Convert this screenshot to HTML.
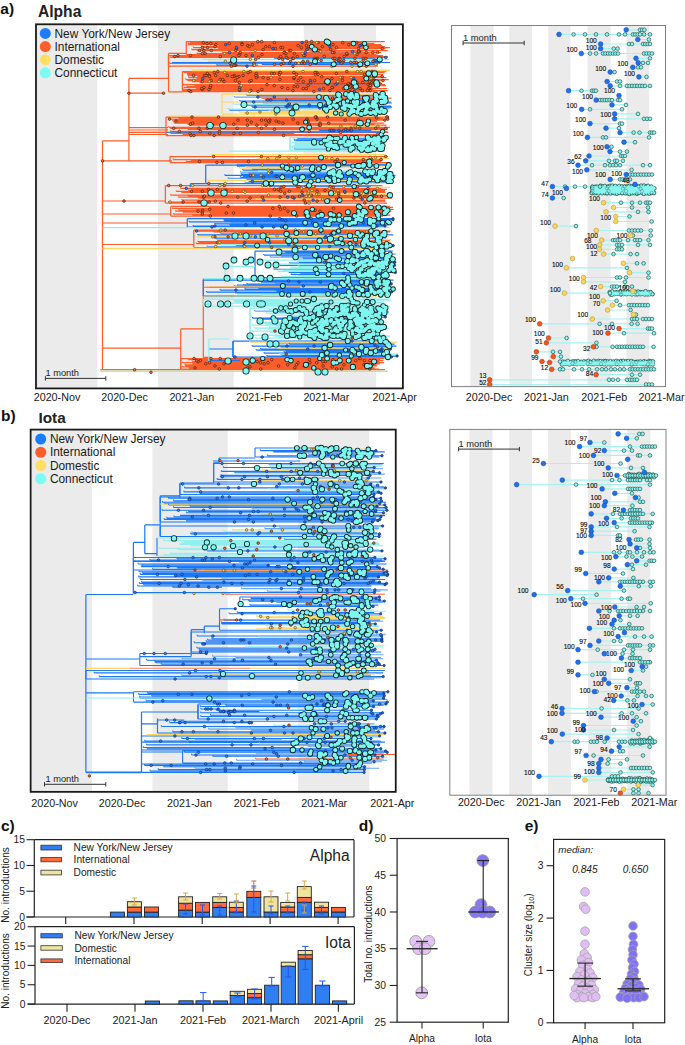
<!DOCTYPE html>
<html><head><meta charset="utf-8"><style>
html,body{margin:0;padding:0;background:#fff;width:685px;height:1045px;overflow:hidden}
svg{display:block;font-family:"Liberation Sans",sans-serif}
</style></head><body>
<svg width="685" height="1045" viewBox="0 0 685 1045" font-family="Liberation Sans, sans-serif">
<rect width="685" height="1045" fill="#fff"/>
<rect x="37.00" y="25.30" width="60.30" height="362.10" fill="#ebebeb"/>
<rect x="158.00" y="25.30" width="75.70" height="362.10" fill="#ebebeb"/>
<rect x="303.70" y="25.30" width="72.30" height="362.10" fill="#ebebeb"/>
<rect x="470.40" y="26.00" width="23.10" height="360.30" fill="#ebebeb"/>
<rect x="509.30" y="26.00" width="22.70" height="360.30" fill="#ebebeb"/>
<rect x="548.20" y="26.00" width="22.30" height="360.30" fill="#ebebeb"/>
<rect x="587.50" y="26.00" width="23.10" height="360.30" fill="#ebebeb"/>
<rect x="626.40" y="26.00" width="22.70" height="360.30" fill="#ebebeb"/>
<rect x="31.40" y="430.40" width="60.60" height="360.70" fill="#ebebeb"/>
<rect x="152.40" y="430.40" width="75.30" height="360.70" fill="#ebebeb"/>
<rect x="298.20" y="430.40" width="71.10" height="360.70" fill="#ebebeb"/>
<rect x="469.40" y="429.90" width="23.10" height="364.80" fill="#ebebeb"/>
<rect x="509.20" y="429.90" width="22.80" height="364.80" fill="#ebebeb"/>
<rect x="547.90" y="429.90" width="23.00" height="364.80" fill="#ebebeb"/>
<rect x="588.10" y="429.90" width="23.00" height="364.80" fill="#ebebeb"/>
<rect x="627.20" y="429.90" width="23.10" height="364.80" fill="#ebebeb"/>
<path d="M102.5 140.8L102.5 369.7M128.9 78.4L128.9 160.9M102.5 140.8L128.9 140.8M128.9 78.4L168.5 78.4M168.5 53.4L168.5 91.8M128.9 93.2L163.6 93.2M168.5 53.4L186.3 53.4M168.5 91.8L182.4 91.8M128.9 127.7L168.0 127.7M128.9 130.0L168.0 130.0M128.9 132.3L168.0 132.3M128.9 134.5L168.0 134.5M102.5 160.9L172.0 160.9M197.0 41.6L345.0 41.6M124.0 201.0L165.4 201.0M102.5 201.0L124.0 201.0M102.5 214.0L170.7 214.0M102.5 223.0L187.3 223.0M102.5 244.5L193.8 244.5M203.3 278.5L203.3 357.7M180.7 328.9L203.3 328.9M102.5 348.2L180.7 348.2M180.7 328.9L180.7 368.8M203.3 357.4L210.0 357.4" stroke="#fd5d2b" stroke-width="1.2" fill="none"/>
<path d="M186.3 41.6L186.3 54.5M186.3 41.6L384.6 41.6M190.1 42.6L365.4 42.6M188.4 43.6L374.2 43.6M188.1 44.6L381.1 44.6M218.4 45.6L382.2 45.6M201.2 46.6L384.8 46.6M193.2 47.6L390.0 47.6M218.3 48.5L385.6 48.5M191.8 49.5L336.1 49.5M197.2 50.5L387.8 50.5M222.4 52.5L381.2 52.5M197.1 53.5L369.6 53.5M186.3 54.5L376.5 54.5M168.5 55.5L168.5 66.2M168.5 55.5L383.0 55.5M172.4 56.5L387.7 56.5M170.3 57.4L387.8 57.4M169.6 63.3L380.4 63.3M168.5 66.2L377.9 66.2M182.4 71.5L182.4 91.5M182.4 71.5L386.4 71.5M184.1 72.5L384.6 72.5M187.9 73.5L377.9 73.5M187.4 74.5L383.1 74.5M188.0 75.5L256.7 75.5M197.6 76.5L383.8 76.5M188.5 77.5L386.5 77.5M196.9 78.5L375.1 78.5M185.8 79.5L388.7 79.5M187.6 80.5L383.6 80.5M192.3 81.5L376.8 81.5M199.8 82.5L381.0 82.5M183.0 84.5L385.0 84.5M194.8 85.5L386.1 85.5M186.8 86.5L373.0 86.5M184.1 87.5L370.4 87.5M196.2 88.5L387.2 88.5M183.2 89.5L373.2 89.5M183.0 90.5L387.7 90.5M182.4 91.5L377.5 91.5M257.9 96.0L387.0 96.0M261.6 98.0L391.5 98.0M266.1 99.0L387.1 99.0M166.0 117.0L166.0 135.5M166.0 117.0L388.6 117.0M178.5 118.0L382.8 118.0M168.7 119.1L387.9 119.1M174.2 120.1L385.4 120.1M172.8 121.1L377.0 121.1M177.0 122.1L309.9 122.1M174.1 123.2L384.3 123.2M187.6 124.2L374.7 124.2M189.7 125.2L386.5 125.2M168.8 127.3L389.9 127.3M170.2 128.3L387.9 128.3M187.8 129.3L387.8 129.3M170.4 131.4L387.5 131.4M176.1 132.4L388.3 132.4M170.9 133.4L294.2 133.4M183.0 134.5L382.5 134.5M166.0 135.5L388.1 135.5M170.0 156.5L170.0 162.5M170.0 156.5L387.8 156.5M173.3 159.5L381.1 159.5M191.0 160.5L382.4 160.5M186.2 161.5L381.2 161.5M170.0 162.5L388.9 162.5M165.4 185.5L165.4 203.0M165.4 185.5L382.4 185.5M180.7 188.4L381.4 188.4M191.6 189.4L386.9 189.4M188.5 190.4L385.0 190.4M176.2 191.3L385.0 191.3M181.4 192.3L385.5 192.3M170.6 195.2L390.4 195.2M188.1 196.2L388.0 196.2M178.5 197.2L383.1 197.2M198.2 198.1L391.9 198.1M181.9 200.1L385.2 200.1M197.2 201.1L385.3 201.1M168.6 202.0L210.2 202.0M165.4 203.0L387.2 203.0M170.7 206.4L170.7 216.0M170.7 206.4L389.9 206.4M209.6 207.4L393.1 207.4M172.4 208.3L388.5 208.3M195.9 209.3L393.5 209.3M178.8 210.2L389.1 210.2M175.6 211.2L391.4 211.2M183.0 212.2L387.3 212.2M209.9 213.1L387.9 213.1M173.5 214.1L382.8 214.1M192.5 215.0L390.3 215.0M170.7 216.0L383.0 216.0M193.8 230.0L193.8 247.5M193.8 230.0L378.8 230.0M196.1 231.0L390.6 231.0M213.7 231.9L390.2 231.9M238.4 232.9L386.7 232.9M221.0 233.9L383.0 233.9M217.8 240.7L390.1 240.7M198.0 241.7L382.2 241.7M199.0 242.6L390.7 242.6M196.3 243.6L390.1 243.6M193.8 247.5L388.4 247.5M180.7 358.5L180.7 369.0M180.7 358.5L384.5 358.5M188.2 359.6L380.0 359.6M195.7 360.6L383.4 360.6M192.3 361.6L379.5 361.6M182.6 362.7L384.1 362.7M192.7 363.8L380.1 363.8M184.9 364.8L376.5 364.8M185.7 365.9L377.1 365.9M182.2 366.9L372.3 366.9M189.0 367.9L374.7 367.9M180.7 369.0L378.9 369.0" stroke="#fd5d2b" stroke-width="1.25" fill="none"/>
<path d="M190.1 41.6L190.1 42.6M188.4 42.6L188.4 43.6M188.1 43.6L188.1 44.6M218.4 44.6L218.4 45.6M201.2 45.6L201.2 46.6M193.2 46.6L193.2 47.6M218.3 47.6L218.3 48.5M191.8 48.5L191.8 49.5M197.2 49.5L197.2 50.5M222.4 51.5L222.4 52.5M197.1 52.5L197.1 53.5M172.4 55.5L172.4 56.5M170.3 56.5L170.3 57.4M169.6 62.3L169.6 63.3M184.1 71.5L184.1 72.5M187.9 72.5L187.9 73.5M187.4 73.5L187.4 74.5M188.0 74.5L188.0 75.5M197.6 75.5L197.6 76.5M188.5 76.5L188.5 77.5M196.9 77.5L196.9 78.5M185.8 78.5L185.8 79.5M187.6 79.5L187.6 80.5M192.3 80.5L192.3 81.5M199.8 81.5L199.8 82.5M183.0 83.5L183.0 84.5M194.8 84.5L194.8 85.5M186.8 85.5L186.8 86.5M184.1 86.5L184.1 87.5M196.2 87.5L196.2 88.5M183.2 88.5L183.2 89.5M183.0 89.5L183.0 90.5M257.9 95.0L257.9 96.0M261.6 97.0L261.6 98.0M266.1 98.0L266.1 99.0M178.5 117.0L178.5 118.0M168.7 118.0L168.7 119.1M174.2 119.1L174.2 120.1M172.8 120.1L172.8 121.1M177.0 121.1L177.0 122.1M174.1 122.1L174.1 123.2M187.6 123.2L187.6 124.2M189.7 124.2L189.7 125.2M168.8 126.2L168.8 127.3M170.2 127.3L170.2 128.3M187.8 128.3L187.8 129.3M170.4 130.4L170.4 131.4M176.1 131.4L176.1 132.4M170.9 132.4L170.9 133.4M183.0 133.4L183.0 134.5M173.3 158.5L173.3 159.5M191.0 159.5L191.0 160.5M186.2 160.5L186.2 161.5M180.7 187.4L180.7 188.4M191.6 188.4L191.6 189.4M188.5 189.4L188.5 190.4M176.2 190.4L176.2 191.3M181.4 191.3L181.4 192.3M170.6 194.2L170.6 195.2M188.1 195.2L188.1 196.2M178.5 196.2L178.5 197.2M198.2 197.2L198.2 198.1M181.9 199.1L181.9 200.1M197.2 200.1L197.2 201.1M168.6 201.1L168.6 202.0M209.6 206.4L209.6 207.4M172.4 207.4L172.4 208.3M195.9 208.3L195.9 209.3M178.8 209.3L178.8 210.2M175.6 210.2L175.6 211.2M183.0 211.2L183.0 212.2M209.9 212.2L209.9 213.1M173.5 213.1L173.5 214.1M192.5 214.1L192.5 215.0M196.1 230.0L196.1 231.0M213.7 231.0L213.7 231.9M238.4 231.9L238.4 232.9M221.0 232.9L221.0 233.9M217.8 239.7L217.8 240.7M198.0 240.7L198.0 241.7M199.0 241.7L199.0 242.6M196.3 242.6L196.3 243.6M188.2 358.5L188.2 359.6M195.7 359.6L195.7 360.6M192.3 360.6L192.3 361.6M182.6 361.6L182.6 362.7M192.7 362.7L192.7 363.8M184.9 363.8L184.9 364.8M185.7 364.8L185.7 365.9M182.2 365.9L182.2 366.9M189.0 366.9L189.0 367.9" stroke="#fd5d2b" stroke-width="1.125" fill="none"/>
<path d="M310.2 50.5L310.2 51.5M234.4 96.0L234.4 97.0M262.8 102.0L262.8 103.0M281.0 107.0L281.0 108.0M293.9 138.5L293.9 139.6M240.4 171.2L240.4 172.2M248.8 172.2L248.8 173.2M228.0 177.3L228.0 178.4M245.1 181.4L245.1 182.5M231.5 221.8L231.5 222.8M216.5 237.8L216.5 238.8M207.0 245.6L207.0 246.5M281.0 253.0L281.0 254.1M280.9 255.1L280.9 256.1M270.3 256.1L270.3 257.1M296.1 258.1L296.1 259.2M273.7 268.3L273.7 269.3M300.7 272.4L300.7 273.4M275.1 282.0L275.1 283.0M243.6 284.0L243.6 285.0M234.3 285.0L234.3 286.0M254.6 310.0L254.6 311.0M275.7 342.0L275.7 343.0M269.5 344.0L269.5 345.0" stroke="#62a6f6" stroke-width="1.125" fill="none"/>
<path d="M310.2 51.5L362.7 51.5M234.4 97.0L385.0 97.0M262.8 103.0L391.7 103.0M281.0 108.0L390.7 108.0M293.9 139.6L384.8 139.6M240.4 172.2L392.4 172.2M248.8 173.2L383.6 173.2M228.0 178.4L390.6 178.4M245.1 182.5L388.3 182.5M231.5 222.8L392.6 222.8M216.5 238.8L378.6 238.8M207.0 246.5L387.2 246.5M281.0 254.1L395.9 254.1M280.9 256.1L392.4 256.1M270.3 257.1L326.3 257.1M296.1 259.2L393.7 259.2M273.7 269.3L390.6 269.3M300.7 273.4L387.8 273.4M275.1 283.0L393.1 283.0M243.6 285.0L390.8 285.0M234.3 286.0L386.7 286.0M254.6 311.0L384.8 311.0M275.7 343.0L382.9 343.0M269.5 345.0L391.8 345.0" stroke="#62a6f6" stroke-width="1.25" fill="none"/>
<path d="M274.5 57.4L274.5 58.4M261.9 63.3L261.9 64.3M216.8 64.3L216.8 65.2M294.9 82.5L294.9 83.5M246.5 94.0L246.5 95.0M265.2 99.0L265.2 100.0M239.8 100.0L239.8 101.0M243.8 101.0L243.8 102.0M240.4 104.0L240.4 105.0M284.4 105.0L284.4 106.0M252.0 106.0L252.0 107.0M229.6 109.0L229.6 110.0M319.4 129.3L319.4 130.4M297.3 137.5L297.3 138.5M294.6 139.6L294.6 140.6M294.6 147.9L294.6 149.0M236.9 165.0L236.9 166.0M252.3 168.1L252.3 169.1M242.8 169.1L242.8 170.1M241.2 173.2L241.2 174.2M224.8 174.2L224.8 175.3M243.2 175.3L243.2 176.3M240.4 176.3L240.4 177.3M246.9 178.4L246.9 179.4M248.9 180.4L248.9 181.4M270.9 185.5L270.9 186.5M224.0 218.7L224.0 219.7M224.3 219.7L224.3 220.8M189.1 220.8L189.1 221.8M214.9 222.8L214.9 223.9M229.9 223.9L229.9 224.9M193.2 224.9L193.2 226.0M197.9 233.9L197.9 234.9M214.7 236.8L214.7 237.8M236.1 244.6L236.1 245.6M285.3 251.0L285.3 252.0M278.5 252.0L278.5 253.0M263.8 254.1L263.8 255.1M303.0 257.1L303.0 258.1M299.2 261.2L299.2 262.2M289.7 262.2L289.7 263.2M279.8 264.2L279.8 265.3M289.0 271.4L289.0 272.4M291.2 273.4L291.2 274.4M256.7 280.0L256.7 281.0M261.1 281.0L261.1 282.0M247.0 283.0L247.0 284.0M258.4 287.0L258.4 288.0M245.0 288.0L245.0 289.0M220.1 289.0L220.1 290.0M276.3 290.0L276.3 291.0M206.5 291.0L206.5 292.0M235.3 292.0L235.3 293.0M278.6 311.0L278.6 312.0M290.8 316.0L290.8 317.0M252.5 317.0L252.5 318.0M259.2 318.0L259.2 319.0M288.5 319.0L288.5 320.0M289.3 343.0L289.3 344.0M252.1 345.0L252.1 346.0M280.7 346.0L280.7 347.0M260.7 348.0L260.7 349.0M256.2 349.0L256.2 350.0M285.9 350.0L285.9 351.0M284.1 351.0L284.1 352.0M264.1 352.0L264.1 353.0M281.8 354.0L281.8 355.0M266.9 355.0L266.9 356.0" stroke="#1a78f6" stroke-width="1.125" fill="none"/>
<path d="M274.5 58.4L374.6 58.4M261.9 64.3L377.8 64.3M216.8 65.2L257.9 65.2M294.9 83.5L382.1 83.5M246.5 95.0L383.5 95.0M265.2 100.0L385.9 100.0M239.8 101.0L385.9 101.0M243.8 102.0L391.3 102.0M240.4 105.0L376.5 105.0M284.4 106.0L391.1 106.0M252.0 107.0L391.9 107.0M229.6 110.0L299.8 110.0M319.4 130.4L371.4 130.4M297.3 138.5L381.3 138.5M294.6 140.6L380.1 140.6M294.6 149.0L382.8 149.0M205.7 165.0L205.7 183.5M205.7 165.0L391.2 165.0M236.9 166.0L379.1 166.0M252.3 169.1L318.8 169.1M242.8 170.1L296.4 170.1M241.2 174.2L391.4 174.2M224.8 175.3L395.5 175.3M243.2 176.3L394.8 176.3M240.4 177.3L395.1 177.3M246.9 179.4L387.2 179.4M248.9 181.4L393.8 181.4M205.7 183.5L271.7 183.5M270.9 186.5L371.1 186.5M187.3 218.7L187.3 227.0M187.3 218.7L393.0 218.7M224.0 219.7L393.0 219.7M224.3 220.8L388.1 220.8M189.1 221.8L391.4 221.8M214.9 223.9L380.6 223.9M229.9 224.9L388.3 224.9M193.2 226.0L385.0 226.0M187.3 227.0L330.6 227.0M197.9 234.9L393.2 234.9M214.7 237.8L386.0 237.8M236.1 245.6L393.2 245.6M255.0 251.0L255.0 277.5M255.0 251.0L392.8 251.0M285.3 252.0L385.7 252.0M278.5 253.0L384.5 253.0M263.8 255.1L385.9 255.1M303.0 258.1L391.0 258.1M299.2 262.2L394.8 262.2M289.7 263.2L391.8 263.2M279.8 265.3L394.5 265.3M289.0 272.4L395.4 272.4M291.2 274.4L382.2 274.4M255.0 277.5L386.1 277.5M203.3 280.0L203.3 296.0M203.3 280.0L393.6 280.0M256.7 281.0L388.5 281.0M261.1 282.0L388.4 282.0M247.0 284.0L391.1 284.0M258.4 288.0L391.0 288.0M245.0 289.0L395.2 289.0M220.1 290.0L386.4 290.0M276.3 291.0L389.9 291.0M206.5 292.0L391.6 292.0M235.3 293.0L385.8 293.0M203.3 296.0L360.8 296.0M278.6 312.0L389.0 312.0M290.8 317.0L385.3 317.0M252.5 318.0L316.7 318.0M259.2 319.0L374.8 319.0M288.5 320.0L378.8 320.0M233.0 341.0L233.0 357.0M233.0 341.0L386.4 341.0M289.3 344.0L394.5 344.0M252.1 346.0L396.4 346.0M280.7 347.0L390.7 347.0M260.7 349.0L390.4 349.0M256.2 350.0L380.6 350.0M285.9 351.0L382.1 351.0M284.1 352.0L390.0 352.0M264.1 353.0L380.5 353.0M281.8 355.0L389.7 355.0M266.9 356.0L397.1 356.0M233.0 357.0L391.4 357.0" stroke="#1a78f6" stroke-width="1.25" fill="none"/>
<path d="M203.6 58.4L203.6 59.4M304.1 59.4L304.1 60.4M233.4 103.0L233.4 104.0M228.1 108.0L228.1 109.0M292.2 141.7L292.2 142.7M295.0 142.7L295.0 143.8M294.7 143.8L294.7 144.8M293.2 144.8L293.2 145.8M292.0 145.8L292.0 146.9M292.0 146.9L292.0 147.9M258.8 170.1L258.8 171.2M220.9 243.6L220.9 244.6M259.3 259.2L259.3 260.2M296.8 260.2L296.8 261.2M269.8 263.2L269.8 264.2M298.2 265.3L298.2 266.3M291.2 266.3L291.2 267.3M289.6 267.3L289.6 268.3M282.0 269.3L282.0 270.4M277.8 270.4L277.8 271.4M297.7 274.4L297.7 275.5M281.2 275.5L281.2 276.5M236.5 293.0L236.5 294.0M261.5 294.0L261.5 295.0M233.9 299.0L233.9 300.0M234.0 300.0L234.0 301.0M235.0 301.0L235.0 302.0M223.8 302.0L223.8 303.0M241.6 303.0L241.6 304.0M249.7 304.0L249.7 305.0M294.8 308.0L294.8 309.0M270.0 309.0L270.0 310.0M266.5 312.0L266.5 313.0M299.0 313.0L299.0 314.0M272.7 314.0L272.7 315.0M292.4 315.0L292.4 316.0M283.1 320.0L283.1 321.0M258.5 321.0L258.5 322.0M261.8 322.0L261.8 323.0M265.9 323.0L265.9 324.0M252.2 324.0L252.2 325.0M276.7 325.0L276.7 326.0M269.5 326.0L269.5 327.0M254.3 327.0L254.3 328.0M268.2 328.0L268.2 329.0M289.3 329.0L289.3 330.0M252.2 330.0L252.2 331.0M269.8 331.0L269.8 332.0M278.4 332.0L278.4 333.0M294.5 333.0L294.5 334.0M252.0 334.0L252.0 335.0M273.4 335.0L273.4 336.0M279.1 336.0L279.1 337.0M280.0 353.0L280.0 354.0" stroke="#8ff0ee" stroke-width="1.125" fill="none"/>
<path d="M203.6 59.4L389.6 59.4M304.1 60.4L383.0 60.4M233.4 104.0L377.6 104.0M228.1 109.0L390.4 109.0M290.0 137.5L290.0 150.0M290.0 137.5L386.7 137.5M292.2 142.7L381.7 142.7M295.0 143.8L375.9 143.8M294.7 144.8L377.9 144.8M293.2 145.8L384.9 145.8M292.0 146.9L379.7 146.9M292.0 147.9L382.7 147.9M290.0 150.0L382.7 150.0M258.8 171.2L387.2 171.2M220.9 244.6L383.9 244.6M259.3 260.2L393.4 260.2M296.8 261.2L392.5 261.2M269.8 264.2L396.3 264.2M298.2 266.3L391.3 266.3M291.2 267.3L389.3 267.3M289.6 268.3L391.7 268.3M282.0 270.4L394.5 270.4M277.8 271.4L394.6 271.4M297.7 275.5L389.9 275.5M281.2 276.5L381.1 276.5M236.5 294.0L390.0 294.0M261.5 295.0L388.7 295.0M203.3 299.0L203.3 306.0M203.3 299.0L389.5 299.0M233.9 300.0L391.1 300.0M234.0 301.0L309.1 301.0M235.0 302.0L384.2 302.0M223.8 303.0L382.3 303.0M241.6 304.0L319.6 304.0M249.7 305.0L380.5 305.0M203.3 306.0L389.6 306.0M250.0 308.0L250.0 338.0M250.0 308.0L386.2 308.0M294.8 309.0L380.6 309.0M270.0 310.0L381.6 310.0M266.5 313.0L389.3 313.0M299.0 314.0L369.8 314.0M272.7 315.0L387.1 315.0M292.4 316.0L375.1 316.0M283.1 321.0L378.7 321.0M258.5 322.0L385.6 322.0M261.8 323.0L371.1 323.0M265.9 324.0L376.5 324.0M252.2 325.0L378.1 325.0M276.7 326.0L372.4 326.0M269.5 327.0L384.4 327.0M254.3 328.0L388.8 328.0M268.2 329.0L387.3 329.0M289.3 330.0L383.5 330.0M252.2 331.0L377.2 331.0M269.8 332.0L313.3 332.0M278.4 333.0L306.6 333.0M294.5 334.0L384.0 334.0M252.0 335.0L371.5 335.0M273.4 336.0L390.0 336.0M279.1 337.0L375.8 337.0M250.0 338.0L387.9 338.0M280.0 354.0L397.9 354.0" stroke="#8ff0ee" stroke-width="1.25" fill="none"/>
<path d="M208.6 60.4L208.6 61.3M320.0 61.3L320.0 62.3M269.6 110.0L269.6 111.0M239.2 111.0L239.2 112.0M243.9 112.0L243.9 113.0M319.0 125.2L319.0 126.2M295.4 140.6L295.4 141.7M282.1 156.5L282.1 157.5M258.8 157.5L258.8 158.5M245.9 166.0L245.9 167.1M239.5 167.1L239.5 168.1M207.5 179.4L207.5 180.4M259.0 186.5L259.0 187.4M267.9 192.3L267.9 193.3M313.7 193.3L313.7 194.2M256.0 198.1L256.0 199.1M240.7 234.9L240.7 235.8M197.6 235.8L197.6 236.8M238.0 238.8L238.0 239.7M210.1 286.0L210.1 287.0M249.9 341.0L249.9 342.0M277.4 347.0L277.4 348.0" stroke="#fcd862" stroke-width="1.125" fill="none"/>
<path d="M208.6 61.3L382.6 61.3M320.0 62.3L376.5 62.3M222.0 94.0L222.0 114.0M222.0 94.0L385.5 94.0M269.6 111.0L389.7 111.0M239.2 112.0L387.0 112.0M243.9 113.0L385.4 113.0M222.0 114.0L385.4 114.0M319.0 126.2L380.9 126.2M295.4 141.7L368.1 141.7M282.1 157.5L382.4 157.5M258.8 158.5L388.9 158.5M245.9 167.1L388.9 167.1M239.5 168.1L304.3 168.1M207.5 180.4L389.5 180.4M259.0 187.4L390.1 187.4M267.9 193.3L371.6 193.3M313.7 194.2L386.9 194.2M256.0 199.1L379.9 199.1M240.7 235.8L389.5 235.8M197.6 236.8L376.8 236.8M238.0 239.7L391.0 239.7M210.1 287.0L384.6 287.0M249.9 342.0L397.1 342.0M277.4 348.0L391.1 348.0" stroke="#fcd862" stroke-width="1.25" fill="none"/>
<path d="M172.0 62.5L390.0 62.5M190.3 183.7L205.7 183.7M190.3 183.7L190.3 187.2M237.0 285.0L390.0 285.0M208.9 349.0L233.0 349.0M233.0 341.0L233.0 357.0M208.9 360.5L240.0 360.5" stroke="#1a78f6" stroke-width="1.2" fill="none"/>
<path d="M191.5 70.4L390.0 70.4" stroke="#fcd862" stroke-width="1.6" fill="none"/>
<path d="M221.0 102.0L380.0 102.0M170.0 116.0L385.0 116.0M212.0 154.6L385.0 154.6M212.0 154.6L212.0 157.0M203.3 297.0L385.0 297.0" stroke="#fcd862" stroke-width="1.2" fill="none"/>
<path d="M166.0 132.2L385.0 132.2M236.7 164.3L390.0 164.3" stroke="#1a78f6" stroke-width="1.1" fill="none"/>
<path d="M290.0 150.0L290.0 137.5" stroke="#8ff0ee" stroke-width="1.1" fill="none"/>
<path d="M228.8 151.1L385.0 151.1M102.5 227.6L390.0 227.6M225.2 266.3L225.2 278.5M225.2 266.3L255.0 266.3M203.3 278.5L388.0 278.5M250.0 310.0L250.0 336.0M208.9 339.0L208.9 360.9M208.9 339.0L229.0 339.0" stroke="#8ff0ee" stroke-width="1.2" fill="none"/>
<path d="M102.5 248.5L388.0 248.5" stroke="#fcd862" stroke-width="1.3" fill="none"/>
<path d="M203.3 287.3L300.0 287.3" stroke="#fd5d2b" stroke-width="1.1" fill="none"/>
<path d="M100.5 369.7L385.0 369.7" stroke="#fd5d2b" stroke-width="1.3" fill="none"/>
<path d="M100.5 371.3L388.0 371.3" stroke="#c5e3a0" stroke-width="1.6" fill="none"/>
<g fill="#fd6a35" stroke="#3a1a0a" stroke-width="0.65"><circle cx="128.9" cy="93.2" r="1.30"/><circle cx="163.6" cy="93.2" r="1.30"/><circle cx="102.5" cy="160.9" r="1.30"/><circle cx="319.5" cy="50.5" r="1.30"/><circle cx="229.3" cy="43.6" r="1.30"/><circle cx="207.6" cy="47.6" r="1.30"/><circle cx="318.5" cy="50.5" r="1.30"/><circle cx="269.4" cy="46.6" r="1.30"/><circle cx="289.4" cy="50.5" r="1.30"/><circle cx="262.0" cy="54.5" r="1.30"/><circle cx="328.6" cy="44.6" r="1.30"/><circle cx="359.5" cy="51.5" r="1.30"/><circle cx="366.8" cy="47.6" r="1.30"/><circle cx="202.5" cy="47.6" r="1.30"/><circle cx="330.7" cy="49.5" r="1.30"/><circle cx="284.6" cy="52.5" r="1.30"/><circle cx="290.8" cy="50.5" r="1.30"/><circle cx="377.6" cy="52.5" r="1.30"/><circle cx="211.4" cy="50.5" r="1.30"/><circle cx="333.1" cy="44.6" r="1.30"/><circle cx="280.9" cy="47.6" r="1.30"/><circle cx="241.9" cy="43.6" r="1.30"/><circle cx="207.0" cy="43.6" r="1.30"/><circle cx="382.3" cy="48.5" r="1.30"/><circle cx="203.9" cy="50.5" r="1.30"/><circle cx="306.5" cy="41.6" r="1.30"/><circle cx="318.2" cy="42.6" r="1.30"/><circle cx="203.3" cy="42.6" r="1.30"/><circle cx="334.1" cy="52.5" r="1.30"/><circle cx="265.8" cy="46.6" r="1.30"/><circle cx="342.8" cy="42.6" r="1.30"/><circle cx="202.4" cy="53.5" r="1.30"/><circle cx="311.6" cy="41.6" r="1.30"/><circle cx="199.6" cy="50.5" r="1.30"/><circle cx="336.5" cy="47.6" r="1.30"/><circle cx="332.6" cy="52.5" r="1.30"/><circle cx="358.5" cy="48.5" r="1.30"/><circle cx="285.9" cy="53.5" r="1.30"/><circle cx="274.4" cy="42.6" r="1.30"/><circle cx="240.3" cy="52.5" r="1.30"/><circle cx="358.5" cy="51.5" r="1.30"/><circle cx="261.6" cy="41.6" r="1.30"/><circle cx="235.8" cy="50.5" r="1.30"/><circle cx="322.4" cy="46.6" r="1.30"/><circle cx="252.5" cy="44.6" r="1.30"/><circle cx="216.0" cy="44.6" r="1.30"/><circle cx="357.1" cy="54.5" r="1.30"/><circle cx="356.7" cy="42.6" r="1.30"/><circle cx="210.8" cy="43.6" r="1.30"/><circle cx="348.8" cy="44.6" r="1.30"/><circle cx="263.1" cy="49.5" r="1.30"/><circle cx="347.1" cy="54.5" r="1.30"/><circle cx="214.9" cy="46.6" r="1.30"/><circle cx="303.3" cy="54.5" r="1.30"/><circle cx="311.8" cy="45.6" r="1.30"/><circle cx="294.4" cy="53.5" r="1.30"/><circle cx="282.7" cy="47.6" r="1.30"/><circle cx="239.7" cy="54.5" r="1.30"/><circle cx="205.2" cy="53.5" r="1.30"/><circle cx="236.5" cy="48.5" r="1.30"/><circle cx="247.7" cy="45.6" r="1.30"/><circle cx="307.7" cy="48.5" r="1.30"/><circle cx="242.0" cy="44.6" r="1.30"/><circle cx="372.8" cy="52.5" r="1.30"/><circle cx="366.3" cy="52.5" r="1.30"/><circle cx="284.0" cy="52.5" r="1.30"/><circle cx="301.4" cy="47.6" r="1.30"/><circle cx="358.7" cy="51.5" r="1.30"/><circle cx="306.3" cy="45.6" r="1.30"/><circle cx="249.3" cy="46.6" r="1.30"/><circle cx="257.8" cy="41.6" r="1.30"/><circle cx="275.5" cy="48.5" r="1.30"/><circle cx="298.2" cy="45.6" r="1.30"/><circle cx="346.7" cy="53.5" r="1.30"/><circle cx="304.4" cy="63.3" r="1.30"/><circle cx="366.0" cy="58.4" r="1.30"/><circle cx="375.3" cy="60.4" r="1.30"/><circle cx="374.4" cy="60.4" r="1.30"/><circle cx="363.3" cy="58.4" r="1.30"/><circle cx="287.8" cy="58.4" r="1.30"/><circle cx="303.1" cy="61.3" r="1.30"/><circle cx="314.8" cy="58.4" r="1.30"/><circle cx="190.5" cy="55.5" r="1.30"/><circle cx="324.2" cy="56.5" r="1.30"/><circle cx="343.8" cy="60.4" r="1.30"/><circle cx="354.8" cy="58.4" r="1.30"/><circle cx="178.0" cy="55.5" r="1.30"/><circle cx="360.5" cy="63.3" r="1.30"/><circle cx="293.0" cy="58.4" r="1.30"/><circle cx="297.3" cy="56.5" r="1.30"/><circle cx="235.8" cy="65.2" r="1.30"/><circle cx="335.0" cy="60.4" r="1.30"/><circle cx="338.1" cy="60.4" r="1.30"/><circle cx="305.0" cy="55.5" r="1.30"/><circle cx="292.6" cy="58.4" r="1.30"/><circle cx="281.1" cy="64.3" r="1.30"/><circle cx="238.9" cy="55.5" r="1.30"/><circle cx="307.7" cy="61.3" r="1.30"/><circle cx="255.6" cy="59.4" r="1.30"/><circle cx="231.7" cy="61.3" r="1.30"/><circle cx="316.2" cy="63.3" r="1.30"/><circle cx="258.6" cy="57.4" r="1.30"/><circle cx="344.1" cy="56.5" r="1.30"/><circle cx="174.7" cy="56.5" r="1.30"/><circle cx="253.9" cy="65.2" r="1.30"/><circle cx="379.3" cy="59.4" r="1.30"/><circle cx="321.2" cy="60.4" r="1.30"/><circle cx="286.3" cy="57.4" r="1.30"/><circle cx="356.3" cy="62.3" r="1.30"/><circle cx="379.1" cy="61.3" r="1.30"/><circle cx="274.5" cy="64.3" r="1.30"/><circle cx="342.7" cy="62.3" r="1.30"/><circle cx="339.3" cy="58.4" r="1.30"/><circle cx="283.7" cy="63.3" r="1.30"/><circle cx="235.1" cy="65.2" r="1.30"/><circle cx="295.7" cy="63.3" r="1.30"/><circle cx="290.6" cy="61.3" r="1.30"/><circle cx="350.7" cy="62.3" r="1.30"/><circle cx="373.0" cy="61.3" r="1.30"/><circle cx="253.9" cy="63.3" r="1.30"/><circle cx="230.1" cy="63.3" r="1.30"/><circle cx="365.6" cy="63.3" r="1.30"/><circle cx="231.5" cy="66.2" r="1.30"/><circle cx="333.1" cy="58.4" r="1.30"/><circle cx="339.9" cy="61.3" r="1.30"/><circle cx="363.2" cy="60.4" r="1.30"/><circle cx="366.3" cy="66.2" r="1.30"/><circle cx="317.5" cy="58.4" r="1.30"/><circle cx="279.0" cy="58.4" r="1.30"/><circle cx="359.1" cy="66.2" r="1.30"/><circle cx="334.9" cy="58.4" r="1.30"/><circle cx="310.3" cy="64.3" r="1.30"/><circle cx="246.0" cy="55.5" r="1.30"/><circle cx="339.1" cy="60.4" r="1.30"/><circle cx="354.0" cy="62.3" r="1.30"/><circle cx="234.0" cy="65.2" r="1.30"/><circle cx="341.5" cy="63.3" r="1.30"/><circle cx="340.2" cy="59.4" r="1.30"/><circle cx="280.7" cy="56.5" r="1.30"/><circle cx="301.5" cy="63.3" r="1.30"/><circle cx="317.0" cy="59.4" r="1.30"/><circle cx="293.0" cy="66.2" r="1.30"/><circle cx="293.5" cy="58.4" r="1.30"/><circle cx="303.8" cy="55.5" r="1.30"/><circle cx="282.7" cy="59.4" r="1.30"/><circle cx="220.3" cy="56.5" r="1.30"/><circle cx="190.7" cy="91.5" r="1.30"/><circle cx="346.8" cy="71.5" r="1.30"/><circle cx="368.2" cy="84.5" r="1.30"/><circle cx="382.1" cy="76.5" r="1.30"/><circle cx="257.4" cy="76.5" r="1.30"/><circle cx="279.6" cy="72.5" r="1.30"/><circle cx="314.6" cy="80.5" r="1.30"/><circle cx="367.4" cy="76.5" r="1.30"/><circle cx="248.1" cy="72.5" r="1.30"/><circle cx="239.2" cy="82.5" r="1.30"/><circle cx="297.5" cy="86.5" r="1.30"/><circle cx="364.1" cy="76.5" r="1.30"/><circle cx="287.8" cy="88.5" r="1.30"/><circle cx="374.6" cy="83.5" r="1.30"/><circle cx="343.6" cy="88.5" r="1.30"/><circle cx="268.1" cy="78.5" r="1.30"/><circle cx="243.1" cy="75.5" r="1.30"/><circle cx="332.5" cy="87.5" r="1.30"/><circle cx="316.6" cy="72.5" r="1.30"/><circle cx="347.2" cy="85.5" r="1.30"/><circle cx="362.4" cy="90.5" r="1.30"/><circle cx="210.2" cy="87.5" r="1.30"/><circle cx="239.8" cy="90.5" r="1.30"/><circle cx="227.3" cy="75.5" r="1.30"/><circle cx="193.6" cy="75.5" r="1.30"/><circle cx="203.9" cy="87.5" r="1.30"/><circle cx="210.7" cy="85.5" r="1.30"/><circle cx="360.0" cy="88.5" r="1.30"/><circle cx="336.4" cy="73.5" r="1.30"/><circle cx="293.9" cy="72.5" r="1.30"/><circle cx="249.6" cy="81.5" r="1.30"/><circle cx="383.1" cy="80.5" r="1.30"/><circle cx="256.3" cy="73.5" r="1.30"/><circle cx="318.1" cy="74.5" r="1.30"/><circle cx="315.4" cy="74.5" r="1.30"/><circle cx="357.0" cy="83.5" r="1.30"/><circle cx="298.2" cy="80.5" r="1.30"/><circle cx="367.0" cy="77.5" r="1.30"/><circle cx="258.0" cy="91.5" r="1.30"/><circle cx="374.6" cy="80.5" r="1.30"/><circle cx="323.6" cy="88.5" r="1.30"/><circle cx="263.1" cy="77.5" r="1.30"/><circle cx="372.8" cy="80.5" r="1.30"/><circle cx="207.3" cy="73.5" r="1.30"/><circle cx="234.6" cy="75.5" r="1.30"/><circle cx="233.6" cy="76.5" r="1.30"/><circle cx="308.2" cy="85.5" r="1.30"/><circle cx="267.0" cy="84.5" r="1.30"/><circle cx="370.5" cy="84.5" r="1.30"/><circle cx="189.1" cy="90.5" r="1.30"/><circle cx="373.5" cy="81.5" r="1.30"/><circle cx="292.9" cy="90.5" r="1.30"/><circle cx="256.3" cy="77.5" r="1.30"/><circle cx="296.5" cy="74.5" r="1.30"/><circle cx="329.9" cy="90.5" r="1.30"/><circle cx="368.7" cy="88.5" r="1.30"/><circle cx="310.7" cy="82.5" r="1.30"/><circle cx="370.1" cy="87.5" r="1.30"/><circle cx="300.8" cy="77.5" r="1.30"/><circle cx="342.3" cy="77.5" r="1.30"/><circle cx="294.1" cy="86.5" r="1.30"/><circle cx="279.8" cy="79.5" r="1.30"/><circle cx="204.4" cy="75.5" r="1.30"/><circle cx="303.3" cy="88.5" r="1.30"/><circle cx="220.2" cy="79.5" r="1.30"/><circle cx="303.3" cy="81.5" r="1.30"/><circle cx="332.0" cy="78.5" r="1.30"/><circle cx="232.2" cy="76.5" r="1.30"/><circle cx="274.3" cy="73.5" r="1.30"/><circle cx="209.1" cy="75.5" r="1.30"/><circle cx="348.5" cy="83.5" r="1.30"/><circle cx="217.8" cy="71.5" r="1.30"/><circle cx="214.4" cy="72.5" r="1.30"/><circle cx="261.9" cy="89.5" r="1.30"/><circle cx="206.1" cy="75.5" r="1.30"/><circle cx="202.2" cy="81.5" r="1.30"/><circle cx="215.7" cy="75.5" r="1.30"/><circle cx="279.4" cy="74.5" r="1.30"/><circle cx="370.2" cy="90.5" r="1.30"/><circle cx="335.6" cy="84.5" r="1.30"/><circle cx="350.2" cy="84.5" r="1.30"/><circle cx="364.6" cy="74.5" r="1.30"/><circle cx="282.0" cy="87.5" r="1.30"/><circle cx="250.3" cy="71.5" r="1.30"/><circle cx="367.5" cy="90.5" r="1.30"/><circle cx="250.9" cy="90.5" r="1.30"/><circle cx="350.1" cy="89.5" r="1.30"/><circle cx="280.5" cy="72.5" r="1.30"/><circle cx="294.0" cy="78.5" r="1.30"/><circle cx="356.8" cy="82.5" r="1.30"/><circle cx="238.9" cy="76.5" r="1.30"/><circle cx="209.0" cy="89.5" r="1.30"/><circle cx="332.1" cy="87.5" r="1.30"/><circle cx="306.2" cy="88.5" r="1.30"/><circle cx="235.4" cy="80.5" r="1.30"/><circle cx="224.1" cy="81.5" r="1.30"/><circle cx="350.8" cy="85.5" r="1.30"/><circle cx="325.2" cy="82.5" r="1.30"/><circle cx="251.2" cy="80.5" r="1.30"/><circle cx="350.4" cy="86.5" r="1.30"/><circle cx="362.7" cy="82.5" r="1.30"/><circle cx="294.0" cy="77.5" r="1.30"/><circle cx="315.1" cy="72.5" r="1.30"/><circle cx="369.7" cy="81.5" r="1.30"/><circle cx="327.9" cy="84.5" r="1.30"/><circle cx="274.2" cy="85.5" r="1.30"/><circle cx="211.2" cy="80.5" r="1.30"/><circle cx="222.7" cy="79.5" r="1.30"/><circle cx="342.5" cy="80.5" r="1.30"/><circle cx="349.1" cy="87.5" r="1.30"/><circle cx="321.8" cy="76.5" r="1.30"/><circle cx="313.9" cy="91.5" r="1.30"/><circle cx="271.6" cy="73.5" r="1.30"/><circle cx="353.3" cy="87.5" r="1.30"/><circle cx="239.3" cy="89.5" r="1.30"/><circle cx="202.3" cy="89.5" r="1.30"/><circle cx="237.2" cy="77.5" r="1.30"/><circle cx="201.7" cy="88.5" r="1.30"/><circle cx="255.9" cy="75.5" r="1.30"/><circle cx="370.1" cy="85.5" r="1.30"/><circle cx="372.2" cy="71.5" r="1.30"/><circle cx="209.6" cy="76.5" r="1.30"/><circle cx="292.9" cy="109.0" r="1.30"/><circle cx="293.4" cy="109.0" r="1.30"/><circle cx="289.4" cy="104.0" r="1.30"/><circle cx="332.6" cy="98.0" r="1.30"/><circle cx="355.5" cy="127.3" r="1.30"/><circle cx="319.3" cy="125.2" r="1.30"/><circle cx="320.1" cy="123.2" r="1.30"/><circle cx="278.9" cy="122.1" r="1.30"/><circle cx="269.2" cy="122.1" r="1.30"/><circle cx="179.4" cy="131.4" r="1.30"/><circle cx="212.6" cy="125.2" r="1.30"/><circle cx="303.0" cy="128.3" r="1.30"/><circle cx="237.1" cy="128.3" r="1.30"/><circle cx="387.4" cy="117.0" r="1.30"/><circle cx="328.8" cy="123.2" r="1.30"/><circle cx="359.7" cy="128.3" r="1.30"/><circle cx="307.0" cy="119.1" r="1.30"/><circle cx="276.2" cy="121.1" r="1.30"/><circle cx="247.3" cy="120.1" r="1.30"/><circle cx="193.9" cy="135.5" r="1.30"/><circle cx="358.5" cy="120.1" r="1.30"/><circle cx="317.0" cy="119.1" r="1.30"/><circle cx="219.4" cy="131.4" r="1.30"/><circle cx="258.4" cy="132.4" r="1.30"/><circle cx="309.2" cy="131.4" r="1.30"/><circle cx="261.4" cy="128.3" r="1.30"/><circle cx="247.4" cy="125.2" r="1.30"/><circle cx="316.2" cy="117.0" r="1.30"/><circle cx="190.5" cy="124.2" r="1.30"/><circle cx="198.9" cy="128.3" r="1.30"/><circle cx="266.1" cy="125.2" r="1.30"/><circle cx="256.9" cy="125.2" r="1.30"/><circle cx="191.0" cy="135.5" r="1.30"/><circle cx="269.9" cy="120.1" r="1.30"/><circle cx="192.6" cy="123.2" r="1.30"/><circle cx="173.7" cy="128.3" r="1.30"/><circle cx="327.5" cy="117.0" r="1.30"/><circle cx="385.7" cy="128.3" r="1.30"/><circle cx="315.3" cy="117.0" r="1.30"/><circle cx="268.6" cy="121.1" r="1.30"/><circle cx="207.3" cy="128.3" r="1.30"/><circle cx="209.8" cy="133.4" r="1.30"/><circle cx="376.7" cy="118.0" r="1.30"/><circle cx="386.9" cy="117.0" r="1.30"/><circle cx="274.5" cy="129.3" r="1.30"/><circle cx="309.3" cy="124.2" r="1.30"/><circle cx="384.9" cy="120.1" r="1.30"/><circle cx="387.8" cy="119.1" r="1.30"/><circle cx="345.8" cy="129.3" r="1.30"/><circle cx="282.9" cy="123.2" r="1.30"/><circle cx="214.1" cy="135.5" r="1.30"/><circle cx="351.0" cy="128.3" r="1.30"/><circle cx="219.5" cy="133.4" r="1.30"/><circle cx="169.5" cy="119.1" r="1.30"/><circle cx="320.3" cy="125.2" r="1.30"/><circle cx="340.7" cy="132.4" r="1.30"/><circle cx="265.7" cy="120.1" r="1.30"/><circle cx="176.0" cy="121.1" r="1.30"/><circle cx="375.8" cy="128.3" r="1.30"/><circle cx="192.0" cy="117.0" r="1.30"/><circle cx="377.4" cy="134.5" r="1.30"/><circle cx="237.9" cy="120.1" r="1.30"/><circle cx="240.4" cy="133.4" r="1.30"/><circle cx="293.2" cy="119.1" r="1.30"/><circle cx="308.1" cy="121.1" r="1.30"/><circle cx="234.0" cy="133.4" r="1.30"/><circle cx="233.8" cy="124.2" r="1.30"/><circle cx="297.8" cy="123.2" r="1.30"/><circle cx="251.2" cy="122.1" r="1.30"/><circle cx="200.3" cy="131.4" r="1.30"/><circle cx="345.2" cy="120.1" r="1.30"/><circle cx="190.0" cy="133.4" r="1.30"/><circle cx="283.6" cy="135.5" r="1.30"/><circle cx="261.5" cy="120.1" r="1.30"/><circle cx="218.5" cy="117.0" r="1.30"/><circle cx="359.2" cy="146.9" r="1.30"/><circle cx="365.3" cy="147.9" r="1.30"/><circle cx="335.1" cy="161.5" r="1.30"/><circle cx="261.4" cy="156.5" r="1.30"/><circle cx="385.7" cy="156.5" r="1.30"/><circle cx="381.1" cy="159.5" r="1.30"/><circle cx="337.4" cy="159.5" r="1.30"/><circle cx="222.4" cy="162.5" r="1.30"/><circle cx="216.9" cy="162.5" r="1.30"/><circle cx="199.5" cy="161.5" r="1.30"/><circle cx="369.7" cy="162.5" r="1.30"/><circle cx="279.7" cy="156.5" r="1.30"/><circle cx="371.6" cy="159.5" r="1.30"/><circle cx="363.3" cy="159.5" r="1.30"/><circle cx="248.5" cy="161.5" r="1.30"/><circle cx="213.6" cy="156.5" r="1.30"/><circle cx="326.8" cy="179.4" r="1.30"/><circle cx="208.8" cy="183.5" r="1.30"/><circle cx="282.3" cy="175.3" r="1.30"/><circle cx="288.4" cy="165.0" r="1.30"/><circle cx="250.5" cy="175.3" r="1.30"/><circle cx="359.3" cy="175.3" r="1.30"/><circle cx="287.2" cy="170.1" r="1.30"/><circle cx="276.0" cy="176.3" r="1.30"/><circle cx="124.0" cy="201.0" r="1.30"/><circle cx="357.6" cy="186.5" r="1.30"/><circle cx="302.0" cy="192.3" r="1.30"/><circle cx="317.1" cy="191.3" r="1.30"/><circle cx="325.1" cy="190.4" r="1.30"/><circle cx="369.9" cy="197.2" r="1.30"/><circle cx="180.6" cy="185.5" r="1.30"/><circle cx="203.5" cy="197.2" r="1.30"/><circle cx="299.5" cy="196.2" r="1.30"/><circle cx="280.7" cy="191.3" r="1.30"/><circle cx="305.4" cy="203.0" r="1.30"/><circle cx="329.2" cy="200.1" r="1.30"/><circle cx="283.9" cy="186.5" r="1.30"/><circle cx="306.0" cy="186.5" r="1.30"/><circle cx="284.7" cy="193.3" r="1.30"/><circle cx="208.5" cy="189.4" r="1.30"/><circle cx="330.2" cy="186.5" r="1.30"/><circle cx="226.1" cy="190.4" r="1.30"/><circle cx="191.6" cy="191.3" r="1.30"/><circle cx="281.1" cy="187.4" r="1.30"/><circle cx="262.3" cy="197.2" r="1.30"/><circle cx="215.3" cy="201.1" r="1.30"/><circle cx="370.1" cy="198.1" r="1.30"/><circle cx="237.8" cy="197.2" r="1.30"/><circle cx="372.9" cy="196.2" r="1.30"/><circle cx="297.3" cy="186.5" r="1.30"/><circle cx="338.8" cy="195.2" r="1.30"/><circle cx="364.8" cy="203.0" r="1.30"/><circle cx="367.5" cy="193.3" r="1.30"/><circle cx="280.1" cy="197.2" r="1.30"/><circle cx="314.4" cy="186.5" r="1.30"/><circle cx="224.3" cy="185.5" r="1.30"/><circle cx="289.4" cy="191.3" r="1.30"/><circle cx="292.4" cy="197.2" r="1.30"/><circle cx="311.6" cy="195.2" r="1.30"/><circle cx="317.1" cy="201.1" r="1.30"/><circle cx="345.0" cy="192.3" r="1.30"/><circle cx="250.1" cy="198.1" r="1.30"/><circle cx="202.4" cy="191.3" r="1.30"/><circle cx="199.0" cy="202.0" r="1.30"/><circle cx="381.6" cy="196.2" r="1.30"/><circle cx="368.0" cy="188.4" r="1.30"/><circle cx="338.8" cy="193.3" r="1.30"/><circle cx="376.2" cy="196.2" r="1.30"/><circle cx="270.1" cy="185.5" r="1.30"/><circle cx="203.4" cy="203.0" r="1.30"/><circle cx="183.1" cy="202.0" r="1.30"/><circle cx="371.7" cy="196.2" r="1.30"/><circle cx="364.8" cy="196.2" r="1.30"/><circle cx="220.8" cy="203.0" r="1.30"/><circle cx="209.2" cy="202.0" r="1.30"/><circle cx="360.0" cy="194.2" r="1.30"/><circle cx="304.2" cy="200.1" r="1.30"/><circle cx="247.2" cy="201.1" r="1.30"/><circle cx="353.9" cy="198.1" r="1.30"/><circle cx="204.3" cy="196.2" r="1.30"/><circle cx="278.3" cy="189.4" r="1.30"/><circle cx="336.5" cy="199.1" r="1.30"/><circle cx="360.3" cy="197.2" r="1.30"/><circle cx="168.7" cy="185.5" r="1.30"/><circle cx="217.4" cy="189.4" r="1.30"/><circle cx="333.3" cy="187.4" r="1.30"/><circle cx="299.1" cy="186.5" r="1.30"/><circle cx="274.5" cy="189.4" r="1.30"/><circle cx="233.5" cy="213.1" r="1.30"/><circle cx="320.1" cy="211.2" r="1.30"/><circle cx="284.6" cy="208.3" r="1.30"/><circle cx="347.7" cy="212.2" r="1.30"/><circle cx="305.2" cy="215.0" r="1.30"/><circle cx="226.3" cy="213.1" r="1.30"/><circle cx="333.5" cy="208.3" r="1.30"/><circle cx="380.3" cy="208.3" r="1.30"/><circle cx="202.7" cy="210.2" r="1.30"/><circle cx="272.9" cy="208.3" r="1.30"/><circle cx="306.0" cy="215.0" r="1.30"/><circle cx="336.3" cy="216.0" r="1.30"/><circle cx="198.0" cy="211.2" r="1.30"/><circle cx="349.0" cy="211.2" r="1.30"/><circle cx="279.3" cy="206.4" r="1.30"/><circle cx="202.1" cy="212.2" r="1.30"/><circle cx="209.7" cy="209.3" r="1.30"/><circle cx="315.1" cy="210.2" r="1.30"/><circle cx="296.7" cy="216.0" r="1.30"/><circle cx="210.4" cy="216.0" r="1.30"/><circle cx="287.9" cy="211.2" r="1.30"/><circle cx="280.5" cy="209.3" r="1.30"/><circle cx="228.1" cy="206.4" r="1.30"/><circle cx="270.3" cy="216.0" r="1.30"/><circle cx="202.3" cy="214.1" r="1.30"/><circle cx="225.2" cy="230.0" r="1.30"/><circle cx="244.0" cy="245.6" r="1.30"/><circle cx="214.9" cy="236.8" r="1.30"/><circle cx="271.6" cy="247.5" r="1.30"/><circle cx="228.1" cy="236.8" r="1.30"/><circle cx="266.5" cy="237.8" r="1.30"/><circle cx="294.1" cy="243.6" r="1.30"/><circle cx="331.1" cy="233.9" r="1.30"/><circle cx="377.7" cy="247.5" r="1.30"/><circle cx="217.4" cy="242.6" r="1.30"/><circle cx="325.8" cy="261.2" r="1.30"/><circle cx="366.0" cy="260.2" r="1.30"/><circle cx="295.4" cy="333.0" r="1.30"/><circle cx="350.6" cy="324.0" r="1.30"/><circle cx="299.2" cy="310.0" r="1.30"/><circle cx="274.9" cy="331.0" r="1.30"/><circle cx="352.1" cy="338.0" r="1.30"/><circle cx="302.7" cy="332.0" r="1.30"/><circle cx="286.2" cy="354.0" r="1.30"/><circle cx="325.4" cy="361.6" r="1.30"/><circle cx="372.0" cy="364.8" r="1.30"/><circle cx="341.6" cy="369.0" r="1.30"/><circle cx="369.8" cy="369.0" r="1.30"/><circle cx="228.6" cy="361.6" r="1.30"/><circle cx="257.2" cy="361.6" r="1.30"/><circle cx="271.8" cy="359.6" r="1.30"/><circle cx="359.4" cy="358.5" r="1.30"/><circle cx="209.6" cy="362.7" r="1.30"/><circle cx="309.9" cy="362.7" r="1.30"/><circle cx="219.3" cy="369.0" r="1.30"/><circle cx="298.1" cy="362.7" r="1.30"/><circle cx="264.2" cy="363.8" r="1.30"/><circle cx="250.0" cy="366.9" r="1.30"/><circle cx="323.1" cy="365.9" r="1.30"/><circle cx="230.3" cy="361.6" r="1.30"/><circle cx="223.9" cy="363.8" r="1.30"/><circle cx="322.9" cy="361.6" r="1.30"/><circle cx="215.0" cy="365.9" r="1.30"/><circle cx="364.0" cy="364.8" r="1.30"/><circle cx="296.5" cy="364.8" r="1.30"/><circle cx="370.0" cy="360.6" r="1.30"/><circle cx="375.5" cy="361.6" r="1.30"/><circle cx="278.5" cy="365.9" r="1.30"/><circle cx="195.0" cy="367.9" r="1.30"/><circle cx="268.0" cy="362.7" r="1.30"/><circle cx="304.3" cy="365.9" r="1.30"/><circle cx="200.3" cy="360.6" r="1.30"/><circle cx="211.0" cy="358.5" r="1.30"/><circle cx="336.7" cy="369.0" r="1.30"/><circle cx="247.4" cy="367.9" r="1.30"/><circle cx="260.4" cy="362.7" r="1.30"/><circle cx="294.8" cy="367.9" r="1.30"/><circle cx="364.4" cy="360.6" r="1.30"/><circle cx="260.7" cy="369.0" r="1.30"/><circle cx="316.7" cy="362.7" r="1.30"/><circle cx="355.7" cy="360.6" r="1.30"/><circle cx="205.8" cy="363.8" r="1.30"/><circle cx="287.7" cy="364.8" r="1.30"/><circle cx="252.3" cy="358.5" r="1.30"/><circle cx="309.3" cy="359.6" r="1.30"/><circle cx="198.1" cy="361.6" r="1.30"/><circle cx="196.6" cy="360.6" r="1.30"/><circle cx="332.2" cy="366.9" r="1.30"/><circle cx="220.2" cy="358.5" r="1.30"/><circle cx="351.7" cy="366.9" r="1.30"/><circle cx="333.0" cy="359.6" r="1.30"/><circle cx="360.2" cy="358.5" r="1.30"/><circle cx="307.3" cy="364.8" r="1.30"/><circle cx="194.1" cy="358.5" r="1.30"/><circle cx="343.9" cy="364.8" r="1.30"/><circle cx="134.6" cy="369.7" r="1.30"/><circle cx="151.0" cy="372.3" r="1.30"/></g>
<g fill="#2b7bf5" stroke="#0d2f70" stroke-width="0.65"><circle cx="360.0" cy="45.6" r="1.30"/><circle cx="225.8" cy="44.6" r="1.30"/><circle cx="305.3" cy="52.5" r="1.30"/><circle cx="329.9" cy="46.6" r="1.30"/><circle cx="229.5" cy="52.5" r="1.30"/><circle cx="302.2" cy="42.6" r="1.30"/><circle cx="236.4" cy="47.6" r="1.30"/><circle cx="352.5" cy="51.5" r="1.30"/><circle cx="306.8" cy="49.5" r="1.30"/><circle cx="272.9" cy="48.5" r="1.30"/><circle cx="362.0" cy="44.6" r="1.30"/><circle cx="376.0" cy="60.4" r="1.30"/><circle cx="385.7" cy="57.4" r="1.30"/><circle cx="247.0" cy="66.2" r="1.30"/><circle cx="289.5" cy="63.3" r="1.30"/><circle cx="252.3" cy="55.5" r="1.30"/><circle cx="239.8" cy="87.5" r="1.30"/><circle cx="310.4" cy="80.5" r="1.30"/><circle cx="373.8" cy="76.5" r="1.30"/><circle cx="202.7" cy="78.5" r="1.30"/><circle cx="337.0" cy="83.5" r="1.30"/><circle cx="319.5" cy="89.5" r="1.30"/><circle cx="353.7" cy="78.5" r="1.30"/><circle cx="354.4" cy="91.5" r="1.30"/><circle cx="375.4" cy="97.0" r="1.30"/><circle cx="287.1" cy="107.0" r="1.30"/><circle cx="309.2" cy="105.0" r="1.30"/><circle cx="363.4" cy="102.0" r="1.30"/><circle cx="325.7" cy="105.0" r="1.30"/><circle cx="319.8" cy="108.0" r="1.30"/><circle cx="253.7" cy="102.0" r="1.30"/><circle cx="274.3" cy="97.0" r="1.30"/><circle cx="354.7" cy="100.0" r="1.30"/><circle cx="270.8" cy="100.0" r="1.30"/><circle cx="286.6" cy="100.0" r="1.30"/><circle cx="257.9" cy="97.0" r="1.30"/><circle cx="288.0" cy="105.0" r="1.30"/><circle cx="255.1" cy="107.0" r="1.30"/><circle cx="338.1" cy="106.0" r="1.30"/><circle cx="294.5" cy="106.0" r="1.30"/><circle cx="267.7" cy="100.0" r="1.30"/><circle cx="329.8" cy="130.4" r="1.30"/><circle cx="338.9" cy="130.4" r="1.30"/><circle cx="333.9" cy="130.4" r="1.30"/><circle cx="331.6" cy="130.4" r="1.30"/><circle cx="350.7" cy="130.4" r="1.30"/><circle cx="347.3" cy="130.4" r="1.30"/><circle cx="343.7" cy="130.4" r="1.30"/><circle cx="351.5" cy="130.4" r="1.30"/><circle cx="328.3" cy="180.4" r="1.30"/><circle cx="337.9" cy="178.4" r="1.30"/><circle cx="308.8" cy="176.3" r="1.30"/><circle cx="368.8" cy="176.3" r="1.30"/><circle cx="252.4" cy="181.4" r="1.30"/><circle cx="263.4" cy="177.3" r="1.30"/><circle cx="271.8" cy="172.2" r="1.30"/><circle cx="337.0" cy="167.1" r="1.30"/><circle cx="292.7" cy="171.2" r="1.30"/><circle cx="277.1" cy="176.3" r="1.30"/><circle cx="313.2" cy="172.2" r="1.30"/><circle cx="313.1" cy="200.1" r="1.30"/><circle cx="294.1" cy="198.1" r="1.30"/><circle cx="186.3" cy="188.4" r="1.30"/><circle cx="302.8" cy="195.2" r="1.30"/><circle cx="344.6" cy="191.3" r="1.30"/><circle cx="362.2" cy="199.1" r="1.30"/><circle cx="287.6" cy="197.2" r="1.30"/><circle cx="263.6" cy="200.1" r="1.30"/><circle cx="279.5" cy="218.7" r="1.30"/><circle cx="212.0" cy="227.0" r="1.30"/><circle cx="245.9" cy="224.9" r="1.30"/><circle cx="281.6" cy="227.0" r="1.30"/><circle cx="282.1" cy="219.7" r="1.30"/><circle cx="312.5" cy="222.8" r="1.30"/><circle cx="334.7" cy="220.8" r="1.30"/><circle cx="377.0" cy="226.0" r="1.30"/><circle cx="262.1" cy="227.0" r="1.30"/><circle cx="358.9" cy="218.7" r="1.30"/><circle cx="273.7" cy="227.0" r="1.30"/><circle cx="311.3" cy="218.7" r="1.30"/><circle cx="285.8" cy="220.8" r="1.30"/><circle cx="371.3" cy="220.8" r="1.30"/><circle cx="254.7" cy="222.8" r="1.30"/><circle cx="214.8" cy="226.0" r="1.30"/><circle cx="363.5" cy="222.8" r="1.30"/><circle cx="269.5" cy="242.6" r="1.30"/><circle cx="255.4" cy="236.8" r="1.30"/><circle cx="370.1" cy="244.6" r="1.30"/><circle cx="295.8" cy="246.5" r="1.30"/><circle cx="196.6" cy="231.0" r="1.30"/><circle cx="244.8" cy="242.6" r="1.30"/><circle cx="325.7" cy="236.8" r="1.30"/><circle cx="288.8" cy="244.6" r="1.30"/><circle cx="324.9" cy="237.8" r="1.30"/><circle cx="331.0" cy="234.9" r="1.30"/><circle cx="356.0" cy="244.6" r="1.30"/><circle cx="339.2" cy="238.8" r="1.30"/><circle cx="350.7" cy="235.8" r="1.30"/><circle cx="321.4" cy="231.9" r="1.30"/><circle cx="329.6" cy="246.5" r="1.30"/><circle cx="317.1" cy="258.1" r="1.30"/><circle cx="357.1" cy="263.2" r="1.30"/><circle cx="324.4" cy="262.2" r="1.30"/><circle cx="328.6" cy="256.1" r="1.30"/><circle cx="319.6" cy="257.1" r="1.30"/><circle cx="343.9" cy="273.4" r="1.30"/><circle cx="385.3" cy="259.2" r="1.30"/><circle cx="327.2" cy="265.3" r="1.30"/><circle cx="327.3" cy="269.3" r="1.30"/><circle cx="288.6" cy="281.0" r="1.30"/><circle cx="367.9" cy="292.0" r="1.30"/><circle cx="331.6" cy="289.0" r="1.30"/><circle cx="382.8" cy="293.0" r="1.30"/><circle cx="309.9" cy="292.0" r="1.30"/><circle cx="303.3" cy="286.0" r="1.30"/><circle cx="299.0" cy="282.0" r="1.30"/><circle cx="342.0" cy="281.0" r="1.30"/><circle cx="384.2" cy="280.0" r="1.30"/><circle cx="236.0" cy="290.0" r="1.30"/><circle cx="341.2" cy="282.0" r="1.30"/><circle cx="320.3" cy="282.0" r="1.30"/><circle cx="354.6" cy="320.0" r="1.30"/><circle cx="353.3" cy="311.0" r="1.30"/><circle cx="348.0" cy="350.0" r="1.30"/><circle cx="352.1" cy="341.0" r="1.30"/><circle cx="382.0" cy="349.0" r="1.30"/><circle cx="287.0" cy="346.0" r="1.30"/><circle cx="349.8" cy="352.0" r="1.30"/><circle cx="377.6" cy="347.0" r="1.30"/><circle cx="234.9" cy="357.0" r="1.30"/><circle cx="374.9" cy="345.0" r="1.30"/><circle cx="353.1" cy="350.0" r="1.30"/><circle cx="388.1" cy="344.0" r="1.30"/><circle cx="314.1" cy="346.0" r="1.30"/><circle cx="307.8" cy="349.0" r="1.30"/></g>
<g fill="#f5d25a" stroke="#5a4a14" stroke-width="0.65"><circle cx="255.2" cy="50.5" r="1.30"/><circle cx="302.4" cy="53.5" r="1.30"/><circle cx="367.2" cy="45.6" r="1.30"/><circle cx="311.8" cy="48.5" r="1.30"/><circle cx="311.2" cy="44.6" r="1.30"/><circle cx="354.8" cy="53.5" r="1.30"/><circle cx="320.5" cy="51.5" r="1.30"/><circle cx="224.6" cy="53.5" r="1.30"/><circle cx="309.5" cy="44.6" r="1.30"/><circle cx="316.7" cy="42.6" r="1.30"/><circle cx="298.7" cy="63.3" r="1.30"/><circle cx="225.4" cy="61.3" r="1.30"/><circle cx="352.0" cy="66.2" r="1.30"/><circle cx="375.8" cy="64.3" r="1.30"/><circle cx="331.7" cy="66.2" r="1.30"/><circle cx="250.3" cy="59.4" r="1.30"/><circle cx="254.4" cy="65.2" r="1.30"/><circle cx="303.0" cy="71.5" r="1.30"/><circle cx="361.2" cy="71.5" r="1.30"/><circle cx="219.0" cy="81.5" r="1.30"/><circle cx="351.1" cy="77.5" r="1.30"/><circle cx="271.1" cy="77.5" r="1.30"/><circle cx="357.6" cy="71.5" r="1.30"/><circle cx="249.5" cy="91.5" r="1.30"/><circle cx="340.3" cy="77.5" r="1.30"/><circle cx="337.8" cy="81.5" r="1.30"/><circle cx="209.3" cy="81.5" r="1.30"/><circle cx="243.8" cy="71.5" r="1.30"/><circle cx="355.1" cy="85.5" r="1.30"/><circle cx="241.2" cy="85.5" r="1.30"/><circle cx="193.7" cy="80.5" r="1.30"/><circle cx="224.8" cy="72.5" r="1.30"/><circle cx="371.0" cy="78.5" r="1.30"/><circle cx="369.0" cy="111.0" r="1.30"/><circle cx="247.2" cy="113.0" r="1.30"/><circle cx="260.0" cy="112.0" r="1.30"/><circle cx="275.9" cy="114.0" r="1.30"/><circle cx="370.5" cy="111.0" r="1.30"/><circle cx="377.9" cy="126.2" r="1.30"/><circle cx="355.2" cy="126.2" r="1.30"/><circle cx="340.9" cy="126.2" r="1.30"/><circle cx="326.4" cy="157.5" r="1.30"/><circle cx="319.3" cy="157.5" r="1.30"/><circle cx="267.8" cy="158.5" r="1.30"/><circle cx="331.9" cy="158.5" r="1.30"/><circle cx="288.9" cy="157.5" r="1.30"/><circle cx="370.2" cy="157.5" r="1.30"/><circle cx="375.5" cy="157.5" r="1.30"/><circle cx="276.8" cy="158.5" r="1.30"/><circle cx="296.3" cy="157.5" r="1.30"/><circle cx="253.3" cy="175.3" r="1.30"/><circle cx="302.4" cy="166.0" r="1.30"/><circle cx="262.3" cy="165.0" r="1.30"/><circle cx="268.5" cy="173.2" r="1.30"/><circle cx="260.9" cy="175.3" r="1.30"/><circle cx="367.4" cy="171.2" r="1.30"/><circle cx="225.2" cy="183.5" r="1.30"/><circle cx="268.2" cy="170.1" r="1.30"/><circle cx="343.6" cy="186.5" r="1.30"/><circle cx="308.7" cy="191.3" r="1.30"/><circle cx="361.3" cy="193.3" r="1.30"/><circle cx="310.2" cy="195.2" r="1.30"/><circle cx="308.1" cy="193.3" r="1.30"/><circle cx="377.3" cy="188.4" r="1.30"/><circle cx="309.0" cy="203.0" r="1.30"/><circle cx="353.7" cy="192.3" r="1.30"/><circle cx="338.0" cy="190.4" r="1.30"/><circle cx="219.8" cy="185.5" r="1.30"/><circle cx="316.6" cy="194.2" r="1.30"/><circle cx="222.9" cy="189.4" r="1.30"/><circle cx="334.5" cy="192.3" r="1.30"/><circle cx="311.9" cy="190.4" r="1.30"/><circle cx="329.3" cy="188.4" r="1.30"/><circle cx="306.2" cy="196.2" r="1.30"/><circle cx="371.5" cy="193.3" r="1.30"/><circle cx="243.6" cy="191.3" r="1.30"/><circle cx="232.2" cy="191.3" r="1.30"/><circle cx="192.7" cy="185.5" r="1.30"/><circle cx="245.2" cy="192.3" r="1.30"/><circle cx="322.7" cy="199.1" r="1.30"/><circle cx="313.1" cy="186.5" r="1.30"/><circle cx="262.6" cy="185.5" r="1.30"/><circle cx="309.4" cy="196.2" r="1.30"/><circle cx="319.1" cy="194.2" r="1.30"/><circle cx="370.9" cy="200.1" r="1.30"/><circle cx="301.5" cy="188.4" r="1.30"/><circle cx="268.6" cy="195.2" r="1.30"/><circle cx="170.1" cy="202.0" r="1.30"/><circle cx="212.8" cy="236.8" r="1.30"/><circle cx="284.9" cy="239.7" r="1.30"/><circle cx="218.7" cy="242.6" r="1.30"/><circle cx="277.1" cy="235.8" r="1.30"/><circle cx="250.7" cy="235.8" r="1.30"/><circle cx="366.7" cy="231.9" r="1.30"/><circle cx="220.4" cy="231.0" r="1.30"/><circle cx="290.1" cy="237.8" r="1.30"/><circle cx="295.5" cy="230.0" r="1.30"/><circle cx="257.4" cy="244.6" r="1.30"/><circle cx="359.5" cy="244.6" r="1.30"/><circle cx="303.6" cy="231.9" r="1.30"/><circle cx="298.9" cy="231.0" r="1.30"/><circle cx="367.1" cy="243.6" r="1.30"/><circle cx="244.6" cy="246.5" r="1.30"/><circle cx="297.3" cy="233.9" r="1.30"/><circle cx="221.0" cy="230.0" r="1.30"/><circle cx="315.8" cy="233.9" r="1.30"/><circle cx="288.5" cy="241.7" r="1.30"/><circle cx="365.4" cy="244.6" r="1.30"/><circle cx="287.9" cy="235.8" r="1.30"/><circle cx="344.4" cy="243.6" r="1.30"/><circle cx="267.9" cy="233.9" r="1.30"/><circle cx="293.3" cy="247.5" r="1.30"/><circle cx="298.9" cy="247.5" r="1.30"/><circle cx="347.1" cy="231.9" r="1.30"/><circle cx="322.9" cy="232.9" r="1.30"/><circle cx="240.4" cy="233.9" r="1.30"/><circle cx="219.8" cy="242.6" r="1.30"/><circle cx="215.7" cy="246.5" r="1.30"/></g>
<g fill="#1f5fd0" stroke="#0d2f70" stroke-width="0.65"><circle cx="385.9" cy="100.0" r="1.20"/><circle cx="296.4" cy="170.1" r="1.20"/><circle cx="393.0" cy="218.7" r="1.20"/><circle cx="393.0" cy="219.7" r="1.20"/><circle cx="385.0" cy="226.0" r="1.20"/><circle cx="393.2" cy="245.6" r="1.20"/><circle cx="394.8" cy="262.2" r="1.20"/><circle cx="391.8" cy="263.2" r="1.20"/><circle cx="394.5" cy="265.3" r="1.20"/><circle cx="395.4" cy="272.4" r="1.20"/><circle cx="386.1" cy="277.5" r="1.20"/><circle cx="391.1" cy="284.0" r="1.20"/><circle cx="386.4" cy="290.0" r="1.20"/><circle cx="391.6" cy="292.0" r="1.20"/><circle cx="385.3" cy="317.0" r="1.20"/><circle cx="386.4" cy="341.0" r="1.20"/><circle cx="390.7" cy="347.0" r="1.20"/><circle cx="390.4" cy="349.0" r="1.20"/><circle cx="380.6" cy="350.0" r="1.20"/><circle cx="382.1" cy="351.0" r="1.20"/><circle cx="389.7" cy="355.0" r="1.20"/><circle cx="397.1" cy="356.0" r="1.20"/><circle cx="391.4" cy="357.0" r="1.20"/></g>
<g fill="#0b2626"><circle cx="311.7" cy="46.6" r="2.79"/><circle cx="328.2" cy="42.6" r="2.99"/><circle cx="326.8" cy="41.6" r="3.06"/><circle cx="364.5" cy="43.6" r="2.63"/><circle cx="314.9" cy="49.5" r="3.01"/><circle cx="353.5" cy="43.6" r="2.77"/><circle cx="365.9" cy="47.6" r="2.65"/><circle cx="360.2" cy="64.3" r="2.85"/><circle cx="333.7" cy="64.3" r="2.86"/><circle cx="379.7" cy="59.4" r="2.99"/><circle cx="315.0" cy="61.3" r="2.94"/><circle cx="367.4" cy="63.3" r="2.88"/><circle cx="233.7" cy="60.0" r="3.50"/><circle cx="327.3" cy="81.5" r="3.02"/><circle cx="327.8" cy="81.5" r="2.94"/><circle cx="374.8" cy="74.5" r="2.95"/><circle cx="366.3" cy="78.5" r="2.84"/><circle cx="346.3" cy="87.5" r="2.82"/><circle cx="354.0" cy="82.5" r="3.18"/><circle cx="355.8" cy="86.5" r="3.06"/><circle cx="368.7" cy="73.5" r="3.14"/><circle cx="377.0" cy="84.5" r="3.19"/><circle cx="376.5" cy="82.5" r="3.06"/><circle cx="374.7" cy="73.5" r="3.17"/><circle cx="330.1" cy="107.0" r="2.98"/><circle cx="374.7" cy="105.0" r="2.93"/><circle cx="376.1" cy="99.0" r="2.86"/><circle cx="383.9" cy="112.0" r="3.00"/><circle cx="334.4" cy="102.0" r="2.54"/><circle cx="333.3" cy="105.0" r="2.67"/><circle cx="319.0" cy="97.0" r="2.73"/><circle cx="363.0" cy="106.0" r="3.10"/><circle cx="354.8" cy="106.0" r="3.04"/><circle cx="349.5" cy="95.0" r="2.93"/><circle cx="324.6" cy="109.0" r="2.61"/><circle cx="335.7" cy="113.0" r="2.65"/><circle cx="361.4" cy="107.0" r="2.88"/><circle cx="367.0" cy="98.0" r="2.88"/><circle cx="367.3" cy="104.0" r="2.97"/><circle cx="384.9" cy="98.0" r="3.08"/><circle cx="377.0" cy="111.0" r="2.78"/><circle cx="367.0" cy="106.0" r="2.75"/><circle cx="349.6" cy="97.0" r="2.74"/><circle cx="337.2" cy="100.0" r="3.09"/><circle cx="361.7" cy="114.0" r="2.51"/><circle cx="374.6" cy="103.0" r="2.55"/><circle cx="366.2" cy="100.0" r="2.75"/><circle cx="383.3" cy="97.0" r="3.11"/><circle cx="377.0" cy="101.0" r="2.68"/><circle cx="336.4" cy="107.0" r="2.85"/><circle cx="358.8" cy="109.0" r="2.73"/><circle cx="376.8" cy="109.0" r="2.66"/><circle cx="344.8" cy="106.0" r="3.04"/><circle cx="363.8" cy="105.0" r="2.67"/><circle cx="376.1" cy="96.0" r="3.14"/><circle cx="364.7" cy="98.0" r="2.68"/><circle cx="353.4" cy="111.0" r="3.14"/><circle cx="336.4" cy="106.0" r="3.14"/><circle cx="350.8" cy="106.0" r="2.76"/><circle cx="351.2" cy="112.0" r="3.00"/><circle cx="330.0" cy="102.0" r="2.52"/><circle cx="373.7" cy="104.0" r="2.90"/><circle cx="382.0" cy="102.0" r="3.12"/><circle cx="361.0" cy="114.0" r="2.93"/><circle cx="320.1" cy="105.0" r="3.00"/><circle cx="376.4" cy="100.0" r="2.94"/><circle cx="365.0" cy="113.0" r="2.93"/><circle cx="349.5" cy="96.0" r="3.08"/><circle cx="358.7" cy="108.0" r="3.14"/><circle cx="375.7" cy="95.0" r="2.98"/><circle cx="353.6" cy="102.0" r="2.75"/><circle cx="338.0" cy="94.0" r="2.63"/><circle cx="347.6" cy="101.0" r="2.65"/><circle cx="382.6" cy="94.0" r="3.19"/><circle cx="345.9" cy="94.0" r="2.85"/><circle cx="375.7" cy="114.0" r="2.56"/><circle cx="384.8" cy="111.0" r="2.98"/><circle cx="343.8" cy="104.0" r="2.57"/><circle cx="351.4" cy="94.0" r="3.00"/><circle cx="375.9" cy="106.0" r="3.17"/><circle cx="339.6" cy="99.0" r="2.94"/><circle cx="381.6" cy="109.0" r="2.71"/><circle cx="351.8" cy="107.0" r="3.02"/><circle cx="365.7" cy="111.0" r="2.95"/><circle cx="347.0" cy="105.0" r="2.62"/><circle cx="384.8" cy="98.0" r="3.19"/><circle cx="380.5" cy="97.0" r="2.72"/><circle cx="366.7" cy="108.0" r="2.98"/><circle cx="338.5" cy="95.0" r="3.11"/><circle cx="327.0" cy="109.0" r="2.68"/><circle cx="349.2" cy="106.0" r="2.94"/><circle cx="365.9" cy="105.0" r="2.73"/><circle cx="372.4" cy="104.0" r="2.64"/><circle cx="379.9" cy="112.0" r="2.90"/><circle cx="373.7" cy="107.0" r="2.59"/><circle cx="381.4" cy="102.0" r="2.59"/><circle cx="372.6" cy="106.0" r="2.70"/><circle cx="341.2" cy="114.0" r="2.51"/><circle cx="373.8" cy="112.0" r="3.05"/><circle cx="350.5" cy="98.0" r="2.69"/><circle cx="373.2" cy="102.0" r="2.78"/><circle cx="326.1" cy="98.0" r="3.00"/><circle cx="379.9" cy="97.0" r="2.64"/><circle cx="366.5" cy="105.0" r="3.20"/><circle cx="357.0" cy="97.0" r="3.13"/><circle cx="383.6" cy="111.0" r="2.62"/><circle cx="351.9" cy="96.0" r="3.06"/><circle cx="349.2" cy="114.0" r="2.77"/><circle cx="357.5" cy="113.0" r="2.60"/><circle cx="357.3" cy="112.0" r="2.99"/><circle cx="351.5" cy="111.0" r="3.11"/><circle cx="342.3" cy="108.0" r="2.57"/><circle cx="384.9" cy="102.0" r="2.80"/><circle cx="354.7" cy="98.0" r="2.51"/><circle cx="367.5" cy="112.0" r="2.69"/><circle cx="350.9" cy="106.0" r="2.66"/><circle cx="344.8" cy="109.0" r="2.89"/><circle cx="326.5" cy="111.0" r="2.55"/><circle cx="375.1" cy="103.0" r="2.50"/><circle cx="356.4" cy="104.0" r="3.20"/><circle cx="385.6" cy="100.0" r="2.79"/><circle cx="356.6" cy="95.0" r="3.06"/><circle cx="369.2" cy="106.0" r="2.65"/><circle cx="370.7" cy="113.0" r="2.94"/><circle cx="343.6" cy="102.0" r="2.70"/><circle cx="385.7" cy="101.0" r="2.81"/><circle cx="339.7" cy="95.0" r="2.52"/><circle cx="366.0" cy="99.0" r="2.97"/><circle cx="357.1" cy="102.0" r="3.03"/><circle cx="328.6" cy="103.0" r="2.83"/><circle cx="327.7" cy="100.0" r="2.76"/><circle cx="381.8" cy="102.0" r="3.05"/><circle cx="244.0" cy="104.5" r="3.40"/><circle cx="277.0" cy="110.0" r="3.40"/><circle cx="292.0" cy="113.0" r="3.40"/><circle cx="296.0" cy="107.0" r="3.40"/><circle cx="381.2" cy="134.5" r="2.55"/><circle cx="368.4" cy="121.1" r="2.62"/><circle cx="309.2" cy="127.3" r="2.74"/><circle cx="367.4" cy="124.2" r="2.58"/><circle cx="305.6" cy="122.1" r="2.52"/><circle cx="382.6" cy="131.4" r="2.55"/><circle cx="358.8" cy="123.2" r="2.72"/><circle cx="360.5" cy="123.2" r="3.20"/><circle cx="302.1" cy="129.3" r="2.74"/><circle cx="210.0" cy="125.5" r="3.60"/><circle cx="223.0" cy="125.5" r="3.60"/><circle cx="328.7" cy="144.8" r="3.03"/><circle cx="321.1" cy="142.7" r="2.56"/><circle cx="353.0" cy="141.7" r="3.07"/><circle cx="361.6" cy="143.8" r="2.76"/><circle cx="344.8" cy="138.5" r="2.98"/><circle cx="352.3" cy="138.5" r="2.66"/><circle cx="340.3" cy="141.7" r="2.72"/><circle cx="375.6" cy="139.6" r="2.95"/><circle cx="386.0" cy="137.5" r="2.84"/><circle cx="360.6" cy="143.8" r="2.89"/><circle cx="365.9" cy="142.7" r="2.52"/><circle cx="372.2" cy="147.9" r="2.91"/><circle cx="378.3" cy="137.5" r="2.84"/><circle cx="367.9" cy="142.7" r="3.19"/><circle cx="335.5" cy="138.5" r="2.56"/><circle cx="372.1" cy="147.9" r="2.76"/><circle cx="364.6" cy="144.8" r="3.06"/><circle cx="345.4" cy="144.8" r="3.01"/><circle cx="374.5" cy="138.5" r="3.17"/><circle cx="367.2" cy="142.7" r="2.88"/><circle cx="368.6" cy="138.5" r="2.78"/><circle cx="380.9" cy="149.0" r="2.89"/><circle cx="327.0" cy="140.6" r="2.73"/><circle cx="377.9" cy="139.6" r="2.59"/><circle cx="347.7" cy="141.7" r="2.52"/><circle cx="373.3" cy="143.8" r="2.64"/><circle cx="379.9" cy="149.0" r="2.85"/><circle cx="374.3" cy="149.0" r="2.86"/><circle cx="327.3" cy="144.8" r="3.02"/><circle cx="374.9" cy="139.6" r="2.73"/><circle cx="351.8" cy="137.5" r="2.61"/><circle cx="351.3" cy="142.7" r="3.06"/><circle cx="352.7" cy="147.9" r="2.90"/><circle cx="347.8" cy="144.8" r="2.91"/><circle cx="365.8" cy="144.8" r="2.78"/><circle cx="368.4" cy="138.5" r="2.66"/><circle cx="341.6" cy="141.7" r="2.79"/><circle cx="345.1" cy="137.5" r="2.54"/><circle cx="343.0" cy="141.7" r="3.00"/><circle cx="372.4" cy="143.8" r="2.55"/><circle cx="383.8" cy="139.6" r="3.14"/><circle cx="349.6" cy="144.8" r="2.58"/><circle cx="374.0" cy="139.6" r="2.57"/><circle cx="349.1" cy="141.7" r="2.61"/><circle cx="350.3" cy="149.0" r="2.61"/><circle cx="346.2" cy="144.8" r="2.61"/><circle cx="350.6" cy="150.0" r="2.71"/><circle cx="371.2" cy="140.6" r="2.65"/><circle cx="374.5" cy="140.6" r="3.02"/><circle cx="330.4" cy="142.7" r="3.04"/><circle cx="334.5" cy="146.9" r="3.20"/><circle cx="368.3" cy="142.7" r="2.75"/><circle cx="370.5" cy="150.0" r="2.70"/><circle cx="382.1" cy="149.0" r="2.58"/><circle cx="314.2" cy="142.7" r="2.88"/><circle cx="356.2" cy="141.7" r="2.70"/><circle cx="332.7" cy="145.8" r="2.84"/><circle cx="314.1" cy="141.7" r="3.06"/><circle cx="335.0" cy="145.8" r="2.77"/><circle cx="378.7" cy="145.8" r="2.93"/><circle cx="376.3" cy="145.8" r="2.61"/><circle cx="367.7" cy="150.0" r="3.14"/><circle cx="366.6" cy="150.0" r="2.71"/><circle cx="373.5" cy="143.8" r="2.75"/><circle cx="361.7" cy="150.0" r="2.84"/><circle cx="351.5" cy="147.9" r="3.01"/><circle cx="359.7" cy="147.9" r="2.90"/><circle cx="377.1" cy="142.7" r="2.55"/><circle cx="330.2" cy="145.8" r="3.16"/><circle cx="371.7" cy="147.9" r="2.71"/><circle cx="329.5" cy="137.5" r="2.90"/><circle cx="337.6" cy="138.5" r="2.76"/><circle cx="376.5" cy="142.7" r="2.54"/><circle cx="368.0" cy="147.9" r="2.60"/><circle cx="358.0" cy="143.8" r="3.19"/><circle cx="381.7" cy="147.9" r="3.18"/><circle cx="363.3" cy="145.8" r="2.81"/><circle cx="337.2" cy="147.9" r="2.87"/><circle cx="364.6" cy="142.7" r="3.15"/><circle cx="328.4" cy="149.0" r="2.60"/><circle cx="324.6" cy="140.6" r="2.84"/><circle cx="382.4" cy="145.8" r="3.13"/><circle cx="331.8" cy="138.5" r="2.71"/><circle cx="339.9" cy="142.7" r="2.69"/><circle cx="383.8" cy="139.6" r="3.16"/><circle cx="378.8" cy="139.6" r="3.15"/><circle cx="367.8" cy="137.5" r="3.06"/><circle cx="363.3" cy="147.9" r="3.13"/><circle cx="379.0" cy="142.7" r="2.56"/><circle cx="335.5" cy="145.8" r="3.14"/><circle cx="329.2" cy="138.5" r="3.11"/><circle cx="356.4" cy="137.5" r="2.60"/><circle cx="370.9" cy="139.6" r="2.86"/><circle cx="321.1" cy="157.5" r="2.86"/><circle cx="369.2" cy="161.5" r="2.97"/><circle cx="344.2" cy="162.5" r="2.56"/><circle cx="358.9" cy="166.0" r="3.18"/><circle cx="355.4" cy="173.2" r="2.54"/><circle cx="372.6" cy="173.2" r="2.66"/><circle cx="383.0" cy="177.3" r="2.68"/><circle cx="310.8" cy="181.4" r="2.75"/><circle cx="376.4" cy="166.0" r="2.84"/><circle cx="318.2" cy="180.4" r="2.72"/><circle cx="360.4" cy="181.4" r="3.15"/><circle cx="369.5" cy="171.2" r="2.81"/><circle cx="390.3" cy="174.2" r="3.14"/><circle cx="380.5" cy="172.2" r="3.00"/><circle cx="379.9" cy="174.2" r="2.62"/><circle cx="338.5" cy="180.4" r="2.67"/><circle cx="388.8" cy="165.0" r="2.96"/><circle cx="377.5" cy="180.4" r="2.93"/><circle cx="391.3" cy="177.3" r="2.95"/><circle cx="387.6" cy="167.1" r="2.61"/><circle cx="382.6" cy="173.2" r="3.11"/><circle cx="333.9" cy="174.2" r="2.93"/><circle cx="382.8" cy="173.2" r="2.94"/><circle cx="311.9" cy="169.1" r="2.97"/><circle cx="383.2" cy="178.4" r="3.04"/><circle cx="363.7" cy="165.0" r="3.16"/><circle cx="329.1" cy="180.4" r="3.00"/><circle cx="282.4" cy="166.0" r="2.61"/><circle cx="331.4" cy="172.2" r="2.93"/><circle cx="297.6" cy="168.1" r="2.86"/><circle cx="358.6" cy="175.3" r="2.98"/><circle cx="369.5" cy="165.0" r="2.98"/><circle cx="286.7" cy="168.1" r="3.15"/><circle cx="338.1" cy="165.0" r="3.17"/><circle cx="389.4" cy="174.2" r="3.04"/><circle cx="312.9" cy="175.3" r="2.65"/><circle cx="300.3" cy="180.4" r="2.57"/><circle cx="295.3" cy="182.5" r="3.03"/><circle cx="334.7" cy="181.4" r="2.64"/><circle cx="266.1" cy="183.5" r="2.80"/><circle cx="303.4" cy="177.3" r="2.54"/><circle cx="340.9" cy="176.3" r="3.10"/><circle cx="348.7" cy="182.5" r="2.78"/><circle cx="380.0" cy="172.2" r="3.14"/><circle cx="312.7" cy="167.1" r="2.80"/><circle cx="376.7" cy="178.4" r="2.89"/><circle cx="388.2" cy="181.4" r="2.68"/><circle cx="349.2" cy="182.5" r="2.51"/><circle cx="323.8" cy="167.1" r="3.04"/><circle cx="357.2" cy="166.0" r="2.63"/><circle cx="371.8" cy="173.2" r="2.91"/><circle cx="338.0" cy="175.3" r="3.06"/><circle cx="363.0" cy="166.0" r="2.82"/><circle cx="389.3" cy="178.4" r="3.17"/><circle cx="384.8" cy="171.2" r="3.12"/><circle cx="352.8" cy="166.0" r="2.50"/><circle cx="369.3" cy="179.4" r="2.81"/><circle cx="318.7" cy="169.1" r="2.85"/><circle cx="350.5" cy="172.2" r="2.95"/><circle cx="294.7" cy="178.4" r="3.00"/><circle cx="291.4" cy="169.1" r="2.90"/><circle cx="282.4" cy="177.3" r="2.55"/><circle cx="378.6" cy="177.3" r="2.93"/><circle cx="384.8" cy="171.2" r="3.10"/><circle cx="388.8" cy="180.4" r="3.11"/><circle cx="286.9" cy="168.1" r="2.52"/><circle cx="366.4" cy="181.4" r="3.02"/><circle cx="333.4" cy="171.2" r="3.05"/><circle cx="348.3" cy="173.2" r="2.76"/><circle cx="326.9" cy="178.4" r="2.80"/><circle cx="365.1" cy="171.2" r="2.79"/><circle cx="367.8" cy="174.2" r="2.56"/><circle cx="366.5" cy="180.4" r="2.89"/><circle cx="375.0" cy="177.3" r="2.85"/><circle cx="388.5" cy="177.3" r="2.55"/><circle cx="339.5" cy="172.2" r="3.01"/><circle cx="349.8" cy="179.4" r="2.96"/><circle cx="367.1" cy="172.2" r="2.56"/><circle cx="271.5" cy="183.5" r="2.74"/><circle cx="282.3" cy="177.3" r="2.79"/><circle cx="334.1" cy="178.4" r="2.93"/><circle cx="384.6" cy="172.2" r="2.71"/><circle cx="373.1" cy="171.2" r="2.80"/><circle cx="363.4" cy="180.4" r="3.07"/><circle cx="302.4" cy="177.3" r="3.18"/><circle cx="380.0" cy="175.3" r="2.91"/><circle cx="329.6" cy="173.2" r="2.98"/><circle cx="361.4" cy="178.4" r="3.19"/><circle cx="312.0" cy="169.1" r="2.91"/><circle cx="391.0" cy="181.4" r="2.69"/><circle cx="265.9" cy="183.5" r="3.17"/><circle cx="370.7" cy="198.1" r="2.88"/><circle cx="354.2" cy="186.5" r="2.62"/><circle cx="369.0" cy="199.1" r="2.67"/><circle cx="339.7" cy="200.1" r="2.81"/><circle cx="389.9" cy="195.2" r="3.15"/><circle cx="309.1" cy="185.5" r="3.01"/><circle cx="366.1" cy="191.3" r="2.67"/><circle cx="356.0" cy="194.2" r="3.17"/><circle cx="327.1" cy="201.1" r="2.95"/><circle cx="331.1" cy="193.3" r="3.06"/><circle cx="374.5" cy="192.3" r="2.54"/><circle cx="211.0" cy="193.0" r="3.60"/><circle cx="224.0" cy="193.0" r="3.60"/><circle cx="204.0" cy="203.0" r="3.60"/><circle cx="333.8" cy="215.0" r="2.56"/><circle cx="359.3" cy="214.1" r="2.93"/><circle cx="378.2" cy="215.0" r="3.05"/><circle cx="347.9" cy="212.2" r="2.95"/><circle cx="386.4" cy="211.2" r="3.05"/><circle cx="371.0" cy="207.4" r="2.75"/><circle cx="363.3" cy="211.2" r="2.69"/><circle cx="318.2" cy="216.0" r="2.70"/><circle cx="362.4" cy="216.0" r="2.68"/><circle cx="363.9" cy="211.2" r="3.18"/><circle cx="384.2" cy="208.3" r="2.71"/><circle cx="365.5" cy="212.2" r="2.99"/><circle cx="354.7" cy="216.0" r="2.94"/><circle cx="330.6" cy="214.1" r="3.03"/><circle cx="312.3" cy="209.3" r="2.55"/><circle cx="384.8" cy="213.1" r="3.06"/><circle cx="376.4" cy="212.2" r="2.71"/><circle cx="294.0" cy="213.1" r="2.95"/><circle cx="358.3" cy="211.2" r="2.51"/><circle cx="306.7" cy="212.2" r="3.05"/><circle cx="361.9" cy="215.0" r="2.67"/><circle cx="363.4" cy="213.1" r="2.72"/><circle cx="358.8" cy="206.4" r="2.81"/><circle cx="387.6" cy="210.2" r="2.75"/><circle cx="357.8" cy="216.0" r="2.59"/><circle cx="307.8" cy="216.0" r="2.89"/><circle cx="360.1" cy="207.4" r="2.63"/><circle cx="321.7" cy="215.0" r="3.19"/><circle cx="339.1" cy="215.0" r="2.71"/><circle cx="378.5" cy="207.4" r="2.95"/><circle cx="325.3" cy="223.9" r="2.57"/><circle cx="358.9" cy="218.7" r="3.04"/><circle cx="373.8" cy="220.8" r="3.05"/><circle cx="334.6" cy="219.7" r="2.76"/><circle cx="373.6" cy="226.0" r="3.02"/><circle cx="305.2" cy="222.8" r="2.84"/><circle cx="361.0" cy="219.7" r="3.06"/><circle cx="389.3" cy="222.8" r="2.54"/><circle cx="370.0" cy="222.8" r="3.17"/><circle cx="330.7" cy="219.7" r="3.19"/><circle cx="387.9" cy="221.8" r="2.66"/><circle cx="341.3" cy="226.0" r="2.81"/><circle cx="328.6" cy="223.9" r="3.13"/><circle cx="285.6" cy="227.0" r="2.71"/><circle cx="382.5" cy="222.8" r="2.78"/><circle cx="369.9" cy="219.7" r="3.07"/><circle cx="356.2" cy="219.7" r="2.78"/><circle cx="349.5" cy="223.9" r="2.85"/><circle cx="346.7" cy="218.7" r="2.69"/><circle cx="355.0" cy="222.8" r="2.90"/><circle cx="352.3" cy="222.8" r="2.82"/><circle cx="349.5" cy="218.7" r="2.84"/><circle cx="315.7" cy="224.9" r="2.94"/><circle cx="345.6" cy="218.7" r="2.71"/><circle cx="339.2" cy="219.7" r="3.06"/><circle cx="378.7" cy="218.7" r="2.52"/><circle cx="367.1" cy="235.8" r="2.99"/><circle cx="288.4" cy="240.7" r="3.19"/><circle cx="364.9" cy="241.7" r="3.06"/><circle cx="386.6" cy="243.6" r="2.60"/><circle cx="368.7" cy="243.6" r="2.88"/><circle cx="309.8" cy="232.9" r="3.19"/><circle cx="367.3" cy="236.8" r="2.60"/><circle cx="379.2" cy="242.6" r="2.91"/><circle cx="362.3" cy="233.9" r="2.51"/><circle cx="375.2" cy="234.9" r="2.93"/><circle cx="295.5" cy="240.7" r="2.95"/><circle cx="367.4" cy="240.7" r="2.54"/><circle cx="381.8" cy="246.5" r="2.97"/><circle cx="372.1" cy="244.6" r="3.17"/><circle cx="350.0" cy="243.6" r="2.51"/><circle cx="384.4" cy="234.9" r="2.93"/><circle cx="289.5" cy="240.7" r="2.95"/><circle cx="365.1" cy="239.7" r="3.19"/><circle cx="317.6" cy="247.5" r="2.52"/><circle cx="350.0" cy="235.8" r="3.13"/><circle cx="363.9" cy="241.7" r="2.89"/><circle cx="288.9" cy="240.7" r="2.90"/><circle cx="330.0" cy="239.7" r="2.98"/><circle cx="357.6" cy="232.9" r="3.02"/><circle cx="296.4" cy="232.9" r="2.86"/><circle cx="377.4" cy="240.7" r="2.74"/><circle cx="360.1" cy="235.8" r="2.71"/><circle cx="267.6" cy="239.7" r="2.71"/><circle cx="329.9" cy="238.8" r="3.10"/><circle cx="366.4" cy="237.8" r="2.75"/><circle cx="339.0" cy="242.6" r="2.70"/><circle cx="375.1" cy="233.9" r="3.02"/><circle cx="338.6" cy="231.0" r="2.67"/><circle cx="376.8" cy="232.9" r="3.19"/><circle cx="381.9" cy="234.9" r="2.58"/><circle cx="362.7" cy="243.6" r="2.59"/><circle cx="355.4" cy="239.7" r="2.69"/><circle cx="342.4" cy="243.6" r="2.55"/><circle cx="320.9" cy="230.0" r="2.65"/><circle cx="341.0" cy="238.8" r="2.80"/><circle cx="386.6" cy="246.5" r="3.12"/><circle cx="380.1" cy="237.8" r="2.75"/><circle cx="376.4" cy="247.5" r="2.84"/><circle cx="390.0" cy="245.6" r="2.59"/><circle cx="363.6" cy="245.6" r="3.08"/><circle cx="286.6" cy="233.9" r="3.12"/><circle cx="375.3" cy="244.6" r="2.85"/><circle cx="370.1" cy="243.6" r="2.53"/><circle cx="257.1" cy="245.6" r="2.83"/><circle cx="333.9" cy="232.9" r="2.62"/><circle cx="336.6" cy="242.6" r="3.04"/><circle cx="304.8" cy="247.5" r="2.86"/><circle cx="377.7" cy="237.8" r="2.98"/><circle cx="331.0" cy="238.8" r="3.04"/><circle cx="319.6" cy="240.7" r="3.14"/><circle cx="384.5" cy="232.9" r="3.03"/><circle cx="351.3" cy="247.5" r="2.83"/><circle cx="371.0" cy="231.0" r="2.73"/><circle cx="379.6" cy="241.7" r="2.71"/><circle cx="235.0" cy="236.0" r="3.50"/><circle cx="246.0" cy="236.0" r="3.50"/><circle cx="263.0" cy="236.0" r="3.50"/><circle cx="319.1" cy="260.2" r="3.10"/><circle cx="367.8" cy="251.0" r="2.64"/><circle cx="328.7" cy="265.3" r="3.05"/><circle cx="386.8" cy="256.1" r="2.76"/><circle cx="387.4" cy="260.2" r="2.58"/><circle cx="391.1" cy="268.3" r="3.07"/><circle cx="382.5" cy="251.0" r="2.92"/><circle cx="351.7" cy="261.2" r="3.19"/><circle cx="357.9" cy="272.4" r="2.88"/><circle cx="315.7" cy="269.3" r="2.95"/><circle cx="363.5" cy="266.3" r="2.85"/><circle cx="350.3" cy="265.3" r="2.81"/><circle cx="359.0" cy="264.2" r="3.12"/><circle cx="377.6" cy="265.3" r="2.83"/><circle cx="378.9" cy="276.5" r="2.62"/><circle cx="393.6" cy="270.4" r="2.88"/><circle cx="364.9" cy="261.2" r="2.80"/><circle cx="370.0" cy="264.2" r="3.20"/><circle cx="389.0" cy="270.4" r="2.69"/><circle cx="363.9" cy="265.3" r="2.80"/><circle cx="362.1" cy="255.1" r="2.88"/><circle cx="352.5" cy="268.3" r="2.61"/><circle cx="295.6" cy="257.1" r="3.19"/><circle cx="366.2" cy="251.0" r="3.11"/><circle cx="392.7" cy="259.2" r="3.05"/><circle cx="342.2" cy="266.3" r="2.82"/><circle cx="357.7" cy="256.1" r="2.98"/><circle cx="359.2" cy="263.2" r="2.84"/><circle cx="379.4" cy="270.4" r="3.10"/><circle cx="329.1" cy="269.3" r="2.52"/><circle cx="351.9" cy="270.4" r="2.76"/><circle cx="381.7" cy="266.3" r="2.79"/><circle cx="369.1" cy="264.2" r="2.64"/><circle cx="382.9" cy="266.3" r="2.84"/><circle cx="376.7" cy="258.1" r="2.56"/><circle cx="336.5" cy="258.1" r="2.73"/><circle cx="379.8" cy="263.2" r="2.66"/><circle cx="385.8" cy="273.4" r="2.68"/><circle cx="354.9" cy="252.0" r="3.20"/><circle cx="346.5" cy="265.3" r="2.94"/><circle cx="339.0" cy="259.2" r="2.95"/><circle cx="390.1" cy="254.1" r="2.58"/><circle cx="367.2" cy="252.0" r="2.64"/><circle cx="386.5" cy="259.2" r="2.91"/><circle cx="347.3" cy="261.2" r="2.98"/><circle cx="376.7" cy="268.3" r="2.81"/><circle cx="349.2" cy="268.3" r="3.03"/><circle cx="386.6" cy="264.2" r="2.67"/><circle cx="383.7" cy="275.5" r="3.10"/><circle cx="363.1" cy="253.0" r="2.63"/><circle cx="354.2" cy="268.3" r="2.51"/><circle cx="371.6" cy="262.2" r="3.07"/><circle cx="370.7" cy="272.4" r="3.04"/><circle cx="390.8" cy="266.3" r="2.68"/><circle cx="378.5" cy="263.2" r="3.15"/><circle cx="365.3" cy="273.4" r="2.55"/><circle cx="348.0" cy="277.5" r="2.77"/><circle cx="362.9" cy="275.5" r="3.05"/><circle cx="366.6" cy="260.2" r="2.60"/><circle cx="367.3" cy="274.4" r="3.12"/><circle cx="341.5" cy="251.0" r="2.92"/><circle cx="382.9" cy="264.2" r="2.88"/><circle cx="381.7" cy="267.3" r="2.89"/><circle cx="371.7" cy="254.1" r="2.92"/><circle cx="359.3" cy="275.5" r="3.16"/><circle cx="338.1" cy="266.3" r="2.75"/><circle cx="373.9" cy="269.3" r="2.58"/><circle cx="386.3" cy="258.1" r="3.02"/><circle cx="382.0" cy="255.1" r="3.18"/><circle cx="385.2" cy="262.2" r="3.04"/><circle cx="379.4" cy="266.3" r="2.53"/><circle cx="369.3" cy="275.5" r="2.82"/><circle cx="381.7" cy="251.0" r="3.04"/><circle cx="371.3" cy="258.1" r="2.51"/><circle cx="372.5" cy="269.3" r="2.87"/><circle cx="348.6" cy="256.1" r="3.04"/><circle cx="367.5" cy="260.2" r="2.92"/><circle cx="365.5" cy="265.3" r="2.95"/><circle cx="374.7" cy="269.3" r="2.79"/><circle cx="378.2" cy="277.5" r="2.76"/><circle cx="326.1" cy="257.1" r="3.08"/><circle cx="386.5" cy="275.5" r="3.13"/><circle cx="352.8" cy="267.3" r="2.57"/><circle cx="359.2" cy="272.4" r="2.95"/><circle cx="363.8" cy="255.1" r="2.93"/><circle cx="392.0" cy="264.2" r="2.62"/><circle cx="317.2" cy="273.4" r="2.60"/><circle cx="357.7" cy="265.3" r="2.81"/><circle cx="375.0" cy="264.2" r="3.13"/><circle cx="381.1" cy="251.0" r="3.07"/><circle cx="367.3" cy="274.4" r="2.78"/><circle cx="370.3" cy="272.4" r="2.96"/><circle cx="353.5" cy="261.2" r="2.69"/><circle cx="375.4" cy="258.1" r="2.86"/><circle cx="361.8" cy="262.2" r="3.07"/><circle cx="369.0" cy="271.4" r="3.17"/><circle cx="315.3" cy="255.1" r="3.20"/><circle cx="376.5" cy="253.0" r="2.70"/><circle cx="374.6" cy="251.0" r="2.61"/><circle cx="353.6" cy="260.2" r="2.95"/><circle cx="383.2" cy="267.3" r="3.08"/><circle cx="388.6" cy="256.1" r="3.13"/><circle cx="364.4" cy="275.5" r="2.85"/><circle cx="373.5" cy="277.5" r="2.96"/><circle cx="357.5" cy="255.1" r="3.04"/><circle cx="372.4" cy="269.3" r="2.96"/><circle cx="361.2" cy="269.3" r="3.16"/><circle cx="328.5" cy="274.4" r="2.90"/><circle cx="370.7" cy="256.1" r="3.02"/><circle cx="367.9" cy="253.0" r="3.17"/><circle cx="373.1" cy="272.4" r="3.20"/><circle cx="371.1" cy="261.2" r="2.64"/><circle cx="371.7" cy="275.5" r="2.59"/><circle cx="374.2" cy="270.4" r="2.68"/><circle cx="356.3" cy="266.3" r="2.53"/><circle cx="374.8" cy="268.3" r="2.60"/><circle cx="352.3" cy="259.2" r="2.77"/><circle cx="372.1" cy="271.4" r="3.02"/><circle cx="385.3" cy="263.2" r="2.60"/><circle cx="382.4" cy="262.2" r="2.70"/><circle cx="385.9" cy="262.2" r="3.00"/><circle cx="325.4" cy="257.1" r="2.98"/><circle cx="330.7" cy="256.1" r="2.58"/><circle cx="356.9" cy="260.2" r="2.76"/><circle cx="226.0" cy="266.0" r="3.40"/><circle cx="234.0" cy="260.0" r="3.40"/><circle cx="246.0" cy="262.0" r="3.40"/><circle cx="251.0" cy="260.0" r="3.40"/><circle cx="260.0" cy="262.0" r="3.40"/><circle cx="268.0" cy="265.0" r="3.40"/><circle cx="276.0" cy="265.0" r="3.40"/><circle cx="279.0" cy="252.0" r="3.40"/><circle cx="295.0" cy="250.0" r="3.40"/><circle cx="227.0" cy="278.2" r="3.40"/><circle cx="240.0" cy="278.2" r="3.40"/><circle cx="254.0" cy="278.2" r="3.40"/><circle cx="261.0" cy="278.2" r="3.40"/><circle cx="270.0" cy="278.2" r="3.40"/><circle cx="374.9" cy="293.0" r="2.94"/><circle cx="377.4" cy="283.0" r="2.74"/><circle cx="377.3" cy="286.0" r="2.84"/><circle cx="356.2" cy="287.0" r="2.54"/><circle cx="370.6" cy="287.0" r="2.94"/><circle cx="387.4" cy="295.0" r="3.04"/><circle cx="371.7" cy="290.0" r="3.04"/><circle cx="349.0" cy="292.0" r="3.03"/><circle cx="282.0" cy="294.0" r="2.83"/><circle cx="386.4" cy="288.0" r="2.99"/><circle cx="384.1" cy="284.0" r="2.85"/><circle cx="302.7" cy="294.0" r="2.96"/><circle cx="345.4" cy="295.0" r="2.53"/><circle cx="343.9" cy="285.0" r="3.14"/><circle cx="363.5" cy="295.0" r="2.53"/><circle cx="371.0" cy="292.0" r="2.63"/><circle cx="341.9" cy="283.0" r="2.86"/><circle cx="328.1" cy="294.0" r="2.82"/><circle cx="334.1" cy="295.0" r="2.62"/><circle cx="384.1" cy="281.0" r="2.54"/><circle cx="331.5" cy="286.0" r="3.17"/><circle cx="382.1" cy="293.0" r="2.60"/><circle cx="377.2" cy="283.0" r="2.83"/><circle cx="393.1" cy="289.0" r="2.70"/><circle cx="376.7" cy="282.0" r="2.92"/><circle cx="342.1" cy="283.0" r="2.71"/><circle cx="378.9" cy="281.0" r="2.94"/><circle cx="387.9" cy="282.0" r="3.01"/><circle cx="376.2" cy="283.0" r="2.77"/><circle cx="386.9" cy="283.0" r="2.94"/><circle cx="331.0" cy="287.0" r="3.04"/><circle cx="374.4" cy="292.0" r="2.64"/><circle cx="288.7" cy="295.0" r="2.62"/><circle cx="385.3" cy="290.0" r="3.09"/><circle cx="349.8" cy="285.0" r="2.66"/><circle cx="335.7" cy="294.0" r="2.55"/><circle cx="387.2" cy="282.0" r="3.14"/><circle cx="367.0" cy="282.0" r="3.02"/><circle cx="358.7" cy="294.0" r="3.18"/><circle cx="350.9" cy="294.0" r="2.63"/><circle cx="362.1" cy="290.0" r="3.16"/><circle cx="359.1" cy="288.0" r="2.85"/><circle cx="380.5" cy="291.0" r="2.71"/><circle cx="367.5" cy="294.0" r="3.17"/><circle cx="350.0" cy="296.0" r="2.62"/><circle cx="387.8" cy="294.0" r="3.10"/><circle cx="386.6" cy="291.0" r="2.70"/><circle cx="348.2" cy="282.0" r="2.54"/><circle cx="380.0" cy="284.0" r="2.54"/><circle cx="389.1" cy="288.0" r="2.52"/><circle cx="380.7" cy="295.0" r="2.64"/><circle cx="348.3" cy="280.0" r="2.81"/><circle cx="282.8" cy="286.0" r="2.92"/><circle cx="361.5" cy="282.0" r="2.81"/><circle cx="346.8" cy="282.0" r="2.66"/><circle cx="366.5" cy="284.0" r="2.68"/><circle cx="367.9" cy="295.0" r="2.97"/><circle cx="335.0" cy="288.0" r="2.80"/><circle cx="379.3" cy="291.0" r="2.64"/><circle cx="348.8" cy="296.0" r="3.06"/><circle cx="342.2" cy="296.0" r="3.03"/><circle cx="384.0" cy="289.0" r="2.75"/><circle cx="352.0" cy="288.0" r="2.60"/><circle cx="386.7" cy="285.0" r="2.97"/><circle cx="378.2" cy="292.0" r="2.87"/><circle cx="350.3" cy="295.0" r="2.72"/><circle cx="348.1" cy="305.0" r="2.51"/><circle cx="290.5" cy="304.0" r="2.60"/><circle cx="353.3" cy="302.0" r="3.04"/><circle cx="364.3" cy="305.0" r="2.54"/><circle cx="321.6" cy="306.0" r="2.78"/><circle cx="313.8" cy="299.0" r="3.14"/><circle cx="367.0" cy="302.0" r="3.16"/><circle cx="326.7" cy="306.0" r="2.93"/><circle cx="326.3" cy="306.0" r="2.88"/><circle cx="302.0" cy="301.0" r="2.50"/><circle cx="331.0" cy="302.0" r="2.52"/><circle cx="307.1" cy="301.0" r="3.06"/><circle cx="372.7" cy="302.0" r="2.98"/><circle cx="356.1" cy="303.0" r="2.66"/><circle cx="352.6" cy="302.0" r="2.68"/><circle cx="358.0" cy="303.0" r="2.56"/><circle cx="308.5" cy="301.0" r="2.60"/><circle cx="351.3" cy="299.0" r="2.80"/><circle cx="296.2" cy="301.0" r="2.55"/><circle cx="352.2" cy="302.0" r="2.50"/><circle cx="341.9" cy="306.0" r="3.01"/><circle cx="383.1" cy="306.0" r="2.85"/><circle cx="345.1" cy="306.0" r="3.03"/><circle cx="208.0" cy="304.0" r="3.50"/><circle cx="220.6" cy="304.0" r="3.50"/><circle cx="227.7" cy="304.0" r="3.50"/><circle cx="246.6" cy="304.0" r="3.50"/><circle cx="259.7" cy="304.0" r="3.50"/><circle cx="262.3" cy="304.0" r="3.50"/><circle cx="302.3" cy="329.0" r="2.81"/><circle cx="381.1" cy="310.0" r="3.17"/><circle cx="362.3" cy="308.0" r="2.75"/><circle cx="336.6" cy="308.0" r="2.90"/><circle cx="319.4" cy="311.0" r="2.86"/><circle cx="316.4" cy="309.0" r="2.99"/><circle cx="384.4" cy="311.0" r="2.78"/><circle cx="345.1" cy="310.0" r="2.57"/><circle cx="379.2" cy="317.0" r="2.87"/><circle cx="358.2" cy="322.0" r="3.15"/><circle cx="309.0" cy="318.0" r="2.85"/><circle cx="366.4" cy="315.0" r="2.76"/><circle cx="306.7" cy="314.0" r="2.74"/><circle cx="360.2" cy="323.0" r="2.81"/><circle cx="329.3" cy="334.0" r="2.65"/><circle cx="312.1" cy="335.0" r="2.79"/><circle cx="314.2" cy="331.0" r="3.00"/><circle cx="329.0" cy="314.0" r="2.70"/><circle cx="273.2" cy="318.0" r="2.74"/><circle cx="300.7" cy="320.0" r="2.67"/><circle cx="357.3" cy="316.0" r="3.03"/><circle cx="363.5" cy="312.0" r="3.12"/><circle cx="292.0" cy="312.0" r="2.51"/><circle cx="339.4" cy="326.0" r="3.08"/><circle cx="377.5" cy="334.0" r="2.55"/><circle cx="303.9" cy="309.0" r="2.74"/><circle cx="330.6" cy="321.0" r="2.73"/><circle cx="301.3" cy="327.0" r="3.11"/><circle cx="339.7" cy="314.0" r="2.54"/><circle cx="373.2" cy="327.0" r="2.58"/><circle cx="325.2" cy="322.0" r="3.03"/><circle cx="384.4" cy="311.0" r="3.00"/><circle cx="360.7" cy="331.0" r="2.55"/><circle cx="383.4" cy="338.0" r="2.94"/><circle cx="348.7" cy="315.0" r="2.78"/><circle cx="342.5" cy="311.0" r="3.10"/><circle cx="372.0" cy="328.0" r="2.67"/><circle cx="354.9" cy="308.0" r="2.53"/><circle cx="353.5" cy="314.0" r="3.19"/><circle cx="365.8" cy="329.0" r="2.96"/><circle cx="385.5" cy="308.0" r="2.98"/><circle cx="309.5" cy="318.0" r="2.88"/><circle cx="290.7" cy="323.0" r="3.14"/><circle cx="373.4" cy="330.0" r="2.78"/><circle cx="311.3" cy="335.0" r="3.14"/><circle cx="321.7" cy="331.0" r="2.53"/><circle cx="356.4" cy="320.0" r="3.01"/><circle cx="367.4" cy="321.0" r="2.84"/><circle cx="379.2" cy="309.0" r="3.04"/><circle cx="316.1" cy="335.0" r="2.57"/><circle cx="376.4" cy="321.0" r="2.94"/><circle cx="327.0" cy="324.0" r="2.89"/><circle cx="363.0" cy="331.0" r="2.81"/><circle cx="312.1" cy="335.0" r="3.03"/><circle cx="366.8" cy="310.0" r="2.68"/><circle cx="329.9" cy="313.0" r="2.91"/><circle cx="318.8" cy="314.0" r="3.12"/><circle cx="379.1" cy="338.0" r="2.85"/><circle cx="363.8" cy="322.0" r="2.90"/><circle cx="360.0" cy="320.0" r="2.76"/><circle cx="359.6" cy="319.0" r="3.16"/><circle cx="380.8" cy="310.0" r="2.60"/><circle cx="327.2" cy="317.0" r="2.51"/><circle cx="326.2" cy="336.0" r="2.68"/><circle cx="291.6" cy="332.0" r="2.81"/><circle cx="371.9" cy="334.0" r="2.58"/><circle cx="360.1" cy="321.0" r="2.82"/><circle cx="325.7" cy="338.0" r="2.56"/><circle cx="305.0" cy="323.0" r="2.79"/><circle cx="362.5" cy="317.0" r="2.99"/><circle cx="371.9" cy="326.0" r="3.14"/><circle cx="369.2" cy="335.0" r="2.73"/><circle cx="363.1" cy="320.0" r="2.56"/><circle cx="299.8" cy="321.0" r="3.03"/><circle cx="369.8" cy="337.0" r="2.76"/><circle cx="378.0" cy="315.0" r="2.53"/><circle cx="334.9" cy="314.0" r="3.16"/><circle cx="300.6" cy="328.0" r="3.14"/><circle cx="285.8" cy="322.0" r="2.98"/><circle cx="369.5" cy="327.0" r="2.63"/><circle cx="337.7" cy="315.0" r="3.13"/><circle cx="364.1" cy="309.0" r="2.82"/><circle cx="292.1" cy="333.0" r="2.73"/><circle cx="360.5" cy="321.0" r="2.85"/><circle cx="291.9" cy="335.0" r="2.89"/><circle cx="378.2" cy="330.0" r="2.97"/><circle cx="332.0" cy="315.0" r="2.94"/><circle cx="314.7" cy="311.0" r="2.62"/><circle cx="354.9" cy="320.0" r="2.82"/><circle cx="342.4" cy="309.0" r="3.19"/><circle cx="321.9" cy="337.0" r="2.65"/><circle cx="383.4" cy="327.0" r="3.19"/><circle cx="291.0" cy="311.0" r="2.94"/><circle cx="343.5" cy="336.0" r="2.71"/><circle cx="375.2" cy="327.0" r="3.09"/><circle cx="353.5" cy="316.0" r="2.56"/><circle cx="375.5" cy="320.0" r="2.95"/><circle cx="375.3" cy="328.0" r="3.12"/><circle cx="326.9" cy="338.0" r="2.66"/><circle cx="381.5" cy="328.0" r="2.75"/><circle cx="370.4" cy="316.0" r="2.50"/><circle cx="346.5" cy="314.0" r="2.62"/><circle cx="379.5" cy="313.0" r="2.83"/><circle cx="300.6" cy="333.0" r="3.14"/><circle cx="371.9" cy="312.0" r="2.71"/><circle cx="326.2" cy="331.0" r="3.18"/><circle cx="280.9" cy="308.0" r="2.75"/><circle cx="326.8" cy="324.0" r="2.69"/><circle cx="357.0" cy="330.0" r="2.99"/><circle cx="337.9" cy="323.0" r="2.76"/><circle cx="329.3" cy="316.0" r="2.70"/><circle cx="375.3" cy="315.0" r="2.73"/><circle cx="295.0" cy="323.0" r="2.85"/><circle cx="298.8" cy="333.0" r="2.64"/><circle cx="322.2" cy="320.0" r="2.86"/><circle cx="370.5" cy="308.0" r="3.06"/><circle cx="317.7" cy="334.0" r="2.58"/><circle cx="355.9" cy="319.0" r="2.55"/><circle cx="290.3" cy="325.0" r="2.59"/><circle cx="314.5" cy="338.0" r="2.95"/><circle cx="282.3" cy="332.0" r="2.64"/><circle cx="320.1" cy="336.0" r="3.02"/><circle cx="357.8" cy="322.0" r="3.18"/><circle cx="343.4" cy="337.0" r="3.19"/><circle cx="362.0" cy="310.0" r="3.16"/><circle cx="287.0" cy="336.0" r="3.01"/><circle cx="368.4" cy="327.0" r="2.99"/><circle cx="363.2" cy="321.0" r="3.19"/><circle cx="350.9" cy="322.0" r="2.52"/><circle cx="358.0" cy="322.0" r="3.01"/><circle cx="350.7" cy="317.0" r="3.15"/><circle cx="310.1" cy="332.0" r="3.04"/><circle cx="376.2" cy="338.0" r="2.50"/><circle cx="299.7" cy="337.0" r="2.56"/><circle cx="275.5" cy="311.0" r="2.72"/><circle cx="326.0" cy="317.0" r="2.94"/><circle cx="371.7" cy="312.0" r="2.95"/><circle cx="355.8" cy="337.0" r="3.06"/><circle cx="326.5" cy="335.0" r="3.05"/><circle cx="331.5" cy="331.0" r="2.55"/><circle cx="342.0" cy="325.0" r="3.02"/><circle cx="373.7" cy="334.0" r="2.99"/><circle cx="371.1" cy="310.0" r="3.08"/><circle cx="384.3" cy="313.0" r="3.16"/><circle cx="364.2" cy="331.0" r="2.63"/><circle cx="359.3" cy="335.0" r="2.75"/><circle cx="302.1" cy="331.0" r="2.96"/><circle cx="381.2" cy="327.0" r="2.83"/><circle cx="344.6" cy="314.0" r="2.95"/><circle cx="299.5" cy="308.0" r="2.99"/><circle cx="332.8" cy="325.0" r="2.56"/><circle cx="335.8" cy="328.0" r="2.66"/><circle cx="293.7" cy="335.0" r="2.93"/><circle cx="283.5" cy="327.0" r="3.12"/><circle cx="322.5" cy="308.0" r="2.97"/><circle cx="337.0" cy="309.0" r="2.91"/><circle cx="372.6" cy="321.0" r="2.89"/><circle cx="334.3" cy="323.0" r="3.06"/><circle cx="347.8" cy="309.0" r="2.55"/><circle cx="371.9" cy="308.0" r="2.52"/><circle cx="341.7" cy="308.0" r="2.58"/><circle cx="373.1" cy="327.0" r="3.10"/><circle cx="363.4" cy="315.0" r="2.90"/><circle cx="364.1" cy="321.0" r="2.96"/><circle cx="295.7" cy="310.0" r="2.94"/><circle cx="340.7" cy="329.0" r="2.89"/><circle cx="335.2" cy="330.0" r="3.18"/><circle cx="359.6" cy="323.0" r="2.98"/><circle cx="341.3" cy="314.0" r="2.51"/><circle cx="367.6" cy="314.0" r="2.77"/><circle cx="344.3" cy="336.0" r="2.82"/><circle cx="333.8" cy="336.0" r="3.02"/><circle cx="357.7" cy="324.0" r="2.89"/><circle cx="358.3" cy="336.0" r="2.98"/><circle cx="373.8" cy="328.0" r="3.10"/><circle cx="340.7" cy="314.0" r="2.98"/><circle cx="310.4" cy="332.0" r="3.05"/><circle cx="318.4" cy="308.0" r="3.17"/><circle cx="312.6" cy="323.0" r="2.71"/><circle cx="370.0" cy="336.0" r="3.10"/><circle cx="318.1" cy="324.0" r="2.82"/><circle cx="293.0" cy="322.0" r="2.78"/><circle cx="368.0" cy="322.0" r="2.78"/><circle cx="300.9" cy="318.0" r="2.62"/><circle cx="363.6" cy="313.0" r="2.95"/><circle cx="337.9" cy="336.0" r="2.85"/><circle cx="345.4" cy="321.0" r="2.68"/><circle cx="285.8" cy="308.0" r="2.85"/><circle cx="366.4" cy="316.0" r="2.59"/><circle cx="360.1" cy="331.0" r="3.18"/><circle cx="352.3" cy="331.0" r="2.75"/><circle cx="306.1" cy="312.0" r="3.01"/><circle cx="355.9" cy="314.0" r="2.79"/><circle cx="319.4" cy="308.0" r="3.10"/><circle cx="339.9" cy="325.0" r="2.90"/><circle cx="349.3" cy="317.0" r="2.73"/><circle cx="303.6" cy="326.0" r="3.14"/><circle cx="381.1" cy="322.0" r="2.81"/><circle cx="341.6" cy="319.0" r="2.94"/><circle cx="319.9" cy="328.0" r="3.15"/><circle cx="330.8" cy="315.0" r="2.79"/><circle cx="378.1" cy="330.0" r="3.10"/><circle cx="344.5" cy="334.0" r="3.16"/><circle cx="322.6" cy="329.0" r="2.62"/><circle cx="326.6" cy="322.0" r="2.72"/><circle cx="369.0" cy="314.0" r="3.06"/><circle cx="321.4" cy="325.0" r="2.90"/><circle cx="368.5" cy="319.0" r="3.08"/><circle cx="368.4" cy="313.0" r="3.10"/><circle cx="322.5" cy="323.0" r="3.02"/><circle cx="338.1" cy="321.0" r="3.18"/><circle cx="350.5" cy="325.0" r="3.14"/><circle cx="321.5" cy="336.0" r="2.81"/><circle cx="360.5" cy="310.0" r="2.97"/><circle cx="346.8" cy="311.0" r="3.01"/><circle cx="356.0" cy="321.0" r="2.62"/><circle cx="372.8" cy="317.0" r="2.60"/><circle cx="350.4" cy="322.0" r="3.10"/><circle cx="283.5" cy="328.0" r="2.87"/><circle cx="333.6" cy="313.0" r="2.80"/><circle cx="293.7" cy="328.0" r="2.51"/><circle cx="378.7" cy="327.0" r="3.12"/><circle cx="355.1" cy="310.0" r="2.87"/><circle cx="315.6" cy="330.0" r="2.93"/><circle cx="317.4" cy="319.0" r="2.56"/><circle cx="297.5" cy="333.0" r="2.88"/><circle cx="304.9" cy="324.0" r="2.83"/><circle cx="364.2" cy="338.0" r="2.99"/><circle cx="352.7" cy="334.0" r="2.71"/><circle cx="313.6" cy="316.0" r="2.56"/><circle cx="286.4" cy="322.0" r="2.56"/><circle cx="305.9" cy="333.0" r="2.70"/><circle cx="369.9" cy="323.0" r="2.85"/><circle cx="321.0" cy="314.0" r="2.68"/><circle cx="349.4" cy="328.0" r="2.61"/><circle cx="301.1" cy="322.0" r="3.14"/><circle cx="319.9" cy="322.0" r="2.53"/><circle cx="381.2" cy="328.0" r="2.57"/><circle cx="355.6" cy="330.0" r="2.54"/><circle cx="328.9" cy="315.0" r="3.17"/><circle cx="356.6" cy="322.0" r="3.03"/><circle cx="310.0" cy="335.0" r="3.19"/><circle cx="309.4" cy="319.0" r="2.75"/><circle cx="330.6" cy="313.0" r="2.87"/><circle cx="321.9" cy="320.0" r="2.51"/><circle cx="343.6" cy="336.0" r="2.63"/><circle cx="296.6" cy="324.0" r="3.15"/><circle cx="367.6" cy="312.0" r="2.82"/><circle cx="352.9" cy="314.0" r="3.16"/><circle cx="331.4" cy="320.0" r="2.79"/><circle cx="315.1" cy="321.0" r="2.96"/><circle cx="322.1" cy="326.0" r="2.88"/><circle cx="384.4" cy="327.0" r="2.55"/><circle cx="319.1" cy="314.0" r="2.88"/><circle cx="337.4" cy="331.0" r="3.15"/><circle cx="317.4" cy="334.0" r="2.82"/><circle cx="320.1" cy="329.0" r="2.91"/><circle cx="343.7" cy="322.0" r="3.11"/><circle cx="343.8" cy="310.0" r="3.10"/><circle cx="362.4" cy="314.0" r="2.85"/><circle cx="314.3" cy="335.0" r="2.61"/><circle cx="365.2" cy="312.0" r="2.86"/><circle cx="329.7" cy="311.0" r="2.81"/><circle cx="377.9" cy="308.0" r="2.66"/><circle cx="299.5" cy="332.0" r="2.69"/><circle cx="323.9" cy="338.0" r="2.85"/><circle cx="341.3" cy="320.0" r="2.57"/><circle cx="359.9" cy="331.0" r="2.96"/><circle cx="333.8" cy="316.0" r="2.82"/><circle cx="322.3" cy="331.0" r="2.80"/><circle cx="296.6" cy="324.0" r="2.87"/><circle cx="315.2" cy="331.0" r="2.71"/><circle cx="358.9" cy="324.0" r="3.15"/><circle cx="289.1" cy="326.0" r="2.92"/><circle cx="303.8" cy="326.0" r="2.83"/><circle cx="330.5" cy="312.0" r="2.51"/><circle cx="287.8" cy="311.0" r="2.76"/><circle cx="365.7" cy="338.0" r="2.75"/><circle cx="331.8" cy="336.0" r="2.56"/><circle cx="340.9" cy="335.0" r="2.87"/><circle cx="300.0" cy="333.0" r="2.89"/><circle cx="356.6" cy="329.0" r="2.98"/><circle cx="351.8" cy="326.0" r="2.83"/><circle cx="372.1" cy="316.0" r="2.51"/><circle cx="289.7" cy="318.0" r="3.03"/><circle cx="303.6" cy="332.0" r="2.63"/><circle cx="361.8" cy="327.0" r="3.11"/><circle cx="302.3" cy="310.0" r="3.01"/><circle cx="368.5" cy="337.0" r="2.89"/><circle cx="356.7" cy="324.0" r="2.68"/><circle cx="310.9" cy="332.0" r="2.92"/><circle cx="358.9" cy="331.0" r="3.09"/><circle cx="309.4" cy="318.0" r="2.86"/><circle cx="313.2" cy="317.0" r="3.04"/><circle cx="357.3" cy="328.0" r="2.55"/><circle cx="373.9" cy="324.0" r="2.50"/><circle cx="326.6" cy="321.0" r="3.13"/><circle cx="361.3" cy="323.0" r="2.65"/><circle cx="371.8" cy="321.0" r="2.88"/><circle cx="323.7" cy="325.0" r="2.89"/><circle cx="354.7" cy="309.0" r="2.87"/><circle cx="336.1" cy="319.0" r="2.51"/><circle cx="341.3" cy="336.0" r="2.68"/><circle cx="318.4" cy="310.0" r="2.97"/><circle cx="300.2" cy="333.0" r="2.57"/><circle cx="326.2" cy="336.0" r="3.10"/><circle cx="349.2" cy="328.0" r="2.70"/><circle cx="280.8" cy="331.0" r="2.84"/><circle cx="283.1" cy="325.0" r="2.54"/><circle cx="312.5" cy="336.0" r="2.66"/><circle cx="299.8" cy="333.0" r="2.75"/><circle cx="296.9" cy="324.0" r="2.87"/><circle cx="305.2" cy="318.0" r="3.09"/><circle cx="349.3" cy="316.0" r="2.56"/><circle cx="376.9" cy="315.0" r="2.84"/><circle cx="366.8" cy="335.0" r="2.87"/><circle cx="334.5" cy="311.0" r="3.18"/><circle cx="360.2" cy="326.0" r="2.93"/><circle cx="260.0" cy="321.0" r="3.50"/><circle cx="275.0" cy="321.0" r="3.50"/><circle cx="285.0" cy="321.0" r="3.50"/><circle cx="250.0" cy="336.0" r="3.50"/><circle cx="265.0" cy="337.0" r="3.50"/><circle cx="270.0" cy="344.0" r="3.50"/><circle cx="276.0" cy="344.0" r="3.50"/><circle cx="354.4" cy="352.0" r="2.66"/><circle cx="326.9" cy="353.0" r="2.85"/><circle cx="352.4" cy="350.0" r="3.02"/><circle cx="384.8" cy="342.0" r="2.59"/><circle cx="359.0" cy="354.0" r="3.02"/><circle cx="361.3" cy="347.0" r="3.04"/><circle cx="351.3" cy="356.0" r="2.51"/><circle cx="383.7" cy="354.0" r="2.62"/><circle cx="321.8" cy="355.0" r="3.02"/><circle cx="375.6" cy="351.0" r="2.75"/><circle cx="365.8" cy="352.0" r="2.91"/><circle cx="366.3" cy="350.0" r="3.13"/><circle cx="371.7" cy="341.0" r="2.99"/><circle cx="387.3" cy="345.0" r="2.61"/><circle cx="330.1" cy="345.0" r="3.16"/><circle cx="387.9" cy="357.0" r="3.14"/><circle cx="361.6" cy="348.0" r="2.58"/><circle cx="339.4" cy="355.0" r="2.69"/><circle cx="347.8" cy="341.0" r="3.08"/><circle cx="345.6" cy="350.0" r="2.53"/><circle cx="386.8" cy="352.0" r="3.11"/><circle cx="370.7" cy="353.0" r="3.09"/><circle cx="380.6" cy="341.0" r="3.14"/><circle cx="324.6" cy="348.0" r="3.16"/><circle cx="389.3" cy="346.0" r="3.03"/><circle cx="386.1" cy="342.0" r="2.95"/><circle cx="388.5" cy="344.0" r="2.63"/><circle cx="374.1" cy="361.6" r="2.94"/><circle cx="339.8" cy="360.6" r="2.87"/><circle cx="319.7" cy="358.5" r="2.55"/><circle cx="370.2" cy="365.9" r="2.51"/><circle cx="252.7" cy="360.6" r="3.08"/><circle cx="327.1" cy="358.5" r="2.77"/><circle cx="305.7" cy="364.8" r="2.66"/><circle cx="313.8" cy="367.9" r="2.65"/><circle cx="336.7" cy="362.7" r="2.54"/><circle cx="262.7" cy="358.5" r="2.60"/><circle cx="287.1" cy="359.6" r="2.71"/><circle cx="290.8" cy="360.6" r="2.82"/><circle cx="333.6" cy="362.7" r="3.05"/><circle cx="348.7" cy="360.6" r="2.91"/><circle cx="367.1" cy="365.9" r="3.10"/><circle cx="306.0" cy="364.8" r="2.94"/><circle cx="352.9" cy="366.9" r="3.11"/><circle cx="228.0" cy="361.0" r="3.50"/><circle cx="246.0" cy="362.0" r="3.50"/><circle cx="246.0" cy="371.0" r="3.50"/><circle cx="318.0" cy="372.0" r="3.50"/><circle cx="325.0" cy="372.0" r="3.50"/></g>
<g fill="#7ef7f0"><circle cx="311.7" cy="46.6" r="1.94"/><circle cx="328.2" cy="42.6" r="2.14"/><circle cx="326.8" cy="41.6" r="2.21"/><circle cx="364.5" cy="43.6" r="1.78"/><circle cx="314.9" cy="49.5" r="2.16"/><circle cx="353.5" cy="43.6" r="1.92"/><circle cx="365.9" cy="47.6" r="1.80"/><circle cx="360.2" cy="64.3" r="2.00"/><circle cx="333.7" cy="64.3" r="2.01"/><circle cx="379.7" cy="59.4" r="2.14"/><circle cx="315.0" cy="61.3" r="2.09"/><circle cx="367.4" cy="63.3" r="2.03"/><circle cx="233.7" cy="60.0" r="2.65"/><circle cx="327.3" cy="81.5" r="2.17"/><circle cx="327.8" cy="81.5" r="2.09"/><circle cx="374.8" cy="74.5" r="2.10"/><circle cx="366.3" cy="78.5" r="1.99"/><circle cx="346.3" cy="87.5" r="1.97"/><circle cx="354.0" cy="82.5" r="2.33"/><circle cx="355.8" cy="86.5" r="2.21"/><circle cx="368.7" cy="73.5" r="2.29"/><circle cx="377.0" cy="84.5" r="2.34"/><circle cx="376.5" cy="82.5" r="2.21"/><circle cx="374.7" cy="73.5" r="2.32"/><circle cx="330.1" cy="107.0" r="2.13"/><circle cx="374.7" cy="105.0" r="2.08"/><circle cx="376.1" cy="99.0" r="2.01"/><circle cx="383.9" cy="112.0" r="2.15"/><circle cx="334.4" cy="102.0" r="1.69"/><circle cx="333.3" cy="105.0" r="1.82"/><circle cx="319.0" cy="97.0" r="1.88"/><circle cx="363.0" cy="106.0" r="2.25"/><circle cx="354.8" cy="106.0" r="2.19"/><circle cx="349.5" cy="95.0" r="2.08"/><circle cx="324.6" cy="109.0" r="1.76"/><circle cx="335.7" cy="113.0" r="1.80"/><circle cx="361.4" cy="107.0" r="2.03"/><circle cx="367.0" cy="98.0" r="2.03"/><circle cx="367.3" cy="104.0" r="2.12"/><circle cx="384.9" cy="98.0" r="2.23"/><circle cx="377.0" cy="111.0" r="1.93"/><circle cx="367.0" cy="106.0" r="1.90"/><circle cx="349.6" cy="97.0" r="1.89"/><circle cx="337.2" cy="100.0" r="2.24"/><circle cx="361.7" cy="114.0" r="1.66"/><circle cx="374.6" cy="103.0" r="1.70"/><circle cx="366.2" cy="100.0" r="1.90"/><circle cx="383.3" cy="97.0" r="2.26"/><circle cx="377.0" cy="101.0" r="1.83"/><circle cx="336.4" cy="107.0" r="2.00"/><circle cx="358.8" cy="109.0" r="1.88"/><circle cx="376.8" cy="109.0" r="1.81"/><circle cx="344.8" cy="106.0" r="2.19"/><circle cx="363.8" cy="105.0" r="1.82"/><circle cx="376.1" cy="96.0" r="2.29"/><circle cx="364.7" cy="98.0" r="1.83"/><circle cx="353.4" cy="111.0" r="2.29"/><circle cx="336.4" cy="106.0" r="2.29"/><circle cx="350.8" cy="106.0" r="1.91"/><circle cx="351.2" cy="112.0" r="2.15"/><circle cx="330.0" cy="102.0" r="1.67"/><circle cx="373.7" cy="104.0" r="2.05"/><circle cx="382.0" cy="102.0" r="2.27"/><circle cx="361.0" cy="114.0" r="2.08"/><circle cx="320.1" cy="105.0" r="2.15"/><circle cx="376.4" cy="100.0" r="2.09"/><circle cx="365.0" cy="113.0" r="2.08"/><circle cx="349.5" cy="96.0" r="2.23"/><circle cx="358.7" cy="108.0" r="2.29"/><circle cx="375.7" cy="95.0" r="2.13"/><circle cx="353.6" cy="102.0" r="1.90"/><circle cx="338.0" cy="94.0" r="1.78"/><circle cx="347.6" cy="101.0" r="1.80"/><circle cx="382.6" cy="94.0" r="2.34"/><circle cx="345.9" cy="94.0" r="2.00"/><circle cx="375.7" cy="114.0" r="1.71"/><circle cx="384.8" cy="111.0" r="2.13"/><circle cx="343.8" cy="104.0" r="1.72"/><circle cx="351.4" cy="94.0" r="2.15"/><circle cx="375.9" cy="106.0" r="2.32"/><circle cx="339.6" cy="99.0" r="2.09"/><circle cx="381.6" cy="109.0" r="1.86"/><circle cx="351.8" cy="107.0" r="2.17"/><circle cx="365.7" cy="111.0" r="2.10"/><circle cx="347.0" cy="105.0" r="1.77"/><circle cx="384.8" cy="98.0" r="2.34"/><circle cx="380.5" cy="97.0" r="1.87"/><circle cx="366.7" cy="108.0" r="2.13"/><circle cx="338.5" cy="95.0" r="2.26"/><circle cx="327.0" cy="109.0" r="1.83"/><circle cx="349.2" cy="106.0" r="2.09"/><circle cx="365.9" cy="105.0" r="1.88"/><circle cx="372.4" cy="104.0" r="1.79"/><circle cx="379.9" cy="112.0" r="2.05"/><circle cx="373.7" cy="107.0" r="1.74"/><circle cx="381.4" cy="102.0" r="1.74"/><circle cx="372.6" cy="106.0" r="1.85"/><circle cx="341.2" cy="114.0" r="1.66"/><circle cx="373.8" cy="112.0" r="2.20"/><circle cx="350.5" cy="98.0" r="1.84"/><circle cx="373.2" cy="102.0" r="1.93"/><circle cx="326.1" cy="98.0" r="2.15"/><circle cx="379.9" cy="97.0" r="1.79"/><circle cx="366.5" cy="105.0" r="2.35"/><circle cx="357.0" cy="97.0" r="2.28"/><circle cx="383.6" cy="111.0" r="1.77"/><circle cx="351.9" cy="96.0" r="2.21"/><circle cx="349.2" cy="114.0" r="1.92"/><circle cx="357.5" cy="113.0" r="1.75"/><circle cx="357.3" cy="112.0" r="2.14"/><circle cx="351.5" cy="111.0" r="2.26"/><circle cx="342.3" cy="108.0" r="1.72"/><circle cx="384.9" cy="102.0" r="1.95"/><circle cx="354.7" cy="98.0" r="1.66"/><circle cx="367.5" cy="112.0" r="1.84"/><circle cx="350.9" cy="106.0" r="1.81"/><circle cx="344.8" cy="109.0" r="2.04"/><circle cx="326.5" cy="111.0" r="1.70"/><circle cx="375.1" cy="103.0" r="1.65"/><circle cx="356.4" cy="104.0" r="2.35"/><circle cx="385.6" cy="100.0" r="1.94"/><circle cx="356.6" cy="95.0" r="2.21"/><circle cx="369.2" cy="106.0" r="1.80"/><circle cx="370.7" cy="113.0" r="2.09"/><circle cx="343.6" cy="102.0" r="1.85"/><circle cx="385.7" cy="101.0" r="1.96"/><circle cx="339.7" cy="95.0" r="1.67"/><circle cx="366.0" cy="99.0" r="2.12"/><circle cx="357.1" cy="102.0" r="2.18"/><circle cx="328.6" cy="103.0" r="1.98"/><circle cx="327.7" cy="100.0" r="1.91"/><circle cx="381.8" cy="102.0" r="2.20"/><circle cx="244.0" cy="104.5" r="2.55"/><circle cx="277.0" cy="110.0" r="2.55"/><circle cx="292.0" cy="113.0" r="2.55"/><circle cx="296.0" cy="107.0" r="2.55"/><circle cx="381.2" cy="134.5" r="1.70"/><circle cx="368.4" cy="121.1" r="1.77"/><circle cx="309.2" cy="127.3" r="1.89"/><circle cx="367.4" cy="124.2" r="1.73"/><circle cx="305.6" cy="122.1" r="1.67"/><circle cx="382.6" cy="131.4" r="1.70"/><circle cx="358.8" cy="123.2" r="1.87"/><circle cx="360.5" cy="123.2" r="2.35"/><circle cx="302.1" cy="129.3" r="1.89"/><circle cx="210.0" cy="125.5" r="2.75"/><circle cx="223.0" cy="125.5" r="2.75"/><circle cx="328.7" cy="144.8" r="2.18"/><circle cx="321.1" cy="142.7" r="1.71"/><circle cx="353.0" cy="141.7" r="2.22"/><circle cx="361.6" cy="143.8" r="1.91"/><circle cx="344.8" cy="138.5" r="2.13"/><circle cx="352.3" cy="138.5" r="1.81"/><circle cx="340.3" cy="141.7" r="1.87"/><circle cx="375.6" cy="139.6" r="2.10"/><circle cx="386.0" cy="137.5" r="1.99"/><circle cx="360.6" cy="143.8" r="2.04"/><circle cx="365.9" cy="142.7" r="1.67"/><circle cx="372.2" cy="147.9" r="2.06"/><circle cx="378.3" cy="137.5" r="1.99"/><circle cx="367.9" cy="142.7" r="2.34"/><circle cx="335.5" cy="138.5" r="1.71"/><circle cx="372.1" cy="147.9" r="1.91"/><circle cx="364.6" cy="144.8" r="2.21"/><circle cx="345.4" cy="144.8" r="2.16"/><circle cx="374.5" cy="138.5" r="2.32"/><circle cx="367.2" cy="142.7" r="2.03"/><circle cx="368.6" cy="138.5" r="1.93"/><circle cx="380.9" cy="149.0" r="2.04"/><circle cx="327.0" cy="140.6" r="1.88"/><circle cx="377.9" cy="139.6" r="1.74"/><circle cx="347.7" cy="141.7" r="1.67"/><circle cx="373.3" cy="143.8" r="1.79"/><circle cx="379.9" cy="149.0" r="2.00"/><circle cx="374.3" cy="149.0" r="2.01"/><circle cx="327.3" cy="144.8" r="2.17"/><circle cx="374.9" cy="139.6" r="1.88"/><circle cx="351.8" cy="137.5" r="1.76"/><circle cx="351.3" cy="142.7" r="2.21"/><circle cx="352.7" cy="147.9" r="2.05"/><circle cx="347.8" cy="144.8" r="2.06"/><circle cx="365.8" cy="144.8" r="1.93"/><circle cx="368.4" cy="138.5" r="1.81"/><circle cx="341.6" cy="141.7" r="1.94"/><circle cx="345.1" cy="137.5" r="1.69"/><circle cx="343.0" cy="141.7" r="2.15"/><circle cx="372.4" cy="143.8" r="1.70"/><circle cx="383.8" cy="139.6" r="2.29"/><circle cx="349.6" cy="144.8" r="1.73"/><circle cx="374.0" cy="139.6" r="1.72"/><circle cx="349.1" cy="141.7" r="1.76"/><circle cx="350.3" cy="149.0" r="1.76"/><circle cx="346.2" cy="144.8" r="1.76"/><circle cx="350.6" cy="150.0" r="1.86"/><circle cx="371.2" cy="140.6" r="1.80"/><circle cx="374.5" cy="140.6" r="2.17"/><circle cx="330.4" cy="142.7" r="2.19"/><circle cx="334.5" cy="146.9" r="2.35"/><circle cx="368.3" cy="142.7" r="1.90"/><circle cx="370.5" cy="150.0" r="1.85"/><circle cx="382.1" cy="149.0" r="1.73"/><circle cx="314.2" cy="142.7" r="2.03"/><circle cx="356.2" cy="141.7" r="1.85"/><circle cx="332.7" cy="145.8" r="1.99"/><circle cx="314.1" cy="141.7" r="2.21"/><circle cx="335.0" cy="145.8" r="1.92"/><circle cx="378.7" cy="145.8" r="2.08"/><circle cx="376.3" cy="145.8" r="1.76"/><circle cx="367.7" cy="150.0" r="2.29"/><circle cx="366.6" cy="150.0" r="1.86"/><circle cx="373.5" cy="143.8" r="1.90"/><circle cx="361.7" cy="150.0" r="1.99"/><circle cx="351.5" cy="147.9" r="2.16"/><circle cx="359.7" cy="147.9" r="2.05"/><circle cx="377.1" cy="142.7" r="1.70"/><circle cx="330.2" cy="145.8" r="2.31"/><circle cx="371.7" cy="147.9" r="1.86"/><circle cx="329.5" cy="137.5" r="2.05"/><circle cx="337.6" cy="138.5" r="1.91"/><circle cx="376.5" cy="142.7" r="1.69"/><circle cx="368.0" cy="147.9" r="1.75"/><circle cx="358.0" cy="143.8" r="2.34"/><circle cx="381.7" cy="147.9" r="2.33"/><circle cx="363.3" cy="145.8" r="1.96"/><circle cx="337.2" cy="147.9" r="2.02"/><circle cx="364.6" cy="142.7" r="2.30"/><circle cx="328.4" cy="149.0" r="1.75"/><circle cx="324.6" cy="140.6" r="1.99"/><circle cx="382.4" cy="145.8" r="2.28"/><circle cx="331.8" cy="138.5" r="1.86"/><circle cx="339.9" cy="142.7" r="1.84"/><circle cx="383.8" cy="139.6" r="2.31"/><circle cx="378.8" cy="139.6" r="2.30"/><circle cx="367.8" cy="137.5" r="2.21"/><circle cx="363.3" cy="147.9" r="2.28"/><circle cx="379.0" cy="142.7" r="1.71"/><circle cx="335.5" cy="145.8" r="2.29"/><circle cx="329.2" cy="138.5" r="2.26"/><circle cx="356.4" cy="137.5" r="1.75"/><circle cx="370.9" cy="139.6" r="2.01"/><circle cx="321.1" cy="157.5" r="2.01"/><circle cx="369.2" cy="161.5" r="2.12"/><circle cx="344.2" cy="162.5" r="1.71"/><circle cx="358.9" cy="166.0" r="2.33"/><circle cx="355.4" cy="173.2" r="1.69"/><circle cx="372.6" cy="173.2" r="1.81"/><circle cx="383.0" cy="177.3" r="1.83"/><circle cx="310.8" cy="181.4" r="1.90"/><circle cx="376.4" cy="166.0" r="1.99"/><circle cx="318.2" cy="180.4" r="1.87"/><circle cx="360.4" cy="181.4" r="2.30"/><circle cx="369.5" cy="171.2" r="1.96"/><circle cx="390.3" cy="174.2" r="2.29"/><circle cx="380.5" cy="172.2" r="2.15"/><circle cx="379.9" cy="174.2" r="1.77"/><circle cx="338.5" cy="180.4" r="1.82"/><circle cx="388.8" cy="165.0" r="2.11"/><circle cx="377.5" cy="180.4" r="2.08"/><circle cx="391.3" cy="177.3" r="2.10"/><circle cx="387.6" cy="167.1" r="1.76"/><circle cx="382.6" cy="173.2" r="2.26"/><circle cx="333.9" cy="174.2" r="2.08"/><circle cx="382.8" cy="173.2" r="2.09"/><circle cx="311.9" cy="169.1" r="2.12"/><circle cx="383.2" cy="178.4" r="2.19"/><circle cx="363.7" cy="165.0" r="2.31"/><circle cx="329.1" cy="180.4" r="2.15"/><circle cx="282.4" cy="166.0" r="1.76"/><circle cx="331.4" cy="172.2" r="2.08"/><circle cx="297.6" cy="168.1" r="2.01"/><circle cx="358.6" cy="175.3" r="2.13"/><circle cx="369.5" cy="165.0" r="2.13"/><circle cx="286.7" cy="168.1" r="2.30"/><circle cx="338.1" cy="165.0" r="2.32"/><circle cx="389.4" cy="174.2" r="2.19"/><circle cx="312.9" cy="175.3" r="1.80"/><circle cx="300.3" cy="180.4" r="1.72"/><circle cx="295.3" cy="182.5" r="2.18"/><circle cx="334.7" cy="181.4" r="1.79"/><circle cx="266.1" cy="183.5" r="1.95"/><circle cx="303.4" cy="177.3" r="1.69"/><circle cx="340.9" cy="176.3" r="2.25"/><circle cx="348.7" cy="182.5" r="1.93"/><circle cx="380.0" cy="172.2" r="2.29"/><circle cx="312.7" cy="167.1" r="1.95"/><circle cx="376.7" cy="178.4" r="2.04"/><circle cx="388.2" cy="181.4" r="1.83"/><circle cx="349.2" cy="182.5" r="1.66"/><circle cx="323.8" cy="167.1" r="2.19"/><circle cx="357.2" cy="166.0" r="1.78"/><circle cx="371.8" cy="173.2" r="2.06"/><circle cx="338.0" cy="175.3" r="2.21"/><circle cx="363.0" cy="166.0" r="1.97"/><circle cx="389.3" cy="178.4" r="2.32"/><circle cx="384.8" cy="171.2" r="2.27"/><circle cx="352.8" cy="166.0" r="1.65"/><circle cx="369.3" cy="179.4" r="1.96"/><circle cx="318.7" cy="169.1" r="2.00"/><circle cx="350.5" cy="172.2" r="2.10"/><circle cx="294.7" cy="178.4" r="2.15"/><circle cx="291.4" cy="169.1" r="2.05"/><circle cx="282.4" cy="177.3" r="1.70"/><circle cx="378.6" cy="177.3" r="2.08"/><circle cx="384.8" cy="171.2" r="2.25"/><circle cx="388.8" cy="180.4" r="2.26"/><circle cx="286.9" cy="168.1" r="1.67"/><circle cx="366.4" cy="181.4" r="2.17"/><circle cx="333.4" cy="171.2" r="2.20"/><circle cx="348.3" cy="173.2" r="1.91"/><circle cx="326.9" cy="178.4" r="1.95"/><circle cx="365.1" cy="171.2" r="1.94"/><circle cx="367.8" cy="174.2" r="1.71"/><circle cx="366.5" cy="180.4" r="2.04"/><circle cx="375.0" cy="177.3" r="2.00"/><circle cx="388.5" cy="177.3" r="1.70"/><circle cx="339.5" cy="172.2" r="2.16"/><circle cx="349.8" cy="179.4" r="2.11"/><circle cx="367.1" cy="172.2" r="1.71"/><circle cx="271.5" cy="183.5" r="1.89"/><circle cx="282.3" cy="177.3" r="1.94"/><circle cx="334.1" cy="178.4" r="2.08"/><circle cx="384.6" cy="172.2" r="1.86"/><circle cx="373.1" cy="171.2" r="1.95"/><circle cx="363.4" cy="180.4" r="2.22"/><circle cx="302.4" cy="177.3" r="2.33"/><circle cx="380.0" cy="175.3" r="2.06"/><circle cx="329.6" cy="173.2" r="2.13"/><circle cx="361.4" cy="178.4" r="2.34"/><circle cx="312.0" cy="169.1" r="2.06"/><circle cx="391.0" cy="181.4" r="1.84"/><circle cx="265.9" cy="183.5" r="2.32"/><circle cx="370.7" cy="198.1" r="2.03"/><circle cx="354.2" cy="186.5" r="1.77"/><circle cx="369.0" cy="199.1" r="1.82"/><circle cx="339.7" cy="200.1" r="1.96"/><circle cx="389.9" cy="195.2" r="2.30"/><circle cx="309.1" cy="185.5" r="2.16"/><circle cx="366.1" cy="191.3" r="1.82"/><circle cx="356.0" cy="194.2" r="2.32"/><circle cx="327.1" cy="201.1" r="2.10"/><circle cx="331.1" cy="193.3" r="2.21"/><circle cx="374.5" cy="192.3" r="1.69"/><circle cx="211.0" cy="193.0" r="2.75"/><circle cx="224.0" cy="193.0" r="2.75"/><circle cx="204.0" cy="203.0" r="2.75"/><circle cx="333.8" cy="215.0" r="1.71"/><circle cx="359.3" cy="214.1" r="2.08"/><circle cx="378.2" cy="215.0" r="2.20"/><circle cx="347.9" cy="212.2" r="2.10"/><circle cx="386.4" cy="211.2" r="2.20"/><circle cx="371.0" cy="207.4" r="1.90"/><circle cx="363.3" cy="211.2" r="1.84"/><circle cx="318.2" cy="216.0" r="1.85"/><circle cx="362.4" cy="216.0" r="1.83"/><circle cx="363.9" cy="211.2" r="2.33"/><circle cx="384.2" cy="208.3" r="1.86"/><circle cx="365.5" cy="212.2" r="2.14"/><circle cx="354.7" cy="216.0" r="2.09"/><circle cx="330.6" cy="214.1" r="2.18"/><circle cx="312.3" cy="209.3" r="1.70"/><circle cx="384.8" cy="213.1" r="2.21"/><circle cx="376.4" cy="212.2" r="1.86"/><circle cx="294.0" cy="213.1" r="2.10"/><circle cx="358.3" cy="211.2" r="1.66"/><circle cx="306.7" cy="212.2" r="2.20"/><circle cx="361.9" cy="215.0" r="1.82"/><circle cx="363.4" cy="213.1" r="1.87"/><circle cx="358.8" cy="206.4" r="1.96"/><circle cx="387.6" cy="210.2" r="1.90"/><circle cx="357.8" cy="216.0" r="1.74"/><circle cx="307.8" cy="216.0" r="2.04"/><circle cx="360.1" cy="207.4" r="1.78"/><circle cx="321.7" cy="215.0" r="2.34"/><circle cx="339.1" cy="215.0" r="1.86"/><circle cx="378.5" cy="207.4" r="2.10"/><circle cx="325.3" cy="223.9" r="1.72"/><circle cx="358.9" cy="218.7" r="2.19"/><circle cx="373.8" cy="220.8" r="2.20"/><circle cx="334.6" cy="219.7" r="1.91"/><circle cx="373.6" cy="226.0" r="2.17"/><circle cx="305.2" cy="222.8" r="1.99"/><circle cx="361.0" cy="219.7" r="2.21"/><circle cx="389.3" cy="222.8" r="1.69"/><circle cx="370.0" cy="222.8" r="2.32"/><circle cx="330.7" cy="219.7" r="2.34"/><circle cx="387.9" cy="221.8" r="1.81"/><circle cx="341.3" cy="226.0" r="1.96"/><circle cx="328.6" cy="223.9" r="2.28"/><circle cx="285.6" cy="227.0" r="1.86"/><circle cx="382.5" cy="222.8" r="1.93"/><circle cx="369.9" cy="219.7" r="2.22"/><circle cx="356.2" cy="219.7" r="1.93"/><circle cx="349.5" cy="223.9" r="2.00"/><circle cx="346.7" cy="218.7" r="1.84"/><circle cx="355.0" cy="222.8" r="2.05"/><circle cx="352.3" cy="222.8" r="1.97"/><circle cx="349.5" cy="218.7" r="1.99"/><circle cx="315.7" cy="224.9" r="2.09"/><circle cx="345.6" cy="218.7" r="1.86"/><circle cx="339.2" cy="219.7" r="2.21"/><circle cx="378.7" cy="218.7" r="1.67"/><circle cx="367.1" cy="235.8" r="2.14"/><circle cx="288.4" cy="240.7" r="2.34"/><circle cx="364.9" cy="241.7" r="2.21"/><circle cx="386.6" cy="243.6" r="1.75"/><circle cx="368.7" cy="243.6" r="2.03"/><circle cx="309.8" cy="232.9" r="2.34"/><circle cx="367.3" cy="236.8" r="1.75"/><circle cx="379.2" cy="242.6" r="2.06"/><circle cx="362.3" cy="233.9" r="1.66"/><circle cx="375.2" cy="234.9" r="2.08"/><circle cx="295.5" cy="240.7" r="2.10"/><circle cx="367.4" cy="240.7" r="1.69"/><circle cx="381.8" cy="246.5" r="2.12"/><circle cx="372.1" cy="244.6" r="2.32"/><circle cx="350.0" cy="243.6" r="1.66"/><circle cx="384.4" cy="234.9" r="2.08"/><circle cx="289.5" cy="240.7" r="2.10"/><circle cx="365.1" cy="239.7" r="2.34"/><circle cx="317.6" cy="247.5" r="1.67"/><circle cx="350.0" cy="235.8" r="2.28"/><circle cx="363.9" cy="241.7" r="2.04"/><circle cx="288.9" cy="240.7" r="2.05"/><circle cx="330.0" cy="239.7" r="2.13"/><circle cx="357.6" cy="232.9" r="2.17"/><circle cx="296.4" cy="232.9" r="2.01"/><circle cx="377.4" cy="240.7" r="1.89"/><circle cx="360.1" cy="235.8" r="1.86"/><circle cx="267.6" cy="239.7" r="1.86"/><circle cx="329.9" cy="238.8" r="2.25"/><circle cx="366.4" cy="237.8" r="1.90"/><circle cx="339.0" cy="242.6" r="1.85"/><circle cx="375.1" cy="233.9" r="2.17"/><circle cx="338.6" cy="231.0" r="1.82"/><circle cx="376.8" cy="232.9" r="2.34"/><circle cx="381.9" cy="234.9" r="1.73"/><circle cx="362.7" cy="243.6" r="1.74"/><circle cx="355.4" cy="239.7" r="1.84"/><circle cx="342.4" cy="243.6" r="1.70"/><circle cx="320.9" cy="230.0" r="1.80"/><circle cx="341.0" cy="238.8" r="1.95"/><circle cx="386.6" cy="246.5" r="2.27"/><circle cx="380.1" cy="237.8" r="1.90"/><circle cx="376.4" cy="247.5" r="1.99"/><circle cx="390.0" cy="245.6" r="1.74"/><circle cx="363.6" cy="245.6" r="2.23"/><circle cx="286.6" cy="233.9" r="2.27"/><circle cx="375.3" cy="244.6" r="2.00"/><circle cx="370.1" cy="243.6" r="1.68"/><circle cx="257.1" cy="245.6" r="1.98"/><circle cx="333.9" cy="232.9" r="1.77"/><circle cx="336.6" cy="242.6" r="2.19"/><circle cx="304.8" cy="247.5" r="2.01"/><circle cx="377.7" cy="237.8" r="2.13"/><circle cx="331.0" cy="238.8" r="2.19"/><circle cx="319.6" cy="240.7" r="2.29"/><circle cx="384.5" cy="232.9" r="2.18"/><circle cx="351.3" cy="247.5" r="1.98"/><circle cx="371.0" cy="231.0" r="1.88"/><circle cx="379.6" cy="241.7" r="1.86"/><circle cx="235.0" cy="236.0" r="2.65"/><circle cx="246.0" cy="236.0" r="2.65"/><circle cx="263.0" cy="236.0" r="2.65"/><circle cx="319.1" cy="260.2" r="2.25"/><circle cx="367.8" cy="251.0" r="1.79"/><circle cx="328.7" cy="265.3" r="2.20"/><circle cx="386.8" cy="256.1" r="1.91"/><circle cx="387.4" cy="260.2" r="1.73"/><circle cx="391.1" cy="268.3" r="2.22"/><circle cx="382.5" cy="251.0" r="2.07"/><circle cx="351.7" cy="261.2" r="2.34"/><circle cx="357.9" cy="272.4" r="2.03"/><circle cx="315.7" cy="269.3" r="2.10"/><circle cx="363.5" cy="266.3" r="2.00"/><circle cx="350.3" cy="265.3" r="1.96"/><circle cx="359.0" cy="264.2" r="2.27"/><circle cx="377.6" cy="265.3" r="1.98"/><circle cx="378.9" cy="276.5" r="1.77"/><circle cx="393.6" cy="270.4" r="2.03"/><circle cx="364.9" cy="261.2" r="1.95"/><circle cx="370.0" cy="264.2" r="2.35"/><circle cx="389.0" cy="270.4" r="1.84"/><circle cx="363.9" cy="265.3" r="1.95"/><circle cx="362.1" cy="255.1" r="2.03"/><circle cx="352.5" cy="268.3" r="1.76"/><circle cx="295.6" cy="257.1" r="2.34"/><circle cx="366.2" cy="251.0" r="2.26"/><circle cx="392.7" cy="259.2" r="2.20"/><circle cx="342.2" cy="266.3" r="1.97"/><circle cx="357.7" cy="256.1" r="2.13"/><circle cx="359.2" cy="263.2" r="1.99"/><circle cx="379.4" cy="270.4" r="2.25"/><circle cx="329.1" cy="269.3" r="1.67"/><circle cx="351.9" cy="270.4" r="1.91"/><circle cx="381.7" cy="266.3" r="1.94"/><circle cx="369.1" cy="264.2" r="1.79"/><circle cx="382.9" cy="266.3" r="1.99"/><circle cx="376.7" cy="258.1" r="1.71"/><circle cx="336.5" cy="258.1" r="1.88"/><circle cx="379.8" cy="263.2" r="1.81"/><circle cx="385.8" cy="273.4" r="1.83"/><circle cx="354.9" cy="252.0" r="2.35"/><circle cx="346.5" cy="265.3" r="2.09"/><circle cx="339.0" cy="259.2" r="2.10"/><circle cx="390.1" cy="254.1" r="1.73"/><circle cx="367.2" cy="252.0" r="1.79"/><circle cx="386.5" cy="259.2" r="2.06"/><circle cx="347.3" cy="261.2" r="2.13"/><circle cx="376.7" cy="268.3" r="1.96"/><circle cx="349.2" cy="268.3" r="2.18"/><circle cx="386.6" cy="264.2" r="1.82"/><circle cx="383.7" cy="275.5" r="2.25"/><circle cx="363.1" cy="253.0" r="1.78"/><circle cx="354.2" cy="268.3" r="1.66"/><circle cx="371.6" cy="262.2" r="2.22"/><circle cx="370.7" cy="272.4" r="2.19"/><circle cx="390.8" cy="266.3" r="1.83"/><circle cx="378.5" cy="263.2" r="2.30"/><circle cx="365.3" cy="273.4" r="1.70"/><circle cx="348.0" cy="277.5" r="1.92"/><circle cx="362.9" cy="275.5" r="2.20"/><circle cx="366.6" cy="260.2" r="1.75"/><circle cx="367.3" cy="274.4" r="2.27"/><circle cx="341.5" cy="251.0" r="2.07"/><circle cx="382.9" cy="264.2" r="2.03"/><circle cx="381.7" cy="267.3" r="2.04"/><circle cx="371.7" cy="254.1" r="2.07"/><circle cx="359.3" cy="275.5" r="2.31"/><circle cx="338.1" cy="266.3" r="1.90"/><circle cx="373.9" cy="269.3" r="1.73"/><circle cx="386.3" cy="258.1" r="2.17"/><circle cx="382.0" cy="255.1" r="2.33"/><circle cx="385.2" cy="262.2" r="2.19"/><circle cx="379.4" cy="266.3" r="1.68"/><circle cx="369.3" cy="275.5" r="1.97"/><circle cx="381.7" cy="251.0" r="2.19"/><circle cx="371.3" cy="258.1" r="1.66"/><circle cx="372.5" cy="269.3" r="2.02"/><circle cx="348.6" cy="256.1" r="2.19"/><circle cx="367.5" cy="260.2" r="2.07"/><circle cx="365.5" cy="265.3" r="2.10"/><circle cx="374.7" cy="269.3" r="1.94"/><circle cx="378.2" cy="277.5" r="1.91"/><circle cx="326.1" cy="257.1" r="2.23"/><circle cx="386.5" cy="275.5" r="2.28"/><circle cx="352.8" cy="267.3" r="1.72"/><circle cx="359.2" cy="272.4" r="2.10"/><circle cx="363.8" cy="255.1" r="2.08"/><circle cx="392.0" cy="264.2" r="1.77"/><circle cx="317.2" cy="273.4" r="1.75"/><circle cx="357.7" cy="265.3" r="1.96"/><circle cx="375.0" cy="264.2" r="2.28"/><circle cx="381.1" cy="251.0" r="2.22"/><circle cx="367.3" cy="274.4" r="1.93"/><circle cx="370.3" cy="272.4" r="2.11"/><circle cx="353.5" cy="261.2" r="1.84"/><circle cx="375.4" cy="258.1" r="2.01"/><circle cx="361.8" cy="262.2" r="2.22"/><circle cx="369.0" cy="271.4" r="2.32"/><circle cx="315.3" cy="255.1" r="2.35"/><circle cx="376.5" cy="253.0" r="1.85"/><circle cx="374.6" cy="251.0" r="1.76"/><circle cx="353.6" cy="260.2" r="2.10"/><circle cx="383.2" cy="267.3" r="2.23"/><circle cx="388.6" cy="256.1" r="2.28"/><circle cx="364.4" cy="275.5" r="2.00"/><circle cx="373.5" cy="277.5" r="2.11"/><circle cx="357.5" cy="255.1" r="2.19"/><circle cx="372.4" cy="269.3" r="2.11"/><circle cx="361.2" cy="269.3" r="2.31"/><circle cx="328.5" cy="274.4" r="2.05"/><circle cx="370.7" cy="256.1" r="2.17"/><circle cx="367.9" cy="253.0" r="2.32"/><circle cx="373.1" cy="272.4" r="2.35"/><circle cx="371.1" cy="261.2" r="1.79"/><circle cx="371.7" cy="275.5" r="1.74"/><circle cx="374.2" cy="270.4" r="1.83"/><circle cx="356.3" cy="266.3" r="1.68"/><circle cx="374.8" cy="268.3" r="1.75"/><circle cx="352.3" cy="259.2" r="1.92"/><circle cx="372.1" cy="271.4" r="2.17"/><circle cx="385.3" cy="263.2" r="1.75"/><circle cx="382.4" cy="262.2" r="1.85"/><circle cx="385.9" cy="262.2" r="2.15"/><circle cx="325.4" cy="257.1" r="2.13"/><circle cx="330.7" cy="256.1" r="1.73"/><circle cx="356.9" cy="260.2" r="1.91"/><circle cx="226.0" cy="266.0" r="2.55"/><circle cx="234.0" cy="260.0" r="2.55"/><circle cx="246.0" cy="262.0" r="2.55"/><circle cx="251.0" cy="260.0" r="2.55"/><circle cx="260.0" cy="262.0" r="2.55"/><circle cx="268.0" cy="265.0" r="2.55"/><circle cx="276.0" cy="265.0" r="2.55"/><circle cx="279.0" cy="252.0" r="2.55"/><circle cx="295.0" cy="250.0" r="2.55"/><circle cx="227.0" cy="278.2" r="2.55"/><circle cx="240.0" cy="278.2" r="2.55"/><circle cx="254.0" cy="278.2" r="2.55"/><circle cx="261.0" cy="278.2" r="2.55"/><circle cx="270.0" cy="278.2" r="2.55"/><circle cx="374.9" cy="293.0" r="2.09"/><circle cx="377.4" cy="283.0" r="1.89"/><circle cx="377.3" cy="286.0" r="1.99"/><circle cx="356.2" cy="287.0" r="1.69"/><circle cx="370.6" cy="287.0" r="2.09"/><circle cx="387.4" cy="295.0" r="2.19"/><circle cx="371.7" cy="290.0" r="2.19"/><circle cx="349.0" cy="292.0" r="2.18"/><circle cx="282.0" cy="294.0" r="1.98"/><circle cx="386.4" cy="288.0" r="2.14"/><circle cx="384.1" cy="284.0" r="2.00"/><circle cx="302.7" cy="294.0" r="2.11"/><circle cx="345.4" cy="295.0" r="1.68"/><circle cx="343.9" cy="285.0" r="2.29"/><circle cx="363.5" cy="295.0" r="1.68"/><circle cx="371.0" cy="292.0" r="1.78"/><circle cx="341.9" cy="283.0" r="2.01"/><circle cx="328.1" cy="294.0" r="1.97"/><circle cx="334.1" cy="295.0" r="1.77"/><circle cx="384.1" cy="281.0" r="1.69"/><circle cx="331.5" cy="286.0" r="2.32"/><circle cx="382.1" cy="293.0" r="1.75"/><circle cx="377.2" cy="283.0" r="1.98"/><circle cx="393.1" cy="289.0" r="1.85"/><circle cx="376.7" cy="282.0" r="2.07"/><circle cx="342.1" cy="283.0" r="1.86"/><circle cx="378.9" cy="281.0" r="2.09"/><circle cx="387.9" cy="282.0" r="2.16"/><circle cx="376.2" cy="283.0" r="1.92"/><circle cx="386.9" cy="283.0" r="2.09"/><circle cx="331.0" cy="287.0" r="2.19"/><circle cx="374.4" cy="292.0" r="1.79"/><circle cx="288.7" cy="295.0" r="1.77"/><circle cx="385.3" cy="290.0" r="2.24"/><circle cx="349.8" cy="285.0" r="1.81"/><circle cx="335.7" cy="294.0" r="1.70"/><circle cx="387.2" cy="282.0" r="2.29"/><circle cx="367.0" cy="282.0" r="2.17"/><circle cx="358.7" cy="294.0" r="2.33"/><circle cx="350.9" cy="294.0" r="1.78"/><circle cx="362.1" cy="290.0" r="2.31"/><circle cx="359.1" cy="288.0" r="2.00"/><circle cx="380.5" cy="291.0" r="1.86"/><circle cx="367.5" cy="294.0" r="2.32"/><circle cx="350.0" cy="296.0" r="1.77"/><circle cx="387.8" cy="294.0" r="2.25"/><circle cx="386.6" cy="291.0" r="1.85"/><circle cx="348.2" cy="282.0" r="1.69"/><circle cx="380.0" cy="284.0" r="1.69"/><circle cx="389.1" cy="288.0" r="1.67"/><circle cx="380.7" cy="295.0" r="1.79"/><circle cx="348.3" cy="280.0" r="1.96"/><circle cx="282.8" cy="286.0" r="2.07"/><circle cx="361.5" cy="282.0" r="1.96"/><circle cx="346.8" cy="282.0" r="1.81"/><circle cx="366.5" cy="284.0" r="1.83"/><circle cx="367.9" cy="295.0" r="2.12"/><circle cx="335.0" cy="288.0" r="1.95"/><circle cx="379.3" cy="291.0" r="1.79"/><circle cx="348.8" cy="296.0" r="2.21"/><circle cx="342.2" cy="296.0" r="2.18"/><circle cx="384.0" cy="289.0" r="1.90"/><circle cx="352.0" cy="288.0" r="1.75"/><circle cx="386.7" cy="285.0" r="2.12"/><circle cx="378.2" cy="292.0" r="2.02"/><circle cx="350.3" cy="295.0" r="1.87"/><circle cx="348.1" cy="305.0" r="1.66"/><circle cx="290.5" cy="304.0" r="1.75"/><circle cx="353.3" cy="302.0" r="2.19"/><circle cx="364.3" cy="305.0" r="1.69"/><circle cx="321.6" cy="306.0" r="1.93"/><circle cx="313.8" cy="299.0" r="2.29"/><circle cx="367.0" cy="302.0" r="2.31"/><circle cx="326.7" cy="306.0" r="2.08"/><circle cx="326.3" cy="306.0" r="2.03"/><circle cx="302.0" cy="301.0" r="1.65"/><circle cx="331.0" cy="302.0" r="1.67"/><circle cx="307.1" cy="301.0" r="2.21"/><circle cx="372.7" cy="302.0" r="2.13"/><circle cx="356.1" cy="303.0" r="1.81"/><circle cx="352.6" cy="302.0" r="1.83"/><circle cx="358.0" cy="303.0" r="1.71"/><circle cx="308.5" cy="301.0" r="1.75"/><circle cx="351.3" cy="299.0" r="1.95"/><circle cx="296.2" cy="301.0" r="1.70"/><circle cx="352.2" cy="302.0" r="1.65"/><circle cx="341.9" cy="306.0" r="2.16"/><circle cx="383.1" cy="306.0" r="2.00"/><circle cx="345.1" cy="306.0" r="2.18"/><circle cx="208.0" cy="304.0" r="2.65"/><circle cx="220.6" cy="304.0" r="2.65"/><circle cx="227.7" cy="304.0" r="2.65"/><circle cx="246.6" cy="304.0" r="2.65"/><circle cx="259.7" cy="304.0" r="2.65"/><circle cx="262.3" cy="304.0" r="2.65"/><circle cx="302.3" cy="329.0" r="1.96"/><circle cx="381.1" cy="310.0" r="2.32"/><circle cx="362.3" cy="308.0" r="1.90"/><circle cx="336.6" cy="308.0" r="2.05"/><circle cx="319.4" cy="311.0" r="2.01"/><circle cx="316.4" cy="309.0" r="2.14"/><circle cx="384.4" cy="311.0" r="1.93"/><circle cx="345.1" cy="310.0" r="1.72"/><circle cx="379.2" cy="317.0" r="2.02"/><circle cx="358.2" cy="322.0" r="2.30"/><circle cx="309.0" cy="318.0" r="2.00"/><circle cx="366.4" cy="315.0" r="1.91"/><circle cx="306.7" cy="314.0" r="1.89"/><circle cx="360.2" cy="323.0" r="1.96"/><circle cx="329.3" cy="334.0" r="1.80"/><circle cx="312.1" cy="335.0" r="1.94"/><circle cx="314.2" cy="331.0" r="2.15"/><circle cx="329.0" cy="314.0" r="1.85"/><circle cx="273.2" cy="318.0" r="1.89"/><circle cx="300.7" cy="320.0" r="1.82"/><circle cx="357.3" cy="316.0" r="2.18"/><circle cx="363.5" cy="312.0" r="2.27"/><circle cx="292.0" cy="312.0" r="1.66"/><circle cx="339.4" cy="326.0" r="2.23"/><circle cx="377.5" cy="334.0" r="1.70"/><circle cx="303.9" cy="309.0" r="1.89"/><circle cx="330.6" cy="321.0" r="1.88"/><circle cx="301.3" cy="327.0" r="2.26"/><circle cx="339.7" cy="314.0" r="1.69"/><circle cx="373.2" cy="327.0" r="1.73"/><circle cx="325.2" cy="322.0" r="2.18"/><circle cx="384.4" cy="311.0" r="2.15"/><circle cx="360.7" cy="331.0" r="1.70"/><circle cx="383.4" cy="338.0" r="2.09"/><circle cx="348.7" cy="315.0" r="1.93"/><circle cx="342.5" cy="311.0" r="2.25"/><circle cx="372.0" cy="328.0" r="1.82"/><circle cx="354.9" cy="308.0" r="1.68"/><circle cx="353.5" cy="314.0" r="2.34"/><circle cx="365.8" cy="329.0" r="2.11"/><circle cx="385.5" cy="308.0" r="2.13"/><circle cx="309.5" cy="318.0" r="2.03"/><circle cx="290.7" cy="323.0" r="2.29"/><circle cx="373.4" cy="330.0" r="1.93"/><circle cx="311.3" cy="335.0" r="2.29"/><circle cx="321.7" cy="331.0" r="1.68"/><circle cx="356.4" cy="320.0" r="2.16"/><circle cx="367.4" cy="321.0" r="1.99"/><circle cx="379.2" cy="309.0" r="2.19"/><circle cx="316.1" cy="335.0" r="1.72"/><circle cx="376.4" cy="321.0" r="2.09"/><circle cx="327.0" cy="324.0" r="2.04"/><circle cx="363.0" cy="331.0" r="1.96"/><circle cx="312.1" cy="335.0" r="2.18"/><circle cx="366.8" cy="310.0" r="1.83"/><circle cx="329.9" cy="313.0" r="2.06"/><circle cx="318.8" cy="314.0" r="2.27"/><circle cx="379.1" cy="338.0" r="2.00"/><circle cx="363.8" cy="322.0" r="2.05"/><circle cx="360.0" cy="320.0" r="1.91"/><circle cx="359.6" cy="319.0" r="2.31"/><circle cx="380.8" cy="310.0" r="1.75"/><circle cx="327.2" cy="317.0" r="1.66"/><circle cx="326.2" cy="336.0" r="1.83"/><circle cx="291.6" cy="332.0" r="1.96"/><circle cx="371.9" cy="334.0" r="1.73"/><circle cx="360.1" cy="321.0" r="1.97"/><circle cx="325.7" cy="338.0" r="1.71"/><circle cx="305.0" cy="323.0" r="1.94"/><circle cx="362.5" cy="317.0" r="2.14"/><circle cx="371.9" cy="326.0" r="2.29"/><circle cx="369.2" cy="335.0" r="1.88"/><circle cx="363.1" cy="320.0" r="1.71"/><circle cx="299.8" cy="321.0" r="2.18"/><circle cx="369.8" cy="337.0" r="1.91"/><circle cx="378.0" cy="315.0" r="1.68"/><circle cx="334.9" cy="314.0" r="2.31"/><circle cx="300.6" cy="328.0" r="2.29"/><circle cx="285.8" cy="322.0" r="2.13"/><circle cx="369.5" cy="327.0" r="1.78"/><circle cx="337.7" cy="315.0" r="2.28"/><circle cx="364.1" cy="309.0" r="1.97"/><circle cx="292.1" cy="333.0" r="1.88"/><circle cx="360.5" cy="321.0" r="2.00"/><circle cx="291.9" cy="335.0" r="2.04"/><circle cx="378.2" cy="330.0" r="2.12"/><circle cx="332.0" cy="315.0" r="2.09"/><circle cx="314.7" cy="311.0" r="1.77"/><circle cx="354.9" cy="320.0" r="1.97"/><circle cx="342.4" cy="309.0" r="2.34"/><circle cx="321.9" cy="337.0" r="1.80"/><circle cx="383.4" cy="327.0" r="2.34"/><circle cx="291.0" cy="311.0" r="2.09"/><circle cx="343.5" cy="336.0" r="1.86"/><circle cx="375.2" cy="327.0" r="2.24"/><circle cx="353.5" cy="316.0" r="1.71"/><circle cx="375.5" cy="320.0" r="2.10"/><circle cx="375.3" cy="328.0" r="2.27"/><circle cx="326.9" cy="338.0" r="1.81"/><circle cx="381.5" cy="328.0" r="1.90"/><circle cx="370.4" cy="316.0" r="1.65"/><circle cx="346.5" cy="314.0" r="1.77"/><circle cx="379.5" cy="313.0" r="1.98"/><circle cx="300.6" cy="333.0" r="2.29"/><circle cx="371.9" cy="312.0" r="1.86"/><circle cx="326.2" cy="331.0" r="2.33"/><circle cx="280.9" cy="308.0" r="1.90"/><circle cx="326.8" cy="324.0" r="1.84"/><circle cx="357.0" cy="330.0" r="2.14"/><circle cx="337.9" cy="323.0" r="1.91"/><circle cx="329.3" cy="316.0" r="1.85"/><circle cx="375.3" cy="315.0" r="1.88"/><circle cx="295.0" cy="323.0" r="2.00"/><circle cx="298.8" cy="333.0" r="1.79"/><circle cx="322.2" cy="320.0" r="2.01"/><circle cx="370.5" cy="308.0" r="2.21"/><circle cx="317.7" cy="334.0" r="1.73"/><circle cx="355.9" cy="319.0" r="1.70"/><circle cx="290.3" cy="325.0" r="1.74"/><circle cx="314.5" cy="338.0" r="2.10"/><circle cx="282.3" cy="332.0" r="1.79"/><circle cx="320.1" cy="336.0" r="2.17"/><circle cx="357.8" cy="322.0" r="2.33"/><circle cx="343.4" cy="337.0" r="2.34"/><circle cx="362.0" cy="310.0" r="2.31"/><circle cx="287.0" cy="336.0" r="2.16"/><circle cx="368.4" cy="327.0" r="2.14"/><circle cx="363.2" cy="321.0" r="2.34"/><circle cx="350.9" cy="322.0" r="1.67"/><circle cx="358.0" cy="322.0" r="2.16"/><circle cx="350.7" cy="317.0" r="2.30"/><circle cx="310.1" cy="332.0" r="2.19"/><circle cx="376.2" cy="338.0" r="1.65"/><circle cx="299.7" cy="337.0" r="1.71"/><circle cx="275.5" cy="311.0" r="1.87"/><circle cx="326.0" cy="317.0" r="2.09"/><circle cx="371.7" cy="312.0" r="2.10"/><circle cx="355.8" cy="337.0" r="2.21"/><circle cx="326.5" cy="335.0" r="2.20"/><circle cx="331.5" cy="331.0" r="1.70"/><circle cx="342.0" cy="325.0" r="2.17"/><circle cx="373.7" cy="334.0" r="2.14"/><circle cx="371.1" cy="310.0" r="2.23"/><circle cx="384.3" cy="313.0" r="2.31"/><circle cx="364.2" cy="331.0" r="1.78"/><circle cx="359.3" cy="335.0" r="1.90"/><circle cx="302.1" cy="331.0" r="2.11"/><circle cx="381.2" cy="327.0" r="1.98"/><circle cx="344.6" cy="314.0" r="2.10"/><circle cx="299.5" cy="308.0" r="2.14"/><circle cx="332.8" cy="325.0" r="1.71"/><circle cx="335.8" cy="328.0" r="1.81"/><circle cx="293.7" cy="335.0" r="2.08"/><circle cx="283.5" cy="327.0" r="2.27"/><circle cx="322.5" cy="308.0" r="2.12"/><circle cx="337.0" cy="309.0" r="2.06"/><circle cx="372.6" cy="321.0" r="2.04"/><circle cx="334.3" cy="323.0" r="2.21"/><circle cx="347.8" cy="309.0" r="1.70"/><circle cx="371.9" cy="308.0" r="1.67"/><circle cx="341.7" cy="308.0" r="1.73"/><circle cx="373.1" cy="327.0" r="2.25"/><circle cx="363.4" cy="315.0" r="2.05"/><circle cx="364.1" cy="321.0" r="2.11"/><circle cx="295.7" cy="310.0" r="2.09"/><circle cx="340.7" cy="329.0" r="2.04"/><circle cx="335.2" cy="330.0" r="2.33"/><circle cx="359.6" cy="323.0" r="2.13"/><circle cx="341.3" cy="314.0" r="1.66"/><circle cx="367.6" cy="314.0" r="1.92"/><circle cx="344.3" cy="336.0" r="1.97"/><circle cx="333.8" cy="336.0" r="2.17"/><circle cx="357.7" cy="324.0" r="2.04"/><circle cx="358.3" cy="336.0" r="2.13"/><circle cx="373.8" cy="328.0" r="2.25"/><circle cx="340.7" cy="314.0" r="2.13"/><circle cx="310.4" cy="332.0" r="2.20"/><circle cx="318.4" cy="308.0" r="2.32"/><circle cx="312.6" cy="323.0" r="1.86"/><circle cx="370.0" cy="336.0" r="2.25"/><circle cx="318.1" cy="324.0" r="1.97"/><circle cx="293.0" cy="322.0" r="1.93"/><circle cx="368.0" cy="322.0" r="1.93"/><circle cx="300.9" cy="318.0" r="1.77"/><circle cx="363.6" cy="313.0" r="2.10"/><circle cx="337.9" cy="336.0" r="2.00"/><circle cx="345.4" cy="321.0" r="1.83"/><circle cx="285.8" cy="308.0" r="2.00"/><circle cx="366.4" cy="316.0" r="1.74"/><circle cx="360.1" cy="331.0" r="2.33"/><circle cx="352.3" cy="331.0" r="1.90"/><circle cx="306.1" cy="312.0" r="2.16"/><circle cx="355.9" cy="314.0" r="1.94"/><circle cx="319.4" cy="308.0" r="2.25"/><circle cx="339.9" cy="325.0" r="2.05"/><circle cx="349.3" cy="317.0" r="1.88"/><circle cx="303.6" cy="326.0" r="2.29"/><circle cx="381.1" cy="322.0" r="1.96"/><circle cx="341.6" cy="319.0" r="2.09"/><circle cx="319.9" cy="328.0" r="2.30"/><circle cx="330.8" cy="315.0" r="1.94"/><circle cx="378.1" cy="330.0" r="2.25"/><circle cx="344.5" cy="334.0" r="2.31"/><circle cx="322.6" cy="329.0" r="1.77"/><circle cx="326.6" cy="322.0" r="1.87"/><circle cx="369.0" cy="314.0" r="2.21"/><circle cx="321.4" cy="325.0" r="2.05"/><circle cx="368.5" cy="319.0" r="2.23"/><circle cx="368.4" cy="313.0" r="2.25"/><circle cx="322.5" cy="323.0" r="2.17"/><circle cx="338.1" cy="321.0" r="2.33"/><circle cx="350.5" cy="325.0" r="2.29"/><circle cx="321.5" cy="336.0" r="1.96"/><circle cx="360.5" cy="310.0" r="2.12"/><circle cx="346.8" cy="311.0" r="2.16"/><circle cx="356.0" cy="321.0" r="1.77"/><circle cx="372.8" cy="317.0" r="1.75"/><circle cx="350.4" cy="322.0" r="2.25"/><circle cx="283.5" cy="328.0" r="2.02"/><circle cx="333.6" cy="313.0" r="1.95"/><circle cx="293.7" cy="328.0" r="1.66"/><circle cx="378.7" cy="327.0" r="2.27"/><circle cx="355.1" cy="310.0" r="2.02"/><circle cx="315.6" cy="330.0" r="2.08"/><circle cx="317.4" cy="319.0" r="1.71"/><circle cx="297.5" cy="333.0" r="2.03"/><circle cx="304.9" cy="324.0" r="1.98"/><circle cx="364.2" cy="338.0" r="2.14"/><circle cx="352.7" cy="334.0" r="1.86"/><circle cx="313.6" cy="316.0" r="1.71"/><circle cx="286.4" cy="322.0" r="1.71"/><circle cx="305.9" cy="333.0" r="1.85"/><circle cx="369.9" cy="323.0" r="2.00"/><circle cx="321.0" cy="314.0" r="1.83"/><circle cx="349.4" cy="328.0" r="1.76"/><circle cx="301.1" cy="322.0" r="2.29"/><circle cx="319.9" cy="322.0" r="1.68"/><circle cx="381.2" cy="328.0" r="1.72"/><circle cx="355.6" cy="330.0" r="1.69"/><circle cx="328.9" cy="315.0" r="2.32"/><circle cx="356.6" cy="322.0" r="2.18"/><circle cx="310.0" cy="335.0" r="2.34"/><circle cx="309.4" cy="319.0" r="1.90"/><circle cx="330.6" cy="313.0" r="2.02"/><circle cx="321.9" cy="320.0" r="1.66"/><circle cx="343.6" cy="336.0" r="1.78"/><circle cx="296.6" cy="324.0" r="2.30"/><circle cx="367.6" cy="312.0" r="1.97"/><circle cx="352.9" cy="314.0" r="2.31"/><circle cx="331.4" cy="320.0" r="1.94"/><circle cx="315.1" cy="321.0" r="2.11"/><circle cx="322.1" cy="326.0" r="2.03"/><circle cx="384.4" cy="327.0" r="1.70"/><circle cx="319.1" cy="314.0" r="2.03"/><circle cx="337.4" cy="331.0" r="2.30"/><circle cx="317.4" cy="334.0" r="1.97"/><circle cx="320.1" cy="329.0" r="2.06"/><circle cx="343.7" cy="322.0" r="2.26"/><circle cx="343.8" cy="310.0" r="2.25"/><circle cx="362.4" cy="314.0" r="2.00"/><circle cx="314.3" cy="335.0" r="1.76"/><circle cx="365.2" cy="312.0" r="2.01"/><circle cx="329.7" cy="311.0" r="1.96"/><circle cx="377.9" cy="308.0" r="1.81"/><circle cx="299.5" cy="332.0" r="1.84"/><circle cx="323.9" cy="338.0" r="2.00"/><circle cx="341.3" cy="320.0" r="1.72"/><circle cx="359.9" cy="331.0" r="2.11"/><circle cx="333.8" cy="316.0" r="1.97"/><circle cx="322.3" cy="331.0" r="1.95"/><circle cx="296.6" cy="324.0" r="2.02"/><circle cx="315.2" cy="331.0" r="1.86"/><circle cx="358.9" cy="324.0" r="2.30"/><circle cx="289.1" cy="326.0" r="2.07"/><circle cx="303.8" cy="326.0" r="1.98"/><circle cx="330.5" cy="312.0" r="1.66"/><circle cx="287.8" cy="311.0" r="1.91"/><circle cx="365.7" cy="338.0" r="1.90"/><circle cx="331.8" cy="336.0" r="1.71"/><circle cx="340.9" cy="335.0" r="2.02"/><circle cx="300.0" cy="333.0" r="2.04"/><circle cx="356.6" cy="329.0" r="2.13"/><circle cx="351.8" cy="326.0" r="1.98"/><circle cx="372.1" cy="316.0" r="1.66"/><circle cx="289.7" cy="318.0" r="2.18"/><circle cx="303.6" cy="332.0" r="1.78"/><circle cx="361.8" cy="327.0" r="2.26"/><circle cx="302.3" cy="310.0" r="2.16"/><circle cx="368.5" cy="337.0" r="2.04"/><circle cx="356.7" cy="324.0" r="1.83"/><circle cx="310.9" cy="332.0" r="2.07"/><circle cx="358.9" cy="331.0" r="2.24"/><circle cx="309.4" cy="318.0" r="2.01"/><circle cx="313.2" cy="317.0" r="2.19"/><circle cx="357.3" cy="328.0" r="1.70"/><circle cx="373.9" cy="324.0" r="1.65"/><circle cx="326.6" cy="321.0" r="2.28"/><circle cx="361.3" cy="323.0" r="1.80"/><circle cx="371.8" cy="321.0" r="2.03"/><circle cx="323.7" cy="325.0" r="2.04"/><circle cx="354.7" cy="309.0" r="2.02"/><circle cx="336.1" cy="319.0" r="1.66"/><circle cx="341.3" cy="336.0" r="1.83"/><circle cx="318.4" cy="310.0" r="2.12"/><circle cx="300.2" cy="333.0" r="1.72"/><circle cx="326.2" cy="336.0" r="2.25"/><circle cx="349.2" cy="328.0" r="1.85"/><circle cx="280.8" cy="331.0" r="1.99"/><circle cx="283.1" cy="325.0" r="1.69"/><circle cx="312.5" cy="336.0" r="1.81"/><circle cx="299.8" cy="333.0" r="1.90"/><circle cx="296.9" cy="324.0" r="2.02"/><circle cx="305.2" cy="318.0" r="2.24"/><circle cx="349.3" cy="316.0" r="1.71"/><circle cx="376.9" cy="315.0" r="1.99"/><circle cx="366.8" cy="335.0" r="2.02"/><circle cx="334.5" cy="311.0" r="2.33"/><circle cx="360.2" cy="326.0" r="2.08"/><circle cx="260.0" cy="321.0" r="2.65"/><circle cx="275.0" cy="321.0" r="2.65"/><circle cx="285.0" cy="321.0" r="2.65"/><circle cx="250.0" cy="336.0" r="2.65"/><circle cx="265.0" cy="337.0" r="2.65"/><circle cx="270.0" cy="344.0" r="2.65"/><circle cx="276.0" cy="344.0" r="2.65"/><circle cx="354.4" cy="352.0" r="1.81"/><circle cx="326.9" cy="353.0" r="2.00"/><circle cx="352.4" cy="350.0" r="2.17"/><circle cx="384.8" cy="342.0" r="1.74"/><circle cx="359.0" cy="354.0" r="2.17"/><circle cx="361.3" cy="347.0" r="2.19"/><circle cx="351.3" cy="356.0" r="1.66"/><circle cx="383.7" cy="354.0" r="1.77"/><circle cx="321.8" cy="355.0" r="2.17"/><circle cx="375.6" cy="351.0" r="1.90"/><circle cx="365.8" cy="352.0" r="2.06"/><circle cx="366.3" cy="350.0" r="2.28"/><circle cx="371.7" cy="341.0" r="2.14"/><circle cx="387.3" cy="345.0" r="1.76"/><circle cx="330.1" cy="345.0" r="2.31"/><circle cx="387.9" cy="357.0" r="2.29"/><circle cx="361.6" cy="348.0" r="1.73"/><circle cx="339.4" cy="355.0" r="1.84"/><circle cx="347.8" cy="341.0" r="2.23"/><circle cx="345.6" cy="350.0" r="1.68"/><circle cx="386.8" cy="352.0" r="2.26"/><circle cx="370.7" cy="353.0" r="2.24"/><circle cx="380.6" cy="341.0" r="2.29"/><circle cx="324.6" cy="348.0" r="2.31"/><circle cx="389.3" cy="346.0" r="2.18"/><circle cx="386.1" cy="342.0" r="2.10"/><circle cx="388.5" cy="344.0" r="1.78"/><circle cx="374.1" cy="361.6" r="2.09"/><circle cx="339.8" cy="360.6" r="2.02"/><circle cx="319.7" cy="358.5" r="1.70"/><circle cx="370.2" cy="365.9" r="1.66"/><circle cx="252.7" cy="360.6" r="2.23"/><circle cx="327.1" cy="358.5" r="1.92"/><circle cx="305.7" cy="364.8" r="1.81"/><circle cx="313.8" cy="367.9" r="1.80"/><circle cx="336.7" cy="362.7" r="1.69"/><circle cx="262.7" cy="358.5" r="1.75"/><circle cx="287.1" cy="359.6" r="1.86"/><circle cx="290.8" cy="360.6" r="1.97"/><circle cx="333.6" cy="362.7" r="2.20"/><circle cx="348.7" cy="360.6" r="2.06"/><circle cx="367.1" cy="365.9" r="2.25"/><circle cx="306.0" cy="364.8" r="2.09"/><circle cx="352.9" cy="366.9" r="2.26"/><circle cx="228.0" cy="361.0" r="2.65"/><circle cx="246.0" cy="362.0" r="2.65"/><circle cx="246.0" cy="371.0" r="2.65"/><circle cx="318.0" cy="372.0" r="2.65"/><circle cx="325.0" cy="372.0" r="2.65"/></g>
<g fill="#7ef7f0" stroke="#0b2626" stroke-width="0.75"></g>
<path d="M626.2 29.8H644.4M559.0 34.4H650.0M637.8 39.5H649.0M600.6 44.0H650.0M600.6 48.6H617.6M581.3 53.5H652.0M636.0 58.3H650.0M638.2 62.9H648.0M632.8 67.3H641.0M610.2 72.1H614.6M638.9 76.9H646.5M607.1 81.5H620.0M610.2 85.9H650.0M568.6 90.7H596.0M596.2 100.1H620.0M612.0 104.9H626.0M581.7 109.3H622.0M614.6 113.9H638.0M614.6 118.8H650.0M590.0 123.6H622.0M606.0 128.2H619.0M620.0 132.6H654.0M587.4 137.4H649.0M624.0 142.2H635.0M607.0 146.8H611.5M610.0 151.6H627.0M589.0 156.0H625.0M585.7 160.8H623.0M578.0 165.2H650.0M586.8 169.8H631.6M626.2 174.6H652.0M610.2 179.4H630.0M552.4 186.6H600.0M552.4 198.0H563.7M603.6 202.7H650.0M613.5 207.5H648.0M606.0 211.9H648.5M615.7 216.5H629.5M615.7 221.5H651.6M555.0 226.1H576.0M596.2 230.5H650.7M630.6 235.5H650.7M601.7 240.1H648.5M599.5 244.9H650.0M599.5 249.3H622.0M603.6 254.1H637.0M623.4 263.3H643.6M566.4 267.9H627.0M629.5 272.7H648.5M583.5 277.5H648.5M583.5 281.9H625.0M600.6 286.6H632.0M564.4 293.1H610.0M603.2 300.8H616.6M612.4 305.2H648.0M607.6 310.0H630.6M633.4 314.6H636.0M592.3 319.0H652.0M539.7 323.8H637.6M619.0 328.6H652.0M608.0 333.2H654.0M548.5 338.0H566.6M546.3 342.8H596.4M593.4 346.8H653.6M536.4 351.8H560.0M553.3 356.6H561.0M542.0 361.5H560.0M551.7 369.3H654.0M596.1 374.7H640.0M489.7 379.8H637.0M489.7 384.5H652.0" stroke="#a6f3ef" stroke-width="1.2" fill="none"/>
<g fill="#86f6ee" stroke="#264e4a" stroke-width="0.75"><circle cx="592.4" cy="186.7" r="1.9"/><circle cx="595.5" cy="186.8" r="1.9"/><circle cx="597.3" cy="186.8" r="1.9"/><circle cx="600.5" cy="185.8" r="1.9"/><circle cx="602.4" cy="186.4" r="1.9"/><circle cx="604.8" cy="186.0" r="1.9"/><circle cx="608.1" cy="186.6" r="1.9"/><circle cx="610.1" cy="185.9" r="1.9"/><circle cx="612.2" cy="185.7" r="1.9"/><circle cx="615.3" cy="186.0" r="1.9"/><circle cx="619.2" cy="186.0" r="1.9"/><circle cx="622.0" cy="186.5" r="1.9"/><circle cx="624.7" cy="186.5" r="1.9"/><circle cx="627.8" cy="186.1" r="1.9"/><circle cx="629.5" cy="185.9" r="1.9"/><circle cx="631.7" cy="186.4" r="1.9"/><circle cx="634.1" cy="186.1" r="1.9"/><circle cx="636.6" cy="186.3" r="1.9"/><circle cx="638.6" cy="186.5" r="1.9"/><circle cx="641.2" cy="185.7" r="1.9"/><circle cx="644.0" cy="185.7" r="1.9"/><circle cx="646.4" cy="186.4" r="1.9"/><circle cx="648.1" cy="185.9" r="1.9"/><circle cx="651.4" cy="186.6" r="1.9"/><circle cx="592.3" cy="188.4" r="1.9"/><circle cx="595.3" cy="188.1" r="1.9"/><circle cx="598.3" cy="189.0" r="1.9"/><circle cx="600.5" cy="188.1" r="1.9"/><circle cx="602.5" cy="189.1" r="1.9"/><circle cx="605.3" cy="188.7" r="1.9"/><circle cx="607.0" cy="188.2" r="1.9"/><circle cx="608.9" cy="188.8" r="1.9"/><circle cx="612.2" cy="188.1" r="1.9"/><circle cx="615.7" cy="188.5" r="1.9"/><circle cx="618.1" cy="189.0" r="1.9"/><circle cx="620.4" cy="188.1" r="1.9"/><circle cx="623.1" cy="188.6" r="1.9"/><circle cx="626.2" cy="188.9" r="1.9"/><circle cx="629.9" cy="188.9" r="1.9"/><circle cx="631.8" cy="188.2" r="1.9"/><circle cx="634.7" cy="188.5" r="1.9"/><circle cx="638.4" cy="189.2" r="1.9"/><circle cx="640.6" cy="188.9" r="1.9"/><circle cx="643.0" cy="188.5" r="1.9"/><circle cx="645.3" cy="189.2" r="1.9"/><circle cx="648.7" cy="188.6" r="1.9"/><circle cx="650.5" cy="188.3" r="1.9"/><circle cx="654.3" cy="188.4" r="1.9"/><circle cx="592.5" cy="191.1" r="1.9"/><circle cx="595.0" cy="191.1" r="1.9"/><circle cx="597.5" cy="191.2" r="1.9"/><circle cx="600.1" cy="191.4" r="1.9"/><circle cx="603.2" cy="190.3" r="1.9"/><circle cx="605.5" cy="191.1" r="1.9"/><circle cx="608.7" cy="191.1" r="1.9"/><circle cx="611.1" cy="191.1" r="1.9"/><circle cx="614.5" cy="190.7" r="1.9"/><circle cx="617.6" cy="191.1" r="1.9"/><circle cx="620.8" cy="190.9" r="1.9"/><circle cx="622.7" cy="191.3" r="1.9"/><circle cx="626.1" cy="191.1" r="1.9"/><circle cx="629.2" cy="190.5" r="1.9"/><circle cx="632.0" cy="191.1" r="1.9"/><circle cx="634.6" cy="191.2" r="1.9"/><circle cx="637.4" cy="190.3" r="1.9"/><circle cx="639.3" cy="191.1" r="1.9"/><circle cx="641.8" cy="191.1" r="1.9"/><circle cx="643.7" cy="190.6" r="1.9"/><circle cx="645.4" cy="190.7" r="1.9"/><circle cx="647.7" cy="190.3" r="1.9"/><circle cx="650.4" cy="191.0" r="1.9"/><circle cx="653.0" cy="191.4" r="1.9"/><circle cx="591.7" cy="193.1" r="1.9"/><circle cx="594.4" cy="193.0" r="1.9"/><circle cx="596.2" cy="192.7" r="1.9"/><circle cx="598.6" cy="193.3" r="1.9"/><circle cx="602.2" cy="193.1" r="1.9"/><circle cx="605.0" cy="193.0" r="1.9"/><circle cx="607.1" cy="193.3" r="1.9"/><circle cx="610.7" cy="193.3" r="1.9"/><circle cx="613.0" cy="192.6" r="1.9"/><circle cx="614.8" cy="193.3" r="1.9"/><circle cx="617.0" cy="193.7" r="1.9"/><circle cx="619.3" cy="192.9" r="1.9"/><circle cx="622.2" cy="193.1" r="1.9"/><circle cx="625.3" cy="193.3" r="1.9"/><circle cx="627.7" cy="193.2" r="1.9"/><circle cx="629.5" cy="193.8" r="1.9"/><circle cx="632.0" cy="193.2" r="1.9"/><circle cx="634.5" cy="193.1" r="1.9"/><circle cx="637.0" cy="193.6" r="1.9"/><circle cx="638.8" cy="192.9" r="1.9"/><circle cx="642.2" cy="192.9" r="1.9"/><circle cx="643.9" cy="193.8" r="1.9"/><circle cx="646.7" cy="193.2" r="1.9"/><circle cx="649.4" cy="193.5" r="1.9"/><circle cx="651.7" cy="193.0" r="1.9"/><circle cx="654.0" cy="193.0" r="1.9"/><circle cx="609.8" cy="292.1" r="1.9"/><circle cx="612.2" cy="291.5" r="1.9"/><circle cx="615.6" cy="292.3" r="1.9"/><circle cx="617.4" cy="292.1" r="1.9"/><circle cx="620.5" cy="292.0" r="1.9"/><circle cx="623.1" cy="292.3" r="1.9"/><circle cx="625.5" cy="292.2" r="1.9"/><circle cx="627.6" cy="292.2" r="1.9"/><circle cx="630.3" cy="292.0" r="1.9"/><circle cx="632.2" cy="292.1" r="1.9"/><circle cx="635.2" cy="291.8" r="1.9"/><circle cx="638.2" cy="291.6" r="1.9"/><circle cx="640.5" cy="292.2" r="1.9"/><circle cx="642.2" cy="292.2" r="1.9"/><circle cx="645.6" cy="291.2" r="1.9"/><circle cx="648.8" cy="292.4" r="1.9"/><circle cx="650.7" cy="292.2" r="1.9"/><circle cx="610.6" cy="294.4" r="1.9"/><circle cx="612.1" cy="294.6" r="1.9"/><circle cx="614.6" cy="294.0" r="1.9"/><circle cx="616.8" cy="293.6" r="1.9"/><circle cx="618.7" cy="293.6" r="1.9"/><circle cx="621.0" cy="294.4" r="1.9"/><circle cx="623.6" cy="294.0" r="1.9"/><circle cx="626.4" cy="294.1" r="1.9"/><circle cx="629.3" cy="293.6" r="1.9"/><circle cx="631.9" cy="294.3" r="1.9"/><circle cx="635.3" cy="294.2" r="1.9"/><circle cx="637.4" cy="294.2" r="1.9"/><circle cx="640.2" cy="294.1" r="1.9"/><circle cx="641.8" cy="293.9" r="1.9"/><circle cx="644.7" cy="294.4" r="1.9"/><circle cx="647.3" cy="294.3" r="1.9"/><circle cx="649.5" cy="294.2" r="1.9"/><circle cx="652.5" cy="294.1" r="1.9"/><circle cx="562.7" cy="361.8" r="1.9"/><circle cx="564.9" cy="362.0" r="1.9"/><circle cx="567.8" cy="361.0" r="1.9"/><circle cx="571.4" cy="361.9" r="1.9"/><circle cx="573.5" cy="361.3" r="1.9"/><circle cx="575.5" cy="361.6" r="1.9"/><circle cx="578.0" cy="361.1" r="1.9"/><circle cx="581.3" cy="361.9" r="1.9"/><circle cx="584.0" cy="361.5" r="1.9"/><circle cx="586.4" cy="361.8" r="1.9"/><circle cx="588.4" cy="360.9" r="1.9"/><circle cx="590.6" cy="362.0" r="1.9"/><circle cx="593.9" cy="360.9" r="1.9"/><circle cx="596.6" cy="361.6" r="1.9"/><circle cx="598.7" cy="361.0" r="1.9"/><circle cx="600.6" cy="361.3" r="1.9"/><circle cx="603.7" cy="361.1" r="1.9"/><circle cx="605.4" cy="361.1" r="1.9"/><circle cx="607.7" cy="361.5" r="1.9"/><circle cx="610.5" cy="361.3" r="1.9"/><circle cx="613.4" cy="361.7" r="1.9"/><circle cx="616.2" cy="361.0" r="1.9"/><circle cx="618.3" cy="361.7" r="1.9"/><circle cx="621.1" cy="361.1" r="1.9"/><circle cx="623.2" cy="361.0" r="1.9"/><circle cx="626.4" cy="361.3" r="1.9"/><circle cx="628.3" cy="361.2" r="1.9"/><circle cx="631.4" cy="361.1" r="1.9"/><circle cx="633.6" cy="362.0" r="1.9"/><circle cx="636.2" cy="362.1" r="1.9"/><circle cx="637.8" cy="361.8" r="1.9"/><circle cx="640.3" cy="361.6" r="1.9"/><circle cx="644.0" cy="361.3" r="1.9"/><circle cx="645.6" cy="362.0" r="1.9"/><circle cx="649.1" cy="361.0" r="1.9"/><circle cx="650.5" cy="361.4" r="1.9"/><circle cx="652.8" cy="361.4" r="1.9"/><circle cx="562.0" cy="364.4" r="1.9"/><circle cx="564.7" cy="363.7" r="1.9"/><circle cx="566.9" cy="363.6" r="1.9"/><circle cx="569.5" cy="364.3" r="1.9"/><circle cx="572.5" cy="363.5" r="1.9"/><circle cx="574.2" cy="363.8" r="1.9"/><circle cx="576.7" cy="364.0" r="1.9"/><circle cx="580.1" cy="363.6" r="1.9"/><circle cx="582.6" cy="363.5" r="1.9"/><circle cx="584.2" cy="363.3" r="1.9"/><circle cx="587.7" cy="363.6" r="1.9"/><circle cx="589.1" cy="363.5" r="1.9"/><circle cx="591.5" cy="363.9" r="1.9"/><circle cx="593.4" cy="364.0" r="1.9"/><circle cx="595.6" cy="363.5" r="1.9"/><circle cx="598.0" cy="363.7" r="1.9"/><circle cx="601.0" cy="363.9" r="1.9"/><circle cx="604.0" cy="364.1" r="1.9"/><circle cx="606.5" cy="364.2" r="1.9"/><circle cx="609.8" cy="364.1" r="1.9"/><circle cx="611.9" cy="364.2" r="1.9"/><circle cx="614.2" cy="363.3" r="1.9"/><circle cx="616.6" cy="364.0" r="1.9"/><circle cx="618.7" cy="364.1" r="1.9"/><circle cx="621.4" cy="363.3" r="1.9"/><circle cx="623.8" cy="364.2" r="1.9"/><circle cx="627.2" cy="363.5" r="1.9"/><circle cx="629.5" cy="363.6" r="1.9"/><circle cx="631.7" cy="364.2" r="1.9"/><circle cx="634.1" cy="363.8" r="1.9"/><circle cx="636.9" cy="363.7" r="1.9"/><circle cx="640.2" cy="363.3" r="1.9"/><circle cx="642.7" cy="363.8" r="1.9"/><circle cx="644.7" cy="364.1" r="1.9"/><circle cx="647.9" cy="364.4" r="1.9"/><circle cx="650.2" cy="364.2" r="1.9"/><circle cx="652.7" cy="364.4" r="1.9"/></g>
<rect x="591.2" y="186.1" width="63.0" height="7.2" fill="#86f6ee"/>
<rect x="609.2" y="291.6" width="43.9" height="3.7" fill="#86f6ee"/>
<rect x="562.1" y="361.3" width="92.1" height="4.0" fill="#86f6ee"/>
<g fill="none" stroke="#264e4a" stroke-width="0.5" stroke-opacity="0.6"><circle cx="592.4" cy="186.7" r="1.7"/><circle cx="608.1" cy="186.6" r="1.7"/><circle cx="624.7" cy="186.5" r="1.7"/><circle cx="638.6" cy="186.5" r="1.7"/><circle cx="592.3" cy="188.4" r="1.7"/><circle cx="607.0" cy="188.2" r="1.7"/><circle cx="623.1" cy="188.6" r="1.7"/><circle cx="640.6" cy="188.9" r="1.7"/><circle cx="592.5" cy="191.1" r="1.7"/><circle cx="608.7" cy="191.1" r="1.7"/><circle cx="626.1" cy="191.1" r="1.7"/><circle cx="641.8" cy="191.1" r="1.7"/><circle cx="591.7" cy="193.1" r="1.7"/><circle cx="607.1" cy="193.3" r="1.7"/><circle cx="622.2" cy="193.1" r="1.7"/><circle cx="637.0" cy="193.6" r="1.7"/><circle cx="651.7" cy="193.0" r="1.7"/><circle cx="620.5" cy="292.0" r="1.7"/><circle cx="635.2" cy="291.8" r="1.7"/><circle cx="650.7" cy="292.2" r="1.7"/><circle cx="621.0" cy="294.4" r="1.7"/><circle cx="637.4" cy="294.2" r="1.7"/><circle cx="652.5" cy="294.1" r="1.7"/><circle cx="575.5" cy="361.6" r="1.7"/><circle cx="590.6" cy="362.0" r="1.7"/><circle cx="605.4" cy="361.1" r="1.7"/><circle cx="621.1" cy="361.1" r="1.7"/><circle cx="636.2" cy="362.1" r="1.7"/><circle cx="650.5" cy="361.4" r="1.7"/><circle cx="572.5" cy="363.5" r="1.7"/><circle cx="587.7" cy="363.6" r="1.7"/><circle cx="601.0" cy="363.9" r="1.7"/><circle cx="616.6" cy="364.0" r="1.7"/><circle cx="631.7" cy="364.2" r="1.7"/><circle cx="647.9" cy="364.4" r="1.7"/></g>
<g fill="#86f6ee" stroke="#264e4a" stroke-width="0.65"><circle cx="573.6" cy="34.4" r="1.85"/><circle cx="585.0" cy="34.4" r="1.85"/><circle cx="596.0" cy="34.4" r="1.85"/><circle cx="607.0" cy="34.4" r="1.85"/><circle cx="619.0" cy="34.4" r="1.85"/><circle cx="625.0" cy="34.4" r="1.85"/><circle cx="644.0" cy="34.4" r="1.85"/><circle cx="650.0" cy="34.4" r="1.85"/><circle cx="649.0" cy="39.5" r="1.85"/><circle cx="629.0" cy="44.0" r="1.85"/><circle cx="632.0" cy="44.0" r="1.85"/><circle cx="613.7" cy="48.6" r="1.85"/><circle cx="617.6" cy="48.6" r="1.85"/><circle cx="590.0" cy="53.5" r="1.85"/><circle cx="596.0" cy="53.5" r="1.85"/><circle cx="650.0" cy="58.3" r="1.85"/><circle cx="643.0" cy="62.9" r="1.85"/><circle cx="648.0" cy="62.9" r="1.85"/><circle cx="614.6" cy="72.1" r="1.85"/><circle cx="646.5" cy="76.9" r="1.85"/><circle cx="620.0" cy="85.9" r="1.85"/><circle cx="650.0" cy="85.9" r="1.85"/><circle cx="581.5" cy="90.7" r="1.85"/><circle cx="626.0" cy="104.9" r="1.85"/><circle cx="590.0" cy="109.3" r="1.85"/><circle cx="622.0" cy="109.3" r="1.85"/><circle cx="638.0" cy="113.9" r="1.85"/><circle cx="619.0" cy="128.2" r="1.85"/><circle cx="633.6" cy="132.6" r="1.85"/><circle cx="639.5" cy="132.6" r="1.85"/><circle cx="649.0" cy="137.4" r="1.85"/><circle cx="635.0" cy="142.2" r="1.85"/><circle cx="611.5" cy="146.8" r="1.85"/><circle cx="620.0" cy="151.6" r="1.85"/><circle cx="627.0" cy="151.6" r="1.85"/><circle cx="609.0" cy="160.8" r="1.85"/><circle cx="623.0" cy="160.8" r="1.85"/><circle cx="592.0" cy="165.2" r="1.85"/><circle cx="605.0" cy="165.2" r="1.85"/><circle cx="620.0" cy="165.2" r="1.85"/><circle cx="643.0" cy="165.2" r="1.85"/><circle cx="650.0" cy="165.2" r="1.85"/><circle cx="631.6" cy="169.8" r="1.85"/><circle cx="565.0" cy="186.6" r="1.85"/><circle cx="575.0" cy="186.6" r="1.85"/><circle cx="585.0" cy="186.6" r="1.85"/><circle cx="600.0" cy="186.6" r="1.85"/><circle cx="563.7" cy="198.0" r="1.85"/><circle cx="621.0" cy="202.7" r="1.85"/><circle cx="632.0" cy="202.7" r="1.85"/><circle cx="640.0" cy="202.7" r="1.85"/><circle cx="632.0" cy="207.5" r="1.85"/><circle cx="648.0" cy="207.5" r="1.85"/><circle cx="638.0" cy="211.9" r="1.85"/><circle cx="648.5" cy="211.9" r="1.85"/><circle cx="629.5" cy="216.5" r="1.85"/><circle cx="651.6" cy="221.5" r="1.85"/><circle cx="576.0" cy="226.1" r="1.85"/><circle cx="641.0" cy="230.5" r="1.85"/><circle cx="650.7" cy="230.5" r="1.85"/><circle cx="633.0" cy="235.5" r="1.85"/><circle cx="650.7" cy="235.5" r="1.85"/><circle cx="628.0" cy="240.1" r="1.85"/><circle cx="648.5" cy="240.1" r="1.85"/><circle cx="638.0" cy="244.9" r="1.85"/><circle cx="650.0" cy="244.9" r="1.85"/><circle cx="613.5" cy="254.1" r="1.85"/><circle cx="630.6" cy="254.1" r="1.85"/><circle cx="637.0" cy="254.1" r="1.85"/><circle cx="637.0" cy="263.3" r="1.85"/><circle cx="643.6" cy="263.3" r="1.85"/><circle cx="627.0" cy="267.9" r="1.85"/><circle cx="648.5" cy="272.7" r="1.85"/><circle cx="626.0" cy="277.5" r="1.85"/><circle cx="648.5" cy="277.5" r="1.85"/><circle cx="625.0" cy="281.9" r="1.85"/><circle cx="625.0" cy="286.6" r="1.85"/><circle cx="632.0" cy="286.6" r="1.85"/><circle cx="610.0" cy="293.1" r="1.85"/><circle cx="616.6" cy="300.8" r="1.85"/><circle cx="620.0" cy="305.2" r="1.85"/><circle cx="630.6" cy="310.0" r="1.85"/><circle cx="636.0" cy="314.6" r="1.85"/><circle cx="599.6" cy="323.8" r="1.85"/><circle cx="612.0" cy="323.8" r="1.85"/><circle cx="631.6" cy="323.8" r="1.85"/><circle cx="637.6" cy="323.8" r="1.85"/><circle cx="624.0" cy="333.2" r="1.85"/><circle cx="654.0" cy="333.2" r="1.85"/><circle cx="566.6" cy="338.0" r="1.85"/><circle cx="596.4" cy="342.8" r="1.85"/><circle cx="596.6" cy="346.8" r="1.85"/><circle cx="612.6" cy="346.8" r="1.85"/><circle cx="653.6" cy="346.8" r="1.85"/><circle cx="553.0" cy="351.8" r="1.85"/><circle cx="560.0" cy="351.8" r="1.85"/><circle cx="561.0" cy="356.6" r="1.85"/><circle cx="560.0" cy="361.5" r="1.85"/><circle cx="560.0" cy="369.3" r="1.85"/><circle cx="563.0" cy="369.3" r="1.85"/><circle cx="574.0" cy="369.3" r="1.85"/><circle cx="582.0" cy="369.3" r="1.85"/><circle cx="589.0" cy="369.3" r="1.85"/><circle cx="597.0" cy="369.3" r="1.85"/><circle cx="602.0" cy="369.3" r="1.85"/><circle cx="606.0" cy="369.3" r="1.85"/><circle cx="611.0" cy="369.3" r="1.85"/><circle cx="615.0" cy="369.3" r="1.85"/><circle cx="620.0" cy="369.3" r="1.85"/><circle cx="624.0" cy="369.3" r="1.85"/><circle cx="632.0" cy="374.7" r="1.85"/><circle cx="640.0" cy="374.7" r="1.85"/><circle cx="609.0" cy="379.8" r="1.85"/><circle cx="613.0" cy="379.8" r="1.85"/><circle cx="618.0" cy="379.8" r="1.85"/><circle cx="627.0" cy="379.8" r="1.85"/><circle cx="640.0" cy="29.8" r="1.85"/><circle cx="642.2" cy="29.8" r="1.85"/><circle cx="644.4" cy="29.8" r="1.85"/><circle cx="633.0" cy="34.4" r="1.85"/><circle cx="635.3" cy="34.4" r="1.85"/><circle cx="637.7" cy="34.4" r="1.85"/><circle cx="640.0" cy="34.4" r="1.85"/><circle cx="643.0" cy="44.0" r="1.85"/><circle cx="645.3" cy="44.0" r="1.85"/><circle cx="647.7" cy="44.0" r="1.85"/><circle cx="650.0" cy="44.0" r="1.85"/><circle cx="603.0" cy="53.5" r="1.85"/><circle cx="605.5" cy="53.5" r="1.85"/><circle cx="608.0" cy="53.5" r="1.85"/><circle cx="610.5" cy="53.5" r="1.85"/><circle cx="613.0" cy="53.5" r="1.85"/><circle cx="615.5" cy="53.5" r="1.85"/><circle cx="618.0" cy="53.5" r="1.85"/><circle cx="644.0" cy="53.5" r="1.85"/><circle cx="646.7" cy="53.5" r="1.85"/><circle cx="649.3" cy="53.5" r="1.85"/><circle cx="652.0" cy="53.5" r="1.85"/><circle cx="638.0" cy="67.3" r="1.85"/><circle cx="641.0" cy="67.3" r="1.85"/><circle cx="617.0" cy="81.5" r="1.85"/><circle cx="620.0" cy="81.5" r="1.85"/><circle cx="627.0" cy="85.9" r="1.85"/><circle cx="629.6" cy="85.9" r="1.85"/><circle cx="632.1" cy="85.9" r="1.85"/><circle cx="634.7" cy="85.9" r="1.85"/><circle cx="637.3" cy="85.9" r="1.85"/><circle cx="639.9" cy="85.9" r="1.85"/><circle cx="642.4" cy="85.9" r="1.85"/><circle cx="645.0" cy="85.9" r="1.85"/><circle cx="592.0" cy="90.7" r="1.85"/><circle cx="594.0" cy="90.7" r="1.85"/><circle cx="596.0" cy="90.7" r="1.85"/><circle cx="600.0" cy="100.1" r="1.85"/><circle cx="602.4" cy="100.1" r="1.85"/><circle cx="604.8" cy="100.1" r="1.85"/><circle cx="607.2" cy="100.1" r="1.85"/><circle cx="609.6" cy="100.1" r="1.85"/><circle cx="612.0" cy="100.1" r="1.85"/><circle cx="618.0" cy="100.1" r="1.85"/><circle cx="620.0" cy="100.1" r="1.85"/><circle cx="644.0" cy="118.8" r="1.85"/><circle cx="647.0" cy="118.8" r="1.85"/><circle cx="650.0" cy="118.8" r="1.85"/><circle cx="620.0" cy="123.6" r="1.85"/><circle cx="622.0" cy="123.6" r="1.85"/><circle cx="650.0" cy="132.6" r="1.85"/><circle cx="652.0" cy="132.6" r="1.85"/><circle cx="654.0" cy="132.6" r="1.85"/><circle cx="603.0" cy="137.4" r="1.85"/><circle cx="606.0" cy="137.4" r="1.85"/><circle cx="621.0" cy="156.0" r="1.85"/><circle cx="623.0" cy="156.0" r="1.85"/><circle cx="625.0" cy="156.0" r="1.85"/><circle cx="615.0" cy="160.8" r="1.85"/><circle cx="617.0" cy="160.8" r="1.85"/><circle cx="610.0" cy="165.2" r="1.85"/><circle cx="613.0" cy="165.2" r="1.85"/><circle cx="616.0" cy="165.2" r="1.85"/><circle cx="630.0" cy="174.6" r="1.85"/><circle cx="632.8" cy="174.6" r="1.85"/><circle cx="635.5" cy="174.6" r="1.85"/><circle cx="638.2" cy="174.6" r="1.85"/><circle cx="641.0" cy="174.6" r="1.85"/><circle cx="643.8" cy="174.6" r="1.85"/><circle cx="646.5" cy="174.6" r="1.85"/><circle cx="649.2" cy="174.6" r="1.85"/><circle cx="652.0" cy="174.6" r="1.85"/><circle cx="620.0" cy="179.4" r="1.85"/><circle cx="622.5" cy="179.4" r="1.85"/><circle cx="625.0" cy="179.4" r="1.85"/><circle cx="627.5" cy="179.4" r="1.85"/><circle cx="630.0" cy="179.4" r="1.85"/><circle cx="646.0" cy="202.7" r="1.85"/><circle cx="648.0" cy="202.7" r="1.85"/><circle cx="650.0" cy="202.7" r="1.85"/><circle cx="629.0" cy="230.5" r="1.85"/><circle cx="632.0" cy="230.5" r="1.85"/><circle cx="635.0" cy="230.5" r="1.85"/><circle cx="638.0" cy="230.5" r="1.85"/><circle cx="613.0" cy="240.1" r="1.85"/><circle cx="615.3" cy="240.1" r="1.85"/><circle cx="617.7" cy="240.1" r="1.85"/><circle cx="620.0" cy="240.1" r="1.85"/><circle cx="635.0" cy="240.1" r="1.85"/><circle cx="637.5" cy="240.1" r="1.85"/><circle cx="640.0" cy="240.1" r="1.85"/><circle cx="617.0" cy="244.9" r="1.85"/><circle cx="619.5" cy="244.9" r="1.85"/><circle cx="622.0" cy="244.9" r="1.85"/><circle cx="617.0" cy="249.3" r="1.85"/><circle cx="619.5" cy="249.3" r="1.85"/><circle cx="622.0" cy="249.3" r="1.85"/><circle cx="617.0" cy="277.5" r="1.85"/><circle cx="620.0" cy="277.5" r="1.85"/><circle cx="612.0" cy="286.6" r="1.85"/><circle cx="614.5" cy="286.6" r="1.85"/><circle cx="617.0" cy="286.6" r="1.85"/><circle cx="629.0" cy="305.2" r="1.85"/><circle cx="631.7" cy="305.2" r="1.85"/><circle cx="634.4" cy="305.2" r="1.85"/><circle cx="637.1" cy="305.2" r="1.85"/><circle cx="639.9" cy="305.2" r="1.85"/><circle cx="642.6" cy="305.2" r="1.85"/><circle cx="645.3" cy="305.2" r="1.85"/><circle cx="648.0" cy="305.2" r="1.85"/><circle cx="632.0" cy="319.0" r="1.85"/><circle cx="634.5" cy="319.0" r="1.85"/><circle cx="637.0" cy="319.0" r="1.85"/><circle cx="643.0" cy="319.0" r="1.85"/><circle cx="646.0" cy="319.0" r="1.85"/><circle cx="649.0" cy="319.0" r="1.85"/><circle cx="652.0" cy="319.0" r="1.85"/><circle cx="648.0" cy="328.6" r="1.85"/><circle cx="650.0" cy="328.6" r="1.85"/><circle cx="652.0" cy="328.6" r="1.85"/><circle cx="617.0" cy="346.8" r="1.85"/><circle cx="619.6" cy="346.8" r="1.85"/><circle cx="622.2" cy="346.8" r="1.85"/><circle cx="624.8" cy="346.8" r="1.85"/><circle cx="627.4" cy="346.8" r="1.85"/><circle cx="630.0" cy="346.8" r="1.85"/><circle cx="632.6" cy="346.8" r="1.85"/><circle cx="635.2" cy="346.8" r="1.85"/><circle cx="637.8" cy="346.8" r="1.85"/><circle cx="640.4" cy="346.8" r="1.85"/><circle cx="643.0" cy="346.8" r="1.85"/><circle cx="630.0" cy="369.3" r="1.85"/><circle cx="632.7" cy="369.3" r="1.85"/><circle cx="635.3" cy="369.3" r="1.85"/><circle cx="638.0" cy="369.3" r="1.85"/><circle cx="640.7" cy="369.3" r="1.85"/><circle cx="643.3" cy="369.3" r="1.85"/><circle cx="646.0" cy="369.3" r="1.85"/><circle cx="648.7" cy="369.3" r="1.85"/><circle cx="651.3" cy="369.3" r="1.85"/><circle cx="654.0" cy="369.3" r="1.85"/><circle cx="630.0" cy="379.8" r="1.85"/><circle cx="632.3" cy="379.8" r="1.85"/><circle cx="634.7" cy="379.8" r="1.85"/><circle cx="637.0" cy="379.8" r="1.85"/><circle cx="646.0" cy="384.5" r="1.85"/><circle cx="649.0" cy="384.5" r="1.85"/><circle cx="652.0" cy="384.5" r="1.85"/></g>
<circle cx="626.2" cy="29.8" r="2.35" fill="#1f70f0" stroke="#174fb0" stroke-width="0.6"/>
<circle cx="559.0" cy="34.4" r="2.35" fill="#1f70f0" stroke="#174fb0" stroke-width="0.6"/>
<circle cx="637.8" cy="39.5" r="2.35" fill="#1f70f0" stroke="#174fb0" stroke-width="0.6"/>
<circle cx="600.6" cy="44.0" r="2.35" fill="#1f70f0" stroke="#174fb0" stroke-width="0.6"/>
<circle cx="600.6" cy="48.6" r="2.35" fill="#1f70f0" stroke="#174fb0" stroke-width="0.6"/>
<circle cx="581.3" cy="53.5" r="2.35" fill="#1f70f0" stroke="#174fb0" stroke-width="0.6"/>
<circle cx="636.0" cy="58.3" r="2.35" fill="#1f70f0" stroke="#174fb0" stroke-width="0.6"/>
<circle cx="638.2" cy="62.9" r="2.35" fill="#1f70f0" stroke="#174fb0" stroke-width="0.6"/>
<circle cx="632.8" cy="67.3" r="2.35" fill="#1f70f0" stroke="#174fb0" stroke-width="0.6"/>
<circle cx="610.2" cy="72.1" r="2.35" fill="#1f70f0" stroke="#174fb0" stroke-width="0.6"/>
<circle cx="638.9" cy="76.9" r="2.35" fill="#1f70f0" stroke="#174fb0" stroke-width="0.6"/>
<circle cx="607.1" cy="81.5" r="2.35" fill="#1f70f0" stroke="#174fb0" stroke-width="0.6"/>
<circle cx="610.2" cy="85.9" r="2.35" fill="#1f70f0" stroke="#174fb0" stroke-width="0.6"/>
<circle cx="568.6" cy="90.7" r="2.35" fill="#1f70f0" stroke="#174fb0" stroke-width="0.6"/>
<circle cx="619.0" cy="95.5" r="2.35" fill="#1f70f0" stroke="#174fb0" stroke-width="0.6"/>
<circle cx="596.2" cy="100.1" r="2.35" fill="#1f70f0" stroke="#174fb0" stroke-width="0.6"/>
<circle cx="612.0" cy="104.9" r="2.35" fill="#1f70f0" stroke="#174fb0" stroke-width="0.6"/>
<circle cx="581.7" cy="109.3" r="2.35" fill="#1f70f0" stroke="#174fb0" stroke-width="0.6"/>
<circle cx="614.6" cy="113.9" r="2.35" fill="#1f70f0" stroke="#174fb0" stroke-width="0.6"/>
<circle cx="614.6" cy="118.8" r="2.35" fill="#1f70f0" stroke="#174fb0" stroke-width="0.6"/>
<circle cx="590.0" cy="123.6" r="2.35" fill="#1f70f0" stroke="#174fb0" stroke-width="0.6"/>
<circle cx="606.0" cy="128.2" r="2.35" fill="#1f70f0" stroke="#174fb0" stroke-width="0.6"/>
<circle cx="620.0" cy="132.6" r="2.35" fill="#1f70f0" stroke="#174fb0" stroke-width="0.6"/>
<circle cx="587.4" cy="137.4" r="2.35" fill="#1f70f0" stroke="#174fb0" stroke-width="0.6"/>
<circle cx="624.0" cy="142.2" r="2.35" fill="#1f70f0" stroke="#174fb0" stroke-width="0.6"/>
<circle cx="607.0" cy="146.8" r="2.35" fill="#1f70f0" stroke="#174fb0" stroke-width="0.6"/>
<circle cx="610.0" cy="151.6" r="2.35" fill="#1f70f0" stroke="#174fb0" stroke-width="0.6"/>
<circle cx="589.0" cy="156.0" r="2.35" fill="#1f70f0" stroke="#174fb0" stroke-width="0.6"/>
<circle cx="585.7" cy="160.8" r="2.35" fill="#1f70f0" stroke="#174fb0" stroke-width="0.6"/>
<circle cx="578.0" cy="165.2" r="2.35" fill="#1f70f0" stroke="#174fb0" stroke-width="0.6"/>
<circle cx="586.8" cy="169.8" r="2.35" fill="#1f70f0" stroke="#174fb0" stroke-width="0.6"/>
<circle cx="626.2" cy="174.6" r="2.35" fill="#1f70f0" stroke="#174fb0" stroke-width="0.6"/>
<circle cx="610.2" cy="179.4" r="2.35" fill="#1f70f0" stroke="#174fb0" stroke-width="0.6"/>
<circle cx="635.0" cy="184.4" r="2.35" fill="#1f70f0" stroke="#174fb0" stroke-width="0.6"/>
<circle cx="552.4" cy="186.6" r="2.35" fill="#1f70f0" stroke="#174fb0" stroke-width="0.6"/>
<circle cx="566.4" cy="188.4" r="2.35" fill="#1f70f0" stroke="#174fb0" stroke-width="0.6"/>
<circle cx="552.4" cy="198.0" r="2.35" fill="#1f70f0" stroke="#174fb0" stroke-width="0.6"/>
<circle cx="603.6" cy="202.7" r="2.35" fill="#fcd55c" stroke="#b59a3a" stroke-width="0.6"/>
<circle cx="613.5" cy="207.5" r="2.35" fill="#fcd55c" stroke="#b59a3a" stroke-width="0.6"/>
<circle cx="606.0" cy="211.9" r="2.35" fill="#fcd55c" stroke="#b59a3a" stroke-width="0.6"/>
<circle cx="615.7" cy="216.5" r="2.35" fill="#fcd55c" stroke="#b59a3a" stroke-width="0.6"/>
<circle cx="615.7" cy="221.5" r="2.35" fill="#fcd55c" stroke="#b59a3a" stroke-width="0.6"/>
<circle cx="555.0" cy="226.1" r="2.35" fill="#fcd55c" stroke="#b59a3a" stroke-width="0.6"/>
<circle cx="596.2" cy="230.5" r="2.35" fill="#fcd55c" stroke="#b59a3a" stroke-width="0.6"/>
<circle cx="630.6" cy="235.5" r="2.35" fill="#fcd55c" stroke="#b59a3a" stroke-width="0.6"/>
<circle cx="601.7" cy="240.1" r="2.35" fill="#fcd55c" stroke="#b59a3a" stroke-width="0.6"/>
<circle cx="599.5" cy="244.9" r="2.35" fill="#fcd55c" stroke="#b59a3a" stroke-width="0.6"/>
<circle cx="599.5" cy="249.3" r="2.35" fill="#fcd55c" stroke="#b59a3a" stroke-width="0.6"/>
<circle cx="603.6" cy="254.1" r="2.35" fill="#fcd55c" stroke="#b59a3a" stroke-width="0.6"/>
<circle cx="572.5" cy="258.5" r="2.35" fill="#fcd55c" stroke="#b59a3a" stroke-width="0.6"/>
<circle cx="623.4" cy="263.3" r="2.35" fill="#fcd55c" stroke="#b59a3a" stroke-width="0.6"/>
<circle cx="566.4" cy="267.9" r="2.35" fill="#fcd55c" stroke="#b59a3a" stroke-width="0.6"/>
<circle cx="629.5" cy="272.7" r="2.35" fill="#fcd55c" stroke="#b59a3a" stroke-width="0.6"/>
<circle cx="583.5" cy="277.5" r="2.35" fill="#fcd55c" stroke="#b59a3a" stroke-width="0.6"/>
<circle cx="583.5" cy="281.9" r="2.35" fill="#fcd55c" stroke="#b59a3a" stroke-width="0.6"/>
<circle cx="600.6" cy="286.6" r="2.35" fill="#fcd55c" stroke="#b59a3a" stroke-width="0.6"/>
<circle cx="564.4" cy="293.1" r="2.35" fill="#fcd55c" stroke="#b59a3a" stroke-width="0.6"/>
<circle cx="603.2" cy="300.8" r="2.35" fill="#fcd55c" stroke="#b59a3a" stroke-width="0.6"/>
<circle cx="612.4" cy="305.2" r="2.35" fill="#fcd55c" stroke="#b59a3a" stroke-width="0.6"/>
<circle cx="607.6" cy="310.0" r="2.35" fill="#fcd55c" stroke="#b59a3a" stroke-width="0.6"/>
<circle cx="633.4" cy="314.6" r="2.35" fill="#fcd55c" stroke="#b59a3a" stroke-width="0.6"/>
<circle cx="592.3" cy="319.0" r="2.35" fill="#fcd55c" stroke="#b59a3a" stroke-width="0.6"/>
<circle cx="539.7" cy="323.8" r="2.35" fill="#f4561f" stroke="#a83a14" stroke-width="0.6"/>
<circle cx="619.0" cy="328.6" r="2.35" fill="#f4561f" stroke="#a83a14" stroke-width="0.6"/>
<circle cx="608.0" cy="333.2" r="2.35" fill="#f4561f" stroke="#a83a14" stroke-width="0.6"/>
<circle cx="548.5" cy="338.0" r="2.35" fill="#f4561f" stroke="#a83a14" stroke-width="0.6"/>
<circle cx="546.3" cy="342.8" r="2.35" fill="#f4561f" stroke="#a83a14" stroke-width="0.6"/>
<circle cx="593.4" cy="346.8" r="2.35" fill="#f4561f" stroke="#a83a14" stroke-width="0.6"/>
<circle cx="536.4" cy="351.8" r="2.35" fill="#f4561f" stroke="#a83a14" stroke-width="0.6"/>
<circle cx="553.3" cy="356.6" r="2.35" fill="#f4561f" stroke="#a83a14" stroke-width="0.6"/>
<circle cx="542.0" cy="361.5" r="2.35" fill="#f4561f" stroke="#a83a14" stroke-width="0.6"/>
<circle cx="551.7" cy="369.3" r="2.35" fill="#f4561f" stroke="#a83a14" stroke-width="0.6"/>
<circle cx="596.1" cy="374.7" r="2.35" fill="#f4561f" stroke="#a83a14" stroke-width="0.6"/>
<circle cx="489.7" cy="379.8" r="2.35" fill="#f4561f" stroke="#a83a14" stroke-width="0.6"/>
<circle cx="489.7" cy="384.5" r="2.35" fill="#f4561f" stroke="#a83a14" stroke-width="0.6"/>
<circle cx="632.8" cy="291.0" r="2.35" fill="#fcd55c" stroke="#b59a3a" stroke-width="0.6"/>
<circle cx="549.6" cy="362.5" r="2.35" fill="#f4561f" stroke="#a83a14" stroke-width="0.6"/>
<g font-size="6.6" fill="#0a0a0a" stroke="#0a0a0a" stroke-width="0.12"><text x="591.3" y="42.6" text-anchor="middle">100</text><text x="591.3" y="49.6" text-anchor="middle">100</text><text x="571.9" y="51.8" text-anchor="middle">100</text><text x="622.7" y="66.3" text-anchor="middle">100</text><text x="600.7" y="71.1" text-anchor="middle">100</text><text x="629.5" y="75.5" text-anchor="middle">100</text><text x="609.5" y="93.0" text-anchor="middle">100</text><text x="587.5" y="98.7" text-anchor="middle">100</text><text x="571.8" y="107.9" text-anchor="middle">100</text><text x="605.8" y="117.1" text-anchor="middle">100</text><text x="580.5" y="122.2" text-anchor="middle">100</text><text x="578.2" y="135.9" text-anchor="middle">100</text><text x="598.3" y="150.0" text-anchor="middle">100</text><text x="578.0" y="158.9" text-anchor="middle">62</text><text x="571.0" y="163.8" text-anchor="middle">36</text><text x="577.5" y="174.0" text-anchor="middle">100</text><text x="600.5" y="177.3" text-anchor="middle">100</text><text x="616.5" y="176.3" text-anchor="middle">100</text><text x="626.0" y="182.8" text-anchor="middle">48</text><text x="545.0" y="185.7" text-anchor="middle">47</text><text x="545.0" y="196.6" text-anchor="middle">74</text><text x="557.4" y="195.1" text-anchor="middle">100</text><text x="594.5" y="201.3" text-anchor="middle">100</text><text x="605.8" y="219.8" text-anchor="middle">100</text><text x="545.5" y="224.7" text-anchor="middle">100</text><text x="592.4" y="237.8" text-anchor="middle">100</text><text x="622.0" y="237.8" text-anchor="middle">100</text><text x="587.8" y="243.3" text-anchor="middle">68</text><text x="591.5" y="248.8" text-anchor="middle">100</text><text x="593.8" y="256.0" text-anchor="middle">12</text><text x="557.4" y="266.9" text-anchor="middle">100</text><text x="574.3" y="280.5" text-anchor="middle">100</text><text x="593.5" y="290.0" text-anchor="middle">42</text><text x="624.0" y="290.0" text-anchor="middle">100</text><text x="555.3" y="291.7" text-anchor="middle">100</text><text x="594.5" y="299.2" text-anchor="middle">100</text><text x="596.5" y="305.9" text-anchor="middle">70</text><text x="582.7" y="317.3" text-anchor="middle">100</text><text x="530.4" y="322.3" text-anchor="middle">100</text><text x="609.5" y="330.0" text-anchor="middle">100</text><text x="597.7" y="334.9" text-anchor="middle">100</text><text x="539.3" y="335.9" text-anchor="middle">100</text><text x="539.0" y="343.6" text-anchor="middle">51</text><text x="586.7" y="350.6" text-anchor="middle">32</text><text x="534.8" y="360.0" text-anchor="middle">99</text><text x="544.5" y="370.3" text-anchor="middle">12</text><text x="589.5" y="376.0" text-anchor="middle">84</text><text x="482.8" y="378.3" text-anchor="middle">13</text><text x="482.8" y="384.8" text-anchor="middle">52</text></g>
<path d="M85.9 594.5L85.9 772.4M85.9 594.5L133.4 594.5M133.4 542.4L133.4 593.7M133.4 542.4L144.8 542.4M144.8 524.9L144.8 553.7M144.8 524.9L160.2 524.9M160.2 495.8L160.2 536.5M160.2 495.8L179.9 495.8M179.9 483.0L179.9 497.9M179.9 483.0L213.6 483.0M213.6 462.8L213.6 483.0M213.6 462.8L219.0 462.8M219.0 458.0L219.0 463.0M219.0 458.0L255.0 458.0M213.0 461.0L300.0 461.0M144.8 553.7L157.0 553.7M191.2 629.7L204.3 629.7M204.3 626.2L204.3 633.2M204.3 626.2L219.5 626.2M191.2 629.7L191.2 656.6M140.0 656.6L191.2 656.6M85.9 659.0L139.8 659.0M85.9 692.8L133.5 692.8M198.0 705.0L198.0 719.0M141.5 712.0L198.0 712.0M141.5 712.0L141.5 772.4M141.5 723.8L157.5 723.8M157.5 718.4L157.5 724.6M141.5 742.1L385.0 742.1M141.5 752.0L182.6 752.0" stroke="#1a78f6" stroke-width="1.2" fill="none"/>
<path d="M255.0 448.0L255.0 457.0M255.0 448.0L337.2 448.0M260.3 450.6L375.9 450.6M273.7 451.9L384.7 451.9M267.4 455.7L382.0 455.7M255.0 457.0L379.1 457.0M213.6 463.5L213.6 482.0M213.6 463.5L383.8 463.5M223.3 467.5L374.2 467.5M221.4 471.4L373.3 471.4M234.8 472.8L379.6 472.8M221.1 475.4L370.0 475.4M220.3 476.7L284.7 476.7M217.1 479.4L317.3 479.4M213.6 482.0L381.0 482.0M179.9 484.0L179.9 494.5M179.9 484.0L370.9 484.0M184.5 487.9L385.4 487.9M183.9 491.9L378.7 491.9M200.2 493.2L381.1 493.2M179.9 494.5L374.0 494.5M160.2 497.0L160.2 522.0M160.2 497.0L373.4 497.0M168.4 498.3L380.8 498.3M187.8 499.6L376.0 499.6M173.5 500.9L381.4 500.9M162.5 502.3L386.1 502.3M164.8 503.6L379.7 503.6M168.6 504.9L384.8 504.9M190.0 506.2L377.0 506.2M173.5 507.5L386.1 507.5M162.2 510.2L386.9 510.2M188.4 511.5L375.7 511.5M186.4 512.8L383.5 512.8M174.0 516.7L380.9 516.7M166.9 518.1L376.0 518.1M164.2 519.4L379.9 519.4M186.5 520.7L377.9 520.7M160.2 522.0L372.5 522.0M160.2 526.0L160.2 536.5M160.2 526.0L382.6 526.0M190.7 533.9L379.5 533.9M160.2 536.5L379.1 536.5M157.0 538.0L157.0 556.0M284.6 539.3L376.5 539.3M230.2 547.0L364.5 547.0M207.2 550.9L382.0 550.9M306.6 552.1L362.9 552.1M133.4 557.5L133.4 592.5M133.4 557.5L374.9 557.5M177.0 558.8L385.1 558.8M149.9 560.1L382.0 560.1M135.0 561.4L384.1 561.4M138.1 564.0L386.6 564.0M142.0 565.3L268.2 565.3M141.2 566.6L377.2 566.6M177.3 567.9L379.6 567.9M152.7 569.2L383.2 569.2M139.0 571.8L387.0 571.8M142.6 573.1L384.2 573.1M140.2 574.4L387.8 574.4M174.9 575.6L387.2 575.6M138.6 576.9L378.5 576.9M140.2 579.5L385.2 579.5M141.6 582.1L379.6 582.1M139.4 583.4L386.6 583.4M143.4 584.7L385.0 584.7M137.6 586.0L371.4 586.0M172.8 587.3L222.0 587.3M133.4 592.5L374.4 592.5M133.4 570.0L195.0 570.0M239.8 597.0L239.8 606.5M239.8 597.0L379.3 597.0M251.1 598.4L376.2 598.4M242.7 599.7L379.5 599.7M248.8 601.1L384.3 601.1M249.9 605.1L378.3 605.1M239.8 606.5L373.1 606.5M219.5 608.7L219.5 630.2M219.5 608.7L235.3 608.7M237.2 612.5L374.2 612.5M229.0 613.8L380.7 613.8M224.2 620.1L380.3 620.1M221.4 622.6L369.2 622.6M221.6 623.9L375.3 623.9M219.5 630.2L381.3 630.2M191.2 632.0L191.2 652.0M191.2 632.0L376.6 632.0M197.2 636.0L381.6 636.0M211.8 638.7L381.9 638.7M207.6 640.0L381.7 640.0M206.1 641.3L382.0 641.3M194.2 642.7L368.6 642.7M201.6 644.0L368.6 644.0M196.9 648.0L316.0 648.0M199.4 649.3L375.0 649.3M199.2 650.7L374.7 650.7M191.2 652.0L381.1 652.0M139.8 653.5L139.8 665.5M139.8 653.5L206.2 653.5M146.6 660.2L376.4 660.2M154.7 661.5L370.6 661.5M155.6 662.8L377.8 662.8M161.2 664.2L379.3 664.2M139.8 665.5L384.1 665.5M85.9 670.5L85.9 679.0M85.9 670.5L384.8 670.5M94.2 672.9L383.0 672.9M99.2 676.6L383.2 676.6M85.9 679.0L374.2 679.0M133.5 691.8L133.5 702.1M133.5 691.8L387.9 691.8M147.6 693.1L383.9 693.1M138.7 694.4L385.1 694.4M151.7 695.7L384.3 695.7M139.8 697.0L384.5 697.0M139.9 698.2L383.6 698.2M146.0 700.8L373.3 700.8M133.5 702.1L387.3 702.1M198.0 704.0L198.0 719.0M198.0 704.0L385.9 704.0M225.8 705.2L383.7 705.2M200.2 706.5L373.5 706.5M200.8 709.0L218.2 709.0M216.2 710.2L371.5 710.2M219.1 711.5L259.4 711.5M200.7 712.8L382.5 712.8M210.5 715.2L377.4 715.2M200.8 716.5L378.2 716.5M198.0 719.0L376.4 719.0M157.5 720.0L157.5 733.0M157.5 720.0L184.2 720.0M181.3 721.3L345.2 721.3M169.6 722.6L251.5 722.6M161.3 726.5L384.1 726.5M172.8 731.7L378.5 731.7M157.5 733.0L384.9 733.0M141.5 736.0L141.5 750.0M141.5 736.0L379.7 736.0M181.7 738.5L371.0 738.5M144.7 741.1L380.6 741.1M188.9 742.4L370.7 742.4M146.6 744.9L378.6 744.9M143.3 747.5L293.4 747.5M147.1 748.7L380.8 748.7M141.5 750.0L375.9 750.0M182.6 751.0L182.6 763.0M182.6 751.0L385.6 751.0M184.5 752.3L387.2 752.3M191.6 755.0L375.0 755.0M212.8 756.3L382.6 756.3M182.6 763.0L372.0 763.0M141.5 764.0L141.5 772.4M141.5 764.0L359.1 764.0M144.5 765.4L359.7 765.4M163.7 766.8L364.5 766.8M158.3 769.6L364.4 769.6M150.1 771.0L347.1 771.0M141.5 772.4L364.1 772.4" stroke="#1a78f6" stroke-width="1.1" fill="none"/>
<path d="M292.2 448.0L292.2 449.3M262.3 468.8L262.3 470.1M256.1 479.4L256.1 480.7M261.0 512.8L261.0 514.1M232.3 528.6L232.3 529.9M203.2 569.2L203.2 570.5M256.5 615.0L256.5 616.3M260.3 616.3L260.3 617.6M295.5 617.6L295.5 618.8M267.0 626.4L267.0 627.7M256.9 627.7L256.9 628.9M319.7 632.0L319.7 633.3M281.6 644.0L281.6 645.3M301.7 670.5L301.7 671.7M212.7 672.9L212.7 674.1M259.3 742.4L259.3 743.6" stroke="#fcd862" stroke-width="0.9900000000000001" fill="none"/>
<path d="M292.2 449.3L371.2 449.3M262.3 470.1L376.2 470.1M256.1 480.7L370.2 480.7M261.0 514.1L387.3 514.1M160.2 504.1L385.0 504.1M232.3 529.9L377.8 529.9M203.2 570.5L371.1 570.5M256.5 616.3L383.5 616.3M260.3 617.6L385.4 617.6M295.5 618.8L384.7 618.8M267.0 627.7L369.4 627.7M256.9 628.9L377.6 628.9M319.7 633.3L385.8 633.3M281.6 645.3L384.4 645.3M250.0 668.3L385.0 668.3M301.7 671.7L368.1 671.7M212.7 674.1L374.9 674.1M259.3 743.6L380.5 743.6" stroke="#fcd862" stroke-width="1.1" fill="none"/>
<path d="M260.3 449.3L260.3 450.6M273.7 450.6L273.7 451.9M267.4 454.4L267.4 455.7M223.3 466.1L223.3 467.5M221.4 470.1L221.4 471.4M234.8 471.4L234.8 472.8M221.1 474.1L221.1 475.4M220.3 475.4L220.3 476.7M217.1 478.0L217.1 479.4M184.5 486.6L184.5 487.9M183.9 490.6L183.9 491.9M200.2 491.9L200.2 493.2M168.4 497.0L168.4 498.3M187.8 498.3L187.8 499.6M173.5 499.6L173.5 500.9M162.5 500.9L162.5 502.3M164.8 502.3L164.8 503.6M168.6 503.6L168.6 504.9M190.0 504.9L190.0 506.2M173.5 506.2L173.5 507.5M162.2 508.8L162.2 510.2M188.4 510.2L188.4 511.5M186.4 511.5L186.4 512.8M174.0 515.4L174.0 516.7M166.9 516.7L166.9 518.1M164.2 518.1L164.2 519.4M186.5 519.4L186.5 520.7M190.7 532.6L190.7 533.9M284.6 538.0L284.6 539.3M230.2 545.7L230.2 547.0M207.2 549.6L207.2 550.9M306.6 550.9L306.6 552.1M177.0 557.5L177.0 558.8M149.9 558.8L149.9 560.1M135.0 560.1L135.0 561.4M138.1 562.7L138.1 564.0M142.0 564.0L142.0 565.3M141.2 565.3L141.2 566.6M177.3 566.6L177.3 567.9M152.7 567.9L152.7 569.2M139.0 570.5L139.0 571.8M142.6 571.8L142.6 573.1M140.2 573.1L140.2 574.4M174.9 574.4L174.9 575.6M138.6 575.6L138.6 576.9M140.2 578.2L140.2 579.5M141.6 580.8L141.6 582.1M139.4 582.1L139.4 583.4M143.4 583.4L143.4 584.7M137.6 584.7L137.6 586.0M172.8 586.0L172.8 587.3M251.1 597.0L251.1 598.4M242.7 598.4L242.7 599.7M248.8 599.7L248.8 601.1M249.9 603.8L249.9 605.1M237.2 611.2L237.2 612.5M229.0 612.5L229.0 613.8M224.2 618.8L224.2 620.1M221.4 621.3L221.4 622.6M221.6 622.6L221.6 623.9M197.2 634.7L197.2 636.0M211.8 637.3L211.8 638.7M207.6 638.7L207.6 640.0M206.1 640.0L206.1 641.3M194.2 641.3L194.2 642.7M201.6 642.7L201.6 644.0M196.9 646.7L196.9 648.0M199.4 648.0L199.4 649.3M199.2 649.3L199.2 650.7M146.6 658.8L146.6 660.2M154.7 660.2L154.7 661.5M155.6 661.5L155.6 662.8M161.2 662.8L161.2 664.2M94.2 671.7L94.2 672.9M99.2 675.4L99.2 676.6M147.6 691.8L147.6 693.1M138.7 693.1L138.7 694.4M151.7 694.4L151.7 695.7M139.8 695.7L139.8 697.0M139.9 697.0L139.9 698.2M146.0 699.5L146.0 700.8M225.8 704.0L225.8 705.2M200.2 705.2L200.2 706.5M200.8 707.8L200.8 709.0M216.2 709.0L216.2 710.2M219.1 710.2L219.1 711.5M200.7 711.5L200.7 712.8M210.5 714.0L210.5 715.2M200.8 715.2L200.8 716.5M181.3 720.0L181.3 721.3M169.6 721.3L169.6 722.6M161.3 725.2L161.3 726.5M172.8 730.4L172.8 731.7M181.7 737.3L181.7 738.5M144.7 739.8L144.7 741.1M188.9 741.1L188.9 742.4M146.6 743.6L146.6 744.9M143.3 746.2L143.3 747.5M147.1 747.5L147.1 748.7M184.5 751.0L184.5 752.3M191.6 753.7L191.6 755.0M212.8 755.0L212.8 756.3M144.5 764.0L144.5 765.4M163.7 765.4L163.7 766.8M158.3 768.2L158.3 769.6M150.1 769.6L150.1 771.0" stroke="#1a78f6" stroke-width="0.9900000000000001" fill="none"/>
<path d="M313.5 451.9L313.5 453.1M308.7 453.1L308.7 454.4M269.0 463.5L269.0 464.8M271.4 467.5L271.4 468.8M295.9 472.8L295.9 474.1M285.4 476.7L285.4 478.0M309.3 484.0L309.3 485.3M276.3 485.3L276.3 486.6M252.2 507.5L252.2 508.8M203.1 514.1L203.1 515.4M279.6 526.0L279.6 527.3M264.8 527.3L264.8 528.6M191.9 531.2L191.9 532.6M239.6 561.4L239.6 562.7M221.7 576.9L221.7 578.2M202.8 579.5L202.8 580.8M241.6 587.3L241.6 588.6M298.4 588.6L298.4 589.9M267.4 589.9L267.4 591.2M276.5 601.1L276.5 602.4M307.9 613.8L307.9 615.0M292.5 620.1L292.5 621.3M314.7 633.3L314.7 634.7M300.6 653.5L300.6 654.8M212.4 654.8L212.4 656.2M235.7 656.2L235.7 657.5M182.0 657.5L182.0 658.8M181.8 674.1L181.8 675.4M218.6 676.6L218.6 677.8M261.7 698.2L261.7 699.5M298.6 712.8L298.6 714.0M267.3 716.5L267.3 717.8M313.9 722.6L313.9 723.9M235.9 726.5L235.9 727.8M208.6 727.8L208.6 729.1M251.2 729.1L251.2 730.4M195.2 738.5L195.2 739.8M308.2 744.9L308.2 746.2M256.1 752.3L256.1 753.7M236.6 759.0L236.6 760.3M304.5 760.3L304.5 761.7M195.1 766.8L195.1 768.2" stroke="#62a6f6" stroke-width="0.9900000000000001" fill="none"/>
<path d="M313.5 453.1L375.2 453.1M308.7 454.4L374.9 454.4M269.0 464.8L382.6 464.8M271.4 468.8L383.1 468.8M295.9 474.1L384.8 474.1M285.4 478.0L381.4 478.0M309.3 485.3L377.7 485.3M276.3 486.6L383.9 486.6M252.2 508.8L385.7 508.8M203.1 515.4L379.8 515.4M279.6 527.3L378.8 527.3M264.8 528.6L378.8 528.6M191.9 532.6L377.2 532.6M239.6 562.7L379.8 562.7M221.7 578.2L378.2 578.2M202.8 580.8L376.5 580.8M241.6 588.6L371.2 588.6M298.4 589.9L387.8 589.9M267.4 591.2L380.6 591.2M276.5 602.4L382.9 602.4M307.9 615.0L380.0 615.0M292.5 621.3L383.3 621.3M314.7 634.7L385.7 634.7M300.6 654.8L383.6 654.8M212.4 656.2L371.4 656.2M235.7 657.5L381.0 657.5M182.0 658.8L383.1 658.8M181.8 675.4L370.9 675.4M218.6 677.8L381.6 677.8M261.7 699.5L387.4 699.5M298.6 714.0L381.0 714.0M267.3 717.8L379.1 717.8M313.9 723.9L374.5 723.9M235.9 727.8L384.0 727.8M208.6 729.1L384.2 729.1M251.2 730.4L375.1 730.4M195.2 739.8L281.8 739.8M308.2 746.2L372.0 746.2M256.1 753.7L383.7 753.7M236.6 760.3L387.2 760.3M304.5 761.7L381.9 761.7M195.1 768.2L379.2 768.2" stroke="#62a6f6" stroke-width="1.1" fill="none"/>
<path d="M269.8 464.8L269.8 466.1M269.1 487.9L269.1 489.2M294.9 489.2L294.9 490.6M223.9 529.9L223.9 531.2M228.6 533.9L228.6 535.2M163.5 539.3L163.5 540.6M184.5 540.6L184.5 541.9M182.1 541.9L182.1 543.1M179.6 543.1L179.6 544.4M191.1 544.4L191.1 545.7M158.7 547.0L158.7 548.3M178.2 548.3L178.2 549.6M170.4 552.1L170.4 553.4M164.3 553.4L164.3 554.7M307.1 602.4L307.1 603.8M287.8 608.7L287.8 610.0M311.0 610.0L311.0 611.2M265.7 623.9L265.7 625.1M300.3 625.1L300.3 626.4M259.1 636.0L259.1 637.3M246.0 645.3L246.0 646.7M240.6 706.5L240.6 707.8M273.9 723.9L273.9 725.2M290.2 736.0L290.2 737.3M306.3 756.3L306.3 757.7" stroke="#8ff0ee" stroke-width="0.9900000000000001" fill="none"/>
<path d="M269.8 466.1L382.0 466.1M269.1 489.2L385.8 489.2M294.9 490.6L378.4 490.6M223.9 531.2L372.7 531.2M228.6 535.2L382.1 535.2M157.0 538.0L366.9 538.0M163.5 540.6L367.4 540.6M184.5 541.9L367.9 541.9M182.1 543.1L379.1 543.1M179.6 544.4L379.5 544.4M191.1 545.7L383.4 545.7M158.7 548.3L290.3 548.3M178.2 549.6L379.3 549.6M170.4 553.4L365.1 553.4M164.3 554.7L369.7 554.7M157.0 556.0L383.8 556.0M307.1 603.8L378.1 603.8M287.8 610.0L374.2 610.0M311.0 611.2L386.0 611.2M265.7 625.1L378.0 625.1M300.3 626.4L379.0 626.4M259.1 637.3L379.6 637.3M246.0 646.7L383.0 646.7M240.6 707.8L378.0 707.8M273.9 725.2L384.8 725.2M290.2 737.3L378.9 737.3M306.3 757.7L387.4 757.7" stroke="#8ff0ee" stroke-width="1.1" fill="none"/>
<path d="M180.0 515.5L385.0 515.5" stroke="#1a78f6" stroke-width="1.3" fill="none"/>
<path d="M133.4 561.3L385.0 561.3M85.9 772.4L141.5 772.4" stroke="#1a78f6" stroke-width="1.6" fill="none"/>
<path d="M195.0 570.0L388.0 570.0M255.7 759.0L383.6 759.0M348.0 754.5L395.0 754.5" stroke="#fd5d2b" stroke-width="1.1" fill="none"/>
<path d="M133.4 593.6L230.0 593.6" stroke="#c5e3a0" stroke-width="1.4" fill="none"/>
<path d="M225.0 594.2L385.0 594.2" stroke="#fd5d2b" stroke-width="1.0" fill="none"/>
<path d="M85.9 608.0L219.5 608.0M85.9 716.0L198.0 716.0" stroke="#1a78f6" stroke-width="0.0" fill="none"/>
<path d="M219.5 619.9L236.6 619.9" stroke="#fd5d2b" stroke-width="1.2" fill="none"/>
<path d="M85.9 668.3L130.0 668.3M146.7 734.6L385.0 734.6" stroke="#fcd862" stroke-width="1.2" fill="none"/>
<path d="M130.0 668.3L250.0 668.3" stroke="#f8a080" stroke-width="1.2" fill="none"/>
<path d="M85.9 698.0L385.0 698.0" stroke="#8ff0ee" stroke-width="1.2" fill="none"/>
<path d="M255.7 757.7L255.7 759.0" stroke="#fd5d2b" stroke-width="0.9900000000000001" fill="none"/>
<g fill="#1f5fd0" stroke="#0d2f70" stroke-width="0.65"><circle cx="337.2" cy="448.0" r="1.20"/><circle cx="375.9" cy="450.6" r="1.20"/><circle cx="382.0" cy="455.7" r="1.20"/><circle cx="374.2" cy="467.5" r="1.20"/><circle cx="373.3" cy="471.4" r="1.20"/><circle cx="379.6" cy="472.8" r="1.20"/><circle cx="370.0" cy="475.4" r="1.20"/><circle cx="317.3" cy="479.4" r="1.20"/><circle cx="381.0" cy="482.0" r="1.20"/><circle cx="370.9" cy="484.0" r="1.20"/><circle cx="385.4" cy="487.9" r="1.20"/><circle cx="378.7" cy="491.9" r="1.20"/><circle cx="381.1" cy="493.2" r="1.20"/><circle cx="374.0" cy="494.5" r="1.20"/><circle cx="373.4" cy="497.0" r="1.20"/><circle cx="380.8" cy="498.3" r="1.20"/><circle cx="376.0" cy="499.6" r="1.20"/><circle cx="381.4" cy="500.9" r="1.20"/><circle cx="379.7" cy="503.6" r="1.20"/><circle cx="384.8" cy="504.9" r="1.20"/><circle cx="377.0" cy="506.2" r="1.20"/><circle cx="386.1" cy="507.5" r="1.20"/><circle cx="386.9" cy="510.2" r="1.20"/><circle cx="375.7" cy="511.5" r="1.20"/><circle cx="383.5" cy="512.8" r="1.20"/><circle cx="380.9" cy="516.7" r="1.20"/><circle cx="379.9" cy="519.4" r="1.20"/><circle cx="377.9" cy="520.7" r="1.20"/><circle cx="372.5" cy="522.0" r="1.20"/><circle cx="382.6" cy="526.0" r="1.20"/><circle cx="379.5" cy="533.9" r="1.20"/><circle cx="379.1" cy="536.5" r="1.20"/><circle cx="382.0" cy="550.9" r="1.20"/><circle cx="374.9" cy="557.5" r="1.20"/><circle cx="385.1" cy="558.8" r="1.20"/><circle cx="268.2" cy="565.3" r="1.20"/><circle cx="377.2" cy="566.6" r="1.20"/><circle cx="379.6" cy="567.9" r="1.20"/><circle cx="383.2" cy="569.2" r="1.20"/><circle cx="387.0" cy="571.8" r="1.20"/><circle cx="384.2" cy="573.1" r="1.20"/><circle cx="387.8" cy="574.4" r="1.20"/><circle cx="387.2" cy="575.6" r="1.20"/><circle cx="378.5" cy="576.9" r="1.20"/><circle cx="379.6" cy="582.1" r="1.20"/><circle cx="386.6" cy="583.4" r="1.20"/><circle cx="385.0" cy="584.7" r="1.20"/><circle cx="374.4" cy="592.5" r="1.20"/><circle cx="379.3" cy="597.0" r="1.20"/><circle cx="376.2" cy="598.4" r="1.20"/><circle cx="379.5" cy="599.7" r="1.20"/><circle cx="384.3" cy="601.1" r="1.20"/><circle cx="373.1" cy="606.5" r="1.20"/><circle cx="235.3" cy="608.7" r="1.20"/><circle cx="380.7" cy="613.8" r="1.20"/><circle cx="369.2" cy="622.6" r="1.20"/><circle cx="375.3" cy="623.9" r="1.20"/><circle cx="381.3" cy="630.2" r="1.20"/><circle cx="376.6" cy="632.0" r="1.20"/><circle cx="381.6" cy="636.0" r="1.20"/><circle cx="381.9" cy="638.7" r="1.20"/><circle cx="381.7" cy="640.0" r="1.20"/><circle cx="382.0" cy="641.3" r="1.20"/><circle cx="368.6" cy="644.0" r="1.20"/><circle cx="316.0" cy="648.0" r="1.20"/><circle cx="206.2" cy="653.5" r="1.20"/><circle cx="376.4" cy="660.2" r="1.20"/><circle cx="370.6" cy="661.5" r="1.20"/><circle cx="377.8" cy="662.8" r="1.20"/><circle cx="379.3" cy="664.2" r="1.20"/><circle cx="384.1" cy="665.5" r="1.20"/><circle cx="383.2" cy="676.6" r="1.20"/><circle cx="387.9" cy="691.8" r="1.20"/><circle cx="383.9" cy="693.1" r="1.20"/><circle cx="384.3" cy="695.7" r="1.20"/><circle cx="383.6" cy="698.2" r="1.20"/><circle cx="373.3" cy="700.8" r="1.20"/><circle cx="387.3" cy="702.1" r="1.20"/><circle cx="385.9" cy="704.0" r="1.20"/><circle cx="373.5" cy="706.5" r="1.20"/><circle cx="218.2" cy="709.0" r="1.20"/><circle cx="371.5" cy="710.2" r="1.20"/><circle cx="382.5" cy="712.8" r="1.20"/><circle cx="377.4" cy="715.2" r="1.20"/><circle cx="378.2" cy="716.5" r="1.20"/><circle cx="376.4" cy="719.0" r="1.20"/><circle cx="345.2" cy="721.3" r="1.20"/><circle cx="251.5" cy="722.6" r="1.20"/><circle cx="384.1" cy="726.5" r="1.20"/><circle cx="378.5" cy="731.7" r="1.20"/><circle cx="384.9" cy="733.0" r="1.20"/><circle cx="379.7" cy="736.0" r="1.20"/><circle cx="371.0" cy="738.5" r="1.20"/><circle cx="370.7" cy="742.4" r="1.20"/><circle cx="378.6" cy="744.9" r="1.20"/><circle cx="293.4" cy="747.5" r="1.20"/><circle cx="380.8" cy="748.7" r="1.20"/><circle cx="375.9" cy="750.0" r="1.20"/><circle cx="385.6" cy="751.0" r="1.20"/><circle cx="387.2" cy="752.3" r="1.20"/><circle cx="375.0" cy="755.0" r="1.20"/><circle cx="382.6" cy="756.3" r="1.20"/><circle cx="359.1" cy="764.0" r="1.20"/><circle cx="359.7" cy="765.4" r="1.20"/><circle cx="364.5" cy="766.8" r="1.20"/><circle cx="364.4" cy="769.6" r="1.20"/><circle cx="364.1" cy="772.4" r="1.20"/></g>
<g fill="#2b7bf5" stroke="#0d2f70" stroke-width="0.65"><circle cx="325.8" cy="448.0" r="1.30"/><circle cx="361.8" cy="453.1" r="1.30"/><circle cx="262.2" cy="457.0" r="1.30"/><circle cx="346.1" cy="454.4" r="1.30"/><circle cx="337.4" cy="455.7" r="1.30"/><circle cx="328.1" cy="454.4" r="1.30"/><circle cx="291.2" cy="471.4" r="1.30"/><circle cx="241.9" cy="479.4" r="1.30"/><circle cx="310.6" cy="463.5" r="1.30"/><circle cx="357.1" cy="464.8" r="1.30"/><circle cx="368.3" cy="478.0" r="1.30"/><circle cx="332.8" cy="464.8" r="1.30"/><circle cx="222.3" cy="476.7" r="1.30"/><circle cx="291.0" cy="463.5" r="1.30"/><circle cx="243.4" cy="463.5" r="1.30"/><circle cx="259.8" cy="482.0" r="1.30"/><circle cx="305.2" cy="478.0" r="1.30"/><circle cx="360.2" cy="478.0" r="1.30"/><circle cx="260.0" cy="479.4" r="1.30"/><circle cx="349.2" cy="472.8" r="1.30"/><circle cx="314.9" cy="464.8" r="1.30"/><circle cx="244.6" cy="476.7" r="1.30"/><circle cx="267.5" cy="476.7" r="1.30"/><circle cx="281.2" cy="476.7" r="1.30"/><circle cx="222.0" cy="463.5" r="1.30"/><circle cx="344.4" cy="482.0" r="1.30"/><circle cx="299.5" cy="478.0" r="1.30"/><circle cx="282.7" cy="479.4" r="1.30"/><circle cx="317.7" cy="471.4" r="1.30"/><circle cx="331.5" cy="482.0" r="1.30"/><circle cx="266.7" cy="471.4" r="1.30"/><circle cx="228.3" cy="487.9" r="1.30"/><circle cx="302.4" cy="484.0" r="1.30"/><circle cx="200.6" cy="491.9" r="1.30"/><circle cx="320.6" cy="486.6" r="1.30"/><circle cx="367.7" cy="487.9" r="1.30"/><circle cx="334.0" cy="484.0" r="1.30"/><circle cx="198.8" cy="487.9" r="1.30"/><circle cx="182.6" cy="484.0" r="1.30"/><circle cx="279.4" cy="484.0" r="1.30"/><circle cx="369.9" cy="485.3" r="1.30"/><circle cx="238.8" cy="487.9" r="1.30"/><circle cx="276.7" cy="486.6" r="1.30"/><circle cx="218.6" cy="484.0" r="1.30"/><circle cx="377.6" cy="485.3" r="1.30"/><circle cx="189.8" cy="498.3" r="1.30"/><circle cx="249.5" cy="515.4" r="1.30"/><circle cx="304.8" cy="516.7" r="1.30"/><circle cx="258.3" cy="511.5" r="1.30"/><circle cx="304.9" cy="522.0" r="1.30"/><circle cx="346.1" cy="511.5" r="1.30"/><circle cx="313.2" cy="498.3" r="1.30"/><circle cx="248.6" cy="519.4" r="1.30"/><circle cx="189.5" cy="499.6" r="1.30"/><circle cx="253.4" cy="522.0" r="1.30"/><circle cx="344.6" cy="498.3" r="1.30"/><circle cx="272.2" cy="519.4" r="1.30"/><circle cx="203.6" cy="510.2" r="1.30"/><circle cx="321.5" cy="502.3" r="1.30"/><circle cx="192.3" cy="516.7" r="1.30"/><circle cx="229.2" cy="497.0" r="1.30"/><circle cx="272.9" cy="498.3" r="1.30"/><circle cx="253.4" cy="511.5" r="1.30"/><circle cx="317.4" cy="497.0" r="1.30"/><circle cx="222.6" cy="497.0" r="1.30"/><circle cx="357.6" cy="506.2" r="1.30"/><circle cx="178.4" cy="510.2" r="1.30"/><circle cx="370.6" cy="499.6" r="1.30"/><circle cx="316.8" cy="506.2" r="1.30"/><circle cx="373.2" cy="520.7" r="1.30"/><circle cx="348.2" cy="519.4" r="1.30"/><circle cx="240.6" cy="512.8" r="1.30"/><circle cx="284.5" cy="515.4" r="1.30"/><circle cx="217.2" cy="498.3" r="1.30"/><circle cx="333.6" cy="500.9" r="1.30"/><circle cx="298.4" cy="510.2" r="1.30"/><circle cx="296.1" cy="508.8" r="1.30"/><circle cx="248.5" cy="499.6" r="1.30"/><circle cx="208.5" cy="515.4" r="1.30"/><circle cx="360.2" cy="502.3" r="1.30"/><circle cx="234.5" cy="522.0" r="1.30"/><circle cx="352.1" cy="520.7" r="1.30"/><circle cx="332.2" cy="502.3" r="1.30"/><circle cx="210.2" cy="507.5" r="1.30"/><circle cx="335.8" cy="499.6" r="1.30"/><circle cx="284.5" cy="508.8" r="1.30"/><circle cx="356.1" cy="518.1" r="1.30"/><circle cx="322.1" cy="522.0" r="1.30"/><circle cx="375.7" cy="510.2" r="1.30"/><circle cx="274.3" cy="526.0" r="1.30"/><circle cx="359.8" cy="527.3" r="1.30"/><circle cx="313.3" cy="527.3" r="1.30"/><circle cx="313.4" cy="533.9" r="1.30"/><circle cx="259.4" cy="532.6" r="1.30"/><circle cx="195.4" cy="533.9" r="1.30"/><circle cx="258.0" cy="533.9" r="1.30"/><circle cx="353.8" cy="527.3" r="1.30"/><circle cx="247.9" cy="550.9" r="1.30"/><circle cx="337.3" cy="552.1" r="1.30"/><circle cx="309.8" cy="552.1" r="1.30"/><circle cx="287.9" cy="550.9" r="1.30"/><circle cx="274.9" cy="547.0" r="1.30"/><circle cx="342.5" cy="552.1" r="1.30"/><circle cx="326.2" cy="552.1" r="1.30"/><circle cx="352.8" cy="589.9" r="1.30"/><circle cx="277.1" cy="566.6" r="1.30"/><circle cx="297.9" cy="562.7" r="1.30"/><circle cx="303.4" cy="580.8" r="1.30"/><circle cx="247.2" cy="564.0" r="1.30"/><circle cx="229.5" cy="561.4" r="1.30"/><circle cx="350.6" cy="592.5" r="1.30"/><circle cx="257.2" cy="574.4" r="1.30"/><circle cx="370.4" cy="582.1" r="1.30"/><circle cx="231.9" cy="583.4" r="1.30"/><circle cx="184.4" cy="592.5" r="1.30"/><circle cx="277.1" cy="579.5" r="1.30"/><circle cx="181.0" cy="583.4" r="1.30"/><circle cx="204.7" cy="560.1" r="1.30"/><circle cx="359.4" cy="571.8" r="1.30"/><circle cx="254.5" cy="560.1" r="1.30"/><circle cx="269.0" cy="582.1" r="1.30"/><circle cx="291.1" cy="560.1" r="1.30"/><circle cx="364.9" cy="578.2" r="1.30"/><circle cx="196.6" cy="576.9" r="1.30"/><circle cx="337.0" cy="569.2" r="1.30"/><circle cx="206.0" cy="557.5" r="1.30"/><circle cx="298.5" cy="592.5" r="1.30"/><circle cx="362.2" cy="561.4" r="1.30"/><circle cx="341.8" cy="576.9" r="1.30"/><circle cx="292.8" cy="574.4" r="1.30"/><circle cx="350.1" cy="558.8" r="1.30"/><circle cx="219.4" cy="557.5" r="1.30"/><circle cx="366.1" cy="576.9" r="1.30"/><circle cx="294.2" cy="557.5" r="1.30"/><circle cx="368.3" cy="583.4" r="1.30"/><circle cx="303.6" cy="578.2" r="1.30"/><circle cx="249.2" cy="574.4" r="1.30"/><circle cx="338.7" cy="589.9" r="1.30"/><circle cx="198.1" cy="586.0" r="1.30"/><circle cx="250.1" cy="562.7" r="1.30"/><circle cx="281.4" cy="588.6" r="1.30"/><circle cx="318.9" cy="591.2" r="1.30"/><circle cx="193.1" cy="557.5" r="1.30"/><circle cx="208.8" cy="587.3" r="1.30"/><circle cx="325.8" cy="580.8" r="1.30"/><circle cx="301.2" cy="588.6" r="1.30"/><circle cx="318.3" cy="586.0" r="1.30"/><circle cx="349.4" cy="566.6" r="1.30"/><circle cx="285.8" cy="571.8" r="1.30"/><circle cx="217.4" cy="587.3" r="1.30"/><circle cx="344.0" cy="583.4" r="1.30"/><circle cx="157.4" cy="574.4" r="1.30"/><circle cx="241.9" cy="583.4" r="1.30"/><circle cx="135.1" cy="592.5" r="1.30"/><circle cx="245.5" cy="575.6" r="1.30"/><circle cx="184.9" cy="579.5" r="1.30"/><circle cx="320.8" cy="584.7" r="1.30"/><circle cx="168.2" cy="566.6" r="1.30"/><circle cx="159.1" cy="583.4" r="1.30"/><circle cx="293.2" cy="567.9" r="1.30"/><circle cx="179.3" cy="586.0" r="1.30"/><circle cx="223.9" cy="582.1" r="1.30"/><circle cx="371.4" cy="560.1" r="1.30"/><circle cx="182.1" cy="574.4" r="1.30"/><circle cx="276.0" cy="580.8" r="1.30"/><circle cx="312.6" cy="583.4" r="1.30"/><circle cx="374.9" cy="589.9" r="1.30"/><circle cx="158.5" cy="560.1" r="1.30"/><circle cx="234.1" cy="565.3" r="1.30"/><circle cx="294.8" cy="567.9" r="1.30"/><circle cx="373.4" cy="580.8" r="1.30"/><circle cx="212.3" cy="558.8" r="1.30"/><circle cx="330.3" cy="573.1" r="1.30"/><circle cx="175.6" cy="575.6" r="1.30"/><circle cx="288.8" cy="580.8" r="1.30"/><circle cx="335.1" cy="589.9" r="1.30"/><circle cx="242.4" cy="567.9" r="1.30"/><circle cx="349.0" cy="576.9" r="1.30"/><circle cx="327.0" cy="589.9" r="1.30"/><circle cx="244.8" cy="564.0" r="1.30"/><circle cx="202.3" cy="560.1" r="1.30"/><circle cx="270.0" cy="579.5" r="1.30"/><circle cx="372.1" cy="562.7" r="1.30"/><circle cx="279.2" cy="566.6" r="1.30"/><circle cx="188.4" cy="584.7" r="1.30"/><circle cx="327.3" cy="592.5" r="1.30"/><circle cx="270.7" cy="571.8" r="1.30"/><circle cx="362.3" cy="597.0" r="1.30"/><circle cx="320.4" cy="605.1" r="1.30"/><circle cx="262.7" cy="599.7" r="1.30"/><circle cx="300.6" cy="597.0" r="1.30"/><circle cx="272.0" cy="601.1" r="1.30"/><circle cx="274.2" cy="612.5" r="1.30"/><circle cx="271.3" cy="623.9" r="1.30"/><circle cx="347.2" cy="630.2" r="1.30"/><circle cx="293.2" cy="612.5" r="1.30"/><circle cx="242.1" cy="613.8" r="1.30"/><circle cx="311.6" cy="630.2" r="1.30"/><circle cx="355.8" cy="613.8" r="1.30"/><circle cx="240.6" cy="620.1" r="1.30"/><circle cx="361.2" cy="622.6" r="1.30"/><circle cx="243.7" cy="640.0" r="1.30"/><circle cx="375.0" cy="649.3" r="1.30"/><circle cx="287.8" cy="644.0" r="1.30"/><circle cx="240.9" cy="640.0" r="1.30"/><circle cx="329.8" cy="650.7" r="1.30"/><circle cx="286.7" cy="648.0" r="1.30"/><circle cx="375.7" cy="640.0" r="1.30"/><circle cx="200.7" cy="652.0" r="1.30"/><circle cx="349.9" cy="634.7" r="1.30"/><circle cx="204.5" cy="644.0" r="1.30"/><circle cx="353.4" cy="649.3" r="1.30"/><circle cx="203.0" cy="644.0" r="1.30"/><circle cx="206.6" cy="652.0" r="1.30"/><circle cx="212.9" cy="636.0" r="1.30"/><circle cx="324.5" cy="640.0" r="1.30"/><circle cx="380.8" cy="634.7" r="1.30"/><circle cx="249.6" cy="642.7" r="1.30"/><circle cx="333.4" cy="644.0" r="1.30"/><circle cx="372.6" cy="650.7" r="1.30"/><circle cx="362.1" cy="641.3" r="1.30"/><circle cx="223.4" cy="642.7" r="1.30"/><circle cx="344.2" cy="634.7" r="1.30"/><circle cx="291.4" cy="640.0" r="1.30"/><circle cx="288.7" cy="652.0" r="1.30"/><circle cx="334.9" cy="661.5" r="1.30"/><circle cx="369.1" cy="654.8" r="1.30"/><circle cx="242.5" cy="660.2" r="1.30"/><circle cx="165.3" cy="653.5" r="1.30"/><circle cx="365.1" cy="661.5" r="1.30"/><circle cx="300.6" cy="654.8" r="1.30"/><circle cx="183.2" cy="664.2" r="1.30"/><circle cx="144.2" cy="653.5" r="1.30"/><circle cx="344.7" cy="660.2" r="1.30"/><circle cx="312.9" cy="658.8" r="1.30"/><circle cx="375.7" cy="665.5" r="1.30"/><circle cx="214.5" cy="658.8" r="1.30"/><circle cx="355.3" cy="664.2" r="1.30"/><circle cx="275.6" cy="664.2" r="1.30"/><circle cx="359.8" cy="654.8" r="1.30"/><circle cx="154.0" cy="653.5" r="1.30"/><circle cx="268.9" cy="657.5" r="1.30"/><circle cx="342.8" cy="654.8" r="1.30"/><circle cx="271.0" cy="660.2" r="1.30"/><circle cx="341.9" cy="657.5" r="1.30"/><circle cx="211.2" cy="662.8" r="1.30"/><circle cx="234.1" cy="660.2" r="1.30"/><circle cx="202.2" cy="662.8" r="1.30"/><circle cx="335.2" cy="675.4" r="1.30"/><circle cx="189.6" cy="672.9" r="1.30"/><circle cx="351.1" cy="676.6" r="1.30"/><circle cx="360.8" cy="675.4" r="1.30"/><circle cx="206.2" cy="676.6" r="1.30"/><circle cx="195.5" cy="670.5" r="1.30"/><circle cx="210.9" cy="676.6" r="1.30"/><circle cx="219.9" cy="670.5" r="1.30"/><circle cx="219.2" cy="677.8" r="1.30"/><circle cx="175.1" cy="679.0" r="1.30"/><circle cx="273.1" cy="702.1" r="1.30"/><circle cx="152.9" cy="702.1" r="1.30"/><circle cx="214.5" cy="702.1" r="1.30"/><circle cx="249.0" cy="694.4" r="1.30"/><circle cx="276.3" cy="697.0" r="1.30"/><circle cx="321.7" cy="700.8" r="1.30"/><circle cx="289.4" cy="691.8" r="1.30"/><circle cx="162.8" cy="700.8" r="1.30"/><circle cx="306.3" cy="695.7" r="1.30"/><circle cx="308.0" cy="698.2" r="1.30"/><circle cx="191.9" cy="694.4" r="1.30"/><circle cx="308.0" cy="699.5" r="1.30"/><circle cx="327.9" cy="699.5" r="1.30"/><circle cx="241.7" cy="695.7" r="1.30"/><circle cx="178.3" cy="694.4" r="1.30"/><circle cx="311.3" cy="705.2" r="1.30"/><circle cx="229.1" cy="711.5" r="1.30"/><circle cx="211.1" cy="709.0" r="1.30"/><circle cx="244.6" cy="715.2" r="1.30"/><circle cx="323.4" cy="705.2" r="1.30"/><circle cx="208.2" cy="719.0" r="1.30"/><circle cx="379.7" cy="704.0" r="1.30"/><circle cx="229.0" cy="711.5" r="1.30"/><circle cx="324.8" cy="705.2" r="1.30"/><circle cx="273.9" cy="716.5" r="1.30"/><circle cx="317.0" cy="704.0" r="1.30"/><circle cx="315.3" cy="712.8" r="1.30"/><circle cx="324.3" cy="704.0" r="1.30"/><circle cx="276.8" cy="705.2" r="1.30"/><circle cx="205.8" cy="709.0" r="1.30"/><circle cx="234.4" cy="710.2" r="1.30"/><circle cx="224.0" cy="711.5" r="1.30"/><circle cx="280.4" cy="705.2" r="1.30"/><circle cx="233.4" cy="711.5" r="1.30"/><circle cx="346.7" cy="706.5" r="1.30"/><circle cx="267.3" cy="719.0" r="1.30"/><circle cx="326.5" cy="716.5" r="1.30"/><circle cx="230.9" cy="711.5" r="1.30"/><circle cx="357.3" cy="719.0" r="1.30"/><circle cx="286.8" cy="715.2" r="1.30"/><circle cx="228.7" cy="712.8" r="1.30"/><circle cx="287.3" cy="705.2" r="1.30"/><circle cx="234.8" cy="711.5" r="1.30"/><circle cx="371.3" cy="712.8" r="1.30"/><circle cx="223.2" cy="711.5" r="1.30"/><circle cx="342.9" cy="710.2" r="1.30"/><circle cx="208.0" cy="709.0" r="1.30"/><circle cx="220.6" cy="711.5" r="1.30"/><circle cx="380.3" cy="714.0" r="1.30"/><circle cx="217.4" cy="704.0" r="1.30"/><circle cx="366.9" cy="717.8" r="1.30"/><circle cx="372.8" cy="714.0" r="1.30"/><circle cx="242.2" cy="705.2" r="1.30"/><circle cx="316.9" cy="715.2" r="1.30"/><circle cx="219.4" cy="704.0" r="1.30"/><circle cx="229.6" cy="715.2" r="1.30"/><circle cx="357.0" cy="717.8" r="1.30"/><circle cx="363.6" cy="731.7" r="1.30"/><circle cx="185.1" cy="722.6" r="1.30"/><circle cx="357.4" cy="731.7" r="1.30"/><circle cx="293.0" cy="733.0" r="1.30"/><circle cx="223.5" cy="721.3" r="1.30"/><circle cx="359.5" cy="727.8" r="1.30"/><circle cx="359.3" cy="723.9" r="1.30"/><circle cx="350.9" cy="723.9" r="1.30"/><circle cx="328.0" cy="727.8" r="1.30"/><circle cx="356.3" cy="733.0" r="1.30"/><circle cx="179.5" cy="722.6" r="1.30"/><circle cx="314.6" cy="723.9" r="1.30"/><circle cx="180.0" cy="722.6" r="1.30"/><circle cx="270.5" cy="730.4" r="1.30"/><circle cx="174.7" cy="720.0" r="1.30"/><circle cx="376.1" cy="727.8" r="1.30"/><circle cx="249.3" cy="722.6" r="1.30"/><circle cx="283.9" cy="726.5" r="1.30"/><circle cx="284.5" cy="733.0" r="1.30"/><circle cx="251.4" cy="733.0" r="1.30"/><circle cx="352.5" cy="730.4" r="1.30"/><circle cx="357.8" cy="723.9" r="1.30"/><circle cx="358.4" cy="726.5" r="1.30"/><circle cx="241.9" cy="721.3" r="1.30"/><circle cx="204.4" cy="726.5" r="1.30"/><circle cx="234.3" cy="722.6" r="1.30"/><circle cx="380.5" cy="726.5" r="1.30"/><circle cx="349.6" cy="723.9" r="1.30"/><circle cx="374.1" cy="727.8" r="1.30"/><circle cx="332.0" cy="727.8" r="1.30"/><circle cx="249.8" cy="722.6" r="1.30"/><circle cx="193.4" cy="731.7" r="1.30"/><circle cx="338.7" cy="721.3" r="1.30"/><circle cx="322.2" cy="730.4" r="1.30"/><circle cx="364.3" cy="729.1" r="1.30"/><circle cx="331.3" cy="723.9" r="1.30"/><circle cx="218.0" cy="731.7" r="1.30"/><circle cx="166.7" cy="720.0" r="1.30"/><circle cx="181.9" cy="731.7" r="1.30"/><circle cx="187.4" cy="738.5" r="1.30"/><circle cx="251.0" cy="744.9" r="1.30"/><circle cx="304.0" cy="738.5" r="1.30"/><circle cx="263.5" cy="738.5" r="1.30"/><circle cx="272.2" cy="747.5" r="1.30"/><circle cx="254.4" cy="738.5" r="1.30"/><circle cx="353.8" cy="736.0" r="1.30"/><circle cx="265.1" cy="748.7" r="1.30"/><circle cx="324.3" cy="738.5" r="1.30"/><circle cx="174.9" cy="736.0" r="1.30"/><circle cx="371.6" cy="744.9" r="1.30"/><circle cx="359.9" cy="742.4" r="1.30"/><circle cx="331.4" cy="746.2" r="1.30"/><circle cx="325.2" cy="742.4" r="1.30"/><circle cx="307.0" cy="742.4" r="1.30"/><circle cx="367.9" cy="742.4" r="1.30"/><circle cx="160.6" cy="741.1" r="1.30"/><circle cx="232.1" cy="744.9" r="1.30"/><circle cx="304.1" cy="738.5" r="1.30"/><circle cx="352.2" cy="760.3" r="1.30"/><circle cx="273.8" cy="752.3" r="1.30"/><circle cx="226.6" cy="756.3" r="1.30"/><circle cx="231.3" cy="763.0" r="1.30"/><circle cx="300.6" cy="763.0" r="1.30"/><circle cx="334.9" cy="760.3" r="1.30"/><circle cx="224.8" cy="763.0" r="1.30"/><circle cx="362.8" cy="753.7" r="1.30"/><circle cx="374.1" cy="761.7" r="1.30"/><circle cx="367.1" cy="753.7" r="1.30"/><circle cx="370.7" cy="756.3" r="1.30"/><circle cx="196.0" cy="755.0" r="1.30"/><circle cx="276.5" cy="753.7" r="1.30"/><circle cx="325.4" cy="751.0" r="1.30"/><circle cx="370.1" cy="753.7" r="1.30"/><circle cx="278.3" cy="756.3" r="1.30"/><circle cx="198.5" cy="752.3" r="1.30"/><circle cx="344.9" cy="755.0" r="1.30"/><circle cx="240.2" cy="766.8" r="1.30"/><circle cx="209.8" cy="769.6" r="1.30"/><circle cx="294.1" cy="772.4" r="1.30"/><circle cx="281.5" cy="765.4" r="1.30"/><circle cx="324.2" cy="764.0" r="1.30"/><circle cx="239.7" cy="768.2" r="1.30"/><circle cx="151.2" cy="765.4" r="1.30"/><circle cx="225.4" cy="771.0" r="1.30"/><circle cx="225.2" cy="768.2" r="1.30"/><circle cx="171.2" cy="765.4" r="1.30"/><circle cx="214.2" cy="764.0" r="1.30"/><circle cx="341.0" cy="769.6" r="1.30"/><circle cx="205.7" cy="764.0" r="1.30"/><circle cx="252.7" cy="764.0" r="1.30"/><circle cx="319.2" cy="768.2" r="1.30"/><circle cx="328.3" cy="764.0" r="1.30"/><circle cx="200.6" cy="772.4" r="1.30"/><circle cx="333.1" cy="771.0" r="1.30"/><circle cx="206.6" cy="769.6" r="1.30"/></g>
<g fill="#f5d25a" stroke="#5a4a14" stroke-width="0.65"><circle cx="311.8" cy="449.3" r="1.30"/><circle cx="314.0" cy="449.3" r="1.30"/><circle cx="306.4" cy="449.3" r="1.30"/><circle cx="334.2" cy="470.1" r="1.30"/><circle cx="296.6" cy="470.1" r="1.30"/><circle cx="339.7" cy="480.7" r="1.30"/><circle cx="366.1" cy="480.7" r="1.30"/><circle cx="270.3" cy="514.1" r="1.30"/><circle cx="252.2" cy="529.9" r="1.30"/><circle cx="310.8" cy="529.9" r="1.30"/><circle cx="282.4" cy="529.9" r="1.30"/><circle cx="246.6" cy="529.9" r="1.30"/><circle cx="310.1" cy="529.9" r="1.30"/><circle cx="234.4" cy="570.5" r="1.30"/><circle cx="325.4" cy="570.5" r="1.30"/><circle cx="283.7" cy="570.5" r="1.30"/><circle cx="224.4" cy="570.5" r="1.30"/><circle cx="223.6" cy="570.5" r="1.30"/><circle cx="194.0" cy="593.6" r="1.20"/><circle cx="223.0" cy="593.6" r="1.20"/><circle cx="272.1" cy="627.7" r="1.30"/><circle cx="355.2" cy="618.8" r="1.30"/><circle cx="293.0" cy="617.6" r="1.30"/><circle cx="260.6" cy="616.3" r="1.30"/><circle cx="267.8" cy="617.6" r="1.30"/><circle cx="279.9" cy="627.7" r="1.30"/><circle cx="345.4" cy="616.3" r="1.30"/><circle cx="270.6" cy="627.7" r="1.30"/><circle cx="301.6" cy="616.3" r="1.30"/><circle cx="295.2" cy="627.7" r="1.30"/><circle cx="347.9" cy="616.3" r="1.30"/><circle cx="344.3" cy="633.3" r="1.30"/><circle cx="330.4" cy="645.3" r="1.30"/><circle cx="319.5" cy="671.7" r="1.30"/><circle cx="367.0" cy="671.7" r="1.30"/><circle cx="346.1" cy="671.7" r="1.30"/><circle cx="319.0" cy="671.7" r="1.30"/><circle cx="357.6" cy="671.7" r="1.30"/></g>
<g fill="#fd6a35" stroke="#3a1a0a" stroke-width="0.65"><circle cx="220.0" cy="460.5" r="1.20"/><circle cx="238.0" cy="460.5" r="1.20"/><circle cx="332.5" cy="466.1" r="1.30"/><circle cx="333.2" cy="466.1" r="1.30"/><circle cx="329.1" cy="489.2" r="1.30"/><circle cx="298.1" cy="490.6" r="1.30"/><circle cx="343.0" cy="490.6" r="1.30"/><circle cx="314.9" cy="531.2" r="1.30"/><circle cx="319.0" cy="531.2" r="1.30"/><circle cx="271.4" cy="531.2" r="1.30"/><circle cx="324.0" cy="535.2" r="1.30"/><circle cx="373.8" cy="543.1" r="1.30"/><circle cx="258.2" cy="543.1" r="1.30"/><circle cx="313.8" cy="554.7" r="1.30"/><circle cx="230.8" cy="540.6" r="1.30"/><circle cx="253.2" cy="556.0" r="1.30"/><circle cx="362.2" cy="556.0" r="1.30"/><circle cx="224.8" cy="548.3" r="1.30"/><circle cx="279.8" cy="538.0" r="1.30"/><circle cx="256.7" cy="549.6" r="1.30"/><circle cx="195.0" cy="570.0" r="1.20"/><circle cx="310.6" cy="603.8" r="1.30"/><circle cx="307.2" cy="603.8" r="1.30"/><circle cx="327.7" cy="603.8" r="1.30"/><circle cx="345.2" cy="610.0" r="1.30"/><circle cx="280.1" cy="625.1" r="1.30"/><circle cx="297.6" cy="610.0" r="1.30"/><circle cx="329.8" cy="610.0" r="1.30"/><circle cx="338.4" cy="610.0" r="1.30"/><circle cx="290.9" cy="625.1" r="1.30"/><circle cx="338.0" cy="626.4" r="1.30"/><circle cx="369.9" cy="625.1" r="1.30"/><circle cx="236.6" cy="619.9" r="1.20"/><circle cx="360.2" cy="637.3" r="1.30"/><circle cx="280.2" cy="646.7" r="1.30"/><circle cx="327.9" cy="637.3" r="1.30"/><circle cx="338.5" cy="646.7" r="1.30"/><circle cx="288.6" cy="707.8" r="1.30"/><circle cx="353.7" cy="707.8" r="1.30"/><circle cx="368.2" cy="725.2" r="1.30"/><circle cx="289.0" cy="725.2" r="1.30"/><circle cx="330.9" cy="737.3" r="1.30"/><circle cx="287.8" cy="759.0" r="1.30"/><circle cx="377.7" cy="757.7" r="1.30"/><circle cx="341.6" cy="757.7" r="1.30"/><circle cx="266.4" cy="759.0" r="1.30"/><circle cx="322.5" cy="759.0" r="1.30"/><circle cx="350.2" cy="757.7" r="1.30"/></g>
<g fill="#f05a28" stroke="#4a2414" stroke-width="0.65"><circle cx="89.4" cy="775.9" r="1.25"/></g>
<g fill="#0b2626"><circle cx="364.8" cy="453.1" r="2.80"/><circle cx="367.7" cy="454.4" r="2.93"/><circle cx="345.0" cy="457.0" r="2.76"/><circle cx="349.6" cy="449.3" r="2.67"/><circle cx="321.5" cy="457.0" r="2.93"/><circle cx="368.3" cy="449.3" r="2.70"/><circle cx="296.9" cy="448.0" r="2.85"/><circle cx="304.1" cy="448.0" r="2.74"/><circle cx="336.4" cy="448.0" r="3.08"/><circle cx="321.2" cy="448.0" r="3.19"/><circle cx="331.1" cy="449.3" r="3.18"/><circle cx="341.0" cy="455.7" r="2.62"/><circle cx="348.7" cy="453.1" r="2.72"/><circle cx="369.3" cy="457.0" r="2.73"/><circle cx="345.6" cy="449.3" r="2.99"/><circle cx="322.8" cy="451.9" r="2.85"/><circle cx="317.5" cy="448.0" r="2.81"/><circle cx="361.5" cy="455.7" r="3.14"/><circle cx="303.9" cy="455.7" r="3.18"/><circle cx="344.8" cy="451.9" r="2.86"/><circle cx="362.7" cy="453.1" r="2.93"/><circle cx="331.6" cy="448.0" r="2.67"/><circle cx="329.4" cy="450.6" r="2.94"/><circle cx="322.4" cy="455.7" r="3.17"/><circle cx="330.5" cy="449.3" r="3.01"/><circle cx="322.3" cy="449.3" r="2.94"/><circle cx="360.6" cy="457.0" r="3.19"/><circle cx="315.0" cy="453.1" r="2.83"/><circle cx="357.6" cy="450.6" r="2.84"/><circle cx="304.7" cy="448.0" r="2.87"/><circle cx="369.5" cy="455.7" r="2.85"/><circle cx="349.4" cy="453.1" r="3.01"/><circle cx="343.4" cy="450.6" r="2.78"/><circle cx="321.6" cy="449.3" r="2.64"/><circle cx="332.8" cy="457.0" r="2.61"/><circle cx="348.7" cy="457.0" r="2.77"/><circle cx="343.5" cy="454.4" r="3.08"/><circle cx="370.4" cy="453.1" r="2.80"/><circle cx="300.0" cy="455.7" r="3.13"/><circle cx="358.0" cy="457.0" r="3.13"/><circle cx="359.2" cy="453.1" r="2.83"/><circle cx="371.5" cy="453.1" r="2.69"/><circle cx="323.2" cy="454.4" r="2.88"/><circle cx="325.8" cy="449.3" r="3.06"/><circle cx="306.5" cy="479.4" r="2.73"/><circle cx="363.7" cy="467.5" r="3.07"/><circle cx="323.3" cy="468.8" r="2.77"/><circle cx="367.1" cy="472.8" r="3.16"/><circle cx="331.4" cy="474.1" r="3.18"/><circle cx="318.8" cy="463.5" r="3.00"/><circle cx="315.3" cy="479.4" r="2.69"/><circle cx="359.6" cy="478.0" r="2.68"/><circle cx="307.2" cy="482.0" r="3.15"/><circle cx="307.0" cy="468.8" r="3.10"/><circle cx="362.4" cy="464.8" r="3.18"/><circle cx="355.8" cy="463.5" r="3.17"/><circle cx="342.2" cy="463.5" r="2.76"/><circle cx="334.6" cy="475.4" r="2.98"/><circle cx="365.1" cy="463.5" r="2.72"/><circle cx="352.2" cy="478.0" r="3.01"/><circle cx="309.0" cy="480.7" r="3.10"/><circle cx="300.2" cy="472.8" r="3.00"/><circle cx="322.5" cy="466.1" r="3.16"/><circle cx="359.5" cy="475.4" r="3.06"/><circle cx="356.5" cy="475.4" r="2.85"/><circle cx="350.6" cy="463.5" r="2.68"/><circle cx="287.2" cy="479.4" r="2.99"/><circle cx="348.7" cy="474.1" r="3.19"/><circle cx="363.8" cy="463.5" r="2.65"/><circle cx="324.8" cy="470.1" r="3.03"/><circle cx="362.6" cy="463.5" r="2.72"/><circle cx="314.0" cy="479.4" r="2.67"/><circle cx="310.4" cy="466.1" r="2.95"/><circle cx="349.1" cy="464.8" r="2.86"/><circle cx="323.5" cy="474.1" r="2.70"/><circle cx="353.9" cy="474.1" r="2.96"/><circle cx="360.7" cy="482.0" r="3.10"/><circle cx="351.9" cy="468.8" r="2.66"/><circle cx="354.1" cy="475.4" r="3.17"/><circle cx="357.9" cy="482.0" r="2.67"/><circle cx="330.8" cy="471.4" r="2.72"/><circle cx="337.4" cy="474.1" r="2.80"/><circle cx="292.6" cy="479.4" r="2.75"/><circle cx="279.0" cy="466.0" r="3.10"/><circle cx="257.0" cy="468.0" r="3.10"/><circle cx="336.8" cy="486.6" r="2.66"/><circle cx="339.4" cy="490.6" r="2.94"/><circle cx="368.3" cy="493.2" r="3.20"/><circle cx="365.3" cy="487.9" r="3.06"/><circle cx="371.6" cy="489.2" r="2.62"/><circle cx="359.4" cy="486.6" r="3.11"/><circle cx="349.0" cy="493.2" r="2.98"/><circle cx="315.5" cy="484.0" r="2.61"/><circle cx="368.6" cy="490.6" r="3.11"/><circle cx="361.8" cy="493.2" r="2.93"/><circle cx="355.5" cy="486.6" r="2.71"/><circle cx="330.5" cy="484.0" r="3.08"/><circle cx="313.8" cy="487.9" r="3.19"/><circle cx="362.1" cy="484.0" r="2.75"/><circle cx="345.3" cy="494.5" r="3.11"/><circle cx="341.5" cy="491.9" r="2.72"/><circle cx="369.2" cy="487.9" r="3.18"/><circle cx="315.2" cy="491.9" r="3.04"/><circle cx="321.9" cy="489.2" r="3.10"/><circle cx="254.0" cy="484.0" r="3.10"/><circle cx="348.1" cy="499.6" r="2.72"/><circle cx="309.3" cy="518.1" r="2.74"/><circle cx="355.4" cy="522.0" r="2.75"/><circle cx="311.7" cy="510.2" r="2.75"/><circle cx="314.2" cy="515.4" r="2.78"/><circle cx="308.8" cy="507.5" r="3.03"/><circle cx="317.6" cy="506.2" r="3.03"/><circle cx="346.6" cy="514.1" r="2.76"/><circle cx="351.1" cy="504.9" r="2.71"/><circle cx="356.8" cy="522.0" r="2.97"/><circle cx="350.6" cy="512.8" r="2.84"/><circle cx="336.3" cy="503.6" r="2.88"/><circle cx="356.5" cy="520.7" r="2.66"/><circle cx="287.6" cy="499.6" r="3.12"/><circle cx="294.1" cy="503.6" r="2.86"/><circle cx="358.8" cy="516.7" r="2.83"/><circle cx="360.2" cy="520.7" r="2.98"/><circle cx="324.9" cy="512.8" r="2.81"/><circle cx="356.7" cy="504.9" r="2.69"/><circle cx="371.6" cy="514.1" r="2.83"/><circle cx="310.1" cy="502.3" r="3.05"/><circle cx="356.5" cy="502.3" r="3.15"/><circle cx="357.4" cy="512.8" r="2.98"/><circle cx="372.2" cy="499.6" r="3.03"/><circle cx="357.4" cy="503.6" r="2.61"/><circle cx="305.3" cy="507.5" r="2.94"/><circle cx="353.3" cy="502.3" r="2.95"/><circle cx="309.8" cy="511.5" r="2.94"/><circle cx="327.2" cy="516.7" r="2.67"/><circle cx="363.7" cy="506.2" r="2.85"/><circle cx="359.4" cy="515.4" r="3.12"/><circle cx="333.9" cy="515.4" r="3.18"/><circle cx="322.3" cy="499.6" r="3.01"/><circle cx="356.1" cy="502.3" r="2.81"/><circle cx="360.6" cy="498.3" r="3.03"/><circle cx="371.4" cy="507.5" r="3.02"/><circle cx="364.8" cy="497.0" r="2.91"/><circle cx="357.1" cy="522.0" r="2.73"/><circle cx="333.3" cy="520.7" r="2.88"/><circle cx="331.0" cy="519.4" r="3.20"/><circle cx="311.2" cy="510.2" r="2.73"/><circle cx="365.1" cy="511.5" r="2.61"/><circle cx="335.0" cy="508.8" r="2.86"/><circle cx="321.8" cy="518.1" r="2.61"/><circle cx="345.3" cy="500.9" r="2.92"/><circle cx="355.7" cy="515.4" r="2.92"/><circle cx="344.3" cy="502.3" r="2.84"/><circle cx="328.4" cy="514.1" r="3.01"/><circle cx="332.2" cy="499.6" r="2.95"/><circle cx="346.7" cy="498.3" r="2.67"/><circle cx="341.1" cy="518.1" r="2.72"/><circle cx="317.6" cy="506.2" r="2.66"/><circle cx="325.4" cy="518.1" r="2.89"/><circle cx="320.6" cy="528.6" r="2.96"/><circle cx="365.0" cy="532.6" r="3.14"/><circle cx="371.1" cy="536.5" r="2.86"/><circle cx="348.7" cy="529.9" r="2.81"/><circle cx="346.6" cy="536.5" r="2.62"/><circle cx="303.5" cy="527.3" r="3.18"/><circle cx="319.8" cy="529.9" r="2.88"/><circle cx="348.3" cy="526.0" r="2.99"/><circle cx="304.5" cy="536.5" r="2.74"/><circle cx="367.5" cy="527.3" r="2.67"/><circle cx="365.3" cy="526.0" r="2.61"/><circle cx="319.3" cy="536.5" r="3.04"/><circle cx="371.4" cy="531.2" r="2.95"/><circle cx="369.5" cy="526.0" r="2.89"/><circle cx="370.6" cy="527.3" r="3.13"/><circle cx="365.7" cy="527.3" r="2.67"/><circle cx="324.6" cy="531.2" r="2.95"/><circle cx="334.1" cy="536.5" r="3.16"/><circle cx="309.7" cy="531.2" r="2.61"/><circle cx="174.0" cy="538.4" r="3.20"/><circle cx="349.2" cy="554.7" r="3.11"/><circle cx="353.5" cy="553.4" r="3.08"/><circle cx="328.9" cy="543.1" r="2.62"/><circle cx="357.8" cy="540.6" r="2.80"/><circle cx="346.1" cy="543.1" r="2.88"/><circle cx="332.9" cy="538.0" r="2.73"/><circle cx="349.8" cy="554.7" r="2.90"/><circle cx="365.9" cy="556.0" r="2.91"/><circle cx="356.0" cy="547.0" r="2.69"/><circle cx="337.7" cy="554.7" r="2.99"/><circle cx="287.0" cy="548.3" r="2.91"/><circle cx="365.6" cy="543.1" r="3.09"/><circle cx="355.3" cy="552.1" r="3.14"/><circle cx="363.9" cy="553.4" r="2.86"/><circle cx="327.6" cy="545.7" r="2.75"/><circle cx="289.1" cy="547.0" r="3.10"/><circle cx="305.3" cy="554.7" r="3.16"/><circle cx="348.9" cy="538.0" r="2.65"/><circle cx="370.2" cy="549.6" r="3.12"/><circle cx="331.8" cy="547.0" r="2.67"/><circle cx="346.3" cy="543.1" r="2.60"/><circle cx="288.9" cy="548.3" r="3.08"/><circle cx="287.4" cy="548.3" r="2.75"/><circle cx="324.7" cy="538.0" r="3.18"/><circle cx="354.8" cy="554.7" r="3.18"/><circle cx="365.6" cy="538.0" r="2.90"/><circle cx="306.2" cy="544.4" r="2.76"/><circle cx="350.7" cy="545.7" r="2.64"/><circle cx="286.4" cy="548.3" r="3.06"/><circle cx="360.6" cy="539.3" r="2.90"/><circle cx="361.5" cy="540.6" r="3.20"/><circle cx="337.3" cy="549.6" r="2.76"/><circle cx="345.3" cy="547.0" r="2.93"/><circle cx="344.9" cy="545.7" r="2.98"/><circle cx="365.9" cy="544.4" r="2.66"/><circle cx="323.5" cy="540.6" r="2.89"/><circle cx="341.3" cy="553.4" r="2.91"/><circle cx="288.9" cy="554.7" r="3.08"/><circle cx="321.4" cy="556.0" r="3.03"/><circle cx="325.7" cy="539.3" r="2.68"/><circle cx="331.8" cy="540.6" r="2.89"/><circle cx="344.3" cy="543.1" r="2.92"/><circle cx="206.9" cy="542.4" r="3.10"/><circle cx="205.0" cy="547.3" r="3.10"/><circle cx="213.6" cy="547.3" r="3.10"/><circle cx="233.0" cy="546.0" r="3.10"/><circle cx="240.0" cy="552.0" r="3.10"/><circle cx="247.0" cy="544.0" r="3.10"/><circle cx="333.6" cy="584.7" r="2.65"/><circle cx="326.2" cy="582.1" r="2.71"/><circle cx="324.1" cy="569.2" r="2.83"/><circle cx="360.4" cy="573.1" r="3.06"/><circle cx="349.4" cy="570.5" r="2.80"/><circle cx="345.7" cy="576.9" r="2.92"/><circle cx="356.9" cy="576.9" r="3.06"/><circle cx="349.7" cy="591.2" r="3.11"/><circle cx="368.2" cy="567.9" r="2.70"/><circle cx="330.1" cy="560.1" r="3.16"/><circle cx="320.0" cy="589.9" r="2.91"/><circle cx="359.6" cy="571.8" r="3.07"/><circle cx="351.4" cy="573.1" r="2.82"/><circle cx="337.5" cy="584.7" r="3.00"/><circle cx="341.3" cy="575.6" r="2.98"/><circle cx="322.9" cy="560.1" r="3.05"/><circle cx="326.1" cy="580.8" r="2.70"/><circle cx="361.4" cy="591.2" r="2.76"/><circle cx="331.0" cy="571.8" r="2.81"/><circle cx="314.2" cy="558.8" r="2.71"/><circle cx="341.1" cy="557.5" r="3.10"/><circle cx="299.3" cy="571.8" r="3.01"/><circle cx="317.7" cy="582.1" r="2.96"/><circle cx="318.7" cy="557.5" r="2.69"/><circle cx="347.9" cy="578.2" r="2.92"/><circle cx="364.0" cy="571.8" r="3.13"/><circle cx="351.2" cy="561.4" r="2.81"/><circle cx="341.8" cy="562.7" r="2.71"/><circle cx="314.6" cy="582.1" r="3.05"/><circle cx="307.5" cy="569.2" r="2.60"/><circle cx="361.6" cy="592.5" r="2.78"/><circle cx="345.9" cy="575.6" r="2.89"/><circle cx="332.0" cy="557.5" r="2.79"/><circle cx="330.7" cy="562.7" r="2.77"/><circle cx="340.6" cy="567.9" r="2.81"/><circle cx="348.8" cy="562.7" r="2.97"/><circle cx="341.1" cy="567.9" r="3.12"/><circle cx="289.2" cy="583.4" r="2.73"/><circle cx="313.4" cy="576.9" r="2.91"/><circle cx="336.8" cy="580.8" r="3.10"/><circle cx="289.8" cy="566.6" r="2.99"/><circle cx="327.4" cy="575.6" r="2.88"/><circle cx="338.9" cy="583.4" r="3.19"/><circle cx="335.4" cy="582.1" r="2.80"/><circle cx="366.7" cy="564.0" r="2.70"/><circle cx="299.8" cy="582.1" r="2.87"/><circle cx="328.6" cy="573.1" r="2.96"/><circle cx="363.7" cy="574.4" r="2.82"/><circle cx="367.6" cy="603.8" r="2.84"/><circle cx="319.5" cy="599.7" r="2.65"/><circle cx="346.1" cy="602.4" r="2.67"/><circle cx="333.8" cy="602.4" r="3.07"/><circle cx="324.4" cy="597.0" r="3.02"/><circle cx="314.9" cy="601.1" r="2.76"/><circle cx="289.6" cy="605.1" r="3.01"/><circle cx="331.4" cy="606.5" r="2.70"/><circle cx="334.3" cy="597.0" r="2.90"/><circle cx="294.4" cy="602.4" r="2.68"/><circle cx="354.7" cy="598.4" r="2.82"/><circle cx="365.7" cy="597.0" r="3.06"/><circle cx="348.7" cy="602.4" r="3.02"/><circle cx="316.2" cy="601.1" r="2.93"/><circle cx="367.2" cy="601.1" r="2.80"/><circle cx="370.2" cy="598.4" r="2.69"/><circle cx="361.6" cy="605.1" r="2.99"/><circle cx="361.8" cy="606.5" r="2.82"/><circle cx="357.0" cy="601.1" r="3.05"/><circle cx="333.3" cy="606.5" r="3.07"/><circle cx="353.9" cy="601.1" r="3.02"/><circle cx="368.6" cy="606.5" r="2.82"/><circle cx="352.9" cy="598.4" r="3.10"/><circle cx="340.5" cy="598.4" r="2.91"/><circle cx="336.8" cy="597.0" r="2.80"/><circle cx="331.7" cy="598.4" r="2.91"/><circle cx="240.6" cy="604.0" r="3.10"/><circle cx="284.0" cy="604.0" r="3.10"/><circle cx="306.3" cy="620.1" r="3.01"/><circle cx="355.4" cy="612.5" r="2.90"/><circle cx="306.9" cy="612.5" r="3.00"/><circle cx="307.3" cy="625.1" r="3.11"/><circle cx="301.3" cy="616.3" r="3.12"/><circle cx="301.9" cy="622.6" r="2.84"/><circle cx="317.6" cy="628.9" r="3.18"/><circle cx="352.1" cy="612.5" r="3.19"/><circle cx="320.9" cy="611.2" r="3.19"/><circle cx="320.5" cy="611.2" r="3.03"/><circle cx="314.1" cy="621.3" r="2.91"/><circle cx="306.5" cy="625.1" r="2.97"/><circle cx="362.2" cy="623.9" r="3.06"/><circle cx="333.0" cy="627.7" r="3.18"/><circle cx="324.9" cy="628.9" r="2.98"/><circle cx="312.2" cy="628.9" r="2.63"/><circle cx="355.7" cy="616.3" r="2.70"/><circle cx="294.7" cy="620.1" r="2.85"/><circle cx="365.1" cy="626.4" r="2.89"/><circle cx="359.3" cy="616.3" r="3.00"/><circle cx="362.4" cy="618.8" r="2.78"/><circle cx="362.2" cy="612.5" r="3.10"/><circle cx="303.3" cy="625.1" r="2.71"/><circle cx="346.9" cy="615.0" r="2.62"/><circle cx="360.7" cy="620.1" r="2.90"/><circle cx="362.2" cy="627.7" r="2.94"/><circle cx="358.7" cy="610.0" r="2.99"/><circle cx="326.9" cy="620.1" r="3.14"/><circle cx="340.9" cy="617.6" r="2.96"/><circle cx="352.6" cy="626.4" r="2.69"/><circle cx="318.7" cy="612.5" r="3.10"/><circle cx="351.8" cy="612.5" r="3.08"/><circle cx="359.1" cy="616.3" r="3.12"/><circle cx="350.7" cy="615.0" r="2.63"/><circle cx="291.0" cy="622.6" r="2.92"/><circle cx="348.2" cy="620.1" r="2.61"/><circle cx="333.7" cy="612.5" r="2.61"/><circle cx="368.8" cy="630.2" r="3.05"/><circle cx="364.3" cy="623.9" r="2.89"/><circle cx="302.6" cy="612.5" r="2.65"/><circle cx="356.7" cy="613.8" r="3.09"/><circle cx="367.1" cy="616.3" r="2.78"/><circle cx="320.7" cy="621.3" r="2.71"/><circle cx="337.6" cy="615.0" r="2.62"/><circle cx="352.2" cy="616.3" r="3.01"/><circle cx="321.7" cy="615.0" r="3.03"/><circle cx="318.6" cy="625.1" r="2.74"/><circle cx="363.6" cy="630.2" r="2.64"/><circle cx="329.4" cy="610.0" r="2.65"/><circle cx="310.4" cy="613.8" r="2.65"/><circle cx="305.1" cy="621.3" r="2.89"/><circle cx="347.1" cy="623.9" r="2.93"/><circle cx="319.5" cy="615.0" r="2.64"/><circle cx="359.9" cy="621.3" r="3.04"/><circle cx="353.3" cy="615.0" r="2.88"/><circle cx="359.0" cy="650.7" r="2.67"/><circle cx="319.3" cy="638.7" r="3.18"/><circle cx="361.7" cy="641.3" r="2.63"/><circle cx="312.7" cy="644.0" r="2.76"/><circle cx="333.5" cy="649.3" r="3.10"/><circle cx="332.3" cy="645.3" r="3.15"/><circle cx="367.8" cy="649.3" r="2.88"/><circle cx="361.8" cy="632.0" r="2.95"/><circle cx="316.1" cy="652.0" r="2.63"/><circle cx="346.8" cy="641.3" r="2.61"/><circle cx="345.7" cy="640.0" r="2.99"/><circle cx="313.3" cy="652.0" r="3.02"/><circle cx="356.0" cy="634.7" r="2.89"/><circle cx="336.7" cy="644.0" r="2.99"/><circle cx="345.4" cy="644.0" r="2.84"/><circle cx="368.9" cy="634.7" r="2.71"/><circle cx="337.1" cy="646.7" r="2.98"/><circle cx="345.3" cy="640.0" r="2.96"/><circle cx="331.7" cy="644.0" r="2.85"/><circle cx="357.7" cy="641.3" r="3.13"/><circle cx="316.5" cy="641.3" r="2.93"/><circle cx="368.3" cy="634.7" r="2.60"/><circle cx="361.5" cy="649.3" r="2.78"/><circle cx="359.7" cy="636.0" r="2.61"/><circle cx="345.2" cy="649.3" r="2.78"/><circle cx="338.2" cy="638.7" r="2.92"/><circle cx="371.3" cy="645.3" r="2.63"/><circle cx="368.8" cy="641.3" r="2.69"/><circle cx="320.0" cy="652.0" r="2.90"/><circle cx="357.5" cy="634.7" r="2.90"/><circle cx="357.8" cy="646.7" r="3.12"/><circle cx="304.4" cy="648.0" r="2.75"/><circle cx="357.0" cy="633.3" r="2.72"/><circle cx="316.7" cy="636.0" r="3.14"/><circle cx="309.6" cy="637.3" r="2.73"/><circle cx="322.7" cy="641.3" r="2.64"/><circle cx="327.7" cy="632.0" r="2.81"/><circle cx="331.5" cy="640.0" r="3.13"/><circle cx="319.8" cy="649.3" r="2.86"/><circle cx="349.4" cy="632.0" r="3.05"/><circle cx="336.9" cy="644.0" r="3.17"/><circle cx="366.9" cy="634.7" r="2.89"/><circle cx="348.4" cy="652.0" r="2.72"/><circle cx="366.5" cy="644.0" r="3.03"/><circle cx="341.0" cy="636.0" r="2.74"/><circle cx="370.8" cy="632.0" r="2.74"/><circle cx="319.6" cy="660.2" r="2.74"/><circle cx="353.1" cy="662.8" r="2.63"/><circle cx="358.0" cy="665.5" r="2.82"/><circle cx="347.3" cy="665.5" r="3.10"/><circle cx="362.9" cy="664.2" r="2.90"/><circle cx="344.6" cy="654.8" r="2.99"/><circle cx="342.6" cy="657.5" r="2.91"/><circle cx="310.6" cy="664.2" r="2.65"/><circle cx="330.7" cy="654.8" r="2.81"/><circle cx="338.0" cy="665.5" r="2.89"/><circle cx="320.9" cy="657.5" r="3.20"/><circle cx="346.1" cy="660.2" r="3.18"/><circle cx="334.7" cy="661.5" r="2.79"/><circle cx="359.1" cy="658.8" r="2.86"/><circle cx="309.5" cy="661.5" r="3.05"/><circle cx="372.0" cy="664.2" r="3.11"/><circle cx="368.5" cy="660.2" r="3.08"/><circle cx="328.5" cy="661.5" r="2.67"/><circle cx="367.7" cy="654.8" r="2.68"/><circle cx="316.6" cy="658.8" r="2.87"/><circle cx="358.2" cy="658.8" r="2.86"/><circle cx="349.9" cy="664.2" r="2.91"/><circle cx="308.5" cy="661.5" r="2.93"/><circle cx="338.3" cy="670.5" r="3.15"/><circle cx="341.8" cy="672.9" r="3.04"/><circle cx="360.9" cy="675.4" r="2.61"/><circle cx="318.1" cy="676.6" r="2.80"/><circle cx="307.7" cy="677.8" r="2.90"/><circle cx="358.4" cy="676.6" r="2.66"/><circle cx="349.9" cy="677.8" r="2.61"/><circle cx="336.0" cy="675.4" r="2.88"/><circle cx="341.9" cy="674.1" r="2.94"/><circle cx="301.0" cy="672.9" r="2.70"/><circle cx="363.8" cy="670.5" r="2.89"/><circle cx="299.2" cy="677.8" r="3.15"/><circle cx="347.0" cy="670.5" r="2.83"/><circle cx="223.0" cy="674.0" r="3.10"/><circle cx="252.0" cy="676.0" r="3.10"/><circle cx="305.1" cy="695.7" r="3.05"/><circle cx="344.9" cy="694.4" r="2.83"/><circle cx="347.5" cy="702.1" r="3.14"/><circle cx="366.2" cy="691.8" r="3.03"/><circle cx="361.8" cy="700.8" r="3.14"/><circle cx="361.7" cy="700.8" r="2.89"/><circle cx="353.4" cy="698.2" r="2.83"/><circle cx="327.7" cy="695.7" r="3.19"/><circle cx="330.4" cy="698.2" r="3.04"/><circle cx="354.6" cy="702.1" r="2.76"/><circle cx="312.4" cy="697.0" r="2.81"/><circle cx="374.0" cy="693.1" r="2.83"/><circle cx="336.0" cy="702.1" r="2.62"/><circle cx="346.5" cy="693.1" r="2.90"/><circle cx="354.8" cy="699.5" r="2.73"/><circle cx="355.8" cy="697.0" r="2.92"/><circle cx="365.9" cy="700.8" r="2.93"/><circle cx="367.4" cy="693.1" r="2.68"/><circle cx="355.3" cy="697.0" r="2.78"/><circle cx="308.5" cy="698.2" r="2.67"/><circle cx="362.0" cy="691.8" r="2.67"/><circle cx="309.0" cy="698.2" r="3.06"/><circle cx="370.5" cy="695.7" r="3.04"/><circle cx="357.3" cy="699.5" r="2.77"/><circle cx="209.4" cy="698.5" r="3.10"/><circle cx="357.1" cy="710.2" r="2.75"/><circle cx="353.5" cy="706.5" r="3.05"/><circle cx="365.7" cy="706.5" r="2.80"/><circle cx="346.0" cy="706.5" r="3.14"/><circle cx="365.0" cy="717.8" r="3.16"/><circle cx="327.1" cy="710.2" r="2.97"/><circle cx="346.9" cy="704.0" r="2.67"/><circle cx="340.6" cy="716.5" r="2.89"/><circle cx="359.9" cy="717.8" r="2.61"/><circle cx="305.4" cy="719.0" r="3.02"/><circle cx="367.0" cy="705.2" r="2.88"/><circle cx="342.2" cy="712.8" r="2.78"/><circle cx="311.3" cy="719.0" r="3.08"/><circle cx="354.5" cy="706.5" r="2.90"/><circle cx="364.5" cy="706.5" r="3.05"/><circle cx="313.3" cy="714.0" r="2.87"/><circle cx="354.9" cy="710.2" r="2.66"/><circle cx="310.5" cy="707.8" r="3.15"/><circle cx="334.8" cy="705.2" r="2.80"/><circle cx="346.1" cy="714.0" r="3.07"/><circle cx="304.0" cy="714.0" r="2.76"/><circle cx="301.5" cy="715.2" r="2.86"/><circle cx="313.9" cy="714.0" r="2.94"/><circle cx="356.7" cy="717.8" r="2.89"/><circle cx="304.6" cy="717.8" r="2.62"/><circle cx="307.3" cy="707.8" r="2.74"/><circle cx="348.7" cy="717.8" r="2.61"/><circle cx="328.0" cy="705.2" r="2.86"/><circle cx="308.0" cy="707.8" r="3.16"/><circle cx="349.7" cy="704.0" r="2.70"/><circle cx="352.3" cy="717.8" r="2.85"/><circle cx="368.7" cy="729.1" r="2.64"/><circle cx="313.0" cy="733.0" r="2.61"/><circle cx="357.0" cy="733.0" r="2.92"/><circle cx="315.7" cy="729.1" r="3.05"/><circle cx="350.7" cy="726.5" r="3.01"/><circle cx="366.6" cy="727.8" r="2.88"/><circle cx="323.4" cy="729.1" r="2.97"/><circle cx="365.6" cy="730.4" r="2.77"/><circle cx="353.0" cy="733.0" r="2.77"/><circle cx="346.2" cy="731.7" r="2.67"/><circle cx="311.4" cy="727.8" r="2.68"/><circle cx="362.4" cy="730.4" r="2.97"/><circle cx="354.5" cy="723.9" r="2.72"/><circle cx="324.4" cy="721.3" r="2.89"/><circle cx="337.2" cy="733.0" r="2.67"/><circle cx="320.8" cy="721.3" r="3.15"/><circle cx="361.7" cy="733.0" r="2.93"/><circle cx="364.7" cy="741.1" r="2.77"/><circle cx="309.5" cy="737.3" r="2.84"/><circle cx="354.2" cy="744.9" r="2.92"/><circle cx="331.3" cy="744.9" r="2.86"/><circle cx="344.3" cy="741.1" r="2.93"/><circle cx="318.7" cy="746.2" r="3.01"/><circle cx="292.9" cy="750.0" r="3.20"/><circle cx="370.5" cy="744.9" r="2.79"/><circle cx="293.4" cy="743.6" r="2.93"/><circle cx="327.1" cy="736.0" r="2.80"/><circle cx="360.7" cy="746.2" r="2.77"/><circle cx="363.8" cy="746.2" r="2.93"/><circle cx="363.5" cy="737.3" r="3.03"/><circle cx="302.0" cy="750.0" r="2.66"/><circle cx="317.6" cy="744.9" r="2.66"/><circle cx="372.0" cy="746.2" r="2.87"/><circle cx="300.8" cy="738.5" r="3.07"/><circle cx="335.0" cy="744.9" r="2.74"/><circle cx="354.1" cy="741.1" r="2.84"/><circle cx="355.6" cy="750.0" r="2.78"/><circle cx="337.9" cy="743.6" r="3.07"/><circle cx="347.2" cy="738.5" r="2.95"/><circle cx="319.7" cy="741.1" r="2.94"/><circle cx="339.8" cy="741.1" r="3.15"/><circle cx="342.1" cy="748.7" r="2.98"/><circle cx="364.5" cy="738.5" r="2.73"/><circle cx="346.4" cy="736.0" r="2.65"/><circle cx="369.2" cy="746.2" r="2.92"/><circle cx="367.6" cy="743.6" r="3.14"/><circle cx="335.3" cy="750.0" r="2.97"/><circle cx="348.3" cy="737.3" r="3.11"/><circle cx="371.0" cy="746.2" r="2.66"/><circle cx="327.2" cy="736.0" r="2.87"/><circle cx="296.3" cy="742.4" r="3.16"/><circle cx="354.5" cy="738.5" r="3.09"/><circle cx="371.2" cy="752.3" r="2.73"/><circle cx="340.9" cy="757.7" r="2.71"/><circle cx="359.1" cy="752.3" r="2.99"/><circle cx="355.0" cy="751.0" r="2.64"/><circle cx="333.3" cy="763.0" r="2.75"/><circle cx="336.3" cy="757.7" r="2.94"/><circle cx="325.3" cy="761.7" r="3.12"/><circle cx="359.3" cy="757.7" r="2.96"/><circle cx="365.2" cy="753.7" r="3.19"/><circle cx="319.9" cy="753.7" r="3.06"/><circle cx="365.0" cy="759.0" r="3.05"/><circle cx="319.9" cy="756.3" r="3.08"/><circle cx="311.0" cy="751.0" r="2.61"/><circle cx="310.2" cy="753.7" r="2.99"/><circle cx="337.6" cy="761.7" r="2.70"/><circle cx="321.0" cy="753.7" r="3.04"/><circle cx="369.3" cy="757.7" r="2.93"/><circle cx="360.4" cy="763.0" r="2.73"/><circle cx="334.7" cy="755.0" r="3.04"/><circle cx="370.1" cy="752.3" r="2.82"/><circle cx="324.7" cy="763.0" r="2.83"/><circle cx="349.9" cy="751.0" r="3.09"/><circle cx="320.5" cy="755.0" r="2.80"/><circle cx="321.5" cy="760.3" r="2.75"/><circle cx="325.6" cy="753.7" r="2.62"/><circle cx="324.0" cy="755.0" r="2.67"/><circle cx="330.3" cy="761.7" r="2.70"/><circle cx="348.3" cy="766.8" r="2.70"/><circle cx="345.6" cy="771.0" r="2.88"/><circle cx="315.9" cy="769.6" r="2.62"/><circle cx="319.7" cy="766.8" r="2.77"/><circle cx="359.0" cy="765.4" r="3.11"/><circle cx="355.7" cy="766.8" r="2.62"/><circle cx="348.4" cy="765.4" r="2.62"/></g>
<g fill="#7ef7f0"><circle cx="364.8" cy="453.1" r="1.95"/><circle cx="367.7" cy="454.4" r="2.08"/><circle cx="345.0" cy="457.0" r="1.91"/><circle cx="349.6" cy="449.3" r="1.82"/><circle cx="321.5" cy="457.0" r="2.08"/><circle cx="368.3" cy="449.3" r="1.85"/><circle cx="296.9" cy="448.0" r="2.00"/><circle cx="304.1" cy="448.0" r="1.89"/><circle cx="336.4" cy="448.0" r="2.23"/><circle cx="321.2" cy="448.0" r="2.34"/><circle cx="331.1" cy="449.3" r="2.33"/><circle cx="341.0" cy="455.7" r="1.77"/><circle cx="348.7" cy="453.1" r="1.87"/><circle cx="369.3" cy="457.0" r="1.88"/><circle cx="345.6" cy="449.3" r="2.14"/><circle cx="322.8" cy="451.9" r="2.00"/><circle cx="317.5" cy="448.0" r="1.96"/><circle cx="361.5" cy="455.7" r="2.29"/><circle cx="303.9" cy="455.7" r="2.33"/><circle cx="344.8" cy="451.9" r="2.01"/><circle cx="362.7" cy="453.1" r="2.08"/><circle cx="331.6" cy="448.0" r="1.82"/><circle cx="329.4" cy="450.6" r="2.09"/><circle cx="322.4" cy="455.7" r="2.32"/><circle cx="330.5" cy="449.3" r="2.16"/><circle cx="322.3" cy="449.3" r="2.09"/><circle cx="360.6" cy="457.0" r="2.34"/><circle cx="315.0" cy="453.1" r="1.98"/><circle cx="357.6" cy="450.6" r="1.99"/><circle cx="304.7" cy="448.0" r="2.02"/><circle cx="369.5" cy="455.7" r="2.00"/><circle cx="349.4" cy="453.1" r="2.16"/><circle cx="343.4" cy="450.6" r="1.93"/><circle cx="321.6" cy="449.3" r="1.79"/><circle cx="332.8" cy="457.0" r="1.76"/><circle cx="348.7" cy="457.0" r="1.92"/><circle cx="343.5" cy="454.4" r="2.23"/><circle cx="370.4" cy="453.1" r="1.95"/><circle cx="300.0" cy="455.7" r="2.28"/><circle cx="358.0" cy="457.0" r="2.28"/><circle cx="359.2" cy="453.1" r="1.98"/><circle cx="371.5" cy="453.1" r="1.84"/><circle cx="323.2" cy="454.4" r="2.03"/><circle cx="325.8" cy="449.3" r="2.21"/><circle cx="306.5" cy="479.4" r="1.88"/><circle cx="363.7" cy="467.5" r="2.22"/><circle cx="323.3" cy="468.8" r="1.92"/><circle cx="367.1" cy="472.8" r="2.31"/><circle cx="331.4" cy="474.1" r="2.33"/><circle cx="318.8" cy="463.5" r="2.15"/><circle cx="315.3" cy="479.4" r="1.84"/><circle cx="359.6" cy="478.0" r="1.83"/><circle cx="307.2" cy="482.0" r="2.30"/><circle cx="307.0" cy="468.8" r="2.25"/><circle cx="362.4" cy="464.8" r="2.33"/><circle cx="355.8" cy="463.5" r="2.32"/><circle cx="342.2" cy="463.5" r="1.91"/><circle cx="334.6" cy="475.4" r="2.13"/><circle cx="365.1" cy="463.5" r="1.87"/><circle cx="352.2" cy="478.0" r="2.16"/><circle cx="309.0" cy="480.7" r="2.25"/><circle cx="300.2" cy="472.8" r="2.15"/><circle cx="322.5" cy="466.1" r="2.31"/><circle cx="359.5" cy="475.4" r="2.21"/><circle cx="356.5" cy="475.4" r="2.00"/><circle cx="350.6" cy="463.5" r="1.83"/><circle cx="287.2" cy="479.4" r="2.14"/><circle cx="348.7" cy="474.1" r="2.34"/><circle cx="363.8" cy="463.5" r="1.80"/><circle cx="324.8" cy="470.1" r="2.18"/><circle cx="362.6" cy="463.5" r="1.87"/><circle cx="314.0" cy="479.4" r="1.82"/><circle cx="310.4" cy="466.1" r="2.10"/><circle cx="349.1" cy="464.8" r="2.01"/><circle cx="323.5" cy="474.1" r="1.85"/><circle cx="353.9" cy="474.1" r="2.11"/><circle cx="360.7" cy="482.0" r="2.25"/><circle cx="351.9" cy="468.8" r="1.81"/><circle cx="354.1" cy="475.4" r="2.32"/><circle cx="357.9" cy="482.0" r="1.82"/><circle cx="330.8" cy="471.4" r="1.87"/><circle cx="337.4" cy="474.1" r="1.95"/><circle cx="292.6" cy="479.4" r="1.90"/><circle cx="279.0" cy="466.0" r="2.25"/><circle cx="257.0" cy="468.0" r="2.25"/><circle cx="336.8" cy="486.6" r="1.81"/><circle cx="339.4" cy="490.6" r="2.09"/><circle cx="368.3" cy="493.2" r="2.35"/><circle cx="365.3" cy="487.9" r="2.21"/><circle cx="371.6" cy="489.2" r="1.77"/><circle cx="359.4" cy="486.6" r="2.26"/><circle cx="349.0" cy="493.2" r="2.13"/><circle cx="315.5" cy="484.0" r="1.76"/><circle cx="368.6" cy="490.6" r="2.26"/><circle cx="361.8" cy="493.2" r="2.08"/><circle cx="355.5" cy="486.6" r="1.86"/><circle cx="330.5" cy="484.0" r="2.23"/><circle cx="313.8" cy="487.9" r="2.34"/><circle cx="362.1" cy="484.0" r="1.90"/><circle cx="345.3" cy="494.5" r="2.26"/><circle cx="341.5" cy="491.9" r="1.87"/><circle cx="369.2" cy="487.9" r="2.33"/><circle cx="315.2" cy="491.9" r="2.19"/><circle cx="321.9" cy="489.2" r="2.25"/><circle cx="254.0" cy="484.0" r="2.25"/><circle cx="348.1" cy="499.6" r="1.87"/><circle cx="309.3" cy="518.1" r="1.89"/><circle cx="355.4" cy="522.0" r="1.90"/><circle cx="311.7" cy="510.2" r="1.90"/><circle cx="314.2" cy="515.4" r="1.93"/><circle cx="308.8" cy="507.5" r="2.18"/><circle cx="317.6" cy="506.2" r="2.18"/><circle cx="346.6" cy="514.1" r="1.91"/><circle cx="351.1" cy="504.9" r="1.86"/><circle cx="356.8" cy="522.0" r="2.12"/><circle cx="350.6" cy="512.8" r="1.99"/><circle cx="336.3" cy="503.6" r="2.03"/><circle cx="356.5" cy="520.7" r="1.81"/><circle cx="287.6" cy="499.6" r="2.27"/><circle cx="294.1" cy="503.6" r="2.01"/><circle cx="358.8" cy="516.7" r="1.98"/><circle cx="360.2" cy="520.7" r="2.13"/><circle cx="324.9" cy="512.8" r="1.96"/><circle cx="356.7" cy="504.9" r="1.84"/><circle cx="371.6" cy="514.1" r="1.98"/><circle cx="310.1" cy="502.3" r="2.20"/><circle cx="356.5" cy="502.3" r="2.30"/><circle cx="357.4" cy="512.8" r="2.13"/><circle cx="372.2" cy="499.6" r="2.18"/><circle cx="357.4" cy="503.6" r="1.76"/><circle cx="305.3" cy="507.5" r="2.09"/><circle cx="353.3" cy="502.3" r="2.10"/><circle cx="309.8" cy="511.5" r="2.09"/><circle cx="327.2" cy="516.7" r="1.82"/><circle cx="363.7" cy="506.2" r="2.00"/><circle cx="359.4" cy="515.4" r="2.27"/><circle cx="333.9" cy="515.4" r="2.33"/><circle cx="322.3" cy="499.6" r="2.16"/><circle cx="356.1" cy="502.3" r="1.96"/><circle cx="360.6" cy="498.3" r="2.18"/><circle cx="371.4" cy="507.5" r="2.17"/><circle cx="364.8" cy="497.0" r="2.06"/><circle cx="357.1" cy="522.0" r="1.88"/><circle cx="333.3" cy="520.7" r="2.03"/><circle cx="331.0" cy="519.4" r="2.35"/><circle cx="311.2" cy="510.2" r="1.88"/><circle cx="365.1" cy="511.5" r="1.76"/><circle cx="335.0" cy="508.8" r="2.01"/><circle cx="321.8" cy="518.1" r="1.76"/><circle cx="345.3" cy="500.9" r="2.07"/><circle cx="355.7" cy="515.4" r="2.07"/><circle cx="344.3" cy="502.3" r="1.99"/><circle cx="328.4" cy="514.1" r="2.16"/><circle cx="332.2" cy="499.6" r="2.10"/><circle cx="346.7" cy="498.3" r="1.82"/><circle cx="341.1" cy="518.1" r="1.87"/><circle cx="317.6" cy="506.2" r="1.81"/><circle cx="325.4" cy="518.1" r="2.04"/><circle cx="320.6" cy="528.6" r="2.11"/><circle cx="365.0" cy="532.6" r="2.29"/><circle cx="371.1" cy="536.5" r="2.01"/><circle cx="348.7" cy="529.9" r="1.96"/><circle cx="346.6" cy="536.5" r="1.77"/><circle cx="303.5" cy="527.3" r="2.33"/><circle cx="319.8" cy="529.9" r="2.03"/><circle cx="348.3" cy="526.0" r="2.14"/><circle cx="304.5" cy="536.5" r="1.89"/><circle cx="367.5" cy="527.3" r="1.82"/><circle cx="365.3" cy="526.0" r="1.76"/><circle cx="319.3" cy="536.5" r="2.19"/><circle cx="371.4" cy="531.2" r="2.10"/><circle cx="369.5" cy="526.0" r="2.04"/><circle cx="370.6" cy="527.3" r="2.28"/><circle cx="365.7" cy="527.3" r="1.82"/><circle cx="324.6" cy="531.2" r="2.10"/><circle cx="334.1" cy="536.5" r="2.31"/><circle cx="309.7" cy="531.2" r="1.76"/><circle cx="174.0" cy="538.4" r="2.35"/><circle cx="349.2" cy="554.7" r="2.26"/><circle cx="353.5" cy="553.4" r="2.23"/><circle cx="328.9" cy="543.1" r="1.77"/><circle cx="357.8" cy="540.6" r="1.95"/><circle cx="346.1" cy="543.1" r="2.03"/><circle cx="332.9" cy="538.0" r="1.88"/><circle cx="349.8" cy="554.7" r="2.05"/><circle cx="365.9" cy="556.0" r="2.06"/><circle cx="356.0" cy="547.0" r="1.84"/><circle cx="337.7" cy="554.7" r="2.14"/><circle cx="287.0" cy="548.3" r="2.06"/><circle cx="365.6" cy="543.1" r="2.24"/><circle cx="355.3" cy="552.1" r="2.29"/><circle cx="363.9" cy="553.4" r="2.01"/><circle cx="327.6" cy="545.7" r="1.90"/><circle cx="289.1" cy="547.0" r="2.25"/><circle cx="305.3" cy="554.7" r="2.31"/><circle cx="348.9" cy="538.0" r="1.80"/><circle cx="370.2" cy="549.6" r="2.27"/><circle cx="331.8" cy="547.0" r="1.82"/><circle cx="346.3" cy="543.1" r="1.75"/><circle cx="288.9" cy="548.3" r="2.23"/><circle cx="287.4" cy="548.3" r="1.90"/><circle cx="324.7" cy="538.0" r="2.33"/><circle cx="354.8" cy="554.7" r="2.33"/><circle cx="365.6" cy="538.0" r="2.05"/><circle cx="306.2" cy="544.4" r="1.91"/><circle cx="350.7" cy="545.7" r="1.79"/><circle cx="286.4" cy="548.3" r="2.21"/><circle cx="360.6" cy="539.3" r="2.05"/><circle cx="361.5" cy="540.6" r="2.35"/><circle cx="337.3" cy="549.6" r="1.91"/><circle cx="345.3" cy="547.0" r="2.08"/><circle cx="344.9" cy="545.7" r="2.13"/><circle cx="365.9" cy="544.4" r="1.81"/><circle cx="323.5" cy="540.6" r="2.04"/><circle cx="341.3" cy="553.4" r="2.06"/><circle cx="288.9" cy="554.7" r="2.23"/><circle cx="321.4" cy="556.0" r="2.18"/><circle cx="325.7" cy="539.3" r="1.83"/><circle cx="331.8" cy="540.6" r="2.04"/><circle cx="344.3" cy="543.1" r="2.07"/><circle cx="206.9" cy="542.4" r="2.25"/><circle cx="205.0" cy="547.3" r="2.25"/><circle cx="213.6" cy="547.3" r="2.25"/><circle cx="233.0" cy="546.0" r="2.25"/><circle cx="240.0" cy="552.0" r="2.25"/><circle cx="247.0" cy="544.0" r="2.25"/><circle cx="333.6" cy="584.7" r="1.80"/><circle cx="326.2" cy="582.1" r="1.86"/><circle cx="324.1" cy="569.2" r="1.98"/><circle cx="360.4" cy="573.1" r="2.21"/><circle cx="349.4" cy="570.5" r="1.95"/><circle cx="345.7" cy="576.9" r="2.07"/><circle cx="356.9" cy="576.9" r="2.21"/><circle cx="349.7" cy="591.2" r="2.26"/><circle cx="368.2" cy="567.9" r="1.85"/><circle cx="330.1" cy="560.1" r="2.31"/><circle cx="320.0" cy="589.9" r="2.06"/><circle cx="359.6" cy="571.8" r="2.22"/><circle cx="351.4" cy="573.1" r="1.97"/><circle cx="337.5" cy="584.7" r="2.15"/><circle cx="341.3" cy="575.6" r="2.13"/><circle cx="322.9" cy="560.1" r="2.20"/><circle cx="326.1" cy="580.8" r="1.85"/><circle cx="361.4" cy="591.2" r="1.91"/><circle cx="331.0" cy="571.8" r="1.96"/><circle cx="314.2" cy="558.8" r="1.86"/><circle cx="341.1" cy="557.5" r="2.25"/><circle cx="299.3" cy="571.8" r="2.16"/><circle cx="317.7" cy="582.1" r="2.11"/><circle cx="318.7" cy="557.5" r="1.84"/><circle cx="347.9" cy="578.2" r="2.07"/><circle cx="364.0" cy="571.8" r="2.28"/><circle cx="351.2" cy="561.4" r="1.96"/><circle cx="341.8" cy="562.7" r="1.86"/><circle cx="314.6" cy="582.1" r="2.20"/><circle cx="307.5" cy="569.2" r="1.75"/><circle cx="361.6" cy="592.5" r="1.93"/><circle cx="345.9" cy="575.6" r="2.04"/><circle cx="332.0" cy="557.5" r="1.94"/><circle cx="330.7" cy="562.7" r="1.92"/><circle cx="340.6" cy="567.9" r="1.96"/><circle cx="348.8" cy="562.7" r="2.12"/><circle cx="341.1" cy="567.9" r="2.27"/><circle cx="289.2" cy="583.4" r="1.88"/><circle cx="313.4" cy="576.9" r="2.06"/><circle cx="336.8" cy="580.8" r="2.25"/><circle cx="289.8" cy="566.6" r="2.14"/><circle cx="327.4" cy="575.6" r="2.03"/><circle cx="338.9" cy="583.4" r="2.34"/><circle cx="335.4" cy="582.1" r="1.95"/><circle cx="366.7" cy="564.0" r="1.85"/><circle cx="299.8" cy="582.1" r="2.02"/><circle cx="328.6" cy="573.1" r="2.11"/><circle cx="363.7" cy="574.4" r="1.97"/><circle cx="367.6" cy="603.8" r="1.99"/><circle cx="319.5" cy="599.7" r="1.80"/><circle cx="346.1" cy="602.4" r="1.82"/><circle cx="333.8" cy="602.4" r="2.22"/><circle cx="324.4" cy="597.0" r="2.17"/><circle cx="314.9" cy="601.1" r="1.91"/><circle cx="289.6" cy="605.1" r="2.16"/><circle cx="331.4" cy="606.5" r="1.85"/><circle cx="334.3" cy="597.0" r="2.05"/><circle cx="294.4" cy="602.4" r="1.83"/><circle cx="354.7" cy="598.4" r="1.97"/><circle cx="365.7" cy="597.0" r="2.21"/><circle cx="348.7" cy="602.4" r="2.17"/><circle cx="316.2" cy="601.1" r="2.08"/><circle cx="367.2" cy="601.1" r="1.95"/><circle cx="370.2" cy="598.4" r="1.84"/><circle cx="361.6" cy="605.1" r="2.14"/><circle cx="361.8" cy="606.5" r="1.97"/><circle cx="357.0" cy="601.1" r="2.20"/><circle cx="333.3" cy="606.5" r="2.22"/><circle cx="353.9" cy="601.1" r="2.17"/><circle cx="368.6" cy="606.5" r="1.97"/><circle cx="352.9" cy="598.4" r="2.25"/><circle cx="340.5" cy="598.4" r="2.06"/><circle cx="336.8" cy="597.0" r="1.95"/><circle cx="331.7" cy="598.4" r="2.06"/><circle cx="240.6" cy="604.0" r="2.25"/><circle cx="284.0" cy="604.0" r="2.25"/><circle cx="306.3" cy="620.1" r="2.16"/><circle cx="355.4" cy="612.5" r="2.05"/><circle cx="306.9" cy="612.5" r="2.15"/><circle cx="307.3" cy="625.1" r="2.26"/><circle cx="301.3" cy="616.3" r="2.27"/><circle cx="301.9" cy="622.6" r="1.99"/><circle cx="317.6" cy="628.9" r="2.33"/><circle cx="352.1" cy="612.5" r="2.34"/><circle cx="320.9" cy="611.2" r="2.34"/><circle cx="320.5" cy="611.2" r="2.18"/><circle cx="314.1" cy="621.3" r="2.06"/><circle cx="306.5" cy="625.1" r="2.12"/><circle cx="362.2" cy="623.9" r="2.21"/><circle cx="333.0" cy="627.7" r="2.33"/><circle cx="324.9" cy="628.9" r="2.13"/><circle cx="312.2" cy="628.9" r="1.78"/><circle cx="355.7" cy="616.3" r="1.85"/><circle cx="294.7" cy="620.1" r="2.00"/><circle cx="365.1" cy="626.4" r="2.04"/><circle cx="359.3" cy="616.3" r="2.15"/><circle cx="362.4" cy="618.8" r="1.93"/><circle cx="362.2" cy="612.5" r="2.25"/><circle cx="303.3" cy="625.1" r="1.86"/><circle cx="346.9" cy="615.0" r="1.77"/><circle cx="360.7" cy="620.1" r="2.05"/><circle cx="362.2" cy="627.7" r="2.09"/><circle cx="358.7" cy="610.0" r="2.14"/><circle cx="326.9" cy="620.1" r="2.29"/><circle cx="340.9" cy="617.6" r="2.11"/><circle cx="352.6" cy="626.4" r="1.84"/><circle cx="318.7" cy="612.5" r="2.25"/><circle cx="351.8" cy="612.5" r="2.23"/><circle cx="359.1" cy="616.3" r="2.27"/><circle cx="350.7" cy="615.0" r="1.78"/><circle cx="291.0" cy="622.6" r="2.07"/><circle cx="348.2" cy="620.1" r="1.76"/><circle cx="333.7" cy="612.5" r="1.76"/><circle cx="368.8" cy="630.2" r="2.20"/><circle cx="364.3" cy="623.9" r="2.04"/><circle cx="302.6" cy="612.5" r="1.80"/><circle cx="356.7" cy="613.8" r="2.24"/><circle cx="367.1" cy="616.3" r="1.93"/><circle cx="320.7" cy="621.3" r="1.86"/><circle cx="337.6" cy="615.0" r="1.77"/><circle cx="352.2" cy="616.3" r="2.16"/><circle cx="321.7" cy="615.0" r="2.18"/><circle cx="318.6" cy="625.1" r="1.89"/><circle cx="363.6" cy="630.2" r="1.79"/><circle cx="329.4" cy="610.0" r="1.80"/><circle cx="310.4" cy="613.8" r="1.80"/><circle cx="305.1" cy="621.3" r="2.04"/><circle cx="347.1" cy="623.9" r="2.08"/><circle cx="319.5" cy="615.0" r="1.79"/><circle cx="359.9" cy="621.3" r="2.19"/><circle cx="353.3" cy="615.0" r="2.03"/><circle cx="359.0" cy="650.7" r="1.82"/><circle cx="319.3" cy="638.7" r="2.33"/><circle cx="361.7" cy="641.3" r="1.78"/><circle cx="312.7" cy="644.0" r="1.91"/><circle cx="333.5" cy="649.3" r="2.25"/><circle cx="332.3" cy="645.3" r="2.30"/><circle cx="367.8" cy="649.3" r="2.03"/><circle cx="361.8" cy="632.0" r="2.10"/><circle cx="316.1" cy="652.0" r="1.78"/><circle cx="346.8" cy="641.3" r="1.76"/><circle cx="345.7" cy="640.0" r="2.14"/><circle cx="313.3" cy="652.0" r="2.17"/><circle cx="356.0" cy="634.7" r="2.04"/><circle cx="336.7" cy="644.0" r="2.14"/><circle cx="345.4" cy="644.0" r="1.99"/><circle cx="368.9" cy="634.7" r="1.86"/><circle cx="337.1" cy="646.7" r="2.13"/><circle cx="345.3" cy="640.0" r="2.11"/><circle cx="331.7" cy="644.0" r="2.00"/><circle cx="357.7" cy="641.3" r="2.28"/><circle cx="316.5" cy="641.3" r="2.08"/><circle cx="368.3" cy="634.7" r="1.75"/><circle cx="361.5" cy="649.3" r="1.93"/><circle cx="359.7" cy="636.0" r="1.76"/><circle cx="345.2" cy="649.3" r="1.93"/><circle cx="338.2" cy="638.7" r="2.07"/><circle cx="371.3" cy="645.3" r="1.78"/><circle cx="368.8" cy="641.3" r="1.84"/><circle cx="320.0" cy="652.0" r="2.05"/><circle cx="357.5" cy="634.7" r="2.05"/><circle cx="357.8" cy="646.7" r="2.27"/><circle cx="304.4" cy="648.0" r="1.90"/><circle cx="357.0" cy="633.3" r="1.87"/><circle cx="316.7" cy="636.0" r="2.29"/><circle cx="309.6" cy="637.3" r="1.88"/><circle cx="322.7" cy="641.3" r="1.79"/><circle cx="327.7" cy="632.0" r="1.96"/><circle cx="331.5" cy="640.0" r="2.28"/><circle cx="319.8" cy="649.3" r="2.01"/><circle cx="349.4" cy="632.0" r="2.20"/><circle cx="336.9" cy="644.0" r="2.32"/><circle cx="366.9" cy="634.7" r="2.04"/><circle cx="348.4" cy="652.0" r="1.87"/><circle cx="366.5" cy="644.0" r="2.18"/><circle cx="341.0" cy="636.0" r="1.89"/><circle cx="370.8" cy="632.0" r="1.89"/><circle cx="319.6" cy="660.2" r="1.89"/><circle cx="353.1" cy="662.8" r="1.78"/><circle cx="358.0" cy="665.5" r="1.97"/><circle cx="347.3" cy="665.5" r="2.25"/><circle cx="362.9" cy="664.2" r="2.05"/><circle cx="344.6" cy="654.8" r="2.14"/><circle cx="342.6" cy="657.5" r="2.06"/><circle cx="310.6" cy="664.2" r="1.80"/><circle cx="330.7" cy="654.8" r="1.96"/><circle cx="338.0" cy="665.5" r="2.04"/><circle cx="320.9" cy="657.5" r="2.35"/><circle cx="346.1" cy="660.2" r="2.33"/><circle cx="334.7" cy="661.5" r="1.94"/><circle cx="359.1" cy="658.8" r="2.01"/><circle cx="309.5" cy="661.5" r="2.20"/><circle cx="372.0" cy="664.2" r="2.26"/><circle cx="368.5" cy="660.2" r="2.23"/><circle cx="328.5" cy="661.5" r="1.82"/><circle cx="367.7" cy="654.8" r="1.83"/><circle cx="316.6" cy="658.8" r="2.02"/><circle cx="358.2" cy="658.8" r="2.01"/><circle cx="349.9" cy="664.2" r="2.06"/><circle cx="308.5" cy="661.5" r="2.08"/><circle cx="338.3" cy="670.5" r="2.30"/><circle cx="341.8" cy="672.9" r="2.19"/><circle cx="360.9" cy="675.4" r="1.76"/><circle cx="318.1" cy="676.6" r="1.95"/><circle cx="307.7" cy="677.8" r="2.05"/><circle cx="358.4" cy="676.6" r="1.81"/><circle cx="349.9" cy="677.8" r="1.76"/><circle cx="336.0" cy="675.4" r="2.03"/><circle cx="341.9" cy="674.1" r="2.09"/><circle cx="301.0" cy="672.9" r="1.85"/><circle cx="363.8" cy="670.5" r="2.04"/><circle cx="299.2" cy="677.8" r="2.30"/><circle cx="347.0" cy="670.5" r="1.98"/><circle cx="223.0" cy="674.0" r="2.25"/><circle cx="252.0" cy="676.0" r="2.25"/><circle cx="305.1" cy="695.7" r="2.20"/><circle cx="344.9" cy="694.4" r="1.98"/><circle cx="347.5" cy="702.1" r="2.29"/><circle cx="366.2" cy="691.8" r="2.18"/><circle cx="361.8" cy="700.8" r="2.29"/><circle cx="361.7" cy="700.8" r="2.04"/><circle cx="353.4" cy="698.2" r="1.98"/><circle cx="327.7" cy="695.7" r="2.34"/><circle cx="330.4" cy="698.2" r="2.19"/><circle cx="354.6" cy="702.1" r="1.91"/><circle cx="312.4" cy="697.0" r="1.96"/><circle cx="374.0" cy="693.1" r="1.98"/><circle cx="336.0" cy="702.1" r="1.77"/><circle cx="346.5" cy="693.1" r="2.05"/><circle cx="354.8" cy="699.5" r="1.88"/><circle cx="355.8" cy="697.0" r="2.07"/><circle cx="365.9" cy="700.8" r="2.08"/><circle cx="367.4" cy="693.1" r="1.83"/><circle cx="355.3" cy="697.0" r="1.93"/><circle cx="308.5" cy="698.2" r="1.82"/><circle cx="362.0" cy="691.8" r="1.82"/><circle cx="309.0" cy="698.2" r="2.21"/><circle cx="370.5" cy="695.7" r="2.19"/><circle cx="357.3" cy="699.5" r="1.92"/><circle cx="209.4" cy="698.5" r="2.25"/><circle cx="357.1" cy="710.2" r="1.90"/><circle cx="353.5" cy="706.5" r="2.20"/><circle cx="365.7" cy="706.5" r="1.95"/><circle cx="346.0" cy="706.5" r="2.29"/><circle cx="365.0" cy="717.8" r="2.31"/><circle cx="327.1" cy="710.2" r="2.12"/><circle cx="346.9" cy="704.0" r="1.82"/><circle cx="340.6" cy="716.5" r="2.04"/><circle cx="359.9" cy="717.8" r="1.76"/><circle cx="305.4" cy="719.0" r="2.17"/><circle cx="367.0" cy="705.2" r="2.03"/><circle cx="342.2" cy="712.8" r="1.93"/><circle cx="311.3" cy="719.0" r="2.23"/><circle cx="354.5" cy="706.5" r="2.05"/><circle cx="364.5" cy="706.5" r="2.20"/><circle cx="313.3" cy="714.0" r="2.02"/><circle cx="354.9" cy="710.2" r="1.81"/><circle cx="310.5" cy="707.8" r="2.30"/><circle cx="334.8" cy="705.2" r="1.95"/><circle cx="346.1" cy="714.0" r="2.22"/><circle cx="304.0" cy="714.0" r="1.91"/><circle cx="301.5" cy="715.2" r="2.01"/><circle cx="313.9" cy="714.0" r="2.09"/><circle cx="356.7" cy="717.8" r="2.04"/><circle cx="304.6" cy="717.8" r="1.77"/><circle cx="307.3" cy="707.8" r="1.89"/><circle cx="348.7" cy="717.8" r="1.76"/><circle cx="328.0" cy="705.2" r="2.01"/><circle cx="308.0" cy="707.8" r="2.31"/><circle cx="349.7" cy="704.0" r="1.85"/><circle cx="352.3" cy="717.8" r="2.00"/><circle cx="368.7" cy="729.1" r="1.79"/><circle cx="313.0" cy="733.0" r="1.76"/><circle cx="357.0" cy="733.0" r="2.07"/><circle cx="315.7" cy="729.1" r="2.20"/><circle cx="350.7" cy="726.5" r="2.16"/><circle cx="366.6" cy="727.8" r="2.03"/><circle cx="323.4" cy="729.1" r="2.12"/><circle cx="365.6" cy="730.4" r="1.92"/><circle cx="353.0" cy="733.0" r="1.92"/><circle cx="346.2" cy="731.7" r="1.82"/><circle cx="311.4" cy="727.8" r="1.83"/><circle cx="362.4" cy="730.4" r="2.12"/><circle cx="354.5" cy="723.9" r="1.87"/><circle cx="324.4" cy="721.3" r="2.04"/><circle cx="337.2" cy="733.0" r="1.82"/><circle cx="320.8" cy="721.3" r="2.30"/><circle cx="361.7" cy="733.0" r="2.08"/><circle cx="364.7" cy="741.1" r="1.92"/><circle cx="309.5" cy="737.3" r="1.99"/><circle cx="354.2" cy="744.9" r="2.07"/><circle cx="331.3" cy="744.9" r="2.01"/><circle cx="344.3" cy="741.1" r="2.08"/><circle cx="318.7" cy="746.2" r="2.16"/><circle cx="292.9" cy="750.0" r="2.35"/><circle cx="370.5" cy="744.9" r="1.94"/><circle cx="293.4" cy="743.6" r="2.08"/><circle cx="327.1" cy="736.0" r="1.95"/><circle cx="360.7" cy="746.2" r="1.92"/><circle cx="363.8" cy="746.2" r="2.08"/><circle cx="363.5" cy="737.3" r="2.18"/><circle cx="302.0" cy="750.0" r="1.81"/><circle cx="317.6" cy="744.9" r="1.81"/><circle cx="372.0" cy="746.2" r="2.02"/><circle cx="300.8" cy="738.5" r="2.22"/><circle cx="335.0" cy="744.9" r="1.89"/><circle cx="354.1" cy="741.1" r="1.99"/><circle cx="355.6" cy="750.0" r="1.93"/><circle cx="337.9" cy="743.6" r="2.22"/><circle cx="347.2" cy="738.5" r="2.10"/><circle cx="319.7" cy="741.1" r="2.09"/><circle cx="339.8" cy="741.1" r="2.30"/><circle cx="342.1" cy="748.7" r="2.13"/><circle cx="364.5" cy="738.5" r="1.88"/><circle cx="346.4" cy="736.0" r="1.80"/><circle cx="369.2" cy="746.2" r="2.07"/><circle cx="367.6" cy="743.6" r="2.29"/><circle cx="335.3" cy="750.0" r="2.12"/><circle cx="348.3" cy="737.3" r="2.26"/><circle cx="371.0" cy="746.2" r="1.81"/><circle cx="327.2" cy="736.0" r="2.02"/><circle cx="296.3" cy="742.4" r="2.31"/><circle cx="354.5" cy="738.5" r="2.24"/><circle cx="371.2" cy="752.3" r="1.88"/><circle cx="340.9" cy="757.7" r="1.86"/><circle cx="359.1" cy="752.3" r="2.14"/><circle cx="355.0" cy="751.0" r="1.79"/><circle cx="333.3" cy="763.0" r="1.90"/><circle cx="336.3" cy="757.7" r="2.09"/><circle cx="325.3" cy="761.7" r="2.27"/><circle cx="359.3" cy="757.7" r="2.11"/><circle cx="365.2" cy="753.7" r="2.34"/><circle cx="319.9" cy="753.7" r="2.21"/><circle cx="365.0" cy="759.0" r="2.20"/><circle cx="319.9" cy="756.3" r="2.23"/><circle cx="311.0" cy="751.0" r="1.76"/><circle cx="310.2" cy="753.7" r="2.14"/><circle cx="337.6" cy="761.7" r="1.85"/><circle cx="321.0" cy="753.7" r="2.19"/><circle cx="369.3" cy="757.7" r="2.08"/><circle cx="360.4" cy="763.0" r="1.88"/><circle cx="334.7" cy="755.0" r="2.19"/><circle cx="370.1" cy="752.3" r="1.97"/><circle cx="324.7" cy="763.0" r="1.98"/><circle cx="349.9" cy="751.0" r="2.24"/><circle cx="320.5" cy="755.0" r="1.95"/><circle cx="321.5" cy="760.3" r="1.90"/><circle cx="325.6" cy="753.7" r="1.77"/><circle cx="324.0" cy="755.0" r="1.82"/><circle cx="330.3" cy="761.7" r="1.85"/><circle cx="348.3" cy="766.8" r="1.85"/><circle cx="345.6" cy="771.0" r="2.03"/><circle cx="315.9" cy="769.6" r="1.77"/><circle cx="319.7" cy="766.8" r="1.92"/><circle cx="359.0" cy="765.4" r="2.26"/><circle cx="355.7" cy="766.8" r="1.77"/><circle cx="348.4" cy="765.4" r="1.77"/></g>
<g fill="#7ef7f0" stroke="#0b2626" stroke-width="0.75"></g>
<path d="M618.1 433.9H642.6M626.6 438.3H636.8M590.0 442.5H604.3M579.6 446.6H655.0M604.3 450.6H632.0M593.4 455.4H650.0M543.4 463.5H620.5M608.2 467.9H643.0M617.0 475.5H656.0M562.3 480.1H650.0M516.6 484.6H650.0M602.1 488.9H640.0M614.8 493.3H632.0M635.4 497.6H638.6M605.4 501.8H643.0M604.3 505.7H632.4M623.4 510.1H640.0M591.2 513.9H652.7M606.5 518.3H638.0M614.2 522.7H652.0M591.2 526.9H649.5M591.2 531.2H634.6M591.2 535.4H620.0M629.0 539.6H649.6M630.1 543.9H649.6M636.7 547.9H650.0M581.3 552.3H653.6M615.9 556.6H642.0M636.7 560.8H654.0M627.3 564.7H646.0M614.2 569.1H633.0M585.7 573.5H623.0M608.7 577.9H633.4M598.8 581.8H653.0M620.3 586.2H650.7M567.7 590.6H624.0M534.2 594.7H596.6M570.8 598.7H630.0M585.0 603.3H650.7M614.8 607.0H644.0M598.8 611.0H650.0M619.2 615.8H637.6M614.2 620.2H620.5M612.0 624.1H629.3M589.4 628.3H642.0M618.1 636.6H651.6M598.8 641.0H620.5M590.0 645.4H653.0M578.0 649.7H650.0M604.3 653.7H632.6M621.4 658.1H640.0M578.0 662.2H650.0M642.2 666.6H646.0M631.2 670.5H643.0M578.0 674.9H592.5M604.3 679.3H630.0M608.7 683.3H640.0M626.9 687.7H637.0M594.4 691.6H644.0M621.2 696.0H651.6M613.7 700.4H634.0M642.0 704.5H652.7M562.0 708.5H638.6M562.0 713.3H646.0M601.0 717.2H636.6M633.2 721.2H640.9M583.5 725.5H636.6M583.5 730.0H633.0M562.3 734.1H638.6M607.1 738.0H650.0M551.3 741.7H655.0M619.2 746.8H649.6M611.5 751.2H623.0M586.1 755.5H643.0M601.0 759.4H627.0M598.8 763.6H620.5M598.8 768.0H650.0M598.8 772.4H652.7M539.0 776.3H618.0M585.0 780.0H655.0M638.2 785.1H652.6M623.6 789.4H638.6M620.3 793.2H648.5" stroke="#a6f3ef" stroke-width="1.2" fill="none"/>
<g fill="#86f6ee" stroke="#264e4a" stroke-width="0.75"><circle cx="631.8" cy="740.8" r="1.9"/><circle cx="634.9" cy="740.9" r="1.9"/><circle cx="636.7" cy="740.9" r="1.9"/><circle cx="639.9" cy="739.9" r="1.9"/><circle cx="641.8" cy="740.5" r="1.9"/><circle cx="644.2" cy="740.1" r="1.9"/><circle cx="647.5" cy="740.7" r="1.9"/><circle cx="649.5" cy="740.0" r="1.9"/><circle cx="651.6" cy="739.8" r="1.9"/><circle cx="630.8" cy="743.3" r="1.9"/><circle cx="633.9" cy="743.3" r="1.9"/><circle cx="637.0" cy="742.3" r="1.9"/><circle cx="640.1" cy="743.3" r="1.9"/><circle cx="642.8" cy="742.5" r="1.9"/><circle cx="644.8" cy="742.2" r="1.9"/><circle cx="647.7" cy="742.1" r="1.9"/><circle cx="650.2" cy="742.5" r="1.9"/><circle cx="653.3" cy="742.5" r="1.9"/><circle cx="608.2" cy="779.5" r="1.9"/><circle cx="610.9" cy="779.3" r="1.9"/><circle cx="612.9" cy="778.7" r="1.9"/><circle cx="614.9" cy="778.4" r="1.9"/><circle cx="618.0" cy="778.5" r="1.9"/><circle cx="620.9" cy="779.4" r="1.9"/><circle cx="622.7" cy="778.9" r="1.9"/><circle cx="625.4" cy="779.2" r="1.9"/><circle cx="629.1" cy="778.3" r="1.9"/><circle cx="631.5" cy="778.7" r="1.9"/><circle cx="635.1" cy="778.7" r="1.9"/><circle cx="637.8" cy="778.7" r="1.9"/><circle cx="639.8" cy="778.4" r="1.9"/><circle cx="642.5" cy="779.5" r="1.9"/><circle cx="644.1" cy="779.5" r="1.9"/><circle cx="647.0" cy="778.6" r="1.9"/><circle cx="650.2" cy="778.8" r="1.9"/><circle cx="651.9" cy="779.4" r="1.9"/><circle cx="608.7" cy="780.8" r="1.9"/><circle cx="611.7" cy="781.4" r="1.9"/><circle cx="613.8" cy="781.1" r="1.9"/><circle cx="616.7" cy="781.0" r="1.9"/><circle cx="619.4" cy="781.6" r="1.9"/><circle cx="622.1" cy="781.2" r="1.9"/><circle cx="625.0" cy="780.9" r="1.9"/><circle cx="627.1" cy="781.1" r="1.9"/><circle cx="631.1" cy="781.4" r="1.9"/><circle cx="633.1" cy="780.7" r="1.9"/><circle cx="635.9" cy="781.6" r="1.9"/><circle cx="638.3" cy="781.5" r="1.9"/><circle cx="641.0" cy="781.5" r="1.9"/><circle cx="643.5" cy="780.9" r="1.9"/><circle cx="646.1" cy="781.4" r="1.9"/><circle cx="648.7" cy="781.4" r="1.9"/><circle cx="650.4" cy="781.3" r="1.9"/><circle cx="653.4" cy="781.2" r="1.9"/><circle cx="628.8" cy="474.2" r="1.9"/><circle cx="631.6" cy="474.8" r="1.9"/><circle cx="634.1" cy="474.8" r="1.9"/><circle cx="637.0" cy="474.9" r="1.9"/><circle cx="639.2" cy="474.0" r="1.9"/><circle cx="642.6" cy="474.4" r="1.9"/><circle cx="645.2" cy="474.7" r="1.9"/><circle cx="647.5" cy="474.5" r="1.9"/><circle cx="649.9" cy="474.5" r="1.9"/><circle cx="653.1" cy="474.7" r="1.9"/><circle cx="628.0" cy="476.9" r="1.9"/><circle cx="630.5" cy="476.9" r="1.9"/><circle cx="632.3" cy="476.4" r="1.9"/><circle cx="634.1" cy="476.5" r="1.9"/><circle cx="636.3" cy="476.1" r="1.9"/><circle cx="639.1" cy="476.8" r="1.9"/><circle cx="641.7" cy="477.2" r="1.9"/><circle cx="643.8" cy="476.4" r="1.9"/><circle cx="646.0" cy="477.1" r="1.9"/><circle cx="648.4" cy="476.8" r="1.9"/><circle cx="651.0" cy="476.5" r="1.9"/><circle cx="654.1" cy="477.1" r="1.9"/></g>
<rect x="630.6" y="740.2" width="23.8" height="3.1" fill="#86f6ee"/>
<rect x="607.6" y="778.7" width="46.8" height="3.1" fill="#86f6ee"/>
<rect x="627.6" y="474.2" width="26.8" height="2.6" fill="#86f6ee"/>
<g fill="none" stroke="#264e4a" stroke-width="0.5" stroke-opacity="0.6"><circle cx="631.8" cy="740.8" r="1.7"/><circle cx="647.5" cy="740.7" r="1.7"/><circle cx="640.1" cy="743.3" r="1.7"/><circle cx="608.2" cy="779.5" r="1.7"/><circle cx="622.7" cy="778.9" r="1.7"/><circle cx="639.8" cy="778.4" r="1.7"/><circle cx="608.7" cy="780.8" r="1.7"/><circle cx="625.0" cy="780.9" r="1.7"/><circle cx="641.0" cy="781.5" r="1.7"/><circle cx="628.8" cy="474.2" r="1.7"/><circle cx="645.2" cy="474.7" r="1.7"/><circle cx="632.3" cy="476.4" r="1.7"/><circle cx="646.0" cy="477.1" r="1.7"/></g>
<g fill="#86f6ee" stroke="#264e4a" stroke-width="0.65"><circle cx="636.8" cy="438.3" r="1.85"/><circle cx="604.3" cy="442.5" r="1.85"/><circle cx="630.0" cy="446.6" r="1.85"/><circle cx="624.0" cy="450.6" r="1.85"/><circle cx="632.0" cy="450.6" r="1.85"/><circle cx="650.0" cy="455.4" r="1.85"/><circle cx="620.5" cy="463.5" r="1.85"/><circle cx="631.0" cy="467.9" r="1.85"/><circle cx="643.0" cy="467.9" r="1.85"/><circle cx="612.0" cy="480.1" r="1.85"/><circle cx="619.5" cy="480.1" r="1.85"/><circle cx="576.0" cy="484.6" r="1.85"/><circle cx="650.0" cy="484.6" r="1.85"/><circle cx="632.0" cy="493.3" r="1.85"/><circle cx="638.6" cy="497.6" r="1.85"/><circle cx="632.4" cy="505.7" r="1.85"/><circle cx="613.0" cy="513.9" r="1.85"/><circle cx="652.7" cy="513.9" r="1.85"/><circle cx="621.6" cy="518.3" r="1.85"/><circle cx="652.0" cy="522.7" r="1.85"/><circle cx="617.0" cy="526.9" r="1.85"/><circle cx="649.5" cy="526.9" r="1.85"/><circle cx="634.6" cy="531.2" r="1.85"/><circle cx="649.6" cy="539.6" r="1.85"/><circle cx="649.6" cy="543.9" r="1.85"/><circle cx="640.0" cy="547.9" r="1.85"/><circle cx="650.0" cy="547.9" r="1.85"/><circle cx="614.0" cy="552.3" r="1.85"/><circle cx="619.5" cy="552.3" r="1.85"/><circle cx="637.0" cy="552.3" r="1.85"/><circle cx="644.0" cy="552.3" r="1.85"/><circle cx="650.0" cy="552.3" r="1.85"/><circle cx="653.6" cy="552.3" r="1.85"/><circle cx="626.4" cy="556.6" r="1.85"/><circle cx="632.4" cy="556.6" r="1.85"/><circle cx="642.0" cy="556.6" r="1.85"/><circle cx="632.0" cy="564.7" r="1.85"/><circle cx="646.0" cy="564.7" r="1.85"/><circle cx="633.0" cy="569.1" r="1.85"/><circle cx="623.0" cy="573.5" r="1.85"/><circle cx="633.4" cy="577.9" r="1.85"/><circle cx="643.0" cy="581.8" r="1.85"/><circle cx="638.8" cy="586.2" r="1.85"/><circle cx="650.7" cy="586.2" r="1.85"/><circle cx="624.0" cy="590.6" r="1.85"/><circle cx="596.6" cy="594.7" r="1.85"/><circle cx="583.0" cy="598.7" r="1.85"/><circle cx="621.6" cy="598.7" r="1.85"/><circle cx="650.7" cy="603.3" r="1.85"/><circle cx="636.6" cy="607.0" r="1.85"/><circle cx="644.0" cy="607.0" r="1.85"/><circle cx="609.6" cy="611.0" r="1.85"/><circle cx="643.0" cy="611.0" r="1.85"/><circle cx="650.0" cy="611.0" r="1.85"/><circle cx="630.0" cy="615.8" r="1.85"/><circle cx="637.6" cy="615.8" r="1.85"/><circle cx="620.5" cy="620.2" r="1.85"/><circle cx="629.3" cy="624.1" r="1.85"/><circle cx="614.0" cy="628.3" r="1.85"/><circle cx="635.0" cy="636.6" r="1.85"/><circle cx="644.0" cy="636.6" r="1.85"/><circle cx="651.6" cy="636.6" r="1.85"/><circle cx="614.0" cy="641.0" r="1.85"/><circle cx="620.5" cy="641.0" r="1.85"/><circle cx="597.7" cy="649.7" r="1.85"/><circle cx="624.0" cy="649.7" r="1.85"/><circle cx="633.0" cy="649.7" r="1.85"/><circle cx="650.0" cy="649.7" r="1.85"/><circle cx="622.6" cy="653.7" r="1.85"/><circle cx="632.6" cy="653.7" r="1.85"/><circle cx="650.0" cy="662.2" r="1.85"/><circle cx="646.0" cy="666.6" r="1.85"/><circle cx="643.0" cy="670.5" r="1.85"/><circle cx="592.5" cy="674.9" r="1.85"/><circle cx="630.0" cy="679.3" r="1.85"/><circle cx="637.0" cy="687.7" r="1.85"/><circle cx="596.6" cy="691.6" r="1.85"/><circle cx="644.0" cy="691.6" r="1.85"/><circle cx="637.6" cy="696.0" r="1.85"/><circle cx="646.0" cy="696.0" r="1.85"/><circle cx="651.6" cy="696.0" r="1.85"/><circle cx="627.3" cy="700.4" r="1.85"/><circle cx="634.0" cy="700.4" r="1.85"/><circle cx="652.7" cy="704.5" r="1.85"/><circle cx="601.6" cy="708.5" r="1.85"/><circle cx="638.6" cy="708.5" r="1.85"/><circle cx="621.6" cy="713.3" r="1.85"/><circle cx="632.0" cy="713.3" r="1.85"/><circle cx="646.0" cy="713.3" r="1.85"/><circle cx="636.6" cy="717.2" r="1.85"/><circle cx="640.9" cy="721.2" r="1.85"/><circle cx="636.6" cy="725.5" r="1.85"/><circle cx="614.0" cy="730.0" r="1.85"/><circle cx="633.0" cy="730.0" r="1.85"/><circle cx="638.6" cy="734.1" r="1.85"/><circle cx="650.0" cy="738.0" r="1.85"/><circle cx="574.6" cy="741.7" r="1.85"/><circle cx="577.6" cy="741.7" r="1.85"/><circle cx="604.7" cy="741.7" r="1.85"/><circle cx="649.6" cy="746.8" r="1.85"/><circle cx="593.6" cy="755.5" r="1.85"/><circle cx="643.0" cy="755.5" r="1.85"/><circle cx="608.6" cy="759.4" r="1.85"/><circle cx="627.0" cy="759.4" r="1.85"/><circle cx="607.6" cy="763.6" r="1.85"/><circle cx="620.5" cy="763.6" r="1.85"/><circle cx="620.5" cy="772.4" r="1.85"/><circle cx="652.7" cy="772.4" r="1.85"/><circle cx="652.6" cy="785.1" r="1.85"/><circle cx="633.4" cy="789.4" r="1.85"/><circle cx="638.6" cy="789.4" r="1.85"/><circle cx="633.4" cy="793.2" r="1.85"/><circle cx="638.6" cy="793.2" r="1.85"/><circle cx="648.5" cy="793.2" r="1.85"/><circle cx="639.3" cy="433.9" r="1.85"/><circle cx="642.6" cy="433.9" r="1.85"/><circle cx="642.0" cy="446.6" r="1.85"/><circle cx="644.6" cy="446.6" r="1.85"/><circle cx="647.2" cy="446.6" r="1.85"/><circle cx="649.8" cy="446.6" r="1.85"/><circle cx="652.4" cy="446.6" r="1.85"/><circle cx="655.0" cy="446.6" r="1.85"/><circle cx="638.0" cy="455.4" r="1.85"/><circle cx="640.0" cy="455.4" r="1.85"/><circle cx="625.0" cy="475.5" r="1.85"/><circle cx="627.6" cy="475.5" r="1.85"/><circle cx="630.2" cy="475.5" r="1.85"/><circle cx="632.8" cy="475.5" r="1.85"/><circle cx="635.3" cy="475.5" r="1.85"/><circle cx="637.9" cy="475.5" r="1.85"/><circle cx="640.5" cy="475.5" r="1.85"/><circle cx="643.1" cy="475.5" r="1.85"/><circle cx="645.7" cy="475.5" r="1.85"/><circle cx="648.2" cy="475.5" r="1.85"/><circle cx="650.8" cy="475.5" r="1.85"/><circle cx="653.4" cy="475.5" r="1.85"/><circle cx="656.0" cy="475.5" r="1.85"/><circle cx="628.0" cy="480.1" r="1.85"/><circle cx="630.4" cy="480.1" r="1.85"/><circle cx="632.8" cy="480.1" r="1.85"/><circle cx="635.2" cy="480.1" r="1.85"/><circle cx="637.6" cy="480.1" r="1.85"/><circle cx="640.0" cy="480.1" r="1.85"/><circle cx="647.0" cy="480.1" r="1.85"/><circle cx="650.0" cy="480.1" r="1.85"/><circle cx="628.0" cy="488.9" r="1.85"/><circle cx="630.4" cy="488.9" r="1.85"/><circle cx="632.8" cy="488.9" r="1.85"/><circle cx="635.2" cy="488.9" r="1.85"/><circle cx="637.6" cy="488.9" r="1.85"/><circle cx="640.0" cy="488.9" r="1.85"/><circle cx="640.0" cy="501.8" r="1.85"/><circle cx="643.0" cy="501.8" r="1.85"/><circle cx="630.0" cy="510.1" r="1.85"/><circle cx="632.5" cy="510.1" r="1.85"/><circle cx="635.0" cy="510.1" r="1.85"/><circle cx="637.5" cy="510.1" r="1.85"/><circle cx="640.0" cy="510.1" r="1.85"/><circle cx="620.0" cy="513.9" r="1.85"/><circle cx="622.6" cy="513.9" r="1.85"/><circle cx="625.1" cy="513.9" r="1.85"/><circle cx="627.7" cy="513.9" r="1.85"/><circle cx="630.2" cy="513.9" r="1.85"/><circle cx="632.8" cy="513.9" r="1.85"/><circle cx="635.3" cy="513.9" r="1.85"/><circle cx="637.9" cy="513.9" r="1.85"/><circle cx="640.4" cy="513.9" r="1.85"/><circle cx="643.0" cy="513.9" r="1.85"/><circle cx="631.0" cy="518.3" r="1.85"/><circle cx="633.3" cy="518.3" r="1.85"/><circle cx="635.7" cy="518.3" r="1.85"/><circle cx="638.0" cy="518.3" r="1.85"/><circle cx="630.0" cy="522.7" r="1.85"/><circle cx="632.5" cy="522.7" r="1.85"/><circle cx="635.0" cy="522.7" r="1.85"/><circle cx="637.5" cy="522.7" r="1.85"/><circle cx="640.0" cy="522.7" r="1.85"/><circle cx="642.5" cy="522.7" r="1.85"/><circle cx="645.0" cy="522.7" r="1.85"/><circle cx="647.5" cy="522.7" r="1.85"/><circle cx="650.0" cy="522.7" r="1.85"/><circle cx="618.0" cy="535.4" r="1.85"/><circle cx="620.0" cy="535.4" r="1.85"/><circle cx="636.0" cy="539.6" r="1.85"/><circle cx="638.5" cy="539.6" r="1.85"/><circle cx="641.0" cy="539.6" r="1.85"/><circle cx="628.0" cy="552.3" r="1.85"/><circle cx="630.0" cy="552.3" r="1.85"/><circle cx="649.6" cy="560.8" r="1.85"/><circle cx="651.8" cy="560.8" r="1.85"/><circle cx="654.0" cy="560.8" r="1.85"/><circle cx="620.0" cy="581.8" r="1.85"/><circle cx="622.5" cy="581.8" r="1.85"/><circle cx="625.0" cy="581.8" r="1.85"/><circle cx="627.5" cy="581.8" r="1.85"/><circle cx="630.0" cy="581.8" r="1.85"/><circle cx="632.5" cy="581.8" r="1.85"/><circle cx="635.0" cy="581.8" r="1.85"/><circle cx="637.5" cy="581.8" r="1.85"/><circle cx="640.0" cy="581.8" r="1.85"/><circle cx="650.0" cy="581.8" r="1.85"/><circle cx="653.0" cy="581.8" r="1.85"/><circle cx="628.0" cy="598.7" r="1.85"/><circle cx="630.0" cy="598.7" r="1.85"/><circle cx="618.0" cy="611.0" r="1.85"/><circle cx="620.8" cy="611.0" r="1.85"/><circle cx="623.5" cy="611.0" r="1.85"/><circle cx="626.2" cy="611.0" r="1.85"/><circle cx="629.0" cy="611.0" r="1.85"/><circle cx="631.8" cy="611.0" r="1.85"/><circle cx="634.5" cy="611.0" r="1.85"/><circle cx="637.2" cy="611.0" r="1.85"/><circle cx="640.0" cy="611.0" r="1.85"/><circle cx="620.0" cy="628.3" r="1.85"/><circle cx="622.8" cy="628.3" r="1.85"/><circle cx="625.5" cy="628.3" r="1.85"/><circle cx="628.2" cy="628.3" r="1.85"/><circle cx="631.0" cy="628.3" r="1.85"/><circle cx="633.8" cy="628.3" r="1.85"/><circle cx="636.5" cy="628.3" r="1.85"/><circle cx="639.2" cy="628.3" r="1.85"/><circle cx="642.0" cy="628.3" r="1.85"/><circle cx="628.0" cy="645.4" r="1.85"/><circle cx="630.4" cy="645.4" r="1.85"/><circle cx="632.8" cy="645.4" r="1.85"/><circle cx="635.2" cy="645.4" r="1.85"/><circle cx="637.6" cy="645.4" r="1.85"/><circle cx="640.0" cy="645.4" r="1.85"/><circle cx="650.0" cy="645.4" r="1.85"/><circle cx="653.0" cy="645.4" r="1.85"/><circle cx="630.0" cy="658.1" r="1.85"/><circle cx="632.5" cy="658.1" r="1.85"/><circle cx="635.0" cy="658.1" r="1.85"/><circle cx="637.5" cy="658.1" r="1.85"/><circle cx="640.0" cy="658.1" r="1.85"/><circle cx="640.0" cy="662.2" r="1.85"/><circle cx="642.7" cy="662.2" r="1.85"/><circle cx="645.3" cy="662.2" r="1.85"/><circle cx="648.0" cy="662.2" r="1.85"/><circle cx="636.0" cy="683.3" r="1.85"/><circle cx="638.0" cy="683.3" r="1.85"/><circle cx="640.0" cy="683.3" r="1.85"/><circle cx="632.0" cy="691.6" r="1.85"/><circle cx="634.7" cy="691.6" r="1.85"/><circle cx="637.3" cy="691.6" r="1.85"/><circle cx="640.0" cy="691.6" r="1.85"/><circle cx="591.0" cy="741.7" r="1.85"/><circle cx="594.0" cy="741.7" r="1.85"/><circle cx="597.0" cy="741.7" r="1.85"/><circle cx="619.0" cy="741.7" r="1.85"/><circle cx="622.0" cy="741.7" r="1.85"/><circle cx="625.0" cy="741.7" r="1.85"/><circle cx="630.0" cy="741.7" r="1.85"/><circle cx="632.5" cy="741.7" r="1.85"/><circle cx="635.0" cy="741.7" r="1.85"/><circle cx="637.5" cy="741.7" r="1.85"/><circle cx="640.0" cy="741.7" r="1.85"/><circle cx="642.5" cy="741.7" r="1.85"/><circle cx="645.0" cy="741.7" r="1.85"/><circle cx="647.5" cy="741.7" r="1.85"/><circle cx="650.0" cy="741.7" r="1.85"/><circle cx="652.5" cy="741.7" r="1.85"/><circle cx="655.0" cy="741.7" r="1.85"/><circle cx="620.0" cy="751.2" r="1.85"/><circle cx="623.0" cy="751.2" r="1.85"/><circle cx="631.0" cy="768.0" r="1.85"/><circle cx="633.7" cy="768.0" r="1.85"/><circle cx="636.4" cy="768.0" r="1.85"/><circle cx="639.1" cy="768.0" r="1.85"/><circle cx="641.9" cy="768.0" r="1.85"/><circle cx="644.6" cy="768.0" r="1.85"/><circle cx="647.3" cy="768.0" r="1.85"/><circle cx="650.0" cy="768.0" r="1.85"/><circle cx="612.0" cy="776.3" r="1.85"/><circle cx="615.0" cy="776.3" r="1.85"/><circle cx="618.0" cy="776.3" r="1.85"/><circle cx="608.0" cy="780.0" r="1.85"/><circle cx="610.6" cy="780.0" r="1.85"/><circle cx="613.2" cy="780.0" r="1.85"/><circle cx="615.8" cy="780.0" r="1.85"/><circle cx="618.4" cy="780.0" r="1.85"/><circle cx="621.1" cy="780.0" r="1.85"/><circle cx="623.7" cy="780.0" r="1.85"/><circle cx="626.3" cy="780.0" r="1.85"/><circle cx="628.9" cy="780.0" r="1.85"/><circle cx="631.5" cy="780.0" r="1.85"/><circle cx="634.1" cy="780.0" r="1.85"/><circle cx="636.7" cy="780.0" r="1.85"/><circle cx="639.3" cy="780.0" r="1.85"/><circle cx="641.9" cy="780.0" r="1.85"/><circle cx="644.6" cy="780.0" r="1.85"/><circle cx="647.2" cy="780.0" r="1.85"/><circle cx="649.8" cy="780.0" r="1.85"/><circle cx="652.4" cy="780.0" r="1.85"/><circle cx="655.0" cy="780.0" r="1.85"/></g>
<circle cx="618.1" cy="433.9" r="2.35" fill="#1f70f0" stroke="#174fb0" stroke-width="0.6"/>
<circle cx="626.6" cy="438.3" r="2.35" fill="#1f70f0" stroke="#174fb0" stroke-width="0.6"/>
<circle cx="590.0" cy="442.5" r="2.35" fill="#1f70f0" stroke="#174fb0" stroke-width="0.6"/>
<circle cx="579.6" cy="446.6" r="2.35" fill="#1f70f0" stroke="#174fb0" stroke-width="0.6"/>
<circle cx="604.3" cy="450.6" r="2.35" fill="#1f70f0" stroke="#174fb0" stroke-width="0.6"/>
<circle cx="593.4" cy="455.4" r="2.35" fill="#1f70f0" stroke="#174fb0" stroke-width="0.6"/>
<circle cx="627.7" cy="459.3" r="2.35" fill="#1f70f0" stroke="#174fb0" stroke-width="0.6"/>
<circle cx="543.4" cy="463.5" r="2.35" fill="#1f70f0" stroke="#174fb0" stroke-width="0.6"/>
<circle cx="608.2" cy="467.9" r="2.35" fill="#1f70f0" stroke="#174fb0" stroke-width="0.6"/>
<circle cx="617.0" cy="475.5" r="2.35" fill="#1f70f0" stroke="#174fb0" stroke-width="0.6"/>
<circle cx="562.3" cy="480.1" r="2.35" fill="#1f70f0" stroke="#174fb0" stroke-width="0.6"/>
<circle cx="516.6" cy="484.6" r="2.35" fill="#1f70f0" stroke="#174fb0" stroke-width="0.6"/>
<circle cx="602.1" cy="488.9" r="2.35" fill="#1f70f0" stroke="#174fb0" stroke-width="0.6"/>
<circle cx="614.8" cy="493.3" r="2.35" fill="#1f70f0" stroke="#174fb0" stroke-width="0.6"/>
<circle cx="635.4" cy="497.6" r="2.35" fill="#1f70f0" stroke="#174fb0" stroke-width="0.6"/>
<circle cx="605.4" cy="501.8" r="2.35" fill="#1f70f0" stroke="#174fb0" stroke-width="0.6"/>
<circle cx="604.3" cy="505.7" r="2.35" fill="#1f70f0" stroke="#174fb0" stroke-width="0.6"/>
<circle cx="623.4" cy="510.1" r="2.35" fill="#1f70f0" stroke="#174fb0" stroke-width="0.6"/>
<circle cx="591.2" cy="513.9" r="2.35" fill="#1f70f0" stroke="#174fb0" stroke-width="0.6"/>
<circle cx="606.5" cy="518.3" r="2.35" fill="#1f70f0" stroke="#174fb0" stroke-width="0.6"/>
<circle cx="614.2" cy="522.7" r="2.35" fill="#1f70f0" stroke="#174fb0" stroke-width="0.6"/>
<circle cx="591.2" cy="526.9" r="2.35" fill="#1f70f0" stroke="#174fb0" stroke-width="0.6"/>
<circle cx="591.2" cy="531.2" r="2.35" fill="#1f70f0" stroke="#174fb0" stroke-width="0.6"/>
<circle cx="591.2" cy="535.4" r="2.35" fill="#1f70f0" stroke="#174fb0" stroke-width="0.6"/>
<circle cx="629.0" cy="539.6" r="2.35" fill="#1f70f0" stroke="#174fb0" stroke-width="0.6"/>
<circle cx="630.1" cy="543.9" r="2.35" fill="#1f70f0" stroke="#174fb0" stroke-width="0.6"/>
<circle cx="636.7" cy="547.9" r="2.35" fill="#1f70f0" stroke="#174fb0" stroke-width="0.6"/>
<circle cx="581.3" cy="552.3" r="2.35" fill="#1f70f0" stroke="#174fb0" stroke-width="0.6"/>
<circle cx="615.9" cy="556.6" r="2.35" fill="#1f70f0" stroke="#174fb0" stroke-width="0.6"/>
<circle cx="636.7" cy="560.8" r="2.35" fill="#1f70f0" stroke="#174fb0" stroke-width="0.6"/>
<circle cx="627.3" cy="564.7" r="2.35" fill="#1f70f0" stroke="#174fb0" stroke-width="0.6"/>
<circle cx="614.2" cy="569.1" r="2.35" fill="#1f70f0" stroke="#174fb0" stroke-width="0.6"/>
<circle cx="585.7" cy="573.5" r="2.35" fill="#1f70f0" stroke="#174fb0" stroke-width="0.6"/>
<circle cx="608.7" cy="577.9" r="2.35" fill="#1f70f0" stroke="#174fb0" stroke-width="0.6"/>
<circle cx="598.8" cy="581.8" r="2.35" fill="#1f70f0" stroke="#174fb0" stroke-width="0.6"/>
<circle cx="620.3" cy="586.2" r="2.35" fill="#1f70f0" stroke="#174fb0" stroke-width="0.6"/>
<circle cx="567.7" cy="590.6" r="2.35" fill="#1f70f0" stroke="#174fb0" stroke-width="0.6"/>
<circle cx="534.2" cy="594.7" r="2.35" fill="#1f70f0" stroke="#174fb0" stroke-width="0.6"/>
<circle cx="570.8" cy="598.7" r="2.35" fill="#1f70f0" stroke="#174fb0" stroke-width="0.6"/>
<circle cx="585.0" cy="603.3" r="2.35" fill="#1f70f0" stroke="#174fb0" stroke-width="0.6"/>
<circle cx="614.8" cy="607.0" r="2.35" fill="#1f70f0" stroke="#174fb0" stroke-width="0.6"/>
<circle cx="598.8" cy="611.0" r="2.35" fill="#1f70f0" stroke="#174fb0" stroke-width="0.6"/>
<circle cx="619.2" cy="615.8" r="2.35" fill="#1f70f0" stroke="#174fb0" stroke-width="0.6"/>
<circle cx="614.2" cy="620.2" r="2.35" fill="#1f70f0" stroke="#174fb0" stroke-width="0.6"/>
<circle cx="612.0" cy="624.1" r="2.35" fill="#1f70f0" stroke="#174fb0" stroke-width="0.6"/>
<circle cx="589.4" cy="628.3" r="2.35" fill="#1f70f0" stroke="#174fb0" stroke-width="0.6"/>
<circle cx="624.4" cy="632.7" r="2.35" fill="#1f70f0" stroke="#174fb0" stroke-width="0.6"/>
<circle cx="618.1" cy="636.6" r="2.35" fill="#1f70f0" stroke="#174fb0" stroke-width="0.6"/>
<circle cx="598.8" cy="641.0" r="2.35" fill="#1f70f0" stroke="#174fb0" stroke-width="0.6"/>
<circle cx="590.0" cy="645.4" r="2.35" fill="#1f70f0" stroke="#174fb0" stroke-width="0.6"/>
<circle cx="578.0" cy="649.7" r="2.35" fill="#1f70f0" stroke="#174fb0" stroke-width="0.6"/>
<circle cx="604.3" cy="653.7" r="2.35" fill="#1f70f0" stroke="#174fb0" stroke-width="0.6"/>
<circle cx="621.4" cy="658.1" r="2.35" fill="#1f70f0" stroke="#174fb0" stroke-width="0.6"/>
<circle cx="578.0" cy="662.2" r="2.35" fill="#1f70f0" stroke="#174fb0" stroke-width="0.6"/>
<circle cx="642.2" cy="666.6" r="2.35" fill="#1f70f0" stroke="#174fb0" stroke-width="0.6"/>
<circle cx="631.2" cy="670.5" r="2.35" fill="#1f70f0" stroke="#174fb0" stroke-width="0.6"/>
<circle cx="578.0" cy="674.9" r="2.35" fill="#1f70f0" stroke="#174fb0" stroke-width="0.6"/>
<circle cx="604.3" cy="679.3" r="2.35" fill="#1f70f0" stroke="#174fb0" stroke-width="0.6"/>
<circle cx="608.7" cy="683.3" r="2.35" fill="#1f70f0" stroke="#174fb0" stroke-width="0.6"/>
<circle cx="626.9" cy="687.7" r="2.35" fill="#1f70f0" stroke="#174fb0" stroke-width="0.6"/>
<circle cx="594.4" cy="691.6" r="2.35" fill="#1f70f0" stroke="#174fb0" stroke-width="0.6"/>
<circle cx="621.2" cy="696.0" r="2.35" fill="#1f70f0" stroke="#174fb0" stroke-width="0.6"/>
<circle cx="613.7" cy="700.4" r="2.35" fill="#1f70f0" stroke="#174fb0" stroke-width="0.6"/>
<circle cx="642.0" cy="704.5" r="2.35" fill="#1f70f0" stroke="#174fb0" stroke-width="0.6"/>
<circle cx="562.0" cy="708.5" r="2.35" fill="#1f70f0" stroke="#174fb0" stroke-width="0.6"/>
<circle cx="562.0" cy="713.3" r="2.35" fill="#1f70f0" stroke="#174fb0" stroke-width="0.6"/>
<circle cx="601.0" cy="717.2" r="2.35" fill="#1f70f0" stroke="#174fb0" stroke-width="0.6"/>
<circle cx="633.2" cy="721.2" r="2.35" fill="#1f70f0" stroke="#174fb0" stroke-width="0.6"/>
<circle cx="583.5" cy="725.5" r="2.35" fill="#1f70f0" stroke="#174fb0" stroke-width="0.6"/>
<circle cx="583.5" cy="730.0" r="2.35" fill="#1f70f0" stroke="#174fb0" stroke-width="0.6"/>
<circle cx="562.3" cy="734.1" r="2.35" fill="#1f70f0" stroke="#174fb0" stroke-width="0.6"/>
<circle cx="607.1" cy="738.0" r="2.35" fill="#1f70f0" stroke="#174fb0" stroke-width="0.6"/>
<circle cx="551.3" cy="741.7" r="2.35" fill="#1f70f0" stroke="#174fb0" stroke-width="0.6"/>
<circle cx="619.2" cy="746.8" r="2.35" fill="#1f70f0" stroke="#174fb0" stroke-width="0.6"/>
<circle cx="611.5" cy="751.2" r="2.35" fill="#1f70f0" stroke="#174fb0" stroke-width="0.6"/>
<circle cx="586.1" cy="755.5" r="2.35" fill="#1f70f0" stroke="#174fb0" stroke-width="0.6"/>
<circle cx="601.0" cy="759.4" r="2.35" fill="#1f70f0" stroke="#174fb0" stroke-width="0.6"/>
<circle cx="598.8" cy="763.6" r="2.35" fill="#1f70f0" stroke="#174fb0" stroke-width="0.6"/>
<circle cx="598.8" cy="768.0" r="2.35" fill="#1f70f0" stroke="#174fb0" stroke-width="0.6"/>
<circle cx="598.8" cy="772.4" r="2.35" fill="#1f70f0" stroke="#174fb0" stroke-width="0.6"/>
<circle cx="539.0" cy="776.3" r="2.35" fill="#1f70f0" stroke="#174fb0" stroke-width="0.6"/>
<circle cx="585.0" cy="780.0" r="2.35" fill="#fcd55c" stroke="#b59a3a" stroke-width="0.6"/>
<circle cx="638.2" cy="785.1" r="2.35" fill="#fcd55c" stroke="#b59a3a" stroke-width="0.6"/>
<circle cx="623.6" cy="789.4" r="2.35" fill="#fcd55c" stroke="#b59a3a" stroke-width="0.6"/>
<circle cx="620.3" cy="793.2" r="2.35" fill="#f4561f" stroke="#a83a14" stroke-width="0.6"/>
<circle cx="644.4" cy="472.4" r="2.35" fill="#1f70f0" stroke="#174fb0" stroke-width="0.6"/>
<g font-size="6.6" fill="#0a0a0a" stroke="#0a0a0a" stroke-width="0.12"><text x="583.4" y="440.6" text-anchor="middle">97</text><text x="570.0" y="445.2" text-anchor="middle">100</text><text x="597.7" y="452.9" text-anchor="middle">92</text><text x="584.3" y="457.7" text-anchor="middle">100</text><text x="536.0" y="462.5" text-anchor="middle">25</text><text x="599.0" y="466.4" text-anchor="middle">100</text><text x="607.5" y="476.9" text-anchor="middle">100</text><text x="592.0" y="487.7" text-anchor="middle">100</text><text x="596.0" y="500.3" text-anchor="middle">100</text><text x="594.5" y="507.6" text-anchor="middle">100</text><text x="616.5" y="511.8" text-anchor="middle">82</text><text x="603.4" y="525.9" text-anchor="middle">100</text><text x="583.8" y="527.2" text-anchor="middle">99</text><text x="583.8" y="533.1" text-anchor="middle">97</text><text x="581.4" y="538.1" text-anchor="middle">100</text><text x="618.8" y="541.9" text-anchor="middle">82</text><text x="621.0" y="550.0" text-anchor="middle">100</text><text x="606.5" y="559.8" text-anchor="middle">100</text><text x="607.0" y="567.5" text-anchor="middle">98</text><text x="578.2" y="571.9" text-anchor="middle">99</text><text x="599.5" y="580.2" text-anchor="middle">100</text><text x="560.0" y="588.9" text-anchor="middle">56</text><text x="523.0" y="593.3" text-anchor="middle">100</text><text x="561.3" y="602.8" text-anchor="middle">100</text><text x="576.0" y="606.5" text-anchor="middle">100</text><text x="606.3" y="610.4" text-anchor="middle">100</text><text x="604.2" y="618.5" text-anchor="middle">100</text><text x="601.7" y="625.3" text-anchor="middle">100</text><text x="608.7" y="635.6" text-anchor="middle">100</text><text x="583.0" y="643.7" text-anchor="middle">97</text><text x="569.2" y="648.8" text-anchor="middle">100</text><text x="611.5" y="656.0" text-anchor="middle">100</text><text x="629.5" y="667.4" text-anchor="middle">100</text><text x="618.5" y="671.7" text-anchor="middle">100</text><text x="570.3" y="673.5" text-anchor="middle">99</text><text x="601.0" y="676.1" text-anchor="middle">100</text><text x="598.0" y="685.5" text-anchor="middle">100</text><text x="617.8" y="690.0" text-anchor="middle">97</text><text x="585.0" y="692.8" text-anchor="middle">100</text><text x="612.2" y="697.6" text-anchor="middle">100</text><text x="607.2" y="702.4" text-anchor="middle">42</text><text x="633.0" y="707.5" text-anchor="middle">100</text><text x="554.5" y="709.0" text-anchor="middle">46</text><text x="552.3" y="715.6" text-anchor="middle">100</text><text x="591.3" y="715.6" text-anchor="middle">100</text><text x="623.6" y="720.0" text-anchor="middle">100</text><text x="576.3" y="725.0" text-anchor="middle">99</text><text x="580.0" y="732.3" text-anchor="middle">100</text><text x="552.3" y="733.1" text-anchor="middle">100</text><text x="599.3" y="739.7" text-anchor="middle">98</text><text x="543.8" y="740.3" text-anchor="middle">43</text><text x="604.0" y="752.3" text-anchor="middle">94</text><text x="578.2" y="753.5" text-anchor="middle">97</text><text x="590.9" y="765.9" text-anchor="middle">98</text><text x="589.3" y="773.8" text-anchor="middle">100</text><text x="529.5" y="774.7" text-anchor="middle">100</text><text x="577.3" y="778.6" text-anchor="middle">99</text><text x="613.2" y="791.7" text-anchor="middle">70</text></g>
<text x="0.30" y="14.20" font-size="15.5" font-weight="bold" fill="#111">a)</text>
<text x="38.00" y="16.80" font-size="15.6" font-weight="bold" fill="#222">Alpha</text>
<rect x="36.00" y="24.30" width="366.90" height="364.10" fill="none" stroke="#1a1a1a" stroke-width="1.8"/>
<circle cx="45.30" cy="33.40" r="5.50" fill="#1a7cff"/>
<text x="54.50" y="37.60" font-size="11.9" fill="#1a1a1a">New York/New Jersey</text>
<circle cx="45.30" cy="46.53" r="5.50" fill="#ff5e2a"/>
<text x="54.50" y="50.73" font-size="11.9" fill="#1a1a1a">International</text>
<circle cx="45.30" cy="59.66" r="5.50" fill="#ffdf66"/>
<text x="54.50" y="63.86" font-size="11.9" fill="#1a1a1a">Domestic</text>
<circle cx="45.30" cy="72.79" r="5.50" fill="#7cfcf0"/>
<text x="54.50" y="76.99" font-size="11.9" fill="#1a1a1a">Connecticut</text>
<line x1="45.40" y1="378.40" x2="105.80" y2="378.40" stroke="#333" stroke-width="1.0"/>
<line x1="45.40" y1="376.20" x2="45.40" y2="380.60" stroke="#333" stroke-width="1.0"/>
<line x1="105.80" y1="376.20" x2="105.80" y2="380.60" stroke="#333" stroke-width="1.0"/>
<text x="45.40" y="375.80" font-size="9.3" fill="#222">1 month</text>
<text x="33.70" y="401.30" font-size="10.75" fill="#1a1a1a">2020-Nov</text>
<text x="101.20" y="401.30" font-size="10.75" fill="#1a1a1a">2020-Dec</text>
<text x="169.40" y="401.30" font-size="10.75" fill="#1a1a1a">2021-Jan</text>
<text x="236.30" y="401.30" font-size="10.75" fill="#1a1a1a">2021-Feb</text>
<text x="303.40" y="401.30" font-size="10.75" fill="#1a1a1a">2021-Mar</text>
<text x="372.50" y="401.30" font-size="10.75" fill="#1a1a1a">2021-Apr</text>
<rect x="451.50" y="25.50" width="214.00" height="361.10" fill="none" stroke="#808080" stroke-width="1.0"/>
<line x1="463.10" y1="43.00" x2="524.20" y2="43.00" stroke="#333" stroke-width="1.0"/>
<line x1="463.10" y1="40.80" x2="463.10" y2="45.20" stroke="#333" stroke-width="1.0"/>
<line x1="524.20" y1="40.80" x2="524.20" y2="45.20" stroke="#333" stroke-width="1.0"/>
<text x="463.10" y="40.70" font-size="9.3" fill="#222">1 month</text>
<text x="465.80" y="400.50" font-size="10.75" fill="#1a1a1a">2020-Dec</text>
<text x="524.00" y="400.50" font-size="10.75" fill="#1a1a1a">2021-Jan</text>
<text x="581.30" y="400.50" font-size="10.75" fill="#1a1a1a">2021-Feb</text>
<text x="638.50" y="400.50" font-size="10.75" fill="#1a1a1a">2021-Mar</text>
<text x="1.00" y="421.00" font-size="15.5" font-weight="bold" fill="#111">b)</text>
<text x="38.50" y="423.40" font-size="15.3" font-weight="bold" fill="#222">Iota</text>
<rect x="30.65" y="429.60" width="365.10" height="362.25" fill="none" stroke="#1a1a1a" stroke-width="1.8"/>
<circle cx="40.70" cy="439.00" r="5.50" fill="#1a7cff"/>
<text x="49.90" y="443.20" font-size="11.9" fill="#1a1a1a">New York/New Jersey</text>
<circle cx="40.70" cy="452.25" r="5.50" fill="#ff5e2a"/>
<text x="49.90" y="456.45" font-size="11.9" fill="#1a1a1a">International</text>
<circle cx="40.70" cy="465.50" r="5.50" fill="#ffdf66"/>
<text x="49.90" y="469.70" font-size="11.9" fill="#1a1a1a">Domestic</text>
<circle cx="40.70" cy="478.75" r="5.50" fill="#7cfcf0"/>
<text x="49.90" y="482.95" font-size="11.9" fill="#1a1a1a">Connecticut</text>
<line x1="44.50" y1="784.30" x2="105.80" y2="784.30" stroke="#333" stroke-width="1.0"/>
<line x1="44.50" y1="782.10" x2="44.50" y2="786.50" stroke="#333" stroke-width="1.0"/>
<line x1="105.80" y1="782.10" x2="105.80" y2="786.50" stroke="#333" stroke-width="1.0"/>
<text x="45.40" y="781.60" font-size="9.3" fill="#222">1 month</text>
<text x="31.30" y="806.70" font-size="10.75" fill="#1a1a1a">2020-Nov</text>
<text x="98.80" y="806.70" font-size="10.75" fill="#1a1a1a">2020-Dec</text>
<text x="167.10" y="806.70" font-size="10.75" fill="#1a1a1a">2021-Jan</text>
<text x="233.80" y="806.70" font-size="10.75" fill="#1a1a1a">2021-Feb</text>
<text x="301.20" y="806.70" font-size="10.75" fill="#1a1a1a">2021-Mar</text>
<text x="370.20" y="806.70" font-size="10.75" fill="#1a1a1a">2021-Apr</text>
<rect x="449.80" y="429.40" width="216.20" height="365.80" fill="none" stroke="#808080" stroke-width="1.0"/>
<line x1="458.60" y1="449.10" x2="519.40" y2="449.10" stroke="#333" stroke-width="1.0"/>
<line x1="458.60" y1="446.90" x2="458.60" y2="451.30" stroke="#333" stroke-width="1.0"/>
<line x1="519.40" y1="446.90" x2="519.40" y2="451.30" stroke="#333" stroke-width="1.0"/>
<text x="458.60" y="446.70" font-size="9.3" fill="#222">1 month</text>
<text x="457.90" y="806.40" font-size="10.75" fill="#1a1a1a">2020-Dec</text>
<text x="516.20" y="806.40" font-size="10.75" fill="#1a1a1a">2021-Jan</text>
<text x="573.40" y="806.40" font-size="10.75" fill="#1a1a1a">2021-Feb</text>
<text x="631.30" y="806.40" font-size="10.75" fill="#1a1a1a">2021-Mar</text>
<text x="1.00" y="830.80" font-size="15.5" font-weight="bold" fill="#111">c)</text>
<line x1="34.30" y1="839.70" x2="354.00" y2="839.70" stroke="#222" stroke-width="1.2"/>
<line x1="354.00" y1="839.70" x2="354.00" y2="917.00" stroke="#222" stroke-width="1.2"/>
<line x1="34.30" y1="839.70" x2="34.30" y2="917.00" stroke="#222" stroke-width="1.2"/>
<line x1="26.50" y1="917.00" x2="354.00" y2="917.00" stroke="#222" stroke-width="1.2"/>
<line x1="26.50" y1="839.70" x2="34.30" y2="839.70" stroke="#222" stroke-width="1.1"/>
<text x="25.00" y="843.30" font-size="10.3" text-anchor="end" fill="#222">15</text>
<line x1="26.50" y1="865.47" x2="34.30" y2="865.47" stroke="#222" stroke-width="1.1"/>
<text x="25.00" y="869.07" font-size="10.3" text-anchor="end" fill="#222">10</text>
<line x1="26.50" y1="891.23" x2="34.30" y2="891.23" stroke="#222" stroke-width="1.1"/>
<text x="25.00" y="894.83" font-size="10.3" text-anchor="end" fill="#222">5</text>
<line x1="26.50" y1="917.00" x2="34.30" y2="917.00" stroke="#222" stroke-width="1.1"/>
<text x="25.00" y="920.60" font-size="10.3" text-anchor="end" fill="#222">0</text>
<line x1="65.70" y1="917.00" x2="65.70" y2="924.00" stroke="#222" stroke-width="1.1"/>
<line x1="134.00" y1="917.00" x2="134.00" y2="924.00" stroke="#222" stroke-width="1.1"/>
<line x1="202.20" y1="917.00" x2="202.20" y2="924.00" stroke="#222" stroke-width="1.1"/>
<line x1="270.10" y1="917.00" x2="270.10" y2="924.00" stroke="#222" stroke-width="1.1"/>
<line x1="338.10" y1="917.00" x2="338.10" y2="924.00" stroke="#222" stroke-width="1.1"/>
<text x="8.60" y="885.00" font-size="10.1" text-anchor="middle" fill="#222" transform="rotate(-90 8.6 885.0)">No. introductions</text>
<rect x="40.90" y="845.20" width="20.60" height="4.80" fill="#2f7ef2" stroke="#333" stroke-width="0.8"/>
<text x="73.60" y="851.20" font-size="10.2" fill="#222">New York/New Jersey</text>
<rect x="40.90" y="857.60" width="20.60" height="4.20" fill="#ff6a3a" stroke="#333" stroke-width="0.8"/>
<text x="73.60" y="863.30" font-size="10.2" fill="#222">International</text>
<rect x="40.90" y="870.20" width="20.60" height="4.70" fill="#efe3a0" stroke="#333" stroke-width="0.8"/>
<text x="73.60" y="876.15" font-size="10.2" fill="#222">Domestic</text>
<text x="309.80" y="860.80" font-size="15.6" fill="#222">Alpha</text>
<rect x="110.40" y="912.10" width="14.00" height="4.90" fill="#2f7ef2" stroke="#222" stroke-width="0.9"/>
<rect x="127.40" y="912.10" width="14.00" height="4.90" fill="#2f7ef2" stroke="#222" stroke-width="0.9"/>
<rect x="127.40" y="907.00" width="14.00" height="5.10" fill="#ff6a3a" stroke="#222" stroke-width="0.9"/>
<rect x="127.40" y="901.70" width="14.00" height="5.30" fill="#efe3a0" stroke="#222" stroke-width="0.9"/>
<rect x="144.50" y="912.10" width="14.00" height="4.90" fill="#2f7ef2" stroke="#222" stroke-width="0.9"/>
<rect x="144.50" y="907.00" width="14.00" height="5.10" fill="#ff6a3a" stroke="#222" stroke-width="0.9"/>
<rect x="178.60" y="910.10" width="14.00" height="6.90" fill="#2f7ef2" stroke="#222" stroke-width="0.9"/>
<rect x="178.60" y="903.20" width="14.00" height="6.90" fill="#ff6a3a" stroke="#222" stroke-width="0.9"/>
<rect x="178.60" y="896.80" width="14.00" height="6.40" fill="#efe3a0" stroke="#222" stroke-width="0.9"/>
<rect x="195.50" y="912.10" width="14.00" height="4.90" fill="#2f7ef2" stroke="#222" stroke-width="0.9"/>
<rect x="195.50" y="902.40" width="14.00" height="9.70" fill="#ff6a3a" stroke="#222" stroke-width="0.9"/>
<rect x="212.70" y="907.40" width="14.00" height="9.60" fill="#2f7ef2" stroke="#222" stroke-width="0.9"/>
<rect x="212.70" y="902.40" width="14.00" height="5.00" fill="#ff6a3a" stroke="#222" stroke-width="0.9"/>
<rect x="212.70" y="896.80" width="14.00" height="5.60" fill="#efe3a0" stroke="#222" stroke-width="0.9"/>
<rect x="229.30" y="912.00" width="14.00" height="5.00" fill="#2f7ef2" stroke="#222" stroke-width="0.9"/>
<rect x="229.30" y="907.40" width="14.00" height="4.60" fill="#ff6a3a" stroke="#222" stroke-width="0.9"/>
<rect x="229.30" y="902.20" width="14.00" height="5.20" fill="#efe3a0" stroke="#222" stroke-width="0.9"/>
<rect x="246.80" y="897.40" width="14.00" height="19.60" fill="#2f7ef2" stroke="#222" stroke-width="0.9"/>
<rect x="246.80" y="891.30" width="14.00" height="6.10" fill="#ff6a3a" stroke="#222" stroke-width="0.9"/>
<rect x="264.00" y="912.00" width="14.00" height="5.00" fill="#2f7ef2" stroke="#222" stroke-width="0.9"/>
<rect x="264.00" y="896.80" width="14.00" height="15.20" fill="#efe3a0" stroke="#222" stroke-width="0.9"/>
<rect x="280.70" y="912.00" width="14.00" height="5.00" fill="#2f7ef2" stroke="#222" stroke-width="0.9"/>
<rect x="280.70" y="907.00" width="14.00" height="5.00" fill="#ff6a3a" stroke="#222" stroke-width="0.9"/>
<rect x="280.70" y="902.40" width="14.00" height="4.60" fill="#efe3a0" stroke="#222" stroke-width="0.9"/>
<rect x="297.30" y="902.40" width="14.00" height="14.60" fill="#2f7ef2" stroke="#222" stroke-width="0.9"/>
<rect x="297.30" y="897.40" width="14.00" height="5.00" fill="#ff6a3a" stroke="#222" stroke-width="0.9"/>
<rect x="297.30" y="886.60" width="14.00" height="10.80" fill="#efe3a0" stroke="#222" stroke-width="0.9"/>
<rect x="314.50" y="912.00" width="14.00" height="5.00" fill="#2f7ef2" stroke="#222" stroke-width="0.9"/>
<rect x="314.50" y="907.40" width="14.00" height="4.60" fill="#ff6a3a" stroke="#222" stroke-width="0.9"/>
<rect x="314.50" y="902.20" width="14.00" height="5.20" fill="#efe3a0" stroke="#222" stroke-width="0.9"/>
<rect x="331.40" y="912.00" width="14.00" height="5.00" fill="#2f7ef2" stroke="#222" stroke-width="0.9"/>
<rect x="331.40" y="907.40" width="14.00" height="4.60" fill="#ff6a3a" stroke="#222" stroke-width="0.9"/>
<line x1="134.40" y1="898.00" x2="134.40" y2="905.00" stroke="#d9a84a" stroke-width="1.0"/>
<line x1="131.90" y1="898.00" x2="136.90" y2="898.00" stroke="#d9a84a" stroke-width="1.0"/>
<line x1="131.90" y1="905.00" x2="136.90" y2="905.00" stroke="#d9a84a" stroke-width="1.0"/>
<line x1="185.60" y1="904.00" x2="185.60" y2="914.00" stroke="#2255ee" stroke-width="1.0"/>
<line x1="183.10" y1="904.00" x2="188.10" y2="904.00" stroke="#2255ee" stroke-width="1.0"/>
<line x1="183.10" y1="914.00" x2="188.10" y2="914.00" stroke="#2255ee" stroke-width="1.0"/>
<line x1="185.60" y1="893.00" x2="185.60" y2="900.00" stroke="#d9a84a" stroke-width="1.0"/>
<line x1="183.10" y1="893.00" x2="188.10" y2="893.00" stroke="#d9a84a" stroke-width="1.0"/>
<line x1="183.10" y1="900.00" x2="188.10" y2="900.00" stroke="#d9a84a" stroke-width="1.0"/>
<line x1="202.50" y1="905.00" x2="202.50" y2="915.00" stroke="#2255ee" stroke-width="1.0"/>
<line x1="200.00" y1="905.00" x2="205.00" y2="905.00" stroke="#2255ee" stroke-width="1.0"/>
<line x1="200.00" y1="915.00" x2="205.00" y2="915.00" stroke="#2255ee" stroke-width="1.0"/>
<line x1="219.70" y1="906.00" x2="219.70" y2="915.00" stroke="#2255ee" stroke-width="1.0"/>
<line x1="217.20" y1="906.00" x2="222.20" y2="906.00" stroke="#2255ee" stroke-width="1.0"/>
<line x1="217.20" y1="915.00" x2="222.20" y2="915.00" stroke="#2255ee" stroke-width="1.0"/>
<line x1="219.70" y1="893.50" x2="219.70" y2="899.00" stroke="#d9a84a" stroke-width="1.0"/>
<line x1="217.20" y1="893.50" x2="222.20" y2="893.50" stroke="#d9a84a" stroke-width="1.0"/>
<line x1="217.20" y1="899.00" x2="222.20" y2="899.00" stroke="#d9a84a" stroke-width="1.0"/>
<line x1="236.30" y1="901.00" x2="236.30" y2="913.00" stroke="#2255ee" stroke-width="1.0"/>
<line x1="233.80" y1="901.00" x2="238.80" y2="901.00" stroke="#2255ee" stroke-width="1.0"/>
<line x1="233.80" y1="913.00" x2="238.80" y2="913.00" stroke="#2255ee" stroke-width="1.0"/>
<line x1="236.30" y1="894.00" x2="236.30" y2="903.00" stroke="#d9a84a" stroke-width="1.0"/>
<line x1="233.80" y1="894.00" x2="238.80" y2="894.00" stroke="#d9a84a" stroke-width="1.0"/>
<line x1="233.80" y1="903.00" x2="238.80" y2="903.00" stroke="#d9a84a" stroke-width="1.0"/>
<line x1="253.80" y1="886.00" x2="253.80" y2="912.00" stroke="#2255ee" stroke-width="1.0"/>
<line x1="251.30" y1="886.00" x2="256.30" y2="886.00" stroke="#2255ee" stroke-width="1.0"/>
<line x1="251.30" y1="912.00" x2="256.30" y2="912.00" stroke="#2255ee" stroke-width="1.0"/>
<line x1="253.80" y1="881.00" x2="253.80" y2="888.00" stroke="#c0703a" stroke-width="1.0"/>
<line x1="251.30" y1="881.00" x2="256.30" y2="881.00" stroke="#c0703a" stroke-width="1.0"/>
<line x1="251.30" y1="888.00" x2="256.30" y2="888.00" stroke="#c0703a" stroke-width="1.0"/>
<line x1="271.00" y1="906.00" x2="271.00" y2="914.00" stroke="#2255ee" stroke-width="1.0"/>
<line x1="268.50" y1="906.00" x2="273.50" y2="906.00" stroke="#2255ee" stroke-width="1.0"/>
<line x1="268.50" y1="914.00" x2="273.50" y2="914.00" stroke="#2255ee" stroke-width="1.0"/>
<line x1="271.00" y1="891.00" x2="271.00" y2="902.00" stroke="#d9a84a" stroke-width="1.0"/>
<line x1="268.50" y1="891.00" x2="273.50" y2="891.00" stroke="#d9a84a" stroke-width="1.0"/>
<line x1="268.50" y1="902.00" x2="273.50" y2="902.00" stroke="#d9a84a" stroke-width="1.0"/>
<line x1="287.70" y1="906.00" x2="287.70" y2="913.00" stroke="#2255ee" stroke-width="1.0"/>
<line x1="285.20" y1="906.00" x2="290.20" y2="906.00" stroke="#2255ee" stroke-width="1.0"/>
<line x1="285.20" y1="913.00" x2="290.20" y2="913.00" stroke="#2255ee" stroke-width="1.0"/>
<line x1="287.70" y1="893.00" x2="287.70" y2="901.00" stroke="#d9a84a" stroke-width="1.0"/>
<line x1="285.20" y1="893.00" x2="290.20" y2="893.00" stroke="#d9a84a" stroke-width="1.0"/>
<line x1="285.20" y1="901.00" x2="290.20" y2="901.00" stroke="#d9a84a" stroke-width="1.0"/>
<line x1="304.30" y1="902.00" x2="304.30" y2="910.00" stroke="#2255ee" stroke-width="1.0"/>
<line x1="301.80" y1="902.00" x2="306.80" y2="902.00" stroke="#2255ee" stroke-width="1.0"/>
<line x1="301.80" y1="910.00" x2="306.80" y2="910.00" stroke="#2255ee" stroke-width="1.0"/>
<line x1="304.30" y1="881.00" x2="304.30" y2="889.00" stroke="#d9a84a" stroke-width="1.0"/>
<line x1="301.80" y1="881.00" x2="306.80" y2="881.00" stroke="#d9a84a" stroke-width="1.0"/>
<line x1="301.80" y1="889.00" x2="306.80" y2="889.00" stroke="#d9a84a" stroke-width="1.0"/>
<line x1="321.50" y1="906.00" x2="321.50" y2="914.00" stroke="#2255ee" stroke-width="1.0"/>
<line x1="319.00" y1="906.00" x2="324.00" y2="906.00" stroke="#2255ee" stroke-width="1.0"/>
<line x1="319.00" y1="914.00" x2="324.00" y2="914.00" stroke="#2255ee" stroke-width="1.0"/>
<line x1="304.30" y1="905.00" x2="304.30" y2="913.00" stroke="#d9a84a" stroke-width="1.0"/>
<line x1="301.80" y1="905.00" x2="306.80" y2="905.00" stroke="#d9a84a" stroke-width="1.0"/>
<line x1="301.80" y1="913.00" x2="306.80" y2="913.00" stroke="#d9a84a" stroke-width="1.0"/>
<line x1="35.00" y1="926.70" x2="354.40" y2="926.70" stroke="#222" stroke-width="1.2"/>
<line x1="354.40" y1="926.70" x2="354.40" y2="1004.10" stroke="#222" stroke-width="1.2"/>
<line x1="35.00" y1="926.70" x2="35.00" y2="1004.10" stroke="#222" stroke-width="1.2"/>
<line x1="27.60" y1="1004.10" x2="354.40" y2="1004.10" stroke="#222" stroke-width="1.2"/>
<line x1="27.60" y1="926.70" x2="35.00" y2="926.70" stroke="#222" stroke-width="1.1"/>
<text x="25.50" y="930.30" font-size="10.3" text-anchor="end" fill="#222">20</text>
<line x1="27.60" y1="946.05" x2="35.00" y2="946.05" stroke="#222" stroke-width="1.1"/>
<text x="25.50" y="949.65" font-size="10.3" text-anchor="end" fill="#222">15</text>
<line x1="27.60" y1="965.40" x2="35.00" y2="965.40" stroke="#222" stroke-width="1.1"/>
<text x="25.50" y="969.00" font-size="10.3" text-anchor="end" fill="#222">10</text>
<line x1="27.60" y1="984.75" x2="35.00" y2="984.75" stroke="#222" stroke-width="1.1"/>
<text x="25.50" y="988.35" font-size="10.3" text-anchor="end" fill="#222">5</text>
<line x1="27.60" y1="1004.10" x2="35.00" y2="1004.10" stroke="#222" stroke-width="1.1"/>
<text x="25.50" y="1007.70" font-size="10.3" text-anchor="end" fill="#222">0</text>
<line x1="67.00" y1="1004.10" x2="67.00" y2="1011.70" stroke="#222" stroke-width="1.1"/>
<line x1="135.00" y1="1004.10" x2="135.00" y2="1011.70" stroke="#222" stroke-width="1.1"/>
<line x1="203.00" y1="1004.10" x2="203.00" y2="1011.70" stroke="#222" stroke-width="1.1"/>
<line x1="271.00" y1="1004.10" x2="271.00" y2="1011.70" stroke="#222" stroke-width="1.1"/>
<line x1="338.40" y1="1004.10" x2="338.40" y2="1011.70" stroke="#222" stroke-width="1.1"/>
<text x="67.00" y="1024.00" font-size="10.8" text-anchor="middle" fill="#222">2020-Dec</text>
<text x="135.00" y="1024.00" font-size="10.8" text-anchor="middle" fill="#222">2021-Jan</text>
<text x="203.00" y="1024.00" font-size="10.8" text-anchor="middle" fill="#222">2021-Feb</text>
<text x="270.70" y="1024.00" font-size="10.8" text-anchor="middle" fill="#222">2021-March</text>
<text x="338.50" y="1024.00" font-size="10.8" text-anchor="middle" fill="#222">2021-April</text>
<text x="8.60" y="971.00" font-size="10.1" text-anchor="middle" fill="#222" transform="rotate(-90 8.6 971.0)">No. introductions</text>
<rect x="40.90" y="933.70" width="21.40" height="4.20" fill="#2f7ef2" stroke="#333" stroke-width="0.8"/>
<text x="74.40" y="939.40" font-size="10.2" fill="#222">New York/New Jersey</text>
<rect x="40.90" y="945.70" width="21.40" height="4.50" fill="#efe3a0" stroke="#333" stroke-width="0.8"/>
<text x="74.40" y="951.55" font-size="10.2" fill="#222">Domestic</text>
<rect x="40.90" y="958.90" width="21.40" height="3.70" fill="#ff6a3a" stroke="#333" stroke-width="0.8"/>
<text x="74.40" y="964.35" font-size="10.2" fill="#222">International</text>
<text x="325.00" y="948.30" font-size="15.6" fill="#222">Iota</text>
<rect x="145.30" y="1001.00" width="14.20" height="3.10" fill="#2f7ef2" stroke="#222" stroke-width="0.9"/>
<rect x="178.90" y="1000.80" width="14.20" height="3.30" fill="#2f7ef2" stroke="#222" stroke-width="0.9"/>
<rect x="196.00" y="1000.80" width="14.20" height="3.30" fill="#2f7ef2" stroke="#222" stroke-width="0.9"/>
<rect x="213.30" y="1000.90" width="14.20" height="3.20" fill="#2f7ef2" stroke="#222" stroke-width="0.9"/>
<rect x="230.20" y="995.50" width="14.20" height="8.60" fill="#2f7ef2" stroke="#222" stroke-width="0.9"/>
<rect x="230.20" y="991.30" width="14.20" height="4.20" fill="#efe3a0" stroke="#222" stroke-width="0.9"/>
<rect x="247.40" y="997.70" width="14.20" height="6.40" fill="#2f7ef2" stroke="#222" stroke-width="0.9"/>
<rect x="247.40" y="993.50" width="14.20" height="4.20" fill="#ff6a3a" stroke="#222" stroke-width="0.9"/>
<rect x="247.40" y="989.30" width="14.20" height="4.20" fill="#efe3a0" stroke="#222" stroke-width="0.9"/>
<rect x="264.60" y="985.20" width="14.20" height="18.90" fill="#2f7ef2" stroke="#222" stroke-width="0.9"/>
<rect x="281.20" y="966.30" width="14.20" height="37.80" fill="#2f7ef2" stroke="#222" stroke-width="0.9"/>
<rect x="281.20" y="962.20" width="14.20" height="4.10" fill="#efe3a0" stroke="#222" stroke-width="0.9"/>
<rect x="298.10" y="958.80" width="14.20" height="45.30" fill="#2f7ef2" stroke="#222" stroke-width="0.9"/>
<rect x="298.10" y="954.70" width="14.20" height="4.10" fill="#ff6a3a" stroke="#222" stroke-width="0.9"/>
<rect x="298.10" y="950.50" width="14.20" height="4.20" fill="#efe3a0" stroke="#222" stroke-width="0.9"/>
<rect x="315.30" y="985.20" width="14.20" height="18.90" fill="#2f7ef2" stroke="#222" stroke-width="0.9"/>
<rect x="332.50" y="1000.90" width="14.20" height="3.20" fill="#2f7ef2" stroke="#222" stroke-width="0.9"/>
<line x1="203.20" y1="992.60" x2="203.20" y2="1001.00" stroke="#2255ee" stroke-width="1.0"/>
<line x1="200.00" y1="992.60" x2="206.40" y2="992.60" stroke="#2255ee" stroke-width="1.0"/>
<line x1="200.00" y1="1001.00" x2="206.40" y2="1001.00" stroke="#2255ee" stroke-width="1.0"/>
<line x1="237.40" y1="993.00" x2="237.40" y2="997.00" stroke="#2255ee" stroke-width="1.0"/>
<line x1="234.20" y1="993.00" x2="240.60" y2="993.00" stroke="#2255ee" stroke-width="1.0"/>
<line x1="234.20" y1="997.00" x2="240.60" y2="997.00" stroke="#2255ee" stroke-width="1.0"/>
<line x1="254.60" y1="989.00" x2="254.60" y2="999.00" stroke="#2255ee" stroke-width="1.0"/>
<line x1="251.40" y1="989.00" x2="257.80" y2="989.00" stroke="#2255ee" stroke-width="1.0"/>
<line x1="251.40" y1="999.00" x2="257.80" y2="999.00" stroke="#2255ee" stroke-width="1.0"/>
<line x1="271.70" y1="977.40" x2="271.70" y2="986.00" stroke="#2255ee" stroke-width="1.0"/>
<line x1="268.50" y1="977.40" x2="274.90" y2="977.40" stroke="#2255ee" stroke-width="1.0"/>
<line x1="268.50" y1="986.00" x2="274.90" y2="986.00" stroke="#2255ee" stroke-width="1.0"/>
<line x1="288.30" y1="966.00" x2="288.30" y2="977.00" stroke="#2255ee" stroke-width="1.0"/>
<line x1="285.10" y1="966.00" x2="291.50" y2="966.00" stroke="#2255ee" stroke-width="1.0"/>
<line x1="285.10" y1="977.00" x2="291.50" y2="977.00" stroke="#2255ee" stroke-width="1.0"/>
<line x1="305.30" y1="946.40" x2="305.30" y2="969.40" stroke="#2255ee" stroke-width="1.0"/>
<line x1="302.10" y1="946.40" x2="308.50" y2="946.40" stroke="#2255ee" stroke-width="1.0"/>
<line x1="302.10" y1="969.40" x2="308.50" y2="969.40" stroke="#2255ee" stroke-width="1.0"/>
<line x1="322.50" y1="981.00" x2="322.50" y2="986.00" stroke="#2255ee" stroke-width="1.0"/>
<line x1="319.30" y1="981.00" x2="325.70" y2="981.00" stroke="#2255ee" stroke-width="1.0"/>
<line x1="319.30" y1="986.00" x2="325.70" y2="986.00" stroke="#2255ee" stroke-width="1.0"/>
<text x="358.70" y="831.00" font-size="15.5" font-weight="bold" fill="#111">d)</text>
<rect x="397.10" y="838.50" width="111.20" height="183.70" fill="none" stroke="#222" stroke-width="1.2"/>
<line x1="389.70" y1="838.50" x2="397.10" y2="838.50" stroke="#222" stroke-width="1.1"/>
<text x="386.00" y="842.10" font-size="10.3" text-anchor="end" fill="#222">50</text>
<line x1="389.70" y1="875.24" x2="397.10" y2="875.24" stroke="#222" stroke-width="1.1"/>
<text x="386.00" y="878.84" font-size="10.3" text-anchor="end" fill="#222">45</text>
<line x1="389.70" y1="911.98" x2="397.10" y2="911.98" stroke="#222" stroke-width="1.1"/>
<text x="386.00" y="915.58" font-size="10.3" text-anchor="end" fill="#222">40</text>
<line x1="389.70" y1="948.72" x2="397.10" y2="948.72" stroke="#222" stroke-width="1.1"/>
<text x="386.00" y="952.32" font-size="10.3" text-anchor="end" fill="#222">35</text>
<line x1="389.70" y1="985.46" x2="397.10" y2="985.46" stroke="#222" stroke-width="1.1"/>
<text x="386.00" y="989.06" font-size="10.3" text-anchor="end" fill="#222">30</text>
<line x1="389.70" y1="1022.20" x2="397.10" y2="1022.20" stroke="#222" stroke-width="1.1"/>
<text x="386.00" y="1025.80" font-size="10.3" text-anchor="end" fill="#222">25</text>
<line x1="422.00" y1="1022.20" x2="422.00" y2="1028.40" stroke="#222" stroke-width="1.1"/>
<text x="422.00" y="1042.00" font-size="10.2" text-anchor="middle" fill="#222">Alpha</text>
<line x1="483.20" y1="1022.20" x2="483.20" y2="1028.40" stroke="#222" stroke-width="1.1"/>
<text x="483.20" y="1042.00" font-size="10.2" text-anchor="middle" fill="#222">Iota</text>
<text x="372.20" y="934.10" font-size="10.0" text-anchor="middle" fill="#222" transform="rotate(-90 372.2 934.1)">Total no. introductions</text>
<circle cx="415.70" cy="941.37" r="5.90" fill="#e2bdf5" stroke="#9a9a9a" stroke-width="0.9" fill-opacity="0.9"/>
<circle cx="428.90" cy="941.37" r="5.90" fill="#e2bdf5" stroke="#9a9a9a" stroke-width="0.9" fill-opacity="0.9"/>
<circle cx="418.60" cy="948.72" r="5.90" fill="#e2bdf5" stroke="#9a9a9a" stroke-width="0.9" fill-opacity="0.9"/>
<circle cx="425.00" cy="948.72" r="5.90" fill="#e2bdf5" stroke="#9a9a9a" stroke-width="0.9" fill-opacity="0.9"/>
<circle cx="421.70" cy="992.81" r="5.90" fill="#e2bdf5" stroke="#9a9a9a" stroke-width="0.9" fill-opacity="0.9"/>
<line x1="406.60" y1="948.72" x2="437.60" y2="948.72" stroke="#222" stroke-width="1.3"/>
<line x1="422.00" y1="941.37" x2="422.00" y2="992.81" stroke="#222" stroke-width="1.1"/>
<line x1="416.00" y1="941.37" x2="428.00" y2="941.37" stroke="#222" stroke-width="1.1"/>
<line x1="416.00" y1="992.81" x2="428.00" y2="992.81" stroke="#222" stroke-width="1.1"/>
<circle cx="482.80" cy="860.54" r="5.90" fill="#8070f2" stroke="#9a9a9a" stroke-width="0.9" fill-opacity="0.95"/>
<circle cx="481.00" cy="904.63" r="5.90" fill="#8070f2" stroke="#9a9a9a" stroke-width="0.9" fill-opacity="0.95"/>
<circle cx="475.30" cy="911.98" r="5.90" fill="#8070f2" stroke="#9a9a9a" stroke-width="0.9" fill-opacity="0.95"/>
<circle cx="489.70" cy="911.98" r="5.90" fill="#8070f2" stroke="#9a9a9a" stroke-width="0.9" fill-opacity="0.95"/>
<circle cx="482.50" cy="911.98" r="5.90" fill="#8070f2" stroke="#9a9a9a" stroke-width="0.9" fill-opacity="0.95"/>
<line x1="468.40" y1="911.98" x2="498.90" y2="911.98" stroke="#222" stroke-width="1.3"/>
<line x1="483.20" y1="860.54" x2="483.20" y2="911.98" stroke="#222" stroke-width="1.1"/>
<line x1="477.30" y1="860.54" x2="489.00" y2="860.54" stroke="#222" stroke-width="1.1"/>
<text x="524.70" y="831.00" font-size="15.5" font-weight="bold" fill="#111">e)</text>
<rect x="553.60" y="839.40" width="111.10" height="183.40" fill="none" stroke="#222" stroke-width="1.2"/>
<line x1="546.50" y1="865.70" x2="553.60" y2="865.70" stroke="#222" stroke-width="1.1"/>
<text x="543.60" y="869.30" font-size="10.3" text-anchor="end" fill="#222">3</text>
<line x1="546.50" y1="918.07" x2="553.60" y2="918.07" stroke="#222" stroke-width="1.1"/>
<text x="543.60" y="921.67" font-size="10.3" text-anchor="end" fill="#222">2</text>
<line x1="546.50" y1="970.43" x2="553.60" y2="970.43" stroke="#222" stroke-width="1.1"/>
<text x="543.60" y="974.03" font-size="10.3" text-anchor="end" fill="#222">1</text>
<line x1="546.50" y1="1022.80" x2="553.60" y2="1022.80" stroke="#222" stroke-width="1.1"/>
<text x="543.60" y="1026.40" font-size="10.3" text-anchor="end" fill="#222">0</text>
<line x1="585.10" y1="1022.80" x2="585.10" y2="1029.00" stroke="#222" stroke-width="1.1"/>
<text x="585.10" y="1042.50" font-size="10.2" text-anchor="middle" fill="#222">Alpha</text>
<line x1="633.00" y1="1022.80" x2="633.00" y2="1029.00" stroke="#222" stroke-width="1.1"/>
<text x="633.00" y="1042.50" font-size="10.2" text-anchor="middle" fill="#222">Iota</text>
<text x="531.6" y="934.8" font-size="10.0" text-anchor="middle" fill="#222" transform="rotate(-90 531.6 934.8)">Cluster size (log<tspan font-size="7" dy="2.5">10</tspan><tspan dy="-2.5">)</tspan></text>
<text x="558.30" y="853.00" font-size="9.8" font-style="italic" fill="#222">median:</text>
<text x="584.90" y="872.60" font-size="10.2" font-style="italic" text-anchor="middle" fill="#222">0.845</text>
<text x="635.50" y="872.60" font-size="10.2" font-style="italic" text-anchor="middle" fill="#222">0.650</text>
<circle cx="585.00" cy="891.88" r="4.30" fill="#e2bdf5" stroke="#a6a6a6" stroke-width="0.8"/>
<circle cx="583.56" cy="906.55" r="4.30" fill="#e2bdf5" stroke="#a6a6a6" stroke-width="0.8"/>
<circle cx="585.72" cy="909.16" r="4.30" fill="#e2bdf5" stroke="#a6a6a6" stroke-width="0.8"/>
<circle cx="585.00" cy="931.16" r="4.30" fill="#e2bdf5" stroke="#a6a6a6" stroke-width="0.8"/>
<circle cx="585.00" cy="944.25" r="4.30" fill="#e2bdf5" stroke="#a6a6a6" stroke-width="0.8"/>
<circle cx="584.28" cy="953.68" r="4.30" fill="#e2bdf5" stroke="#a6a6a6" stroke-width="0.8"/>
<circle cx="587.16" cy="957.34" r="4.30" fill="#e2bdf5" stroke="#a6a6a6" stroke-width="0.8"/>
<circle cx="581.40" cy="959.96" r="4.30" fill="#e2bdf5" stroke="#a6a6a6" stroke-width="0.8"/>
<circle cx="588.60" cy="962.58" r="4.30" fill="#e2bdf5" stroke="#a6a6a6" stroke-width="0.8"/>
<circle cx="582.84" cy="965.20" r="4.30" fill="#e2bdf5" stroke="#a6a6a6" stroke-width="0.8"/>
<circle cx="587.16" cy="969.39" r="4.30" fill="#e2bdf5" stroke="#a6a6a6" stroke-width="0.8"/>
<circle cx="579.96" cy="971.48" r="4.30" fill="#e2bdf5" stroke="#a6a6a6" stroke-width="0.8"/>
<circle cx="590.04" cy="973.05" r="4.30" fill="#e2bdf5" stroke="#a6a6a6" stroke-width="0.8"/>
<circle cx="584.28" cy="974.62" r="4.30" fill="#e2bdf5" stroke="#a6a6a6" stroke-width="0.8"/>
<circle cx="577.08" cy="976.72" r="4.30" fill="#e2bdf5" stroke="#a6a6a6" stroke-width="0.8"/>
<circle cx="592.92" cy="977.76" r="4.30" fill="#e2bdf5" stroke="#a6a6a6" stroke-width="0.8"/>
<circle cx="581.40" cy="979.86" r="4.30" fill="#e2bdf5" stroke="#a6a6a6" stroke-width="0.8"/>
<circle cx="588.60" cy="980.91" r="4.30" fill="#e2bdf5" stroke="#a6a6a6" stroke-width="0.8"/>
<circle cx="585.72" cy="983.00" r="4.30" fill="#e2bdf5" stroke="#a6a6a6" stroke-width="0.8"/>
<circle cx="578.52" cy="984.05" r="4.30" fill="#e2bdf5" stroke="#a6a6a6" stroke-width="0.8"/>
<circle cx="591.48" cy="985.10" r="4.30" fill="#e2bdf5" stroke="#a6a6a6" stroke-width="0.8"/>
<circle cx="582.84" cy="986.14" r="4.30" fill="#e2bdf5" stroke="#a6a6a6" stroke-width="0.8"/>
<circle cx="587.16" cy="988.24" r="4.30" fill="#e2bdf5" stroke="#a6a6a6" stroke-width="0.8"/>
<circle cx="575.64" cy="988.76" r="4.30" fill="#e2bdf5" stroke="#a6a6a6" stroke-width="0.8"/>
<circle cx="594.36" cy="989.81" r="4.30" fill="#e2bdf5" stroke="#a6a6a6" stroke-width="0.8"/>
<circle cx="579.96" cy="991.38" r="4.30" fill="#e2bdf5" stroke="#a6a6a6" stroke-width="0.8"/>
<circle cx="590.04" cy="991.38" r="4.30" fill="#e2bdf5" stroke="#a6a6a6" stroke-width="0.8"/>
<circle cx="585.00" cy="993.47" r="4.30" fill="#e2bdf5" stroke="#a6a6a6" stroke-width="0.8"/>
<circle cx="577.08" cy="994.52" r="4.30" fill="#e2bdf5" stroke="#a6a6a6" stroke-width="0.8"/>
<circle cx="592.92" cy="994.52" r="4.30" fill="#e2bdf5" stroke="#a6a6a6" stroke-width="0.8"/>
<circle cx="581.40" cy="996.62" r="4.30" fill="#e2bdf5" stroke="#a6a6a6" stroke-width="0.8"/>
<circle cx="588.60" cy="996.62" r="4.30" fill="#e2bdf5" stroke="#a6a6a6" stroke-width="0.8"/>
<circle cx="576.94" cy="997.66" r="4.30" fill="#e2bdf5" stroke="#a6a6a6" stroke-width="0.8"/>
<circle cx="583.78" cy="997.66" r="4.30" fill="#e2bdf5" stroke="#a6a6a6" stroke-width="0.8"/>
<circle cx="592.63" cy="997.66" r="4.30" fill="#e2bdf5" stroke="#a6a6a6" stroke-width="0.8"/>
<circle cx="595.80" cy="996.62" r="4.30" fill="#e2bdf5" stroke="#a6a6a6" stroke-width="0.8"/>
<circle cx="574.20" cy="995.57" r="4.30" fill="#e2bdf5" stroke="#a6a6a6" stroke-width="0.8"/>
<circle cx="633.00" cy="925.92" r="4.30" fill="#8070f2" stroke="#a6a6a6" stroke-width="0.8"/>
<circle cx="633.00" cy="936.39" r="4.30" fill="#8070f2" stroke="#a6a6a6" stroke-width="0.8"/>
<circle cx="633.50" cy="944.25" r="4.30" fill="#8070f2" stroke="#a6a6a6" stroke-width="0.8"/>
<circle cx="632.50" cy="949.49" r="4.30" fill="#8070f2" stroke="#a6a6a6" stroke-width="0.8"/>
<circle cx="633.00" cy="954.72" r="4.30" fill="#8070f2" stroke="#a6a6a6" stroke-width="0.8"/>
<circle cx="632.00" cy="959.96" r="4.30" fill="#8070f2" stroke="#a6a6a6" stroke-width="0.8"/>
<circle cx="634.00" cy="964.15" r="4.30" fill="#8070f2" stroke="#a6a6a6" stroke-width="0.8"/>
<circle cx="632.50" cy="967.81" r="4.30" fill="#8070f2" stroke="#a6a6a6" stroke-width="0.8"/>
<circle cx="634.50" cy="971.48" r="4.30" fill="#8070f2" stroke="#a6a6a6" stroke-width="0.8"/>
<circle cx="631.50" cy="974.10" r="4.30" fill="#8070f2" stroke="#a6a6a6" stroke-width="0.8"/>
<circle cx="633.50" cy="976.72" r="4.30" fill="#8070f2" stroke="#a6a6a6" stroke-width="0.8"/>
<circle cx="630.50" cy="978.81" r="4.30" fill="#8070f2" stroke="#a6a6a6" stroke-width="0.8"/>
<circle cx="635.50" cy="980.91" r="4.30" fill="#8070f2" stroke="#a6a6a6" stroke-width="0.8"/>
<circle cx="632.50" cy="982.48" r="4.30" fill="#8070f2" stroke="#a6a6a6" stroke-width="0.8"/>
<circle cx="627.05" cy="984.05" r="4.30" fill="#8070f2" stroke="#a6a6a6" stroke-width="0.8"/>
<circle cx="638.95" cy="985.10" r="4.30" fill="#8070f2" stroke="#a6a6a6" stroke-width="0.8"/>
<circle cx="630.45" cy="986.14" r="4.30" fill="#8070f2" stroke="#a6a6a6" stroke-width="0.8"/>
<circle cx="635.55" cy="987.19" r="4.30" fill="#8070f2" stroke="#a6a6a6" stroke-width="0.8"/>
<circle cx="625.35" cy="988.24" r="4.30" fill="#8070f2" stroke="#a6a6a6" stroke-width="0.8"/>
<circle cx="640.65" cy="989.29" r="4.30" fill="#8070f2" stroke="#a6a6a6" stroke-width="0.8"/>
<circle cx="628.75" cy="990.33" r="4.30" fill="#8070f2" stroke="#a6a6a6" stroke-width="0.8"/>
<circle cx="633.85" cy="991.38" r="4.30" fill="#8070f2" stroke="#a6a6a6" stroke-width="0.8"/>
<circle cx="623.65" cy="992.43" r="4.30" fill="#8070f2" stroke="#a6a6a6" stroke-width="0.8"/>
<circle cx="638.95" cy="992.95" r="4.30" fill="#8070f2" stroke="#a6a6a6" stroke-width="0.8"/>
<circle cx="630.45" cy="994.00" r="4.30" fill="#8070f2" stroke="#a6a6a6" stroke-width="0.8"/>
<circle cx="635.55" cy="994.52" r="4.30" fill="#8070f2" stroke="#a6a6a6" stroke-width="0.8"/>
<circle cx="625.35" cy="995.57" r="4.30" fill="#8070f2" stroke="#a6a6a6" stroke-width="0.8"/>
<circle cx="642.35" cy="995.57" r="4.30" fill="#8070f2" stroke="#a6a6a6" stroke-width="0.8"/>
<circle cx="621.95" cy="996.62" r="4.30" fill="#8070f2" stroke="#a6a6a6" stroke-width="0.8"/>
<circle cx="628.75" cy="997.14" r="4.30" fill="#8070f2" stroke="#a6a6a6" stroke-width="0.8"/>
<circle cx="633.85" cy="997.66" r="4.30" fill="#8070f2" stroke="#a6a6a6" stroke-width="0.8"/>
<circle cx="638.95" cy="997.66" r="4.30" fill="#8070f2" stroke="#a6a6a6" stroke-width="0.8"/>
<circle cx="644.05" cy="996.62" r="4.30" fill="#8070f2" stroke="#a6a6a6" stroke-width="0.8"/>
<circle cx="620.25" cy="997.14" r="4.30" fill="#8070f2" stroke="#a6a6a6" stroke-width="0.8"/>
<circle cx="627.05" cy="998.19" r="4.30" fill="#8070f2" stroke="#a6a6a6" stroke-width="0.8"/>
<line x1="569.40" y1="978.55" x2="600.90" y2="978.55" stroke="#222" stroke-width="1.3"/>
<line x1="585.10" y1="963.10" x2="585.10" y2="986.14" stroke="#222" stroke-width="1.1"/>
<line x1="577.30" y1="963.10" x2="593.00" y2="963.10" stroke="#222" stroke-width="1.1"/>
<line x1="577.30" y1="986.14" x2="593.00" y2="986.14" stroke="#222" stroke-width="1.1"/>
<line x1="617.50" y1="988.76" x2="649.00" y2="988.76" stroke="#222" stroke-width="1.3"/>
<line x1="633.00" y1="978.81" x2="633.00" y2="990.86" stroke="#222" stroke-width="1.1"/>
<line x1="625.00" y1="978.81" x2="641.00" y2="978.81" stroke="#222" stroke-width="1.1"/>
<line x1="625.00" y1="990.86" x2="641.00" y2="990.86" stroke="#222" stroke-width="1.1"/>
</svg></body></html>
